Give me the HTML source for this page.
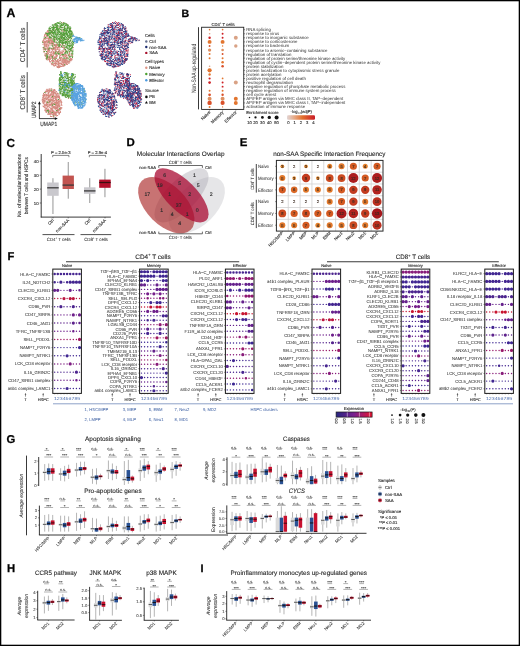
<!DOCTYPE html>
<html><head><meta charset="utf-8"><style>
html,body{margin:0;padding:0;background:#fff;width:520px;height:646px;overflow:hidden}
svg{display:block;will-change:transform;font-family:"Liberation Sans",sans-serif;text-rendering:geometricPrecision}
</style></head><body>
<svg width="520" height="646" viewBox="0 0 520 646">
<rect x="0" y="0" width="520" height="646" fill="#fff"/>
<text x="6.5" y="16.9" font-size="12.29" font-weight="bold" fill="#000" stroke="#000" stroke-width="0.25">A</text>
<path d="M55.3 60.5h1.05v1.05h-1.05zM51.1 60.0h1.05v1.05h-1.05zM46.5 48.5h1.05v1.05h-1.05zM51.3 48.7h1.05v1.05h-1.05zM68.6 54.3h1.05v1.05h-1.05zM48.8 48.1h1.05v1.05h-1.05zM58.9 62.9h1.05v1.05h-1.05zM55.1 57.1h1.05v1.05h-1.05zM45.5 44.0h1.05v1.05h-1.05zM53.9 52.8h1.05v1.05h-1.05zM54.1 62.7h1.05v1.05h-1.05zM42.9 42.0h1.05v1.05h-1.05zM59.8 63.3h1.05v1.05h-1.05zM50.0 40.3h1.05v1.05h-1.05zM52.9 63.3h1.05v1.05h-1.05zM46.3 31.4h1.05v1.05h-1.05zM48.4 43.8h1.05v1.05h-1.05zM53.3 47.8h1.05v1.05h-1.05zM58.6 50.3h1.05v1.05h-1.05zM71.5 59.1h1.05v1.05h-1.05zM54.1 39.5h1.05v1.05h-1.05zM43.7 51.1h1.05v1.05h-1.05zM43.7 37.8h1.05v1.05h-1.05zM56.8 43.7h1.05v1.05h-1.05zM69.8 27.9h1.05v1.05h-1.05zM59.0 27.2h1.05v1.05h-1.05zM71.1 54.1h1.05v1.05h-1.05zM49.4 38.0h1.05v1.05h-1.05zM46.0 57.8h1.05v1.05h-1.05zM59.2 58.2h1.05v1.05h-1.05zM51.9 30.9h1.05v1.05h-1.05zM70.7 59.5h1.05v1.05h-1.05zM48.2 45.4h1.05v1.05h-1.05zM49.3 53.9h1.05v1.05h-1.05zM47.9 31.1h1.05v1.05h-1.05zM47.1 30.0h1.05v1.05h-1.05zM62.5 64.1h1.05v1.05h-1.05zM63.5 59.2h1.05v1.05h-1.05zM67.0 43.4h1.05v1.05h-1.05zM46.4 58.7h1.05v1.05h-1.05zM52.0 59.2h1.05v1.05h-1.05zM52.6 46.9h1.05v1.05h-1.05zM59.0 65.7h1.05v1.05h-1.05zM55.6 62.7h1.05v1.05h-1.05zM49.1 34.4h1.05v1.05h-1.05zM48.7 48.7h1.05v1.05h-1.05zM49.3 40.5h1.05v1.05h-1.05zM52.7 42.4h1.05v1.05h-1.05zM61.0 64.3h1.05v1.05h-1.05zM55.1 65.0h1.05v1.05h-1.05zM58.1 46.1h1.05v1.05h-1.05zM55.8 29.0h1.05v1.05h-1.05zM46.2 43.2h1.05v1.05h-1.05zM51.7 45.4h1.05v1.05h-1.05zM60.0 58.4h1.05v1.05h-1.05zM43.8 47.5h1.05v1.05h-1.05zM60.2 57.2h1.05v1.05h-1.05zM62.1 44.8h1.05v1.05h-1.05zM56.3 46.1h1.05v1.05h-1.05zM57.2 66.1h1.05v1.05h-1.05zM65.2 63.0h1.05v1.05h-1.05zM60.1 66.2h1.05v1.05h-1.05zM44.4 41.7h1.05v1.05h-1.05zM54.3 43.9h1.05v1.05h-1.05zM45.8 41.1h1.05v1.05h-1.05zM47.0 35.6h1.05v1.05h-1.05zM62.5 45.1h1.05v1.05h-1.05zM55.2 64.7h1.05v1.05h-1.05zM60.5 54.3h1.05v1.05h-1.05zM62.8 59.3h1.05v1.05h-1.05zM59.9 65.4h1.05v1.05h-1.05zM46.8 43.3h1.05v1.05h-1.05zM69.5 41.2h1.05v1.05h-1.05zM57.8 60.9h1.05v1.05h-1.05zM54.2 44.8h1.05v1.05h-1.05zM52.3 60.8h1.05v1.05h-1.05zM71.3 52.9h1.05v1.05h-1.05zM50.6 42.5h1.05v1.05h-1.05zM45.7 41.8h1.05v1.05h-1.05zM51.1 37.5h1.05v1.05h-1.05zM57.1 44.6h1.05v1.05h-1.05zM47.2 44.7h1.05v1.05h-1.05zM43.2 39.6h1.05v1.05h-1.05zM67.0 52.2h1.05v1.05h-1.05zM65.8 63.1h1.05v1.05h-1.05zM54.0 36.0h1.05v1.05h-1.05zM66.4 59.8h1.05v1.05h-1.05zM45.0 45.7h1.05v1.05h-1.05zM58.2 60.9h1.05v1.05h-1.05zM69.0 60.5h1.05v1.05h-1.05zM61.0 63.7h1.05v1.05h-1.05zM64.6 54.0h1.05v1.05h-1.05zM44.8 37.7h1.05v1.05h-1.05zM60.1 50.8h1.05v1.05h-1.05zM62.5 53.4h1.05v1.05h-1.05zM58.1 46.2h1.05v1.05h-1.05zM66.3 30.1h1.05v1.05h-1.05zM57.2 53.5h1.05v1.05h-1.05zM64.2 53.9h1.05v1.05h-1.05zM64.3 34.3h1.05v1.05h-1.05zM56.2 33.2h1.05v1.05h-1.05zM47.6 48.5h1.05v1.05h-1.05zM45.1 45.7h1.05v1.05h-1.05zM71.9 54.5h1.05v1.05h-1.05zM51.4 61.2h1.05v1.05h-1.05zM53.0 41.0h1.05v1.05h-1.05zM62.7 64.8h1.05v1.05h-1.05zM50.7 56.2h1.05v1.05h-1.05zM63.6 34.7h1.05v1.05h-1.05zM60.1 39.3h1.05v1.05h-1.05zM57.9 30.8h1.05v1.05h-1.05zM48.6 32.7h1.05v1.05h-1.05zM60.5 63.5h1.05v1.05h-1.05zM54.9 45.7h1.05v1.05h-1.05zM58.1 50.9h1.05v1.05h-1.05zM49.8 32.2h1.05v1.05h-1.05zM54.1 65.4h1.05v1.05h-1.05zM58.8 53.4h1.05v1.05h-1.05zM56.5 47.0h1.05v1.05h-1.05zM58.9 48.6h1.05v1.05h-1.05zM50.9 42.6h1.05v1.05h-1.05zM64.0 65.3h1.05v1.05h-1.05zM52.2 40.6h1.05v1.05h-1.05zM48.0 57.3h1.05v1.05h-1.05zM48.0 40.4h1.05v1.05h-1.05zM45.3 39.3h1.05v1.05h-1.05zM53.5 36.3h1.05v1.05h-1.05zM52.8 60.3h1.05v1.05h-1.05zM69.6 41.2h1.05v1.05h-1.05zM53.4 65.1h1.05v1.05h-1.05zM46.9 37.8h1.05v1.05h-1.05zM54.8 59.8h1.05v1.05h-1.05zM66.9 64.0h1.05v1.05h-1.05zM52.2 33.3h1.05v1.05h-1.05zM49.4 55.1h1.05v1.05h-1.05zM48.4 43.3h1.05v1.05h-1.05zM55.5 44.2h1.05v1.05h-1.05zM68.9 56.2h1.05v1.05h-1.05zM69.6 57.9h1.05v1.05h-1.05zM47.1 56.9h1.05v1.05h-1.05zM43.5 44.4h1.05v1.05h-1.05zM48.4 40.4h1.05v1.05h-1.05zM62.3 53.0h1.05v1.05h-1.05zM66.9 61.5h1.05v1.05h-1.05zM60.4 38.3h1.05v1.05h-1.05zM60.8 36.0h1.05v1.05h-1.05zM69.1 52.0h1.05v1.05h-1.05zM57.1 60.1h1.05v1.05h-1.05zM49.4 58.1h1.05v1.05h-1.05zM61.5 50.4h1.05v1.05h-1.05zM47.8 38.1h1.05v1.05h-1.05zM49.2 49.4h1.05v1.05h-1.05zM51.2 30.0h1.05v1.05h-1.05zM54.2 47.0h1.05v1.05h-1.05zM45.9 54.1h1.05v1.05h-1.05zM55.3 60.2h1.05v1.05h-1.05zM54.6 63.3h1.05v1.05h-1.05zM63.1 64.6h1.05v1.05h-1.05zM43.2 50.5h1.05v1.05h-1.05zM53.4 44.7h1.05v1.05h-1.05zM45.3 33.9h1.05v1.05h-1.05zM58.8 65.3h1.05v1.05h-1.05zM43.9 44.0h1.05v1.05h-1.05zM54.6 61.5h1.05v1.05h-1.05zM69.9 29.0h1.05v1.05h-1.05zM47.9 39.6h1.05v1.05h-1.05zM66.1 64.0h1.05v1.05h-1.05zM61.6 47.0h1.05v1.05h-1.05zM55.1 48.5h1.05v1.05h-1.05zM44.6 41.1h1.05v1.05h-1.05zM43.3 41.7h1.05v1.05h-1.05zM66.4 58.1h1.05v1.05h-1.05zM66.4 59.9h1.05v1.05h-1.05zM57.7 66.9h1.05v1.05h-1.05zM58.1 65.1h1.05v1.05h-1.05zM47.5 32.9h1.05v1.05h-1.05zM64.5 63.9h1.05v1.05h-1.05zM46.1 58.5h1.05v1.05h-1.05zM44.1 46.0h1.05v1.05h-1.05zM60.9 63.2h1.05v1.05h-1.05zM62.7 39.3h1.05v1.05h-1.05zM53.0 57.5h1.05v1.05h-1.05zM61.1 52.5h1.05v1.05h-1.05zM58.5 63.9h1.05v1.05h-1.05zM61.2 30.0h1.05v1.05h-1.05zM43.4 51.3h1.05v1.05h-1.05zM71.4 58.3h1.05v1.05h-1.05zM47.2 49.8h1.05v1.05h-1.05zM58.3 51.4h1.05v1.05h-1.05zM51.1 34.7h1.05v1.05h-1.05zM68.2 55.1h1.05v1.05h-1.05zM66.7 42.2h1.05v1.05h-1.05zM65.0 61.4h1.05v1.05h-1.05zM59.9 41.4h1.05v1.05h-1.05zM49.6 51.5h1.05v1.05h-1.05zM49.4 31.6h1.05v1.05h-1.05zM62.7 53.9h1.05v1.05h-1.05zM56.9 61.1h1.05v1.05h-1.05zM65.1 62.0h1.05v1.05h-1.05zM55.7 55.5h1.05v1.05h-1.05zM47.6 50.5h1.05v1.05h-1.05zM64.9 51.1h1.05v1.05h-1.05zM65.1 56.1h1.05v1.05h-1.05zM53.1 60.1h1.05v1.05h-1.05zM70.5 59.8h1.05v1.05h-1.05zM62.8 60.4h1.05v1.05h-1.05zM51.5 40.8h1.05v1.05h-1.05zM50.2 55.1h1.05v1.05h-1.05zM53.2 35.7h1.05v1.05h-1.05zM52.5 54.5h1.05v1.05h-1.05zM69.5 28.3h1.05v1.05h-1.05zM57.7 59.0h1.05v1.05h-1.05zM46.6 44.2h1.05v1.05h-1.05zM52.5 60.8h1.05v1.05h-1.05zM65.2 44.4h1.05v1.05h-1.05zM44.0 51.2h1.05v1.05h-1.05zM65.1 58.6h1.05v1.05h-1.05zM53.7 63.3h1.05v1.05h-1.05zM48.4 42.6h1.05v1.05h-1.05zM59.1 57.0h1.05v1.05h-1.05zM67.1 51.7h1.05v1.05h-1.05zM63.8 56.4h1.05v1.05h-1.05zM46.1 41.5h1.05v1.05h-1.05zM44.5 42.6h1.05v1.05h-1.05zM65.3 61.3h1.05v1.05h-1.05zM43.7 38.8h1.05v1.05h-1.05zM47.1 51.3h1.05v1.05h-1.05zM65.0 44.5h1.05v1.05h-1.05zM62.8 42.7h1.05v1.05h-1.05zM45.1 49.6h1.05v1.05h-1.05zM54.6 56.3h1.05v1.05h-1.05zM60.7 56.7h1.05v1.05h-1.05zM66.0 63.1h1.05v1.05h-1.05zM67.9 54.3h1.05v1.05h-1.05zM51.3 50.8h1.05v1.05h-1.05zM43.5 40.6h1.05v1.05h-1.05zM68.2 54.9h1.05v1.05h-1.05zM55.2 42.3h1.05v1.05h-1.05zM46.6 52.1h1.05v1.05h-1.05zM45.8 58.3h1.05v1.05h-1.05zM59.5 55.1h1.05v1.05h-1.05zM47.6 53.5h1.05v1.05h-1.05zM54.1 57.4h1.05v1.05h-1.05zM49.9 39.6h1.05v1.05h-1.05zM55.1 54.2h1.05v1.05h-1.05zM48.1 56.3h1.05v1.05h-1.05zM47.9 59.3h1.05v1.05h-1.05zM56.9 47.5h1.05v1.05h-1.05zM52.7 51.3h1.05v1.05h-1.05zM69.5 60.0h1.05v1.05h-1.05zM55.3 29.1h1.05v1.05h-1.05zM50.9 43.5h1.05v1.05h-1.05zM48.4 58.0h1.05v1.05h-1.05zM61.9 58.3h1.05v1.05h-1.05zM64.1 63.8h1.05v1.05h-1.05zM68.4 61.1h1.05v1.05h-1.05zM47.1 53.9h1.05v1.05h-1.05zM55.8 63.3h1.05v1.05h-1.05zM59.4 62.3h1.05v1.05h-1.05zM56.8 47.6h1.05v1.05h-1.05zM64.0 61.2h1.05v1.05h-1.05zM53.5 40.5h1.05v1.05h-1.05zM62.9 51.2h1.05v1.05h-1.05zM58.4 43.7h1.05v1.05h-1.05zM53.2 43.3h1.05v1.05h-1.05zM58.9 57.8h1.05v1.05h-1.05zM47.6 41.3h1.05v1.05h-1.05zM55.2 47.1h1.05v1.05h-1.05zM63.6 58.8h1.05v1.05h-1.05zM50.8 48.7h1.05v1.05h-1.05zM62.9 58.4h1.05v1.05h-1.05zM63.7 58.7h1.05v1.05h-1.05zM62.2 50.7h1.05v1.05h-1.05zM63.6 38.1h1.05v1.05h-1.05zM69.6 58.5h1.05v1.05h-1.05zM50.9 40.7h1.05v1.05h-1.05zM51.5 41.1h1.05v1.05h-1.05zM63.1 65.8h1.05v1.05h-1.05zM61.3 65.9h1.05v1.05h-1.05zM54.8 25.0h1.05v1.05h-1.05zM65.7 61.9h1.05v1.05h-1.05zM62.6 54.8h1.05v1.05h-1.05zM56.6 65.7h1.05v1.05h-1.05zM51.2 55.7h1.05v1.05h-1.05zM53.2 48.2h1.05v1.05h-1.05zM55.8 53.2h1.05v1.05h-1.05zM53.1 51.6h1.05v1.05h-1.05zM62.7 40.5h1.05v1.05h-1.05zM53.9 58.5h1.05v1.05h-1.05zM65.3 60.5h1.05v1.05h-1.05zM52.0 49.7h1.05v1.05h-1.05zM61.6 35.1h1.05v1.05h-1.05zM55.4 63.5h1.05v1.05h-1.05zM53.6 53.6h1.05v1.05h-1.05zM61.7 63.9h1.05v1.05h-1.05zM55.2 48.7h1.05v1.05h-1.05zM70.6 59.5h1.05v1.05h-1.05zM64.6 64.8h1.05v1.05h-1.05zM59.9 59.1h1.05v1.05h-1.05zM47.2 56.8h1.05v1.05h-1.05zM61.8 53.2h1.05v1.05h-1.05zM60.9 63.9h1.05v1.05h-1.05zM57.2 48.9h1.05v1.05h-1.05zM46.5 54.4h1.05v1.05h-1.05zM54.5 45.3h1.05v1.05h-1.05zM60.4 32.8h1.05v1.05h-1.05zM60.1 62.7h1.05v1.05h-1.05zM56.5 66.4h1.05v1.05h-1.05zM49.2 37.2h1.05v1.05h-1.05zM68.3 54.8h1.05v1.05h-1.05zM61.3 57.1h1.05v1.05h-1.05zM43.8 35.9h1.05v1.05h-1.05zM45.0 41.9h1.05v1.05h-1.05zM70.3 50.8h1.05v1.05h-1.05zM69.6 43.4h1.05v1.05h-1.05zM62.6 27.0h1.05v1.05h-1.05zM65.7 47.1h1.05v1.05h-1.05zM49.6 40.2h1.05v1.05h-1.05zM45.6 33.3h1.05v1.05h-1.05zM46.0 44.1h1.05v1.05h-1.05zM51.5 64.3h1.05v1.05h-1.05zM69.1 36.7h1.05v1.05h-1.05zM46.7 41.3h1.05v1.05h-1.05zM62.0 54.7h1.05v1.05h-1.05zM66.4 40.0h1.05v1.05h-1.05zM53.4 49.1h1.05v1.05h-1.05zM56.0 45.3h1.05v1.05h-1.05zM44.3 55.0h1.05v1.05h-1.05zM51.6 54.8h1.05v1.05h-1.05zM53.7 56.8h1.05v1.05h-1.05zM49.0 60.0h1.05v1.05h-1.05zM71.3 55.1h1.05v1.05h-1.05zM57.8 44.5h1.05v1.05h-1.05zM61.3 62.2h1.05v1.05h-1.05zM45.3 48.1h1.05v1.05h-1.05zM69.3 61.5h1.05v1.05h-1.05zM49.0 40.7h1.05v1.05h-1.05zM55.6 44.7h1.05v1.05h-1.05zM63.1 33.0h1.05v1.05h-1.05zM59.5 65.3h1.05v1.05h-1.05zM58.7 41.3h1.05v1.05h-1.05zM51.0 51.7h1.05v1.05h-1.05zM44.3 49.1h1.05v1.05h-1.05zM49.7 42.9h1.05v1.05h-1.05zM59.2 27.3h1.05v1.05h-1.05zM50.6 39.9h1.05v1.05h-1.05zM60.5 51.9h1.05v1.05h-1.05zM56.6 46.9h1.05v1.05h-1.05zM48.0 45.1h1.05v1.05h-1.05zM53.8 48.7h1.05v1.05h-1.05zM60.0 44.1h1.05v1.05h-1.05zM50.6 57.8h1.05v1.05h-1.05zM55.8 56.0h1.05v1.05h-1.05zM45.6 36.5h1.05v1.05h-1.05zM52.7 53.1h1.05v1.05h-1.05zM62.2 61.6h1.05v1.05h-1.05zM66.6 56.4h1.05v1.05h-1.05zM67.6 48.7h1.05v1.05h-1.05zM57.9 67.2h1.05v1.05h-1.05zM60.6 40.5h1.05v1.05h-1.05zM68.2 62.8h1.05v1.05h-1.05zM56.3 42.4h1.05v1.05h-1.05zM54.1 47.2h1.05v1.05h-1.05zM68.3 61.6h1.05v1.05h-1.05zM58.0 41.8h1.05v1.05h-1.05zM46.6 34.9h1.05v1.05h-1.05zM45.2 48.2h1.05v1.05h-1.05zM55.4 64.6h1.05v1.05h-1.05zM60.3 44.4h1.05v1.05h-1.05zM52.9 49.1h1.05v1.05h-1.05zM43.6 38.3h1.05v1.05h-1.05zM54.4 47.5h1.05v1.05h-1.05zM60.7 63.1h1.05v1.05h-1.05zM55.8 50.6h1.05v1.05h-1.05zM59.1 60.0h1.05v1.05h-1.05zM46.1 35.6h1.05v1.05h-1.05zM45.6 34.2h1.05v1.05h-1.05zM58.4 44.7h1.05v1.05h-1.05zM62.7 49.6h1.05v1.05h-1.05zM62.9 22.1h1.05v1.05h-1.05zM54.8 58.6h1.05v1.05h-1.05zM51.0 53.8h1.05v1.05h-1.05zM57.9 47.1h1.05v1.05h-1.05zM49.6 51.7h1.05v1.05h-1.05zM58.8 60.3h1.05v1.05h-1.05zM62.1 59.5h1.05v1.05h-1.05zM67.7 35.8h1.05v1.05h-1.05zM55.8 50.4h1.05v1.05h-1.05zM51.3 64.0h1.05v1.05h-1.05zM57.8 66.5h1.05v1.05h-1.05zM48.7 39.1h1.05v1.05h-1.05zM51.1 62.9h1.05v1.05h-1.05zM57.4 58.8h1.05v1.05h-1.05zM48.8 28.5h1.05v1.05h-1.05zM54.5 23.2h1.05v1.05h-1.05zM52.6 32.0h1.05v1.05h-1.05zM45.6 54.6h1.05v1.05h-1.05zM56.0 61.0h1.05v1.05h-1.05zM52.7 55.4h1.05v1.05h-1.05zM72.4 48.8h1.05v1.05h-1.05zM61.9 30.4h1.05v1.05h-1.05zM58.5 46.6h1.05v1.05h-1.05zM49.7 57.8h1.05v1.05h-1.05zM53.9 52.2h1.05v1.05h-1.05zM60.4 35.2h1.05v1.05h-1.05zM51.6 52.5h1.05v1.05h-1.05zM43.9 47.5h1.05v1.05h-1.05zM53.0 44.5h1.05v1.05h-1.05zM44.5 55.1h1.05v1.05h-1.05zM50.2 39.8h1.05v1.05h-1.05zM44.8 33.5h1.05v1.05h-1.05zM54.9 52.3h1.05v1.05h-1.05zM66.4 54.9h1.05v1.05h-1.05zM50.9 38.7h1.05v1.05h-1.05zM70.0 58.0h1.05v1.05h-1.05zM66.9 60.6h1.05v1.05h-1.05zM66.6 60.7h1.05v1.05h-1.05zM55.4 45.1h1.05v1.05h-1.05zM65.3 59.5h1.05v1.05h-1.05zM48.6 31.8h1.05v1.05h-1.05zM58.6 41.8h1.05v1.05h-1.05zM50.8 63.3h1.05v1.05h-1.05zM45.1 47.6h1.05v1.05h-1.05zM52.0 60.0h1.05v1.05h-1.05zM59.7 57.3h1.05v1.05h-1.05zM46.1 52.7h1.05v1.05h-1.05zM67.6 60.7h1.05v1.05h-1.05zM44.1 34.2h1.05v1.05h-1.05zM47.1 54.4h1.05v1.05h-1.05zM53.1 28.2h1.05v1.05h-1.05zM43.9 44.0h1.05v1.05h-1.05zM62.6 65.8h1.05v1.05h-1.05zM46.7 51.3h1.05v1.05h-1.05zM69.9 56.4h1.05v1.05h-1.05zM53.3 47.0h1.05v1.05h-1.05zM53.3 60.7h1.05v1.05h-1.05zM60.4 50.8h1.05v1.05h-1.05zM69.5 54.6h1.05v1.05h-1.05zM45.7 34.7h1.05v1.05h-1.05zM50.2 52.4h1.05v1.05h-1.05zM52.2 41.5h1.05v1.05h-1.05zM64.0 60.5h1.05v1.05h-1.05zM50.6 41.7h1.05v1.05h-1.05zM51.7 42.6h1.05v1.05h-1.05zM64.4 49.8h1.05v1.05h-1.05zM50.7 48.0h1.05v1.05h-1.05zM52.4 63.4h1.05v1.05h-1.05zM53.4 48.5h1.05v1.05h-1.05zM55.0 46.0h1.05v1.05h-1.05zM57.6 47.1h1.05v1.05h-1.05zM48.2 48.1h1.05v1.05h-1.05zM44.1 45.1h1.05v1.05h-1.05zM55.8 62.3h1.05v1.05h-1.05zM59.8 55.0h1.05v1.05h-1.05zM67.9 26.7h1.05v1.05h-1.05zM48.5 38.2h1.05v1.05h-1.05zM46.0 56.5h1.05v1.05h-1.05zM52.3 57.4h1.05v1.05h-1.05zM64.5 60.5h1.05v1.05h-1.05zM44.4 38.3h1.05v1.05h-1.05zM59.8 59.3h1.05v1.05h-1.05zM47.0 41.9h1.05v1.05h-1.05zM46.7 47.2h1.05v1.05h-1.05zM50.4 53.7h1.05v1.05h-1.05zM64.8 59.6h1.05v1.05h-1.05zM58.1 62.8h1.05v1.05h-1.05zM71.4 49.9h1.05v1.05h-1.05zM61.2 22.1h1.05v1.05h-1.05zM46.1 37.7h1.05v1.05h-1.05zM56.8 48.3h1.05v1.05h-1.05zM49.8 44.5h1.05v1.05h-1.05zM49.4 47.9h1.05v1.05h-1.05zM59.0 66.9h1.05v1.05h-1.05zM60.2 57.8h1.05v1.05h-1.05zM71.4 57.9h1.05v1.05h-1.05zM62.8 51.1h1.05v1.05h-1.05zM68.6 62.8h1.05v1.05h-1.05zM50.9 57.4h1.05v1.05h-1.05zM62.9 37.2h1.05v1.05h-1.05zM52.6 26.6h1.05v1.05h-1.05zM50.9 35.1h1.05v1.05h-1.05zM52.9 57.9h1.05v1.05h-1.05zM55.4 62.5h1.05v1.05h-1.05zM42.4 43.7h1.05v1.05h-1.05zM54.4 29.8h1.05v1.05h-1.05zM61.7 62.3h1.05v1.05h-1.05zM46.8 46.3h1.05v1.05h-1.05zM51.8 56.7h1.05v1.05h-1.05zM52.0 44.2h1.05v1.05h-1.05zM62.1 55.5h1.05v1.05h-1.05zM59.4 48.8h1.05v1.05h-1.05zM60.0 52.2h1.05v1.05h-1.05zM61.7 36.2h1.05v1.05h-1.05zM65.6 57.4h1.05v1.05h-1.05zM58.8 66.1h1.05v1.05h-1.05zM57.1 52.1h1.05v1.05h-1.05zM67.9 37.8h1.05v1.05h-1.05zM62.9 36.9h1.05v1.05h-1.05zM51.7 64.3h1.05v1.05h-1.05zM54.5 62.3h1.05v1.05h-1.05zM54.8 65.0h1.05v1.05h-1.05zM48.1 32.3h1.05v1.05h-1.05zM49.4 41.3h1.05v1.05h-1.05zM47.8 47.9h1.05v1.05h-1.05zM67.1 60.3h1.05v1.05h-1.05zM57.5 63.7h1.05v1.05h-1.05zM60.9 63.3h1.05v1.05h-1.05zM53.0 58.2h1.05v1.05h-1.05zM45.4 56.1h1.05v1.05h-1.05zM65.8 63.2h1.05v1.05h-1.05zM48.4 58.8h1.05v1.05h-1.05zM51.4 63.1h1.05v1.05h-1.05zM44.3 43.9h1.05v1.05h-1.05zM44.9 41.0h1.05v1.05h-1.05zM46.4 53.6h1.05v1.05h-1.05zM45.3 56.2h1.05v1.05h-1.05zM52.7 44.3h1.05v1.05h-1.05zM71.8 55.8h1.05v1.05h-1.05zM54.7 47.3h1.05v1.05h-1.05zM59.6 46.9h1.05v1.05h-1.05zM71.5 55.2h1.05v1.05h-1.05zM61.9 65.4h1.05v1.05h-1.05zM49.2 49.9h1.05v1.05h-1.05zM70.4 58.4h1.05v1.05h-1.05zM63.3 46.9h1.05v1.05h-1.05zM48.4 50.8h1.05v1.05h-1.05zM58.9 50.0h1.05v1.05h-1.05zM62.6 46.6h1.05v1.05h-1.05zM48.0 50.0h1.05v1.05h-1.05zM57.0 55.4h1.05v1.05h-1.05zM58.9 45.8h1.05v1.05h-1.05zM56.6 51.4h1.05v1.05h-1.05zM53.7 60.8h1.05v1.05h-1.05zM45.5 32.3h1.05v1.05h-1.05zM57.2 59.1h1.05v1.05h-1.05zM67.3 27.3h1.05v1.05h-1.05zM47.2 48.0h1.05v1.05h-1.05zM62.9 62.1h1.05v1.05h-1.05zM47.3 40.7h1.05v1.05h-1.05zM68.5 50.3h1.05v1.05h-1.05zM54.7 51.8h1.05v1.05h-1.05zM53.9 48.4h1.05v1.05h-1.05zM53.4 52.6h1.05v1.05h-1.05zM67.2 38.6h1.05v1.05h-1.05zM57.0 63.6h1.05v1.05h-1.05zM55.8 44.1h1.05v1.05h-1.05zM58.4 60.4h1.05v1.05h-1.05zM64.1 56.3h1.05v1.05h-1.05zM67.7 57.7h1.05v1.05h-1.05zM55.0 48.6h1.05v1.05h-1.05zM52.0 45.4h1.05v1.05h-1.05zM51.3 32.5h1.05v1.05h-1.05zM71.2 59.3h1.05v1.05h-1.05zM70.8 32.6h1.05v1.05h-1.05zM59.3 38.3h1.05v1.05h-1.05zM56.7 44.0h1.05v1.05h-1.05zM49.8 59.0h1.05v1.05h-1.05zM50.5 54.8h1.05v1.05h-1.05zM56.4 65.8h1.05v1.05h-1.05zM56.0 63.0h1.05v1.05h-1.05zM42.1 41.3h1.05v1.05h-1.05zM61.5 28.8h1.05v1.05h-1.05zM54.9 52.3h1.05v1.05h-1.05zM53.7 51.4h1.05v1.05h-1.05zM48.0 46.7h1.05v1.05h-1.05zM43.4 42.8h1.05v1.05h-1.05zM57.5 62.3h1.05v1.05h-1.05zM52.0 42.0h1.05v1.05h-1.05zM48.9 56.4h1.05v1.05h-1.05zM46.4 58.6h1.05v1.05h-1.05zM59.9 58.6h1.05v1.05h-1.05zM43.5 51.7h1.05v1.05h-1.05zM44.8 48.3h1.05v1.05h-1.05zM52.7 38.4h1.05v1.05h-1.05zM51.9 61.3h1.05v1.05h-1.05zM57.9 46.3h1.05v1.05h-1.05zM44.2 42.9h1.05v1.05h-1.05zM45.9 46.2h1.05v1.05h-1.05zM47.1 39.8h1.05v1.05h-1.05zM58.1 63.6h1.05v1.05h-1.05zM57.6 58.8h1.05v1.05h-1.05zM60.5 53.8h1.05v1.05h-1.05zM48.3 56.8h1.05v1.05h-1.05zM61.4 58.4h1.05v1.05h-1.05zM48.8 49.4h1.05v1.05h-1.05zM48.8 56.0h1.05v1.05h-1.05zM47.1 30.8h1.05v1.05h-1.05zM67.1 51.2h1.05v1.05h-1.05zM47.2 50.6h1.05v1.05h-1.05zM70.4 58.5h1.05v1.05h-1.05zM70.0 59.3h1.05v1.05h-1.05zM69.7 58.4h1.05v1.05h-1.05zM71.3 34.6h1.05v1.05h-1.05zM49.1 61.1h1.05v1.05h-1.05zM57.7 64.5h1.05v1.05h-1.05zM64.7 54.8h1.05v1.05h-1.05zM54.1 58.4h1.05v1.05h-1.05zM68.6 53.5h1.05v1.05h-1.05zM63.5 61.0h1.05v1.05h-1.05zM52.2 49.1h1.05v1.05h-1.05zM70.1 58.9h1.05v1.05h-1.05zM52.7 61.4h1.05v1.05h-1.05zM65.2 41.7h1.05v1.05h-1.05zM63.8 59.5h1.05v1.05h-1.05zM44.3 53.5h1.05v1.05h-1.05zM46.6 33.3h1.05v1.05h-1.05zM62.0 63.8h1.05v1.05h-1.05zM56.4 59.7h1.05v1.05h-1.05zM49.0 37.3h1.05v1.05h-1.05zM43.6 47.1h1.05v1.05h-1.05zM71.0 45.2h1.05v1.05h-1.05zM53.6 65.5h1.05v1.05h-1.05zM53.0 52.4h1.05v1.05h-1.05zM64.6 47.3h1.05v1.05h-1.05zM56.1 56.8h1.05v1.05h-1.05zM54.1 56.6h1.05v1.05h-1.05zM69.0 53.1h1.05v1.05h-1.05zM65.5 53.9h1.05v1.05h-1.05zM60.7 60.5h1.05v1.05h-1.05zM45.0 45.3h1.05v1.05h-1.05zM50.7 38.8h1.05v1.05h-1.05zM46.7 35.2h1.05v1.05h-1.05zM51.6 41.5h1.05v1.05h-1.05zM54.2 38.9h1.05v1.05h-1.05zM56.2 61.0h1.05v1.05h-1.05zM62.9 58.2h1.05v1.05h-1.05zM60.1 52.9h1.05v1.05h-1.05zM53.1 65.0h1.05v1.05h-1.05zM69.8 47.8h1.05v1.05h-1.05zM49.6 31.9h1.05v1.05h-1.05zM42.5 46.9h1.05v1.05h-1.05zM54.9 59.6h1.05v1.05h-1.05zM44.0 35.0h1.05v1.05h-1.05zM67.9 39.3h1.05v1.05h-1.05zM44.8 36.6h1.05v1.05h-1.05zM42.4 40.2h1.05v1.05h-1.05zM58.1 61.7h1.05v1.05h-1.05zM64.0 48.3h1.05v1.05h-1.05zM54.5 48.1h1.05v1.05h-1.05zM49.9 61.4h1.05v1.05h-1.05zM68.4 61.1h1.05v1.05h-1.05zM45.4 52.9h1.05v1.05h-1.05zM66.7 60.2h1.05v1.05h-1.05zM63.4 63.1h1.05v1.05h-1.05zM44.7 54.5h1.05v1.05h-1.05zM65.3 50.0h1.05v1.05h-1.05zM61.7 60.4h1.05v1.05h-1.05zM45.0 33.5h1.05v1.05h-1.05zM60.0 59.6h1.05v1.05h-1.05zM51.9 47.9h1.05v1.05h-1.05zM47.8 58.9h1.05v1.05h-1.05zM62.7 55.5h1.05v1.05h-1.05zM58.4 48.8h1.05v1.05h-1.05zM57.2 26.6h1.05v1.05h-1.05zM56.3 53.5h1.05v1.05h-1.05zM47.1 54.5h1.05v1.05h-1.05zM60.2 54.4h1.05v1.05h-1.05zM66.0 55.3h1.05v1.05h-1.05zM52.8 64.1h1.05v1.05h-1.05zM45.5 58.1h1.05v1.05h-1.05zM57.1 60.3h1.05v1.05h-1.05zM60.3 44.9h1.05v1.05h-1.05zM47.5 32.3h1.05v1.05h-1.05zM69.2 61.2h1.05v1.05h-1.05zM47.7 48.7h1.05v1.05h-1.05zM69.9 58.5h1.05v1.05h-1.05zM62.5 63.4h1.05v1.05h-1.05zM57.4 51.3h1.05v1.05h-1.05zM47.4 31.9h1.05v1.05h-1.05zM43.7 49.0h1.05v1.05h-1.05zM56.4 48.7h1.05v1.05h-1.05zM62.9 54.6h1.05v1.05h-1.05zM64.2 55.0h1.05v1.05h-1.05zM48.6 51.8h1.05v1.05h-1.05zM48.2 39.2h1.05v1.05h-1.05zM68.4 60.4h1.05v1.05h-1.05zM62.8 56.3h1.05v1.05h-1.05zM47.9 52.9h1.05v1.05h-1.05zM46.7 59.5h1.05v1.05h-1.05zM45.9 45.1h1.05v1.05h-1.05zM60.0 60.2h1.05v1.05h-1.05zM58.1 50.4h1.05v1.05h-1.05zM61.4 59.2h1.05v1.05h-1.05zM69.9 59.8h1.05v1.05h-1.05zM56.5 26.0h1.05v1.05h-1.05zM66.3 61.6h1.05v1.05h-1.05zM64.9 49.3h1.05v1.05h-1.05zM54.7 49.9h1.05v1.05h-1.05zM63.3 64.9h1.05v1.05h-1.05zM66.4 59.0h1.05v1.05h-1.05zM64.5 61.6h1.05v1.05h-1.05zM55.5 63.0h1.05v1.05h-1.05zM55.9 54.6h1.05v1.05h-1.05zM49.1 34.7h1.05v1.05h-1.05zM52.5 35.9h1.05v1.05h-1.05zM43.4 41.7h1.05v1.05h-1.05zM49.0 40.2h1.05v1.05h-1.05zM51.8 57.8h1.05v1.05h-1.05zM51.3 50.7h1.05v1.05h-1.05zM53.2 46.3h1.05v1.05h-1.05zM59.1 51.8h1.05v1.05h-1.05zM59.4 66.0h1.05v1.05h-1.05zM54.7 64.8h1.05v1.05h-1.05zM46.3 41.5h1.05v1.05h-1.05zM64.7 53.8h1.05v1.05h-1.05zM66.9 56.9h1.05v1.05h-1.05zM47.5 32.7h1.05v1.05h-1.05zM61.3 52.1h1.05v1.05h-1.05zM44.1 44.2h1.05v1.05h-1.05zM49.8 57.7h1.05v1.05h-1.05zM50.9 40.0h1.05v1.05h-1.05zM70.8 59.3h1.05v1.05h-1.05zM63.5 47.9h1.05v1.05h-1.05zM53.1 55.4h1.05v1.05h-1.05zM49.1 37.9h1.05v1.05h-1.05zM48.9 59.0h1.05v1.05h-1.05zM50.3 38.7h1.05v1.05h-1.05zM47.0 30.7h1.05v1.05h-1.05zM53.8 37.9h1.05v1.05h-1.05zM63.1 43.1h1.05v1.05h-1.05zM63.9 61.0h1.05v1.05h-1.05zM56.6 54.9h1.05v1.05h-1.05zM53.0 43.0h1.05v1.05h-1.05zM66.3 23.6h1.05v1.05h-1.05zM47.4 52.5h1.05v1.05h-1.05zM63.5 45.2h1.05v1.05h-1.05zM48.4 44.5h1.05v1.05h-1.05zM61.8 51.9h1.05v1.05h-1.05zM48.2 49.3h1.05v1.05h-1.05zM61.0 66.0h1.05v1.05h-1.05zM48.4 43.4h1.05v1.05h-1.05zM58.4 66.5h1.05v1.05h-1.05zM62.4 30.6h1.05v1.05h-1.05zM51.6 39.9h1.05v1.05h-1.05zM52.4 52.8h1.05v1.05h-1.05zM49.3 42.3h1.05v1.05h-1.05zM60.2 54.9h1.05v1.05h-1.05zM58.8 48.5h1.05v1.05h-1.05zM61.1 42.2h1.05v1.05h-1.05zM54.7 63.5h1.05v1.05h-1.05zM63.8 62.2h1.05v1.05h-1.05zM55.1 45.9h1.05v1.05h-1.05zM70.6 59.5h1.05v1.05h-1.05zM48.5 37.9h1.05v1.05h-1.05zM58.9 53.2h1.05v1.05h-1.05zM62.5 43.1h1.05v1.05h-1.05zM64.2 59.2h1.05v1.05h-1.05zM64.4 54.7h1.05v1.05h-1.05zM48.4 41.1h1.05v1.05h-1.05zM54.6 40.6h1.05v1.05h-1.05zM42.8 48.5h1.05v1.05h-1.05zM52.8 54.5h1.05v1.05h-1.05zM67.6 60.9h1.05v1.05h-1.05zM63.1 51.1h1.05v1.05h-1.05zM47.1 57.5h1.05v1.05h-1.05zM50.8 32.5h1.05v1.05h-1.05zM46.2 54.1h1.05v1.05h-1.05zM49.5 54.8h1.05v1.05h-1.05zM51.5 40.5h1.05v1.05h-1.05zM62.5 54.1h1.05v1.05h-1.05zM49.5 58.8h1.05v1.05h-1.05zM43.4 48.7h1.05v1.05h-1.05zM46.9 54.7h1.05v1.05h-1.05zM68.9 58.8h1.05v1.05h-1.05zM63.9 47.7h1.05v1.05h-1.05zM49.3 40.8h1.05v1.05h-1.05zM59.2 55.5h1.05v1.05h-1.05zM63.0 53.9h1.05v1.05h-1.05zM62.1 64.2h1.05v1.05h-1.05zM67.8 60.5h1.05v1.05h-1.05zM51.4 55.3h1.05v1.05h-1.05zM44.3 44.8h1.05v1.05h-1.05zM58.8 37.8h1.05v1.05h-1.05zM64.1 30.9h1.05v1.05h-1.05zM51.5 43.4h1.05v1.05h-1.05zM53.4 41.9h1.05v1.05h-1.05zM56.4 51.2h1.05v1.05h-1.05zM44.6 42.8h1.05v1.05h-1.05zM43.1 39.3h1.05v1.05h-1.05zM45.9 46.1h1.05v1.05h-1.05zM46.3 57.5h1.05v1.05h-1.05zM49.3 56.3h1.05v1.05h-1.05zM57.0 66.9h1.05v1.05h-1.05zM56.7 55.1h1.05v1.05h-1.05zM49.2 43.0h1.05v1.05h-1.05zM55.1 60.3h1.05v1.05h-1.05zM61.8 64.1h1.05v1.05h-1.05zM70.5 60.1h1.05v1.05h-1.05zM49.6 37.9h1.05v1.05h-1.05zM54.8 51.2h1.05v1.05h-1.05zM66.2 57.0h1.05v1.05h-1.05zM64.4 52.0h1.05v1.05h-1.05zM68.2 62.6h1.05v1.05h-1.05zM47.7 36.7h1.05v1.05h-1.05zM56.6 39.7h1.05v1.05h-1.05zM51.2 51.0h1.05v1.05h-1.05zM72.2 43.1h1.05v1.05h-1.05zM51.2 62.8h1.05v1.05h-1.05zM61.1 60.6h1.05v1.05h-1.05zM55.0 63.1h1.05v1.05h-1.05zM55.6 55.2h1.05v1.05h-1.05zM58.9 60.2h1.05v1.05h-1.05zM48.0 56.5h1.05v1.05h-1.05zM55.6 38.6h1.05v1.05h-1.05zM47.3 34.8h1.05v1.05h-1.05zM46.7 46.8h1.05v1.05h-1.05zM58.0 52.8h1.05v1.05h-1.05zM72.8 47.0h1.05v1.05h-1.05zM67.3 62.6h1.05v1.05h-1.05zM58.1 64.0h1.05v1.05h-1.05zM58.4 65.7h1.05v1.05h-1.05zM62.7 59.4h1.05v1.05h-1.05zM55.3 49.5h1.05v1.05h-1.05zM55.1 45.1h1.05v1.05h-1.05zM65.8 56.7h1.05v1.05h-1.05zM61.7 64.3h1.05v1.05h-1.05zM47.3 48.7h1.05v1.05h-1.05zM65.9 56.7h1.05v1.05h-1.05zM65.6 54.8h1.05v1.05h-1.05zM49.8 61.1h1.05v1.05h-1.05zM68.7 53.2h1.05v1.05h-1.05zM45.1 42.5h1.05v1.05h-1.05zM52.1 57.6h1.05v1.05h-1.05zM48.8 29.7h1.05v1.05h-1.05zM45.8 40.1h1.05v1.05h-1.05zM46.6 43.5h1.05v1.05h-1.05zM57.5 66.3h1.05v1.05h-1.05zM55.3 37.2h1.05v1.05h-1.05zM52.8 50.9h1.05v1.05h-1.05zM60.0 52.5h1.05v1.05h-1.05zM45.2 37.9h1.05v1.05h-1.05zM46.5 88.8h1.05v1.05h-1.05zM52.2 96.8h1.05v1.05h-1.05zM47.6 113.9h1.05v1.05h-1.05zM47.8 99.8h1.05v1.05h-1.05zM49.2 91.3h1.05v1.05h-1.05zM55.2 107.9h1.05v1.05h-1.05zM50.3 99.4h1.05v1.05h-1.05zM50.5 113.5h1.05v1.05h-1.05zM48.6 110.2h1.05v1.05h-1.05zM55.5 102.4h1.05v1.05h-1.05zM50.9 92.5h1.05v1.05h-1.05zM44.0 107.3h1.05v1.05h-1.05zM56.0 94.5h1.05v1.05h-1.05zM54.8 90.5h1.05v1.05h-1.05zM54.1 91.7h1.05v1.05h-1.05zM51.7 96.4h1.05v1.05h-1.05zM52.7 90.4h1.05v1.05h-1.05zM51.1 106.3h1.05v1.05h-1.05zM43.1 96.2h1.05v1.05h-1.05zM55.6 104.0h1.05v1.05h-1.05zM54.2 111.7h1.05v1.05h-1.05zM53.1 93.3h1.05v1.05h-1.05zM50.2 113.4h1.05v1.05h-1.05zM53.0 110.9h1.05v1.05h-1.05zM48.4 100.8h1.05v1.05h-1.05zM56.7 94.8h1.05v1.05h-1.05zM59.0 103.2h1.05v1.05h-1.05zM50.1 113.4h1.05v1.05h-1.05zM55.8 103.6h1.05v1.05h-1.05zM54.4 90.0h1.05v1.05h-1.05zM43.7 95.7h1.05v1.05h-1.05zM58.3 95.3h1.05v1.05h-1.05zM56.8 93.5h1.05v1.05h-1.05zM52.7 106.2h1.05v1.05h-1.05zM56.1 101.3h1.05v1.05h-1.05zM58.1 101.0h1.05v1.05h-1.05zM56.0 99.1h1.05v1.05h-1.05zM45.2 93.2h1.05v1.05h-1.05zM51.7 102.5h1.05v1.05h-1.05zM57.1 114.9h1.05v1.05h-1.05zM48.2 92.9h1.05v1.05h-1.05zM55.1 99.4h1.05v1.05h-1.05zM52.1 91.1h1.05v1.05h-1.05zM61.1 101.6h1.05v1.05h-1.05zM44.6 109.8h1.05v1.05h-1.05zM48.1 112.8h1.05v1.05h-1.05zM54.6 101.9h1.05v1.05h-1.05zM48.7 105.1h1.05v1.05h-1.05zM45.0 100.4h1.05v1.05h-1.05zM52.7 105.8h1.05v1.05h-1.05zM54.4 90.1h1.05v1.05h-1.05zM57.9 95.6h1.05v1.05h-1.05zM59.8 112.0h1.05v1.05h-1.05zM55.6 112.9h1.05v1.05h-1.05zM50.0 108.2h1.05v1.05h-1.05zM42.3 99.6h1.05v1.05h-1.05zM51.7 90.9h1.05v1.05h-1.05zM48.9 90.9h1.05v1.05h-1.05zM44.2 105.1h1.05v1.05h-1.05zM44.4 101.7h1.05v1.05h-1.05zM52.4 100.5h1.05v1.05h-1.05zM51.6 113.6h1.05v1.05h-1.05zM57.7 104.8h1.05v1.05h-1.05zM52.4 93.2h1.05v1.05h-1.05zM58.0 96.1h1.05v1.05h-1.05zM56.7 93.5h1.05v1.05h-1.05zM53.2 107.4h1.05v1.05h-1.05zM48.5 101.8h1.05v1.05h-1.05zM55.9 91.1h1.05v1.05h-1.05zM52.7 110.2h1.05v1.05h-1.05zM51.3 94.3h1.05v1.05h-1.05zM46.9 101.2h1.05v1.05h-1.05zM48.5 112.0h1.05v1.05h-1.05zM47.6 89.6h1.05v1.05h-1.05zM56.0 111.8h1.05v1.05h-1.05zM49.0 96.3h1.05v1.05h-1.05zM51.8 100.5h1.05v1.05h-1.05zM50.1 111.4h1.05v1.05h-1.05zM59.1 101.7h1.05v1.05h-1.05zM44.1 99.4h1.05v1.05h-1.05zM60.5 99.5h1.05v1.05h-1.05zM55.2 104.5h1.05v1.05h-1.05zM50.6 105.0h1.05v1.05h-1.05zM45.6 104.4h1.05v1.05h-1.05zM54.4 106.9h1.05v1.05h-1.05zM59.4 101.5h1.05v1.05h-1.05zM43.0 95.9h1.05v1.05h-1.05zM44.7 107.2h1.05v1.05h-1.05zM55.1 107.7h1.05v1.05h-1.05zM47.5 105.7h1.05v1.05h-1.05zM47.7 90.2h1.05v1.05h-1.05zM55.4 95.5h1.05v1.05h-1.05zM58.2 96.1h1.05v1.05h-1.05zM52.6 112.7h1.05v1.05h-1.05zM48.5 91.9h1.05v1.05h-1.05zM49.1 102.5h1.05v1.05h-1.05zM49.5 90.0h1.05v1.05h-1.05zM52.0 95.9h1.05v1.05h-1.05zM50.0 93.5h1.05v1.05h-1.05zM54.9 113.5h1.05v1.05h-1.05zM49.0 110.9h1.05v1.05h-1.05zM46.4 89.6h1.05v1.05h-1.05zM50.1 111.2h1.05v1.05h-1.05zM46.4 91.0h1.05v1.05h-1.05zM51.9 100.0h1.05v1.05h-1.05zM45.5 104.5h1.05v1.05h-1.05zM47.0 105.3h1.05v1.05h-1.05zM46.9 109.6h1.05v1.05h-1.05zM42.9 101.6h1.05v1.05h-1.05zM51.9 90.5h1.05v1.05h-1.05zM58.9 99.8h1.05v1.05h-1.05zM45.8 94.0h1.05v1.05h-1.05zM53.7 114.5h1.05v1.05h-1.05zM56.0 105.4h1.05v1.05h-1.05zM56.6 95.2h1.05v1.05h-1.05zM51.4 92.2h1.05v1.05h-1.05zM50.1 95.3h1.05v1.05h-1.05zM53.5 95.9h1.05v1.05h-1.05zM46.3 107.2h1.05v1.05h-1.05zM51.4 93.6h1.05v1.05h-1.05zM42.6 102.8h1.05v1.05h-1.05zM51.6 109.7h1.05v1.05h-1.05zM48.6 99.6h1.05v1.05h-1.05zM54.1 92.7h1.05v1.05h-1.05zM58.6 104.4h1.05v1.05h-1.05zM44.0 94.6h1.05v1.05h-1.05zM54.2 92.4h1.05v1.05h-1.05zM50.6 109.5h1.05v1.05h-1.05zM42.4 101.7h1.05v1.05h-1.05zM54.9 108.7h1.05v1.05h-1.05zM49.8 98.4h1.05v1.05h-1.05zM56.0 110.4h1.05v1.05h-1.05zM55.0 99.3h1.05v1.05h-1.05zM53.1 103.0h1.05v1.05h-1.05zM57.1 109.6h1.05v1.05h-1.05zM58.1 101.7h1.05v1.05h-1.05zM47.2 98.2h1.05v1.05h-1.05zM58.4 113.8h1.05v1.05h-1.05zM59.4 108.1h1.05v1.05h-1.05zM53.1 93.0h1.05v1.05h-1.05zM47.7 89.4h1.05v1.05h-1.05zM47.6 114.0h1.05v1.05h-1.05zM47.0 94.8h1.05v1.05h-1.05zM50.0 98.5h1.05v1.05h-1.05zM53.4 102.6h1.05v1.05h-1.05zM45.7 95.5h1.05v1.05h-1.05zM58.6 109.0h1.05v1.05h-1.05zM52.6 112.8h1.05v1.05h-1.05zM43.6 103.8h1.05v1.05h-1.05zM46.1 99.2h1.05v1.05h-1.05zM44.4 109.4h1.05v1.05h-1.05zM53.2 111.7h1.05v1.05h-1.05zM54.4 105.8h1.05v1.05h-1.05zM53.0 96.8h1.05v1.05h-1.05zM42.3 97.0h1.05v1.05h-1.05zM54.9 107.9h1.05v1.05h-1.05zM50.2 101.2h1.05v1.05h-1.05zM57.5 96.5h1.05v1.05h-1.05zM58.6 94.2h1.05v1.05h-1.05zM55.7 115.5h1.05v1.05h-1.05zM51.3 97.0h1.05v1.05h-1.05zM50.2 112.2h1.05v1.05h-1.05zM54.5 91.7h1.05v1.05h-1.05zM49.5 114.0h1.05v1.05h-1.05zM57.9 105.3h1.05v1.05h-1.05zM45.5 96.1h1.05v1.05h-1.05zM51.3 99.0h1.05v1.05h-1.05zM54.8 102.7h1.05v1.05h-1.05zM47.4 106.0h1.05v1.05h-1.05zM49.7 113.6h1.05v1.05h-1.05zM59.2 105.3h1.05v1.05h-1.05zM48.8 94.6h1.05v1.05h-1.05zM52.5 98.4h1.05v1.05h-1.05zM51.3 99.3h1.05v1.05h-1.05zM58.4 105.7h1.05v1.05h-1.05zM42.7 105.8h1.05v1.05h-1.05zM60.2 107.9h1.05v1.05h-1.05zM45.7 105.0h1.05v1.05h-1.05zM48.7 95.8h1.05v1.05h-1.05zM57.5 106.3h1.05v1.05h-1.05zM47.6 103.9h1.05v1.05h-1.05zM61.4 104.7h1.05v1.05h-1.05zM61.0 104.7h1.05v1.05h-1.05zM50.6 104.2h1.05v1.05h-1.05zM54.3 101.8h1.05v1.05h-1.05zM54.6 103.6h1.05v1.05h-1.05zM54.9 112.4h1.05v1.05h-1.05zM45.5 98.6h1.05v1.05h-1.05zM45.2 109.3h1.05v1.05h-1.05zM52.2 106.0h1.05v1.05h-1.05zM47.5 105.4h1.05v1.05h-1.05zM51.9 98.7h1.05v1.05h-1.05zM48.0 112.5h1.05v1.05h-1.05zM44.0 104.4h1.05v1.05h-1.05zM49.1 104.1h1.05v1.05h-1.05zM47.6 91.1h1.05v1.05h-1.05zM43.1 96.0h1.05v1.05h-1.05zM56.1 105.2h1.05v1.05h-1.05zM51.7 90.7h1.05v1.05h-1.05zM58.9 113.1h1.05v1.05h-1.05zM57.6 111.5h1.05v1.05h-1.05zM54.6 113.5h1.05v1.05h-1.05zM47.2 108.6h1.05v1.05h-1.05zM55.7 114.0h1.05v1.05h-1.05zM53.0 95.1h1.05v1.05h-1.05zM45.8 103.9h1.05v1.05h-1.05zM56.0 108.2h1.05v1.05h-1.05zM57.6 96.1h1.05v1.05h-1.05zM42.3 95.3h1.05v1.05h-1.05zM57.7 101.4h1.05v1.05h-1.05zM42.4 97.5h1.05v1.05h-1.05zM55.3 114.8h1.05v1.05h-1.05zM45.6 112.0h1.05v1.05h-1.05zM56.4 111.9h1.05v1.05h-1.05zM52.2 109.1h1.05v1.05h-1.05zM42.9 98.7h1.05v1.05h-1.05zM46.7 95.3h1.05v1.05h-1.05zM57.0 93.1h1.05v1.05h-1.05zM47.5 95.3h1.05v1.05h-1.05zM59.9 107.1h1.05v1.05h-1.05zM51.1 98.5h1.05v1.05h-1.05zM50.3 104.7h1.05v1.05h-1.05zM45.9 89.4h1.05v1.05h-1.05zM51.5 111.4h1.05v1.05h-1.05zM43.6 100.3h1.05v1.05h-1.05zM48.8 113.7h1.05v1.05h-1.05zM55.2 96.2h1.05v1.05h-1.05zM51.8 95.5h1.05v1.05h-1.05zM50.3 101.4h1.05v1.05h-1.05zM61.2 107.1h1.05v1.05h-1.05zM60.1 99.6h1.05v1.05h-1.05zM48.6 113.3h1.05v1.05h-1.05zM44.9 110.8h1.05v1.05h-1.05zM50.8 99.6h1.05v1.05h-1.05zM48.6 99.7h1.05v1.05h-1.05zM48.4 89.5h1.05v1.05h-1.05zM53.4 100.8h1.05v1.05h-1.05zM48.1 99.8h1.05v1.05h-1.05zM53.6 103.9h1.05v1.05h-1.05zM49.8 94.3h1.05v1.05h-1.05zM53.0 92.8h1.05v1.05h-1.05zM57.9 100.6h1.05v1.05h-1.05zM52.4 103.6h1.05v1.05h-1.05zM55.4 108.7h1.05v1.05h-1.05zM58.9 96.0h1.05v1.05h-1.05zM55.0 93.4h1.05v1.05h-1.05zM54.4 95.2h1.05v1.05h-1.05zM50.3 93.7h1.05v1.05h-1.05zM58.8 101.0h1.05v1.05h-1.05zM56.5 97.5h1.05v1.05h-1.05zM58.6 105.7h1.05v1.05h-1.05zM55.0 99.0h1.05v1.05h-1.05zM52.9 92.3h1.05v1.05h-1.05zM52.2 107.1h1.05v1.05h-1.05zM42.3 97.0h1.05v1.05h-1.05zM60.0 111.8h1.05v1.05h-1.05zM56.5 96.0h1.05v1.05h-1.05zM45.3 109.2h1.05v1.05h-1.05zM48.0 111.1h1.05v1.05h-1.05zM53.2 112.9h1.05v1.05h-1.05zM52.5 98.8h1.05v1.05h-1.05zM57.7 96.4h1.05v1.05h-1.05zM52.7 110.9h1.05v1.05h-1.05zM57.7 93.2h1.05v1.05h-1.05zM46.0 108.0h1.05v1.05h-1.05zM57.6 107.0h1.05v1.05h-1.05zM50.2 110.2h1.05v1.05h-1.05zM55.4 92.8h1.05v1.05h-1.05zM52.3 105.7h1.05v1.05h-1.05zM56.8 92.5h1.05v1.05h-1.05zM47.1 97.3h1.05v1.05h-1.05zM42.2 97.5h1.05v1.05h-1.05zM56.8 105.1h1.05v1.05h-1.05zM45.8 103.0h1.05v1.05h-1.05zM57.2 109.0h1.05v1.05h-1.05zM52.9 94.4h1.05v1.05h-1.05zM47.4 92.5h1.05v1.05h-1.05zM49.9 115.6h1.05v1.05h-1.05zM48.4 89.9h1.05v1.05h-1.05zM44.1 94.3h1.05v1.05h-1.05zM53.3 100.7h1.05v1.05h-1.05zM47.0 103.4h1.05v1.05h-1.05zM57.8 109.9h1.05v1.05h-1.05zM58.2 104.5h1.05v1.05h-1.05zM50.9 96.9h1.05v1.05h-1.05zM54.0 89.3h1.05v1.05h-1.05zM45.5 103.7h1.05v1.05h-1.05zM59.2 97.6h1.05v1.05h-1.05zM51.5 108.0h1.05v1.05h-1.05zM44.4 106.7h1.05v1.05h-1.05zM44.3 109.5h1.05v1.05h-1.05zM52.1 91.8h1.05v1.05h-1.05zM54.3 114.4h1.05v1.05h-1.05zM57.6 101.5h1.05v1.05h-1.05zM57.8 110.7h1.05v1.05h-1.05zM53.8 89.3h1.05v1.05h-1.05zM58.0 109.9h1.05v1.05h-1.05zM47.3 108.6h1.05v1.05h-1.05zM49.4 110.8h1.05v1.05h-1.05zM48.8 112.5h1.05v1.05h-1.05zM50.8 112.8h1.05v1.05h-1.05zM46.9 104.0h1.05v1.05h-1.05zM55.6 100.0h1.05v1.05h-1.05zM53.7 112.9h1.05v1.05h-1.05zM44.8 90.8h1.05v1.05h-1.05zM60.6 107.9h1.05v1.05h-1.05zM53.4 90.3h1.05v1.05h-1.05zM59.3 110.1h1.05v1.05h-1.05zM51.3 102.2h1.05v1.05h-1.05zM43.3 102.9h1.05v1.05h-1.05zM60.2 99.9h1.05v1.05h-1.05zM46.1 93.9h1.05v1.05h-1.05zM50.6 107.4h1.05v1.05h-1.05zM53.1 115.4h1.05v1.05h-1.05zM51.8 102.9h1.05v1.05h-1.05zM47.2 90.1h1.05v1.05h-1.05zM61.2 102.0h1.05v1.05h-1.05zM60.2 109.0h1.05v1.05h-1.05zM56.8 111.0h1.05v1.05h-1.05zM46.9 110.1h1.05v1.05h-1.05zM44.7 104.3h1.05v1.05h-1.05zM53.7 111.6h1.05v1.05h-1.05zM43.9 97.4h1.05v1.05h-1.05zM59.0 112.6h1.05v1.05h-1.05zM56.6 110.6h1.05v1.05h-1.05zM54.9 111.7h1.05v1.05h-1.05zM61.2 107.4h1.05v1.05h-1.05zM55.1 105.4h1.05v1.05h-1.05zM51.4 111.0h1.05v1.05h-1.05zM53.2 90.3h1.05v1.05h-1.05zM49.8 99.9h1.05v1.05h-1.05zM49.9 104.5h1.05v1.05h-1.05zM48.3 98.9h1.05v1.05h-1.05zM49.8 98.3h1.05v1.05h-1.05zM49.1 100.8h1.05v1.05h-1.05zM53.6 98.1h1.05v1.05h-1.05zM45.5 94.4h1.05v1.05h-1.05zM56.1 112.3h1.05v1.05h-1.05zM50.8 98.8h1.05v1.05h-1.05zM42.6 105.6h1.05v1.05h-1.05zM50.6 90.8h1.05v1.05h-1.05zM55.3 101.6h1.05v1.05h-1.05zM54.2 89.3h1.05v1.05h-1.05zM53.5 99.9h1.05v1.05h-1.05zM45.3 97.3h1.05v1.05h-1.05zM53.2 96.7h1.05v1.05h-1.05zM50.1 112.8h1.05v1.05h-1.05zM44.2 109.8h1.05v1.05h-1.05zM53.9 89.7h1.05v1.05h-1.05zM49.4 106.6h1.05v1.05h-1.05zM54.7 97.3h1.05v1.05h-1.05zM52.9 91.6h1.05v1.05h-1.05zM47.0 106.4h1.05v1.05h-1.05zM60.7 103.0h1.05v1.05h-1.05zM45.9 105.3h1.05v1.05h-1.05zM46.3 111.8h1.05v1.05h-1.05zM43.6 94.6h1.05v1.05h-1.05zM50.1 116.0h1.05v1.05h-1.05zM43.8 92.3h1.05v1.05h-1.05zM43.0 93.1h1.05v1.05h-1.05zM47.6 99.0h1.05v1.05h-1.05zM57.5 99.3h1.05v1.05h-1.05zM50.9 99.1h1.05v1.05h-1.05zM52.1 108.5h1.05v1.05h-1.05zM48.8 95.0h1.05v1.05h-1.05zM48.3 109.1h1.05v1.05h-1.05zM50.6 103.4h1.05v1.05h-1.05zM44.8 91.8h1.05v1.05h-1.05zM47.7 108.5h1.05v1.05h-1.05zM56.3 100.3h1.05v1.05h-1.05zM52.7 96.8h1.05v1.05h-1.05zM45.7 95.6h1.05v1.05h-1.05zM46.4 97.4h1.05v1.05h-1.05zM58.2 112.0h1.05v1.05h-1.05zM56.1 115.2h1.05v1.05h-1.05zM45.9 103.4h1.05v1.05h-1.05zM58.9 105.3h1.05v1.05h-1.05zM49.9 94.0h1.05v1.05h-1.05zM55.0 97.8h1.05v1.05h-1.05zM54.8 108.5h1.05v1.05h-1.05zM46.5 95.0h1.05v1.05h-1.05zM48.0 92.2h1.05v1.05h-1.05zM45.7 91.4h1.05v1.05h-1.05zM54.5 107.7h1.05v1.05h-1.05zM51.7 91.9h1.05v1.05h-1.05zM44.0 94.0h1.05v1.05h-1.05zM51.8 101.7h1.05v1.05h-1.05zM52.7 110.0h1.05v1.05h-1.05zM60.6 101.5h1.05v1.05h-1.05zM43.3 105.9h1.05v1.05h-1.05zM55.8 112.2h1.05v1.05h-1.05zM49.4 91.1h1.05v1.05h-1.05zM55.2 96.5h1.05v1.05h-1.05zM49.3 90.2h1.05v1.05h-1.05zM48.9 104.2h1.05v1.05h-1.05zM52.7 99.3h1.05v1.05h-1.05zM57.6 103.7h1.05v1.05h-1.05zM58.1 104.9h1.05v1.05h-1.05zM42.7 94.4h1.05v1.05h-1.05zM47.4 99.4h1.05v1.05h-1.05zM52.4 89.3h1.05v1.05h-1.05zM56.2 112.3h1.05v1.05h-1.05zM47.3 90.8h1.05v1.05h-1.05zM57.5 108.9h1.05v1.05h-1.05zM48.5 97.3h1.05v1.05h-1.05zM50.6 112.8h1.05v1.05h-1.05zM47.8 96.6h1.05v1.05h-1.05zM51.8 110.6h1.05v1.05h-1.05zM55.9 99.3h1.05v1.05h-1.05zM59.8 111.1h1.05v1.05h-1.05zM52.8 98.0h1.05v1.05h-1.05zM58.4 96.1h1.05v1.05h-1.05zM58.6 103.5h1.05v1.05h-1.05zM52.7 103.8h1.05v1.05h-1.05zM49.4 104.4h1.05v1.05h-1.05zM55.5 107.1h1.05v1.05h-1.05zM58.6 108.9h1.05v1.05h-1.05zM52.2 111.4h1.05v1.05h-1.05zM43.6 103.4h1.05v1.05h-1.05zM49.2 101.8h1.05v1.05h-1.05zM58.0 108.5h1.05v1.05h-1.05zM47.0 110.2h1.05v1.05h-1.05zM51.2 112.3h1.05v1.05h-1.05zM55.7 100.9h1.05v1.05h-1.05zM52.9 112.6h1.05v1.05h-1.05zM56.4 102.2h1.05v1.05h-1.05zM47.8 109.6h1.05v1.05h-1.05zM58.9 98.3h1.05v1.05h-1.05zM47.4 94.6h1.05v1.05h-1.05zM50.3 88.6h1.05v1.05h-1.05zM52.8 100.7h1.05v1.05h-1.05zM47.1 105.9h1.05v1.05h-1.05zM42.8 97.4h1.05v1.05h-1.05zM42.9 99.9h1.05v1.05h-1.05zM55.5 104.5h1.05v1.05h-1.05zM53.7 95.9h1.05v1.05h-1.05zM56.9 108.7h1.05v1.05h-1.05zM56.4 101.5h1.05v1.05h-1.05zM50.7 95.4h1.05v1.05h-1.05zM54.2 92.1h1.05v1.05h-1.05zM51.2 91.8h1.05v1.05h-1.05zM46.2 110.3h1.05v1.05h-1.05zM48.0 105.7h1.05v1.05h-1.05zM47.6 96.1h1.05v1.05h-1.05zM53.6 113.2h1.05v1.05h-1.05zM52.9 97.9h1.05v1.05h-1.05zM53.3 116.8h1.05v1.05h-1.05zM48.4 105.2h1.05v1.05h-1.05zM45.4 109.4h1.05v1.05h-1.05zM56.0 97.5h1.05v1.05h-1.05zM50.6 112.2h1.05v1.05h-1.05zM52.2 95.1h1.05v1.05h-1.05zM56.8 108.1h1.05v1.05h-1.05zM59.4 99.5h1.05v1.05h-1.05zM52.9 114.0h1.05v1.05h-1.05zM53.2 90.8h1.05v1.05h-1.05zM44.3 99.6h1.05v1.05h-1.05zM53.6 100.2h1.05v1.05h-1.05zM57.3 105.8h1.05v1.05h-1.05zM49.9 93.8h1.05v1.05h-1.05zM45.1 100.5h1.05v1.05h-1.05zM47.3 101.7h1.05v1.05h-1.05zM43.7 99.3h1.05v1.05h-1.05zM56.1 96.7h1.05v1.05h-1.05zM55.4 98.2h1.05v1.05h-1.05zM43.0 106.2h1.05v1.05h-1.05zM57.4 101.6h1.05v1.05h-1.05zM50.9 108.6h1.05v1.05h-1.05zM54.0 100.0h1.05v1.05h-1.05zM44.3 101.3h1.05v1.05h-1.05zM52.6 115.6h1.05v1.05h-1.05zM47.6 93.4h1.05v1.05h-1.05zM54.5 110.4h1.05v1.05h-1.05zM45.7 108.8h1.05v1.05h-1.05zM55.0 114.6h1.05v1.05h-1.05zM44.7 97.4h1.05v1.05h-1.05zM47.0 101.7h1.05v1.05h-1.05zM57.1 106.8h1.05v1.05h-1.05zM54.5 92.7h1.05v1.05h-1.05zM59.7 99.6h1.05v1.05h-1.05zM46.0 111.7h1.05v1.05h-1.05zM46.9 106.1h1.05v1.05h-1.05zM52.1 99.9h1.05v1.05h-1.05zM56.9 109.1h1.05v1.05h-1.05zM54.5 96.3h1.05v1.05h-1.05zM47.8 97.5h1.05v1.05h-1.05zM58.6 112.0h1.05v1.05h-1.05zM51.9 93.7h1.05v1.05h-1.05zM57.7 112.5h1.05v1.05h-1.05zM57.3 93.5h1.05v1.05h-1.05zM47.5 97.3h1.05v1.05h-1.05zM50.0 90.2h1.05v1.05h-1.05zM56.1 103.2h1.05v1.05h-1.05zM57.6 97.1h1.05v1.05h-1.05zM49.5 110.6h1.05v1.05h-1.05zM56.2 115.3h1.05v1.05h-1.05zM57.0 104.9h1.05v1.05h-1.05zM49.4 104.7h1.05v1.05h-1.05zM47.2 90.1h1.05v1.05h-1.05zM56.8 106.3h1.05v1.05h-1.05zM44.7 109.8h1.05v1.05h-1.05zM59.0 106.4h1.05v1.05h-1.05zM45.2 104.6h1.05v1.05h-1.05zM49.1 94.9h1.05v1.05h-1.05zM44.0 94.7h1.05v1.05h-1.05zM47.0 103.8h1.05v1.05h-1.05zM51.1 116.0h1.05v1.05h-1.05zM53.3 107.0h1.05v1.05h-1.05zM53.5 111.9h1.05v1.05h-1.05zM45.1 107.7h1.05v1.05h-1.05zM46.0 98.6h1.05v1.05h-1.05zM46.0 94.0h1.05v1.05h-1.05zM47.5 99.7h1.05v1.05h-1.05zM48.3 96.7h1.05v1.05h-1.05zM57.0 102.3h1.05v1.05h-1.05zM60.7 101.1h1.05v1.05h-1.05zM51.5 104.5h1.05v1.05h-1.05zM42.7 96.5h1.05v1.05h-1.05zM54.2 108.2h1.05v1.05h-1.05zM54.5 106.5h1.05v1.05h-1.05zM48.7 88.3h1.05v1.05h-1.05zM44.0 97.4h1.05v1.05h-1.05zM58.8 113.5h1.05v1.05h-1.05zM46.0 104.9h1.05v1.05h-1.05zM55.5 93.7h1.05v1.05h-1.05zM48.8 89.3h1.05v1.05h-1.05zM43.1 95.2h1.05v1.05h-1.05zM54.7 107.0h1.05v1.05h-1.05zM52.1 114.2h1.05v1.05h-1.05zM57.3 92.9h1.05v1.05h-1.05zM52.3 91.6h1.05v1.05h-1.05zM45.6 90.8h1.05v1.05h-1.05zM60.4 107.7h1.05v1.05h-1.05zM53.0 105.8h1.05v1.05h-1.05zM45.5 105.4h1.05v1.05h-1.05zM52.2 97.2h1.05v1.05h-1.05zM49.7 103.8h1.05v1.05h-1.05zM57.7 103.8h1.05v1.05h-1.05zM56.5 107.1h1.05v1.05h-1.05zM57.5 93.1h1.05v1.05h-1.05zM53.1 100.5h1.05v1.05h-1.05zM45.1 109.4h1.05v1.05h-1.05zM51.3 100.1h1.05v1.05h-1.05zM56.3 109.9h1.05v1.05h-1.05zM58.4 94.7h1.05v1.05h-1.05zM55.4 102.4h1.05v1.05h-1.05zM50.8 103.6h1.05v1.05h-1.05zM47.1 89.5h1.05v1.05h-1.05zM51.1 88.3h1.05v1.05h-1.05zM43.9 100.7h1.05v1.05h-1.05zM48.0 102.5h1.05v1.05h-1.05zM52.2 98.8h1.05v1.05h-1.05zM46.5 97.6h1.05v1.05h-1.05zM47.3 110.5h1.05v1.05h-1.05zM51.3 112.3h1.05v1.05h-1.05zM44.7 98.2h1.05v1.05h-1.05zM49.2 98.7h1.05v1.05h-1.05zM54.8 105.6h1.05v1.05h-1.05zM59.0 97.0h1.05v1.05h-1.05zM52.3 105.2h1.05v1.05h-1.05zM48.6 107.2h1.05v1.05h-1.05zM48.5 95.1h1.05v1.05h-1.05zM46.2 102.1h1.05v1.05h-1.05zM41.7 99.7h1.05v1.05h-1.05zM58.0 109.5h1.05v1.05h-1.05zM58.7 101.6h1.05v1.05h-1.05zM60.5 101.8h1.05v1.05h-1.05zM45.9 91.0h1.05v1.05h-1.05zM53.2 114.5h1.05v1.05h-1.05zM43.5 101.8h1.05v1.05h-1.05zM56.6 102.8h1.05v1.05h-1.05zM54.0 114.4h1.05v1.05h-1.05zM43.8 93.9h1.05v1.05h-1.05zM43.2 102.9h1.05v1.05h-1.05zM53.4 101.2h1.05v1.05h-1.05zM50.8 90.6h1.05v1.05h-1.05zM56.5 103.7h1.05v1.05h-1.05zM47.1 113.5h1.05v1.05h-1.05zM48.9 100.8h1.05v1.05h-1.05zM45.9 110.5h1.05v1.05h-1.05zM60.4 100.9h1.05v1.05h-1.05zM42.4 101.1h1.05v1.05h-1.05zM51.9 111.9h1.05v1.05h-1.05zM44.3 95.2h1.05v1.05h-1.05zM54.1 89.1h1.05v1.05h-1.05zM57.3 100.0h1.05v1.05h-1.05zM41.8 98.8h1.05v1.05h-1.05zM51.9 103.8h1.05v1.05h-1.05zM50.3 96.8h1.05v1.05h-1.05zM59.1 108.8h1.05v1.05h-1.05zM57.5 101.6h1.05v1.05h-1.05zM43.0 106.1h1.05v1.05h-1.05zM54.4 114.3h1.05v1.05h-1.05zM60.6 104.6h1.05v1.05h-1.05zM54.0 106.3h1.05v1.05h-1.05zM57.7 103.1h1.05v1.05h-1.05zM58.3 104.0h1.05v1.05h-1.05zM53.4 93.9h1.05v1.05h-1.05zM53.0 114.2h1.05v1.05h-1.05zM48.5 100.3h1.05v1.05h-1.05zM54.7 92.0h1.05v1.05h-1.05zM53.4 96.6h1.05v1.05h-1.05zM50.9 109.5h1.05v1.05h-1.05zM47.2 105.8h1.05v1.05h-1.05zM58.9 101.4h1.05v1.05h-1.05zM54.5 95.5h1.05v1.05h-1.05zM45.9 102.8h1.05v1.05h-1.05zM52.2 93.4h1.05v1.05h-1.05zM57.6 102.5h1.05v1.05h-1.05zM48.2 94.4h1.05v1.05h-1.05zM55.6 97.1h1.05v1.05h-1.05zM50.2 108.5h1.05v1.05h-1.05zM43.7 98.0h1.05v1.05h-1.05zM58.1 108.5h1.05v1.05h-1.05zM53.5 89.4h1.05v1.05h-1.05zM45.0 94.5h1.05v1.05h-1.05zM53.2 116.5h1.05v1.05h-1.05zM52.8 116.3h1.05v1.05h-1.05zM50.8 103.1h1.05v1.05h-1.05zM46.5 101.3h1.05v1.05h-1.05zM44.5 106.6h1.05v1.05h-1.05zM51.7 101.7h1.05v1.05h-1.05zM56.1 105.7h1.05v1.05h-1.05zM55.0 102.5h1.05v1.05h-1.05zM59.2 105.9h1.05v1.05h-1.05zM60.8 104.0h1.05v1.05h-1.05zM54.8 112.6h1.05v1.05h-1.05zM42.0 101.3h1.05v1.05h-1.05zM58.6 97.3h1.05v1.05h-1.05zM53.2 92.0h1.05v1.05h-1.05zM47.6 90.9h1.05v1.05h-1.05zM67.9 98.0h1.05v1.05h-1.05zM64.6 82.2h1.05v1.05h-1.05zM73.2 78.0h1.05v1.05h-1.05zM67.7 77.7h1.05v1.05h-1.05zM71.6 78.0h1.05v1.05h-1.05zM65.4 87.8h1.05v1.05h-1.05zM68.1 77.5h1.05v1.05h-1.05zM60.0 92.2h1.05v1.05h-1.05zM62.2 83.5h1.05v1.05h-1.05zM61.3 83.7h1.05v1.05h-1.05zM62.9 89.2h1.05v1.05h-1.05zM70.3 78.3h1.05v1.05h-1.05zM71.2 88.3h1.05v1.05h-1.05zM66.0 95.2h1.05v1.05h-1.05zM60.6 73.5h1.05v1.05h-1.05zM60.8 82.0h1.05v1.05h-1.05zM72.4 82.4h1.05v1.05h-1.05zM72.2 80.8h1.05v1.05h-1.05zM67.7 81.0h1.05v1.05h-1.05zM71.8 92.3h1.05v1.05h-1.05zM71.9 75.7h1.05v1.05h-1.05zM62.8 76.8h1.05v1.05h-1.05zM62.4 80.6h1.05v1.05h-1.05zM70.7 73.7h1.05v1.05h-1.05zM60.1 83.8h1.05v1.05h-1.05zM65.9 73.9h1.05v1.05h-1.05zM67.6 76.9h1.05v1.05h-1.05zM71.9 97.1h1.05v1.05h-1.05zM62.1 84.1h1.05v1.05h-1.05zM64.5 94.5h1.05v1.05h-1.05zM68.1 88.1h1.05v1.05h-1.05zM59.0 87.5h1.05v1.05h-1.05z" fill="#d58a80"/>
<path d="M51.7 27.4h1.05v1.05h-1.05zM63.4 23.5h1.05v1.05h-1.05zM59.3 37.9h1.05v1.05h-1.05zM60.8 39.4h1.05v1.05h-1.05zM70.9 34.2h1.05v1.05h-1.05zM63.0 38.2h1.05v1.05h-1.05zM59.7 23.1h1.05v1.05h-1.05zM64.5 41.0h1.05v1.05h-1.05zM56.3 34.7h1.05v1.05h-1.05zM66.3 34.1h1.05v1.05h-1.05zM67.5 48.1h1.05v1.05h-1.05zM71.5 35.4h1.05v1.05h-1.05zM65.0 49.1h1.05v1.05h-1.05zM60.9 42.4h1.05v1.05h-1.05zM57.1 52.5h1.05v1.05h-1.05zM69.6 33.9h1.05v1.05h-1.05zM61.2 32.9h1.05v1.05h-1.05zM64.3 22.6h1.05v1.05h-1.05zM62.1 27.3h1.05v1.05h-1.05zM49.1 37.0h1.05v1.05h-1.05zM53.1 26.0h1.05v1.05h-1.05zM52.3 33.0h1.05v1.05h-1.05zM59.6 21.3h1.05v1.05h-1.05zM69.5 56.3h1.05v1.05h-1.05zM70.3 43.5h1.05v1.05h-1.05zM66.1 28.3h1.05v1.05h-1.05zM69.7 30.3h1.05v1.05h-1.05zM66.1 47.3h1.05v1.05h-1.05zM48.9 33.6h1.05v1.05h-1.05zM67.8 44.9h1.05v1.05h-1.05zM72.8 41.7h1.05v1.05h-1.05zM58.4 53.9h1.05v1.05h-1.05zM45.6 55.1h1.05v1.05h-1.05zM63.8 27.0h1.05v1.05h-1.05zM58.6 36.6h1.05v1.05h-1.05zM59.9 41.6h1.05v1.05h-1.05zM49.7 26.3h1.05v1.05h-1.05zM69.5 32.7h1.05v1.05h-1.05zM64.8 40.8h1.05v1.05h-1.05zM56.3 36.6h1.05v1.05h-1.05zM59.0 31.7h1.05v1.05h-1.05zM51.2 34.9h1.05v1.05h-1.05zM67.3 34.2h1.05v1.05h-1.05zM58.0 28.7h1.05v1.05h-1.05zM66.4 47.0h1.05v1.05h-1.05zM65.4 51.2h1.05v1.05h-1.05zM54.6 37.0h1.05v1.05h-1.05zM49.2 28.0h1.05v1.05h-1.05zM50.1 31.9h1.05v1.05h-1.05zM51.0 31.4h1.05v1.05h-1.05zM61.1 45.9h1.05v1.05h-1.05zM66.1 51.5h1.05v1.05h-1.05zM72.1 50.7h1.05v1.05h-1.05zM68.7 56.7h1.05v1.05h-1.05zM63.7 23.2h1.05v1.05h-1.05zM66.5 32.4h1.05v1.05h-1.05zM57.8 38.7h1.05v1.05h-1.05zM67.6 50.2h1.05v1.05h-1.05zM63.1 23.8h1.05v1.05h-1.05zM45.3 32.4h1.05v1.05h-1.05zM66.8 34.9h1.05v1.05h-1.05zM58.6 42.8h1.05v1.05h-1.05zM56.8 25.8h1.05v1.05h-1.05zM69.5 44.9h1.05v1.05h-1.05zM56.2 34.8h1.05v1.05h-1.05zM45.1 36.9h1.05v1.05h-1.05zM72.5 34.2h1.05v1.05h-1.05zM53.4 39.3h1.05v1.05h-1.05zM49.0 33.0h1.05v1.05h-1.05zM58.4 29.3h1.05v1.05h-1.05zM66.4 42.1h1.05v1.05h-1.05zM67.1 51.6h1.05v1.05h-1.05zM57.0 36.8h1.05v1.05h-1.05zM56.2 26.8h1.05v1.05h-1.05zM52.3 24.5h1.05v1.05h-1.05zM67.0 40.2h1.05v1.05h-1.05zM53.6 36.6h1.05v1.05h-1.05zM71.1 30.6h1.05v1.05h-1.05zM54.4 41.8h1.05v1.05h-1.05zM72.2 43.2h1.05v1.05h-1.05zM63.3 57.5h1.05v1.05h-1.05zM63.2 34.9h1.05v1.05h-1.05zM62.9 54.2h1.05v1.05h-1.05zM54.0 31.0h1.05v1.05h-1.05zM71.8 43.3h1.05v1.05h-1.05zM48.5 32.1h1.05v1.05h-1.05zM57.9 53.0h1.05v1.05h-1.05zM55.1 32.6h1.05v1.05h-1.05zM64.6 29.7h1.05v1.05h-1.05zM68.7 56.2h1.05v1.05h-1.05zM58.2 30.1h1.05v1.05h-1.05zM69.5 31.3h1.05v1.05h-1.05zM57.8 29.2h1.05v1.05h-1.05zM63.9 38.6h1.05v1.05h-1.05zM50.1 37.2h1.05v1.05h-1.05zM51.4 33.5h1.05v1.05h-1.05zM53.9 32.3h1.05v1.05h-1.05zM61.9 36.1h1.05v1.05h-1.05zM51.5 37.7h1.05v1.05h-1.05zM65.6 41.9h1.05v1.05h-1.05zM63.9 25.9h1.05v1.05h-1.05zM70.3 34.4h1.05v1.05h-1.05zM66.6 29.8h1.05v1.05h-1.05zM48.9 32.0h1.05v1.05h-1.05zM58.3 31.3h1.05v1.05h-1.05zM71.2 42.0h1.05v1.05h-1.05zM63.5 30.0h1.05v1.05h-1.05zM64.4 29.1h1.05v1.05h-1.05zM68.6 46.9h1.05v1.05h-1.05zM63.0 24.5h1.05v1.05h-1.05zM54.8 33.9h1.05v1.05h-1.05zM51.2 47.8h1.05v1.05h-1.05zM52.9 40.4h1.05v1.05h-1.05zM53.1 29.7h1.05v1.05h-1.05zM66.2 30.0h1.05v1.05h-1.05zM56.6 28.0h1.05v1.05h-1.05zM57.4 22.6h1.05v1.05h-1.05zM72.6 50.4h1.05v1.05h-1.05zM69.7 27.9h1.05v1.05h-1.05zM68.3 30.9h1.05v1.05h-1.05zM58.6 38.8h1.05v1.05h-1.05zM62.6 35.0h1.05v1.05h-1.05zM55.3 52.3h1.05v1.05h-1.05zM56.1 41.5h1.05v1.05h-1.05zM57.6 31.5h1.05v1.05h-1.05zM67.5 58.2h1.05v1.05h-1.05zM56.5 28.8h1.05v1.05h-1.05zM57.0 25.2h1.05v1.05h-1.05zM58.4 22.0h1.05v1.05h-1.05zM62.9 24.0h1.05v1.05h-1.05zM58.4 22.7h1.05v1.05h-1.05zM58.1 38.5h1.05v1.05h-1.05zM67.2 27.8h1.05v1.05h-1.05zM72.3 33.5h1.05v1.05h-1.05zM69.4 27.0h1.05v1.05h-1.05zM58.2 35.6h1.05v1.05h-1.05zM62.9 37.6h1.05v1.05h-1.05zM71.4 47.2h1.05v1.05h-1.05zM68.7 33.0h1.05v1.05h-1.05zM55.9 28.7h1.05v1.05h-1.05zM69.5 32.4h1.05v1.05h-1.05zM62.2 41.2h1.05v1.05h-1.05zM43.8 37.5h1.05v1.05h-1.05zM48.1 48.6h1.05v1.05h-1.05zM62.5 43.3h1.05v1.05h-1.05zM48.8 27.3h1.05v1.05h-1.05zM54.5 32.9h1.05v1.05h-1.05zM60.2 37.2h1.05v1.05h-1.05zM63.2 41.7h1.05v1.05h-1.05zM54.6 31.6h1.05v1.05h-1.05zM69.3 28.6h1.05v1.05h-1.05zM66.8 42.8h1.05v1.05h-1.05zM52.1 56.7h1.05v1.05h-1.05zM65.6 33.0h1.05v1.05h-1.05zM68.4 45.6h1.05v1.05h-1.05zM66.9 36.0h1.05v1.05h-1.05zM71.7 36.1h1.05v1.05h-1.05zM60.5 35.1h1.05v1.05h-1.05zM52.4 27.0h1.05v1.05h-1.05zM62.7 34.1h1.05v1.05h-1.05zM67.3 30.0h1.05v1.05h-1.05zM70.6 50.3h1.05v1.05h-1.05zM55.7 57.9h1.05v1.05h-1.05zM59.4 30.6h1.05v1.05h-1.05zM50.2 30.5h1.05v1.05h-1.05zM62.6 37.4h1.05v1.05h-1.05zM54.4 39.3h1.05v1.05h-1.05zM47.4 32.9h1.05v1.05h-1.05zM72.4 44.6h1.05v1.05h-1.05zM52.5 36.0h1.05v1.05h-1.05zM67.8 48.4h1.05v1.05h-1.05zM71.9 31.7h1.05v1.05h-1.05zM46.9 34.8h1.05v1.05h-1.05zM48.9 36.0h1.05v1.05h-1.05zM58.8 27.9h1.05v1.05h-1.05zM51.8 29.3h1.05v1.05h-1.05zM66.4 41.3h1.05v1.05h-1.05zM54.4 58.8h1.05v1.05h-1.05zM72.7 41.1h1.05v1.05h-1.05zM55.2 31.2h1.05v1.05h-1.05zM70.7 53.3h1.05v1.05h-1.05zM63.1 42.2h1.05v1.05h-1.05zM62.7 32.3h1.05v1.05h-1.05zM62.4 40.1h1.05v1.05h-1.05zM68.0 39.0h1.05v1.05h-1.05zM43.6 48.2h1.05v1.05h-1.05zM58.4 51.3h1.05v1.05h-1.05zM69.8 45.6h1.05v1.05h-1.05zM52.7 33.0h1.05v1.05h-1.05zM54.1 30.4h1.05v1.05h-1.05zM69.1 51.1h1.05v1.05h-1.05zM56.9 34.4h1.05v1.05h-1.05zM59.7 26.1h1.05v1.05h-1.05zM70.0 37.4h1.05v1.05h-1.05zM70.6 33.1h1.05v1.05h-1.05zM53.5 32.4h1.05v1.05h-1.05zM50.1 32.0h1.05v1.05h-1.05zM55.4 51.2h1.05v1.05h-1.05zM63.7 37.8h1.05v1.05h-1.05zM63.6 32.3h1.05v1.05h-1.05zM52.5 27.5h1.05v1.05h-1.05zM59.1 56.4h1.05v1.05h-1.05zM60.0 33.0h1.05v1.05h-1.05zM57.8 22.9h1.05v1.05h-1.05zM56.8 27.1h1.05v1.05h-1.05zM57.7 44.4h1.05v1.05h-1.05zM65.9 50.6h1.05v1.05h-1.05zM52.2 62.2h1.05v1.05h-1.05zM69.8 34.4h1.05v1.05h-1.05zM69.8 39.8h1.05v1.05h-1.05zM58.1 33.3h1.05v1.05h-1.05zM51.9 35.5h1.05v1.05h-1.05zM71.9 46.7h1.05v1.05h-1.05zM65.1 49.2h1.05v1.05h-1.05zM64.5 30.4h1.05v1.05h-1.05zM64.0 42.4h1.05v1.05h-1.05zM67.5 25.0h1.05v1.05h-1.05zM60.2 32.6h1.05v1.05h-1.05zM69.2 48.2h1.05v1.05h-1.05zM73.1 41.9h1.05v1.05h-1.05zM63.2 30.4h1.05v1.05h-1.05zM65.9 31.9h1.05v1.05h-1.05zM66.4 29.2h1.05v1.05h-1.05zM66.3 24.1h1.05v1.05h-1.05zM57.5 22.9h1.05v1.05h-1.05zM60.4 34.3h1.05v1.05h-1.05zM69.1 33.9h1.05v1.05h-1.05zM60.6 33.4h1.05v1.05h-1.05zM52.5 24.2h1.05v1.05h-1.05zM56.8 30.1h1.05v1.05h-1.05zM49.2 56.8h1.05v1.05h-1.05zM68.5 42.5h1.05v1.05h-1.05zM67.8 31.4h1.05v1.05h-1.05zM71.9 45.6h1.05v1.05h-1.05zM53.1 47.7h1.05v1.05h-1.05zM43.8 51.0h1.05v1.05h-1.05zM68.3 27.7h1.05v1.05h-1.05zM61.5 36.9h1.05v1.05h-1.05zM71.2 43.8h1.05v1.05h-1.05zM68.1 40.9h1.05v1.05h-1.05zM61.5 39.5h1.05v1.05h-1.05zM49.3 47.7h1.05v1.05h-1.05zM64.1 39.3h1.05v1.05h-1.05zM56.1 27.8h1.05v1.05h-1.05zM64.4 34.6h1.05v1.05h-1.05zM57.3 28.3h1.05v1.05h-1.05zM65.8 29.6h1.05v1.05h-1.05zM56.3 36.6h1.05v1.05h-1.05zM70.2 36.4h1.05v1.05h-1.05zM64.1 30.3h1.05v1.05h-1.05zM57.2 34.0h1.05v1.05h-1.05zM49.3 29.9h1.05v1.05h-1.05zM66.2 34.4h1.05v1.05h-1.05zM70.0 45.8h1.05v1.05h-1.05zM60.6 26.8h1.05v1.05h-1.05zM46.5 57.8h1.05v1.05h-1.05zM65.6 29.6h1.05v1.05h-1.05zM61.9 44.3h1.05v1.05h-1.05zM49.9 30.1h1.05v1.05h-1.05zM69.2 48.6h1.05v1.05h-1.05zM69.2 36.4h1.05v1.05h-1.05zM72.8 43.4h1.05v1.05h-1.05zM71.4 33.0h1.05v1.05h-1.05zM53.2 28.0h1.05v1.05h-1.05zM58.5 46.0h1.05v1.05h-1.05zM65.2 29.6h1.05v1.05h-1.05zM60.8 45.6h1.05v1.05h-1.05zM65.3 25.0h1.05v1.05h-1.05zM54.6 26.7h1.05v1.05h-1.05zM66.9 28.1h1.05v1.05h-1.05zM54.0 40.6h1.05v1.05h-1.05zM70.2 45.8h1.05v1.05h-1.05zM68.0 36.6h1.05v1.05h-1.05zM48.7 36.4h1.05v1.05h-1.05zM62.8 37.9h1.05v1.05h-1.05zM59.1 23.4h1.05v1.05h-1.05zM64.4 33.4h1.05v1.05h-1.05zM62.4 32.3h1.05v1.05h-1.05zM50.4 31.9h1.05v1.05h-1.05zM43.2 46.8h1.05v1.05h-1.05zM70.2 49.9h1.05v1.05h-1.05zM47.2 54.8h1.05v1.05h-1.05zM62.1 43.0h1.05v1.05h-1.05zM51.2 31.9h1.05v1.05h-1.05zM71.0 31.7h1.05v1.05h-1.05zM71.4 41.6h1.05v1.05h-1.05zM69.6 45.4h1.05v1.05h-1.05zM67.3 43.3h1.05v1.05h-1.05zM68.3 54.7h1.05v1.05h-1.05zM61.9 38.6h1.05v1.05h-1.05zM66.0 34.4h1.05v1.05h-1.05zM53.8 35.8h1.05v1.05h-1.05zM60.9 24.3h1.05v1.05h-1.05zM58.6 45.3h1.05v1.05h-1.05zM64.7 39.1h1.05v1.05h-1.05zM64.4 45.7h1.05v1.05h-1.05zM58.5 25.4h1.05v1.05h-1.05zM72.2 53.8h1.05v1.05h-1.05zM72.0 40.6h1.05v1.05h-1.05zM70.3 48.7h1.05v1.05h-1.05zM64.1 29.6h1.05v1.05h-1.05zM60.7 40.1h1.05v1.05h-1.05zM67.3 25.2h1.05v1.05h-1.05zM65.8 37.3h1.05v1.05h-1.05zM46.1 33.1h1.05v1.05h-1.05zM61.0 37.1h1.05v1.05h-1.05zM56.2 38.9h1.05v1.05h-1.05zM69.4 34.9h1.05v1.05h-1.05zM65.9 30.8h1.05v1.05h-1.05zM52.9 29.1h1.05v1.05h-1.05zM60.2 25.6h1.05v1.05h-1.05zM59.2 38.9h1.05v1.05h-1.05zM46.9 33.9h1.05v1.05h-1.05zM63.9 36.7h1.05v1.05h-1.05zM69.0 27.8h1.05v1.05h-1.05zM58.2 31.1h1.05v1.05h-1.05zM56.3 26.4h1.05v1.05h-1.05zM65.4 32.8h1.05v1.05h-1.05zM53.2 32.1h1.05v1.05h-1.05zM54.0 24.2h1.05v1.05h-1.05zM51.2 31.1h1.05v1.05h-1.05zM63.9 37.2h1.05v1.05h-1.05zM65.2 32.2h1.05v1.05h-1.05zM70.5 37.3h1.05v1.05h-1.05zM62.6 28.9h1.05v1.05h-1.05zM63.0 28.8h1.05v1.05h-1.05zM70.2 47.9h1.05v1.05h-1.05zM65.8 32.5h1.05v1.05h-1.05zM55.7 53.5h1.05v1.05h-1.05zM70.7 49.8h1.05v1.05h-1.05zM67.0 24.2h1.05v1.05h-1.05zM65.0 39.3h1.05v1.05h-1.05zM62.6 42.2h1.05v1.05h-1.05zM49.4 46.8h1.05v1.05h-1.05zM59.6 32.2h1.05v1.05h-1.05zM54.8 29.9h1.05v1.05h-1.05zM51.2 26.7h1.05v1.05h-1.05zM65.5 52.8h1.05v1.05h-1.05zM61.6 42.6h1.05v1.05h-1.05zM53.0 30.1h1.05v1.05h-1.05zM56.1 25.5h1.05v1.05h-1.05zM51.7 43.0h1.05v1.05h-1.05zM55.6 29.3h1.05v1.05h-1.05zM63.5 32.3h1.05v1.05h-1.05zM70.2 34.5h1.05v1.05h-1.05zM46.1 58.4h1.05v1.05h-1.05zM51.8 29.0h1.05v1.05h-1.05zM69.7 35.7h1.05v1.05h-1.05zM57.8 44.5h1.05v1.05h-1.05zM60.9 23.9h1.05v1.05h-1.05zM64.8 28.0h1.05v1.05h-1.05zM55.8 29.3h1.05v1.05h-1.05zM68.3 40.8h1.05v1.05h-1.05zM58.5 40.6h1.05v1.05h-1.05zM60.3 37.1h1.05v1.05h-1.05zM63.3 34.7h1.05v1.05h-1.05zM64.4 41.9h1.05v1.05h-1.05zM60.3 39.4h1.05v1.05h-1.05zM72.0 46.9h1.05v1.05h-1.05zM59.1 32.3h1.05v1.05h-1.05zM61.2 23.9h1.05v1.05h-1.05zM54.7 23.6h1.05v1.05h-1.05zM67.2 25.6h1.05v1.05h-1.05zM54.1 28.4h1.05v1.05h-1.05zM47.7 34.7h1.05v1.05h-1.05zM65.5 40.9h1.05v1.05h-1.05zM72.0 50.4h1.05v1.05h-1.05zM71.4 47.6h1.05v1.05h-1.05zM61.7 24.9h1.05v1.05h-1.05zM64.3 32.5h1.05v1.05h-1.05zM70.2 48.5h1.05v1.05h-1.05zM53.7 27.1h1.05v1.05h-1.05zM71.5 46.4h1.05v1.05h-1.05zM52.3 27.4h1.05v1.05h-1.05zM64.5 39.2h1.05v1.05h-1.05zM57.1 27.8h1.05v1.05h-1.05zM70.4 39.3h1.05v1.05h-1.05zM54.0 37.3h1.05v1.05h-1.05zM64.2 33.4h1.05v1.05h-1.05zM53.1 33.8h1.05v1.05h-1.05zM66.6 44.9h1.05v1.05h-1.05zM59.8 39.9h1.05v1.05h-1.05zM57.3 38.0h1.05v1.05h-1.05zM48.8 31.5h1.05v1.05h-1.05zM56.3 41.8h1.05v1.05h-1.05zM60.5 34.8h1.05v1.05h-1.05zM66.2 47.0h1.05v1.05h-1.05zM72.4 33.5h1.05v1.05h-1.05zM45.9 33.1h1.05v1.05h-1.05zM65.4 30.7h1.05v1.05h-1.05zM63.3 29.6h1.05v1.05h-1.05zM61.6 23.9h1.05v1.05h-1.05zM52.3 26.7h1.05v1.05h-1.05zM71.5 51.4h1.05v1.05h-1.05zM63.4 39.9h1.05v1.05h-1.05zM64.4 36.6h1.05v1.05h-1.05zM61.5 32.6h1.05v1.05h-1.05zM51.8 24.6h1.05v1.05h-1.05zM67.6 24.4h1.05v1.05h-1.05zM69.3 40.7h1.05v1.05h-1.05zM66.7 32.6h1.05v1.05h-1.05zM67.9 35.2h1.05v1.05h-1.05zM56.3 33.6h1.05v1.05h-1.05zM67.2 24.4h1.05v1.05h-1.05zM60.0 28.9h1.05v1.05h-1.05zM68.0 31.9h1.05v1.05h-1.05zM68.8 42.5h1.05v1.05h-1.05zM48.3 30.0h1.05v1.05h-1.05zM67.3 51.5h1.05v1.05h-1.05zM71.3 33.1h1.05v1.05h-1.05zM50.2 36.2h1.05v1.05h-1.05zM45.8 53.5h1.05v1.05h-1.05zM61.5 42.2h1.05v1.05h-1.05zM64.6 24.4h1.05v1.05h-1.05zM58.2 31.3h1.05v1.05h-1.05zM55.5 25.1h1.05v1.05h-1.05zM58.0 25.5h1.05v1.05h-1.05zM49.8 28.7h1.05v1.05h-1.05zM64.8 52.0h1.05v1.05h-1.05zM54.4 35.6h1.05v1.05h-1.05zM53.9 38.9h1.05v1.05h-1.05zM54.8 27.0h1.05v1.05h-1.05zM53.6 31.8h1.05v1.05h-1.05zM65.0 35.9h1.05v1.05h-1.05zM70.7 45.0h1.05v1.05h-1.05zM66.8 38.6h1.05v1.05h-1.05zM65.6 39.3h1.05v1.05h-1.05zM64.4 35.8h1.05v1.05h-1.05zM58.8 43.4h1.05v1.05h-1.05zM69.3 31.7h1.05v1.05h-1.05zM69.4 26.0h1.05v1.05h-1.05zM43.7 37.5h1.05v1.05h-1.05zM68.9 45.5h1.05v1.05h-1.05zM56.3 24.3h1.05v1.05h-1.05zM65.0 42.0h1.05v1.05h-1.05zM64.5 38.0h1.05v1.05h-1.05zM58.7 31.6h1.05v1.05h-1.05zM53.3 36.7h1.05v1.05h-1.05zM65.9 33.5h1.05v1.05h-1.05zM51.7 31.8h1.05v1.05h-1.05zM55.9 38.0h1.05v1.05h-1.05zM65.7 34.5h1.05v1.05h-1.05zM69.2 37.3h1.05v1.05h-1.05zM58.9 44.3h1.05v1.05h-1.05zM56.7 42.6h1.05v1.05h-1.05zM70.2 40.3h1.05v1.05h-1.05zM64.5 47.1h1.05v1.05h-1.05zM67.1 47.7h1.05v1.05h-1.05zM65.6 43.7h1.05v1.05h-1.05zM49.9 32.9h1.05v1.05h-1.05zM70.9 47.2h1.05v1.05h-1.05zM58.4 40.6h1.05v1.05h-1.05zM61.0 37.9h1.05v1.05h-1.05zM68.9 29.8h1.05v1.05h-1.05zM59.2 40.0h1.05v1.05h-1.05zM60.3 35.9h1.05v1.05h-1.05zM68.9 49.0h1.05v1.05h-1.05zM63.0 22.4h1.05v1.05h-1.05zM68.8 44.4h1.05v1.05h-1.05zM64.3 53.1h1.05v1.05h-1.05zM50.6 30.3h1.05v1.05h-1.05zM64.7 27.6h1.05v1.05h-1.05zM50.6 31.4h1.05v1.05h-1.05zM61.0 35.6h1.05v1.05h-1.05zM60.2 27.5h1.05v1.05h-1.05zM70.3 27.4h1.05v1.05h-1.05zM66.2 41.1h1.05v1.05h-1.05zM64.4 25.6h1.05v1.05h-1.05zM50.5 37.0h1.05v1.05h-1.05zM67.0 44.3h1.05v1.05h-1.05zM61.5 46.5h1.05v1.05h-1.05zM70.4 31.1h1.05v1.05h-1.05zM63.6 22.5h1.05v1.05h-1.05zM60.1 24.7h1.05v1.05h-1.05zM61.4 42.6h1.05v1.05h-1.05zM63.9 28.0h1.05v1.05h-1.05zM71.4 43.5h1.05v1.05h-1.05zM58.2 38.0h1.05v1.05h-1.05zM45.5 32.9h1.05v1.05h-1.05zM58.7 34.3h1.05v1.05h-1.05zM60.8 31.5h1.05v1.05h-1.05zM65.6 23.0h1.05v1.05h-1.05zM62.3 53.9h1.05v1.05h-1.05zM69.3 36.8h1.05v1.05h-1.05zM69.2 42.6h1.05v1.05h-1.05zM54.7 24.3h1.05v1.05h-1.05zM64.4 27.4h1.05v1.05h-1.05zM52.4 26.9h1.05v1.05h-1.05zM57.3 44.4h1.05v1.05h-1.05zM52.6 27.9h1.05v1.05h-1.05zM66.8 26.6h1.05v1.05h-1.05zM61.3 41.3h1.05v1.05h-1.05zM48.4 29.7h1.05v1.05h-1.05zM56.5 31.6h1.05v1.05h-1.05zM54.6 24.3h1.05v1.05h-1.05zM69.2 40.5h1.05v1.05h-1.05zM61.8 42.4h1.05v1.05h-1.05zM52.1 30.5h1.05v1.05h-1.05zM62.3 34.3h1.05v1.05h-1.05zM54.2 44.5h1.05v1.05h-1.05zM69.9 27.9h1.05v1.05h-1.05zM72.2 52.6h1.05v1.05h-1.05zM62.7 38.4h1.05v1.05h-1.05zM58.8 53.2h1.05v1.05h-1.05zM72.7 44.4h1.05v1.05h-1.05zM72.1 55.7h1.05v1.05h-1.05zM51.7 26.7h1.05v1.05h-1.05zM45.2 48.8h1.05v1.05h-1.05zM60.8 22.3h1.05v1.05h-1.05zM63.1 33.8h1.05v1.05h-1.05zM67.4 34.3h1.05v1.05h-1.05zM59.6 40.6h1.05v1.05h-1.05zM50.0 27.9h1.05v1.05h-1.05zM68.6 37.0h1.05v1.05h-1.05zM66.6 28.4h1.05v1.05h-1.05zM51.3 27.5h1.05v1.05h-1.05zM67.3 43.0h1.05v1.05h-1.05zM67.1 33.5h1.05v1.05h-1.05zM59.1 34.1h1.05v1.05h-1.05zM62.7 32.7h1.05v1.05h-1.05zM67.1 53.2h1.05v1.05h-1.05zM62.8 53.9h1.05v1.05h-1.05zM52.3 39.2h1.05v1.05h-1.05zM69.0 37.1h1.05v1.05h-1.05zM59.1 45.5h1.05v1.05h-1.05zM64.1 64.2h1.05v1.05h-1.05zM67.1 44.5h1.05v1.05h-1.05zM49.8 30.4h1.05v1.05h-1.05zM68.9 37.6h1.05v1.05h-1.05zM65.2 23.5h1.05v1.05h-1.05zM70.2 35.9h1.05v1.05h-1.05zM42.1 41.8h1.05v1.05h-1.05zM62.7 36.7h1.05v1.05h-1.05zM69.1 46.3h1.05v1.05h-1.05zM55.3 23.1h1.05v1.05h-1.05zM61.1 39.6h1.05v1.05h-1.05zM65.5 42.3h1.05v1.05h-1.05zM52.3 29.3h1.05v1.05h-1.05zM54.5 33.8h1.05v1.05h-1.05zM47.0 56.1h1.05v1.05h-1.05zM58.6 41.5h1.05v1.05h-1.05zM47.1 33.0h1.05v1.05h-1.05zM66.0 50.9h1.05v1.05h-1.05zM49.5 37.4h1.05v1.05h-1.05zM45.9 51.0h1.05v1.05h-1.05zM69.0 42.3h1.05v1.05h-1.05zM66.4 38.8h1.05v1.05h-1.05zM56.7 22.1h1.05v1.05h-1.05zM72.0 46.2h1.05v1.05h-1.05zM72.6 38.7h1.05v1.05h-1.05zM55.8 23.3h1.05v1.05h-1.05zM56.9 39.6h1.05v1.05h-1.05zM64.9 43.1h1.05v1.05h-1.05zM61.6 23.1h1.05v1.05h-1.05zM67.3 25.1h1.05v1.05h-1.05zM59.6 34.3h1.05v1.05h-1.05zM63.4 30.1h1.05v1.05h-1.05zM55.4 25.4h1.05v1.05h-1.05zM52.7 24.6h1.05v1.05h-1.05zM53.2 34.8h1.05v1.05h-1.05zM67.4 27.2h1.05v1.05h-1.05zM58.7 42.3h1.05v1.05h-1.05zM67.1 33.4h1.05v1.05h-1.05zM68.6 46.1h1.05v1.05h-1.05zM48.9 32.6h1.05v1.05h-1.05zM61.5 54.1h1.05v1.05h-1.05zM53.0 27.0h1.05v1.05h-1.05zM64.8 41.8h1.05v1.05h-1.05zM66.2 24.6h1.05v1.05h-1.05zM69.8 31.1h1.05v1.05h-1.05zM64.1 33.6h1.05v1.05h-1.05zM63.7 48.8h1.05v1.05h-1.05zM63.8 28.8h1.05v1.05h-1.05zM58.8 25.5h1.05v1.05h-1.05zM67.5 31.0h1.05v1.05h-1.05zM55.8 25.7h1.05v1.05h-1.05zM57.3 28.5h1.05v1.05h-1.05zM48.3 41.6h1.05v1.05h-1.05zM66.8 47.6h1.05v1.05h-1.05zM48.6 28.4h1.05v1.05h-1.05zM71.1 30.4h1.05v1.05h-1.05zM56.3 35.6h1.05v1.05h-1.05zM53.0 25.9h1.05v1.05h-1.05zM66.7 46.3h1.05v1.05h-1.05zM70.9 38.0h1.05v1.05h-1.05zM55.8 26.9h1.05v1.05h-1.05zM46.9 56.7h1.05v1.05h-1.05zM54.5 53.3h1.05v1.05h-1.05zM70.0 29.9h1.05v1.05h-1.05zM48.4 28.2h1.05v1.05h-1.05zM50.4 34.2h1.05v1.05h-1.05zM63.5 45.1h1.05v1.05h-1.05zM63.7 48.7h1.05v1.05h-1.05zM60.5 28.9h1.05v1.05h-1.05zM64.9 32.5h1.05v1.05h-1.05zM63.3 28.8h1.05v1.05h-1.05zM66.5 37.6h1.05v1.05h-1.05zM63.9 57.6h1.05v1.05h-1.05zM47.7 33.0h1.05v1.05h-1.05zM55.7 28.6h1.05v1.05h-1.05zM64.3 27.9h1.05v1.05h-1.05zM69.6 49.5h1.05v1.05h-1.05zM61.2 29.7h1.05v1.05h-1.05zM66.1 33.3h1.05v1.05h-1.05zM52.1 45.6h1.05v1.05h-1.05zM57.2 32.7h1.05v1.05h-1.05zM66.2 36.7h1.05v1.05h-1.05zM57.7 29.2h1.05v1.05h-1.05zM64.9 38.9h1.05v1.05h-1.05zM65.8 31.2h1.05v1.05h-1.05zM68.7 59.3h1.05v1.05h-1.05zM61.0 25.3h1.05v1.05h-1.05zM62.8 31.8h1.05v1.05h-1.05zM48.0 34.2h1.05v1.05h-1.05zM47.4 35.2h1.05v1.05h-1.05zM63.9 32.8h1.05v1.05h-1.05zM68.6 35.2h1.05v1.05h-1.05zM58.5 27.4h1.05v1.05h-1.05zM56.6 29.7h1.05v1.05h-1.05zM65.8 45.9h1.05v1.05h-1.05zM67.9 25.2h1.05v1.05h-1.05zM57.4 32.4h1.05v1.05h-1.05zM65.6 57.7h1.05v1.05h-1.05zM62.3 25.1h1.05v1.05h-1.05zM62.3 34.7h1.05v1.05h-1.05zM67.7 41.4h1.05v1.05h-1.05zM67.6 26.6h1.05v1.05h-1.05zM70.0 28.3h1.05v1.05h-1.05zM55.3 36.6h1.05v1.05h-1.05zM61.7 34.1h1.05v1.05h-1.05zM66.4 26.4h1.05v1.05h-1.05zM52.2 32.1h1.05v1.05h-1.05zM70.8 35.7h1.05v1.05h-1.05zM46.2 56.5h1.05v1.05h-1.05zM52.3 29.2h1.05v1.05h-1.05zM71.1 48.2h1.05v1.05h-1.05zM53.5 37.3h1.05v1.05h-1.05zM53.6 25.4h1.05v1.05h-1.05zM71.9 57.0h1.05v1.05h-1.05zM69.3 32.4h1.05v1.05h-1.05zM63.6 38.7h1.05v1.05h-1.05zM59.4 36.5h1.05v1.05h-1.05zM69.5 36.9h1.05v1.05h-1.05zM59.7 42.3h1.05v1.05h-1.05zM52.2 58.4h1.05v1.05h-1.05zM68.7 31.1h1.05v1.05h-1.05zM66.7 29.7h1.05v1.05h-1.05zM60.6 25.2h1.05v1.05h-1.05zM58.7 43.7h1.05v1.05h-1.05zM64.0 30.2h1.05v1.05h-1.05zM53.0 37.8h1.05v1.05h-1.05zM55.5 24.5h1.05v1.05h-1.05zM68.4 37.5h1.05v1.05h-1.05zM68.9 30.7h1.05v1.05h-1.05zM51.8 55.9h1.05v1.05h-1.05zM68.6 29.0h1.05v1.05h-1.05zM60.2 27.0h1.05v1.05h-1.05zM49.3 33.5h1.05v1.05h-1.05zM56.9 24.5h1.05v1.05h-1.05zM48.5 32.5h1.05v1.05h-1.05zM58.6 28.6h1.05v1.05h-1.05zM62.3 34.9h1.05v1.05h-1.05zM51.4 44.7h1.05v1.05h-1.05zM57.0 29.7h1.05v1.05h-1.05zM61.3 27.1h1.05v1.05h-1.05zM54.5 37.4h1.05v1.05h-1.05zM64.9 39.2h1.05v1.05h-1.05zM70.6 55.7h1.05v1.05h-1.05zM55.6 34.6h1.05v1.05h-1.05zM76.6 40.9h1.05v1.05h-1.05zM72.4 35.3h1.05v1.05h-1.05zM77.9 39.1h1.05v1.05h-1.05zM80.7 39.9h1.05v1.05h-1.05zM79.3 37.1h1.05v1.05h-1.05zM77.2 37.0h1.05v1.05h-1.05zM78.2 37.4h1.05v1.05h-1.05zM79.3 38.0h1.05v1.05h-1.05zM46.5 110.6h1.05v1.05h-1.05zM48.0 110.2h1.05v1.05h-1.05zM51.7 112.0h1.05v1.05h-1.05zM56.4 110.0h1.05v1.05h-1.05zM49.4 100.8h1.05v1.05h-1.05zM53.3 115.4h1.05v1.05h-1.05zM47.3 102.3h1.05v1.05h-1.05zM48.0 111.8h1.05v1.05h-1.05zM44.3 92.0h1.05v1.05h-1.05zM46.9 109.9h1.05v1.05h-1.05zM56.2 110.0h1.05v1.05h-1.05zM51.9 104.6h1.05v1.05h-1.05zM46.6 101.4h1.05v1.05h-1.05zM52.1 95.9h1.05v1.05h-1.05zM54.3 103.9h1.05v1.05h-1.05zM57.9 98.9h1.05v1.05h-1.05zM59.1 108.2h1.05v1.05h-1.05zM53.6 103.5h1.05v1.05h-1.05zM50.8 89.6h1.05v1.05h-1.05zM70.4 89.0h1.05v1.05h-1.05zM71.5 74.4h1.05v1.05h-1.05zM71.6 83.3h1.05v1.05h-1.05zM62.1 82.0h1.05v1.05h-1.05zM71.7 76.1h1.05v1.05h-1.05zM59.5 84.0h1.05v1.05h-1.05zM61.9 92.9h1.05v1.05h-1.05zM66.7 96.0h1.05v1.05h-1.05zM71.5 88.2h1.05v1.05h-1.05zM66.6 89.6h1.05v1.05h-1.05zM67.5 74.7h1.05v1.05h-1.05zM71.3 73.0h1.05v1.05h-1.05zM71.6 84.3h1.05v1.05h-1.05zM64.4 86.1h1.05v1.05h-1.05zM62.2 93.9h1.05v1.05h-1.05zM70.3 87.8h1.05v1.05h-1.05zM72.3 77.3h1.05v1.05h-1.05zM61.6 81.7h1.05v1.05h-1.05zM66.8 85.9h1.05v1.05h-1.05zM63.9 90.3h1.05v1.05h-1.05zM61.7 75.9h1.05v1.05h-1.05zM70.7 79.6h1.05v1.05h-1.05zM72.8 80.3h1.05v1.05h-1.05zM69.4 85.3h1.05v1.05h-1.05zM64.0 83.7h1.05v1.05h-1.05zM68.3 91.9h1.05v1.05h-1.05zM59.5 92.6h1.05v1.05h-1.05zM71.8 86.0h1.05v1.05h-1.05zM69.8 89.7h1.05v1.05h-1.05zM59.9 79.5h1.05v1.05h-1.05zM69.9 82.6h1.05v1.05h-1.05zM62.1 85.3h1.05v1.05h-1.05zM66.5 73.4h1.05v1.05h-1.05zM59.2 84.7h1.05v1.05h-1.05zM73.6 82.4h1.05v1.05h-1.05zM59.2 77.1h1.05v1.05h-1.05zM65.3 92.4h1.05v1.05h-1.05zM65.6 82.0h1.05v1.05h-1.05zM64.9 85.1h1.05v1.05h-1.05zM60.2 73.1h1.05v1.05h-1.05zM68.1 79.9h1.05v1.05h-1.05zM70.9 80.3h1.05v1.05h-1.05zM70.7 81.8h1.05v1.05h-1.05zM66.0 86.3h1.05v1.05h-1.05zM71.8 89.2h1.05v1.05h-1.05zM60.0 74.7h1.05v1.05h-1.05zM70.6 79.6h1.05v1.05h-1.05zM61.4 74.7h1.05v1.05h-1.05zM59.2 90.1h1.05v1.05h-1.05zM68.7 76.8h1.05v1.05h-1.05zM70.4 82.7h1.05v1.05h-1.05zM64.2 80.5h1.05v1.05h-1.05zM67.3 76.8h1.05v1.05h-1.05zM60.6 73.0h1.05v1.05h-1.05zM71.1 84.8h1.05v1.05h-1.05zM69.6 82.5h1.05v1.05h-1.05zM65.3 73.5h1.05v1.05h-1.05zM68.6 96.2h1.05v1.05h-1.05zM62.5 86.9h1.05v1.05h-1.05zM62.1 94.8h1.05v1.05h-1.05zM60.6 89.1h1.05v1.05h-1.05zM68.2 79.1h1.05v1.05h-1.05zM67.5 94.4h1.05v1.05h-1.05zM62.7 93.9h1.05v1.05h-1.05zM61.1 88.7h1.05v1.05h-1.05zM71.6 84.4h1.05v1.05h-1.05zM68.3 82.0h1.05v1.05h-1.05zM63.6 77.8h1.05v1.05h-1.05zM69.3 86.1h1.05v1.05h-1.05zM72.2 74.0h1.05v1.05h-1.05zM70.4 88.0h1.05v1.05h-1.05zM74.4 83.8h1.05v1.05h-1.05zM60.8 81.6h1.05v1.05h-1.05zM60.8 90.8h1.05v1.05h-1.05zM59.8 90.4h1.05v1.05h-1.05zM69.6 91.1h1.05v1.05h-1.05zM71.0 81.3h1.05v1.05h-1.05zM72.8 87.6h1.05v1.05h-1.05zM63.4 94.5h1.05v1.05h-1.05zM70.9 95.0h1.05v1.05h-1.05zM73.6 83.1h1.05v1.05h-1.05zM64.7 93.7h1.05v1.05h-1.05zM61.0 73.2h1.05v1.05h-1.05zM72.6 90.0h1.05v1.05h-1.05zM65.0 87.5h1.05v1.05h-1.05zM67.2 85.7h1.05v1.05h-1.05zM72.7 85.8h1.05v1.05h-1.05zM63.8 72.0h1.05v1.05h-1.05zM73.8 83.9h1.05v1.05h-1.05zM63.4 84.9h1.05v1.05h-1.05zM72.0 82.9h1.05v1.05h-1.05zM64.6 82.0h1.05v1.05h-1.05zM60.9 84.0h1.05v1.05h-1.05zM71.5 80.2h1.05v1.05h-1.05zM70.6 84.3h1.05v1.05h-1.05zM62.3 85.9h1.05v1.05h-1.05zM59.8 78.5h1.05v1.05h-1.05zM61.1 87.5h1.05v1.05h-1.05zM68.1 78.6h1.05v1.05h-1.05zM72.4 88.1h1.05v1.05h-1.05zM60.0 74.8h1.05v1.05h-1.05zM71.5 94.1h1.05v1.05h-1.05zM62.1 88.2h1.05v1.05h-1.05zM67.7 89.7h1.05v1.05h-1.05zM59.5 78.7h1.05v1.05h-1.05zM72.8 74.0h1.05v1.05h-1.05zM58.7 80.1h1.05v1.05h-1.05zM63.6 91.9h1.05v1.05h-1.05zM74.6 74.3h1.05v1.05h-1.05zM68.4 85.3h1.05v1.05h-1.05zM59.7 79.0h1.05v1.05h-1.05zM60.8 75.1h1.05v1.05h-1.05zM69.5 79.1h1.05v1.05h-1.05zM72.9 86.8h1.05v1.05h-1.05zM74.6 84.7h1.05v1.05h-1.05zM69.9 76.4h1.05v1.05h-1.05zM71.3 81.6h1.05v1.05h-1.05zM71.9 87.1h1.05v1.05h-1.05zM59.1 78.3h1.05v1.05h-1.05zM69.9 85.9h1.05v1.05h-1.05zM71.7 79.2h1.05v1.05h-1.05zM67.2 77.0h1.05v1.05h-1.05zM69.0 77.0h1.05v1.05h-1.05zM60.5 76.2h1.05v1.05h-1.05zM61.9 86.2h1.05v1.05h-1.05zM67.4 84.3h1.05v1.05h-1.05zM70.8 78.0h1.05v1.05h-1.05zM71.7 95.7h1.05v1.05h-1.05zM74.4 76.7h1.05v1.05h-1.05zM66.2 97.0h1.05v1.05h-1.05zM72.2 89.8h1.05v1.05h-1.05zM64.8 84.5h1.05v1.05h-1.05zM67.2 75.7h1.05v1.05h-1.05zM61.7 95.2h1.05v1.05h-1.05zM71.1 84.8h1.05v1.05h-1.05zM68.6 89.7h1.05v1.05h-1.05zM61.6 94.5h1.05v1.05h-1.05zM64.2 83.0h1.05v1.05h-1.05zM70.9 74.9h1.05v1.05h-1.05zM71.6 78.9h1.05v1.05h-1.05zM68.8 90.4h1.05v1.05h-1.05zM63.2 91.9h1.05v1.05h-1.05zM68.4 73.2h1.05v1.05h-1.05zM65.9 73.1h1.05v1.05h-1.05zM62.9 85.8h1.05v1.05h-1.05zM62.8 82.1h1.05v1.05h-1.05zM71.9 84.7h1.05v1.05h-1.05zM69.2 93.4h1.05v1.05h-1.05zM61.9 87.8h1.05v1.05h-1.05zM67.8 87.2h1.05v1.05h-1.05zM62.0 74.7h1.05v1.05h-1.05zM61.6 83.7h1.05v1.05h-1.05zM58.7 79.2h1.05v1.05h-1.05zM59.2 89.6h1.05v1.05h-1.05zM70.8 76.2h1.05v1.05h-1.05zM66.5 75.6h1.05v1.05h-1.05zM73.1 85.0h1.05v1.05h-1.05zM69.0 84.3h1.05v1.05h-1.05zM72.6 85.5h1.05v1.05h-1.05zM62.1 85.0h1.05v1.05h-1.05zM67.5 96.0h1.05v1.05h-1.05zM71.8 75.5h1.05v1.05h-1.05zM67.2 87.1h1.05v1.05h-1.05zM68.7 83.3h1.05v1.05h-1.05zM67.2 90.3h1.05v1.05h-1.05zM62.9 80.0h1.05v1.05h-1.05zM66.8 78.1h1.05v1.05h-1.05zM64.2 90.7h1.05v1.05h-1.05zM65.1 79.9h1.05v1.05h-1.05zM66.2 91.6h1.05v1.05h-1.05zM72.9 74.4h1.05v1.05h-1.05zM60.4 79.5h1.05v1.05h-1.05zM59.9 83.8h1.05v1.05h-1.05zM58.9 89.2h1.05v1.05h-1.05zM65.0 76.7h1.05v1.05h-1.05zM71.1 79.2h1.05v1.05h-1.05zM62.5 77.2h1.05v1.05h-1.05zM71.3 73.5h1.05v1.05h-1.05zM62.2 82.1h1.05v1.05h-1.05zM60.0 76.5h1.05v1.05h-1.05zM73.4 77.9h1.05v1.05h-1.05zM59.1 80.8h1.05v1.05h-1.05zM73.4 85.9h1.05v1.05h-1.05zM73.6 79.4h1.05v1.05h-1.05zM71.9 84.7h1.05v1.05h-1.05zM72.8 75.2h1.05v1.05h-1.05zM59.4 91.5h1.05v1.05h-1.05zM61.7 92.7h1.05v1.05h-1.05zM71.8 90.2h1.05v1.05h-1.05zM70.1 90.5h1.05v1.05h-1.05zM67.4 89.2h1.05v1.05h-1.05zM67.3 92.8h1.05v1.05h-1.05zM68.0 81.8h1.05v1.05h-1.05zM63.4 81.2h1.05v1.05h-1.05zM60.9 78.7h1.05v1.05h-1.05zM58.8 85.0h1.05v1.05h-1.05zM64.5 74.2h1.05v1.05h-1.05zM70.4 79.7h1.05v1.05h-1.05zM64.9 96.6h1.05v1.05h-1.05zM70.6 92.4h1.05v1.05h-1.05zM68.5 92.3h1.05v1.05h-1.05zM68.8 87.5h1.05v1.05h-1.05zM60.2 71.8h1.05v1.05h-1.05zM70.7 76.9h1.05v1.05h-1.05zM70.1 97.2h1.05v1.05h-1.05zM65.2 89.7h1.05v1.05h-1.05zM67.2 93.7h1.05v1.05h-1.05zM65.4 89.4h1.05v1.05h-1.05zM62.6 85.3h1.05v1.05h-1.05zM64.9 71.9h1.05v1.05h-1.05zM66.5 80.5h1.05v1.05h-1.05zM60.0 71.3h1.05v1.05h-1.05zM67.9 80.1h1.05v1.05h-1.05zM69.3 77.0h1.05v1.05h-1.05zM65.6 85.3h1.05v1.05h-1.05zM64.3 86.5h1.05v1.05h-1.05zM67.1 92.4h1.05v1.05h-1.05zM60.4 88.1h1.05v1.05h-1.05zM59.9 79.9h1.05v1.05h-1.05zM69.5 95.1h1.05v1.05h-1.05zM73.1 73.6h1.05v1.05h-1.05zM69.3 90.3h1.05v1.05h-1.05zM59.9 86.6h1.05v1.05h-1.05zM70.8 82.6h1.05v1.05h-1.05zM65.2 83.5h1.05v1.05h-1.05zM71.6 82.9h1.05v1.05h-1.05zM61.4 86.5h1.05v1.05h-1.05zM62.9 94.7h1.05v1.05h-1.05zM63.5 82.0h1.05v1.05h-1.05zM67.6 86.5h1.05v1.05h-1.05zM60.3 93.5h1.05v1.05h-1.05zM66.7 92.6h1.05v1.05h-1.05zM71.3 86.0h1.05v1.05h-1.05zM58.9 83.2h1.05v1.05h-1.05zM59.0 82.5h1.05v1.05h-1.05zM61.0 75.7h1.05v1.05h-1.05zM70.0 97.7h1.05v1.05h-1.05zM63.5 95.2h1.05v1.05h-1.05zM66.8 84.5h1.05v1.05h-1.05zM66.8 83.1h1.05v1.05h-1.05zM67.4 74.2h1.05v1.05h-1.05zM60.2 83.8h1.05v1.05h-1.05zM61.9 93.5h1.05v1.05h-1.05zM66.6 75.8h1.05v1.05h-1.05zM58.9 77.9h1.05v1.05h-1.05zM72.6 83.6h1.05v1.05h-1.05zM60.5 76.9h1.05v1.05h-1.05zM60.2 88.5h1.05v1.05h-1.05zM69.1 85.1h1.05v1.05h-1.05zM73.0 85.4h1.05v1.05h-1.05zM62.9 89.7h1.05v1.05h-1.05zM66.7 73.3h1.05v1.05h-1.05zM73.7 79.5h1.05v1.05h-1.05zM72.4 87.5h1.05v1.05h-1.05zM60.9 71.4h1.05v1.05h-1.05zM72.3 83.0h1.05v1.05h-1.05zM58.7 86.3h1.05v1.05h-1.05zM61.8 77.1h1.05v1.05h-1.05zM65.6 83.0h1.05v1.05h-1.05zM62.6 91.1h1.05v1.05h-1.05zM71.1 93.1h1.05v1.05h-1.05zM71.8 79.0h1.05v1.05h-1.05zM65.6 77.5h1.05v1.05h-1.05zM64.3 85.4h1.05v1.05h-1.05zM67.6 78.1h1.05v1.05h-1.05zM71.8 90.6h1.05v1.05h-1.05zM64.7 95.6h1.05v1.05h-1.05zM67.5 76.1h1.05v1.05h-1.05zM70.4 84.8h1.05v1.05h-1.05zM67.8 95.1h1.05v1.05h-1.05zM71.0 97.4h1.05v1.05h-1.05zM72.6 81.1h1.05v1.05h-1.05zM67.5 93.3h1.05v1.05h-1.05zM68.5 91.3h1.05v1.05h-1.05zM63.5 87.8h1.05v1.05h-1.05zM71.0 97.0h1.05v1.05h-1.05zM66.6 95.0h1.05v1.05h-1.05zM61.9 77.9h1.05v1.05h-1.05zM64.6 89.2h1.05v1.05h-1.05zM67.1 91.6h1.05v1.05h-1.05zM64.5 86.7h1.05v1.05h-1.05zM68.9 83.2h1.05v1.05h-1.05zM63.4 89.1h1.05v1.05h-1.05zM59.8 84.0h1.05v1.05h-1.05zM62.0 86.5h1.05v1.05h-1.05zM71.1 85.1h1.05v1.05h-1.05zM72.5 88.3h1.05v1.05h-1.05zM66.6 92.5h1.05v1.05h-1.05zM74.7 76.1h1.05v1.05h-1.05zM74.1 82.8h1.05v1.05h-1.05zM66.0 84.4h1.05v1.05h-1.05zM64.2 76.1h1.05v1.05h-1.05zM71.2 88.4h1.05v1.05h-1.05zM62.5 86.9h1.05v1.05h-1.05zM65.8 77.8h1.05v1.05h-1.05zM70.8 96.5h1.05v1.05h-1.05zM58.9 82.4h1.05v1.05h-1.05zM64.0 91.5h1.05v1.05h-1.05zM65.3 88.9h1.05v1.05h-1.05zM58.9 87.9h1.05v1.05h-1.05zM59.1 74.1h1.05v1.05h-1.05zM69.7 80.3h1.05v1.05h-1.05zM63.2 94.2h1.05v1.05h-1.05zM65.4 82.7h1.05v1.05h-1.05zM62.8 91.5h1.05v1.05h-1.05zM65.3 93.9h1.05v1.05h-1.05zM71.5 94.6h1.05v1.05h-1.05zM63.9 93.3h1.05v1.05h-1.05zM70.8 89.9h1.05v1.05h-1.05zM66.5 86.4h1.05v1.05h-1.05zM73.7 84.3h1.05v1.05h-1.05zM66.5 84.0h1.05v1.05h-1.05zM72.2 91.8h1.05v1.05h-1.05zM63.4 93.1h1.05v1.05h-1.05zM64.3 89.9h1.05v1.05h-1.05zM64.4 79.9h1.05v1.05h-1.05zM65.3 72.7h1.05v1.05h-1.05zM67.0 84.9h1.05v1.05h-1.05zM64.0 84.2h1.05v1.05h-1.05zM73.0 80.8h1.05v1.05h-1.05zM70.9 80.5h1.05v1.05h-1.05zM73.2 84.3h1.05v1.05h-1.05zM70.2 94.7h1.05v1.05h-1.05zM72.0 94.8h1.05v1.05h-1.05zM64.0 82.0h1.05v1.05h-1.05zM64.1 79.6h1.05v1.05h-1.05zM65.1 95.3h1.05v1.05h-1.05zM70.1 78.3h1.05v1.05h-1.05zM64.4 84.5h1.05v1.05h-1.05zM60.8 76.8h1.05v1.05h-1.05zM65.8 88.8h1.05v1.05h-1.05zM63.9 86.8h1.05v1.05h-1.05zM60.1 85.8h1.05v1.05h-1.05zM63.2 77.1h1.05v1.05h-1.05zM72.3 80.2h1.05v1.05h-1.05zM68.8 90.2h1.05v1.05h-1.05zM68.1 97.1h1.05v1.05h-1.05zM69.6 81.6h1.05v1.05h-1.05zM69.7 81.8h1.05v1.05h-1.05zM68.6 94.7h1.05v1.05h-1.05zM61.9 85.4h1.05v1.05h-1.05zM70.1 80.0h1.05v1.05h-1.05zM71.9 73.1h1.05v1.05h-1.05zM71.2 74.0h1.05v1.05h-1.05zM72.6 88.8h1.05v1.05h-1.05zM68.9 84.8h1.05v1.05h-1.05zM70.4 84.4h1.05v1.05h-1.05zM64.7 94.9h1.05v1.05h-1.05zM62.6 81.6h1.05v1.05h-1.05zM63.6 82.4h1.05v1.05h-1.05zM64.8 75.5h1.05v1.05h-1.05zM63.8 93.5h1.05v1.05h-1.05zM62.2 86.9h1.05v1.05h-1.05zM66.7 74.8h1.05v1.05h-1.05zM70.2 90.0h1.05v1.05h-1.05zM60.9 76.1h1.05v1.05h-1.05zM62.7 79.2h1.05v1.05h-1.05zM73.4 81.2h1.05v1.05h-1.05zM66.1 75.2h1.05v1.05h-1.05zM62.6 84.1h1.05v1.05h-1.05zM67.3 93.8h1.05v1.05h-1.05zM71.9 92.1h1.05v1.05h-1.05zM61.8 76.8h1.05v1.05h-1.05zM66.9 80.2h1.05v1.05h-1.05zM66.3 93.5h1.05v1.05h-1.05zM67.8 87.2h1.05v1.05h-1.05zM65.9 94.4h1.05v1.05h-1.05zM71.5 94.4h1.05v1.05h-1.05zM61.6 84.7h1.05v1.05h-1.05zM68.0 87.1h1.05v1.05h-1.05zM69.7 97.3h1.05v1.05h-1.05zM59.6 88.7h1.05v1.05h-1.05zM59.0 74.4h1.05v1.05h-1.05zM67.9 83.1h1.05v1.05h-1.05zM59.3 81.4h1.05v1.05h-1.05zM59.6 91.8h1.05v1.05h-1.05zM72.6 84.0h1.05v1.05h-1.05zM65.6 84.9h1.05v1.05h-1.05zM60.5 73.4h1.05v1.05h-1.05zM71.2 82.5h1.05v1.05h-1.05zM73.3 87.5h1.05v1.05h-1.05zM62.2 94.9h1.05v1.05h-1.05zM71.2 91.6h1.05v1.05h-1.05zM71.1 92.6h1.05v1.05h-1.05zM60.3 72.0h1.05v1.05h-1.05zM72.1 82.3h1.05v1.05h-1.05zM60.0 82.2h1.05v1.05h-1.05zM69.4 95.7h1.05v1.05h-1.05zM71.1 89.1h1.05v1.05h-1.05zM69.8 94.5h1.05v1.05h-1.05zM59.7 88.9h1.05v1.05h-1.05zM71.9 86.6h1.05v1.05h-1.05zM70.2 79.8h1.05v1.05h-1.05zM65.8 85.6h1.05v1.05h-1.05zM60.3 92.4h1.05v1.05h-1.05zM64.2 90.8h1.05v1.05h-1.05zM64.0 74.2h1.05v1.05h-1.05zM66.0 73.4h1.05v1.05h-1.05zM66.4 72.1h1.05v1.05h-1.05zM72.0 75.6h1.05v1.05h-1.05zM60.4 88.4h1.05v1.05h-1.05zM60.1 83.8h1.05v1.05h-1.05zM61.4 79.4h1.05v1.05h-1.05zM66.5 84.9h1.05v1.05h-1.05zM66.0 78.0h1.05v1.05h-1.05zM72.7 75.1h1.05v1.05h-1.05zM63.0 85.2h1.05v1.05h-1.05zM72.6 84.7h1.05v1.05h-1.05zM59.0 89.8h1.05v1.05h-1.05zM68.2 87.5h1.05v1.05h-1.05zM58.6 79.4h1.05v1.05h-1.05zM64.1 91.9h1.05v1.05h-1.05zM60.0 83.3h1.05v1.05h-1.05zM63.7 88.1h1.05v1.05h-1.05zM71.2 83.3h1.05v1.05h-1.05zM67.6 95.1h1.05v1.05h-1.05zM63.0 92.4h1.05v1.05h-1.05zM71.7 81.9h1.05v1.05h-1.05zM59.3 92.7h1.05v1.05h-1.05zM61.4 90.4h1.05v1.05h-1.05zM73.7 77.2h1.05v1.05h-1.05zM73.2 80.5h1.05v1.05h-1.05zM73.7 81.9h1.05v1.05h-1.05zM67.5 73.5h1.05v1.05h-1.05zM59.8 78.0h1.05v1.05h-1.05zM69.6 81.3h1.05v1.05h-1.05zM73.5 85.9h1.05v1.05h-1.05zM64.3 89.8h1.05v1.05h-1.05zM83.5 89.1h1.05v1.05h-1.05zM77.1 98.4h1.05v1.05h-1.05zM75.3 101.1h1.05v1.05h-1.05zM82.6 95.2h1.05v1.05h-1.05zM71.8 97.8h1.05v1.05h-1.05zM72.3 100.3h1.05v1.05h-1.05zM84.5 93.6h1.05v1.05h-1.05zM85.2 99.3h1.05v1.05h-1.05zM82.3 101.2h1.05v1.05h-1.05zM75.0 86.4h1.05v1.05h-1.05zM77.2 87.6h1.05v1.05h-1.05zM73.4 85.6h1.05v1.05h-1.05zM78.1 101.7h1.05v1.05h-1.05zM78.9 103.4h1.05v1.05h-1.05zM72.2 87.6h1.05v1.05h-1.05zM81.3 103.2h1.05v1.05h-1.05zM73.6 102.5h1.05v1.05h-1.05zM75.6 83.5h1.05v1.05h-1.05zM77.3 103.3h1.05v1.05h-1.05zM74.7 102.5h1.05v1.05h-1.05zM83.9 92.7h1.05v1.05h-1.05zM79.8 101.2h1.05v1.05h-1.05zM84.8 99.6h1.05v1.05h-1.05zM82.3 96.8h1.05v1.05h-1.05zM81.1 103.8h1.05v1.05h-1.05zM76.1 99.4h1.05v1.05h-1.05zM79.4 91.2h1.05v1.05h-1.05zM82.6 88.1h1.05v1.05h-1.05zM76.1 88.5h1.05v1.05h-1.05zM73.5 92.2h1.05v1.05h-1.05zM81.8 104.4h1.05v1.05h-1.05zM75.3 104.7h1.05v1.05h-1.05zM83.7 90.6h1.05v1.05h-1.05zM83.2 99.4h1.05v1.05h-1.05zM76.2 86.8h1.05v1.05h-1.05zM80.1 85.0h1.05v1.05h-1.05zM82.0 87.4h1.05v1.05h-1.05zM79.2 104.5h1.05v1.05h-1.05zM83.7 91.1h1.05v1.05h-1.05zM83.9 98.1h1.05v1.05h-1.05zM81.1 101.9h1.05v1.05h-1.05zM76.3 94.3h1.05v1.05h-1.05zM85.3 95.3h1.05v1.05h-1.05zM78.0 85.3h1.05v1.05h-1.05zM73.6 88.7h1.05v1.05h-1.05z" fill="#56a03c"/>
<path d="M79.3 38.2h1.05v1.05h-1.05zM78.2 39.4h1.05v1.05h-1.05zM75.9 39.9h1.05v1.05h-1.05zM78.1 37.3h1.05v1.05h-1.05zM76.3 38.0h1.05v1.05h-1.05zM72.5 36.0h1.05v1.05h-1.05zM73.1 40.9h1.05v1.05h-1.05zM77.4 38.1h1.05v1.05h-1.05zM74.3 36.0h1.05v1.05h-1.05zM73.1 35.0h1.05v1.05h-1.05zM79.8 38.9h1.05v1.05h-1.05zM75.7 38.1h1.05v1.05h-1.05zM76.5 42.0h1.05v1.05h-1.05zM83.4 39.7h1.05v1.05h-1.05zM77.0 41.7h1.05v1.05h-1.05zM76.4 36.5h1.05v1.05h-1.05zM74.5 40.9h1.05v1.05h-1.05zM80.0 38.6h1.05v1.05h-1.05zM77.3 40.4h1.05v1.05h-1.05zM80.8 37.9h1.05v1.05h-1.05zM73.2 39.5h1.05v1.05h-1.05zM79.4 38.3h1.05v1.05h-1.05zM78.0 39.4h1.05v1.05h-1.05zM74.6 37.8h1.05v1.05h-1.05zM80.7 40.3h1.05v1.05h-1.05zM80.8 40.1h1.05v1.05h-1.05zM76.1 40.9h1.05v1.05h-1.05zM78.8 37.2h1.05v1.05h-1.05zM76.2 41.6h1.05v1.05h-1.05zM82.3 40.2h1.05v1.05h-1.05zM72.7 34.9h1.05v1.05h-1.05zM72.7 39.5h1.05v1.05h-1.05zM79.8 40.3h1.05v1.05h-1.05zM77.0 40.1h1.05v1.05h-1.05zM76.6 37.4h1.05v1.05h-1.05zM77.7 39.5h1.05v1.05h-1.05zM75.2 37.2h1.05v1.05h-1.05zM81.4 38.6h1.05v1.05h-1.05zM73.8 38.2h1.05v1.05h-1.05zM75.7 36.5h1.05v1.05h-1.05zM76.8 41.9h1.05v1.05h-1.05zM81.4 39.4h1.05v1.05h-1.05zM75.9 42.0h1.05v1.05h-1.05zM76.2 42.3h1.05v1.05h-1.05zM76.5 41.7h1.05v1.05h-1.05zM73.3 39.7h1.05v1.05h-1.05zM76.4 39.6h1.05v1.05h-1.05zM74.7 39.5h1.05v1.05h-1.05zM78.6 38.4h1.05v1.05h-1.05zM83.3 39.7h1.05v1.05h-1.05zM78.7 37.9h1.05v1.05h-1.05zM74.9 38.2h1.05v1.05h-1.05zM73.6 38.9h1.05v1.05h-1.05zM76.1 37.0h1.05v1.05h-1.05zM78.3 37.8h1.05v1.05h-1.05zM74.6 39.3h1.05v1.05h-1.05zM77.5 38.5h1.05v1.05h-1.05zM73.1 35.1h1.05v1.05h-1.05zM77.5 38.2h1.05v1.05h-1.05zM75.7 41.8h1.05v1.05h-1.05zM80.0 40.5h1.05v1.05h-1.05zM75.5 41.4h1.05v1.05h-1.05zM80.2 39.6h1.05v1.05h-1.05zM75.3 38.4h1.05v1.05h-1.05zM74.1 40.6h1.05v1.05h-1.05zM73.9 41.1h1.05v1.05h-1.05zM74.4 42.8h1.05v1.05h-1.05zM76.3 38.6h1.05v1.05h-1.05zM81.9 39.7h1.05v1.05h-1.05zM78.7 39.4h1.05v1.05h-1.05zM76.1 37.4h1.05v1.05h-1.05zM80.5 40.3h1.05v1.05h-1.05zM63.2 89.5h1.05v1.05h-1.05zM68.5 84.8h1.05v1.05h-1.05zM67.8 84.4h1.05v1.05h-1.05zM63.9 81.0h1.05v1.05h-1.05zM65.5 78.8h1.05v1.05h-1.05zM60.5 74.7h1.05v1.05h-1.05zM58.5 83.7h1.05v1.05h-1.05zM70.4 85.7h1.05v1.05h-1.05zM66.2 81.8h1.05v1.05h-1.05zM62.0 84.8h1.05v1.05h-1.05zM64.3 83.7h1.05v1.05h-1.05zM66.5 83.8h1.05v1.05h-1.05zM63.5 73.0h1.05v1.05h-1.05zM64.7 83.1h1.05v1.05h-1.05zM71.0 73.8h1.05v1.05h-1.05zM62.1 75.6h1.05v1.05h-1.05zM71.5 91.5h1.05v1.05h-1.05zM66.7 92.8h1.05v1.05h-1.05zM58.4 90.0h1.05v1.05h-1.05zM64.4 91.1h1.05v1.05h-1.05zM62.2 74.4h1.05v1.05h-1.05zM68.8 84.1h1.05v1.05h-1.05zM63.7 85.2h1.05v1.05h-1.05zM64.9 84.4h1.05v1.05h-1.05zM72.2 86.8h1.05v1.05h-1.05zM65.5 80.1h1.05v1.05h-1.05zM64.1 85.3h1.05v1.05h-1.05zM60.9 74.3h1.05v1.05h-1.05zM65.5 87.7h1.05v1.05h-1.05zM69.1 86.5h1.05v1.05h-1.05zM72.3 78.3h1.05v1.05h-1.05zM73.4 86.3h1.05v1.05h-1.05zM59.7 83.4h1.05v1.05h-1.05zM72.5 85.9h1.05v1.05h-1.05zM58.6 89.4h1.05v1.05h-1.05zM71.1 74.1h1.05v1.05h-1.05zM73.6 83.7h1.05v1.05h-1.05zM69.9 88.9h1.05v1.05h-1.05zM71.4 86.5h1.05v1.05h-1.05zM66.1 87.2h1.05v1.05h-1.05zM75.2 96.2h1.05v1.05h-1.05zM80.3 92.8h1.05v1.05h-1.05zM76.2 92.8h1.05v1.05h-1.05zM82.6 93.8h1.05v1.05h-1.05zM82.6 106.4h1.05v1.05h-1.05zM84.5 92.7h1.05v1.05h-1.05zM83.3 88.4h1.05v1.05h-1.05zM76.7 93.1h1.05v1.05h-1.05zM82.5 89.3h1.05v1.05h-1.05zM75.7 95.6h1.05v1.05h-1.05zM73.5 93.4h1.05v1.05h-1.05zM83.2 95.6h1.05v1.05h-1.05zM79.8 87.7h1.05v1.05h-1.05zM76.4 97.2h1.05v1.05h-1.05zM75.9 86.3h1.05v1.05h-1.05zM79.5 96.8h1.05v1.05h-1.05zM76.8 99.2h1.05v1.05h-1.05zM85.7 98.4h1.05v1.05h-1.05zM83.3 92.3h1.05v1.05h-1.05zM75.2 101.0h1.05v1.05h-1.05zM79.8 107.5h1.05v1.05h-1.05zM72.1 91.0h1.05v1.05h-1.05zM82.1 107.3h1.05v1.05h-1.05zM77.9 103.8h1.05v1.05h-1.05zM74.6 86.4h1.05v1.05h-1.05zM74.1 102.0h1.05v1.05h-1.05zM76.9 82.9h1.05v1.05h-1.05zM73.3 102.7h1.05v1.05h-1.05zM77.7 106.6h1.05v1.05h-1.05zM84.3 96.5h1.05v1.05h-1.05zM76.6 96.5h1.05v1.05h-1.05zM74.2 92.1h1.05v1.05h-1.05zM77.8 89.4h1.05v1.05h-1.05zM73.2 89.2h1.05v1.05h-1.05zM75.9 95.2h1.05v1.05h-1.05zM79.9 99.1h1.05v1.05h-1.05zM73.9 91.3h1.05v1.05h-1.05zM77.5 106.7h1.05v1.05h-1.05zM83.8 94.9h1.05v1.05h-1.05zM76.4 99.5h1.05v1.05h-1.05zM76.9 105.8h1.05v1.05h-1.05zM74.0 96.4h1.05v1.05h-1.05zM75.6 97.0h1.05v1.05h-1.05zM76.4 91.0h1.05v1.05h-1.05zM77.9 91.6h1.05v1.05h-1.05zM81.9 86.1h1.05v1.05h-1.05zM79.3 88.8h1.05v1.05h-1.05zM75.5 97.0h1.05v1.05h-1.05zM84.7 97.4h1.05v1.05h-1.05zM80.7 85.1h1.05v1.05h-1.05zM84.8 99.6h1.05v1.05h-1.05zM81.3 89.8h1.05v1.05h-1.05zM83.5 96.3h1.05v1.05h-1.05zM83.7 100.7h1.05v1.05h-1.05zM85.0 101.2h1.05v1.05h-1.05zM77.3 95.5h1.05v1.05h-1.05zM84.8 98.2h1.05v1.05h-1.05zM77.9 104.3h1.05v1.05h-1.05zM73.8 98.6h1.05v1.05h-1.05zM75.7 98.6h1.05v1.05h-1.05zM84.9 94.6h1.05v1.05h-1.05zM75.1 94.7h1.05v1.05h-1.05zM79.9 87.4h1.05v1.05h-1.05zM81.3 99.5h1.05v1.05h-1.05zM74.6 84.0h1.05v1.05h-1.05zM74.5 87.2h1.05v1.05h-1.05zM74.2 102.6h1.05v1.05h-1.05zM84.5 104.1h1.05v1.05h-1.05zM80.5 93.3h1.05v1.05h-1.05zM84.6 96.5h1.05v1.05h-1.05zM75.7 95.4h1.05v1.05h-1.05zM78.0 86.4h1.05v1.05h-1.05zM81.8 105.2h1.05v1.05h-1.05zM76.7 103.2h1.05v1.05h-1.05zM71.5 95.7h1.05v1.05h-1.05zM82.0 96.5h1.05v1.05h-1.05zM82.4 85.8h1.05v1.05h-1.05zM80.4 96.2h1.05v1.05h-1.05zM82.7 92.0h1.05v1.05h-1.05zM77.3 94.5h1.05v1.05h-1.05zM71.4 98.1h1.05v1.05h-1.05zM73.6 93.8h1.05v1.05h-1.05zM72.8 102.0h1.05v1.05h-1.05zM83.0 100.9h1.05v1.05h-1.05zM82.6 96.9h1.05v1.05h-1.05zM81.5 105.0h1.05v1.05h-1.05zM78.6 89.4h1.05v1.05h-1.05zM81.6 99.3h1.05v1.05h-1.05zM78.7 94.2h1.05v1.05h-1.05zM72.0 95.3h1.05v1.05h-1.05zM78.3 92.2h1.05v1.05h-1.05zM83.9 88.3h1.05v1.05h-1.05zM74.4 105.1h1.05v1.05h-1.05zM73.4 102.0h1.05v1.05h-1.05zM74.2 92.9h1.05v1.05h-1.05zM77.9 88.1h1.05v1.05h-1.05zM83.1 96.9h1.05v1.05h-1.05zM82.0 88.6h1.05v1.05h-1.05zM76.6 82.9h1.05v1.05h-1.05zM76.5 102.8h1.05v1.05h-1.05zM79.2 107.0h1.05v1.05h-1.05zM84.4 93.1h1.05v1.05h-1.05zM77.4 106.5h1.05v1.05h-1.05zM74.6 94.0h1.05v1.05h-1.05zM79.3 99.8h1.05v1.05h-1.05zM75.4 99.2h1.05v1.05h-1.05zM77.0 105.1h1.05v1.05h-1.05zM79.6 102.1h1.05v1.05h-1.05zM79.9 101.2h1.05v1.05h-1.05zM76.4 85.3h1.05v1.05h-1.05zM75.9 90.4h1.05v1.05h-1.05zM79.0 94.9h1.05v1.05h-1.05zM85.3 92.8h1.05v1.05h-1.05zM75.5 93.6h1.05v1.05h-1.05zM83.6 94.4h1.05v1.05h-1.05zM83.2 95.9h1.05v1.05h-1.05zM83.1 95.3h1.05v1.05h-1.05zM80.0 93.2h1.05v1.05h-1.05zM79.8 97.2h1.05v1.05h-1.05zM71.0 97.4h1.05v1.05h-1.05zM83.7 88.4h1.05v1.05h-1.05zM82.6 89.2h1.05v1.05h-1.05zM80.3 103.5h1.05v1.05h-1.05zM78.9 88.1h1.05v1.05h-1.05zM74.8 97.1h1.05v1.05h-1.05zM81.1 92.7h1.05v1.05h-1.05zM83.5 102.1h1.05v1.05h-1.05zM76.0 98.1h1.05v1.05h-1.05zM71.8 98.7h1.05v1.05h-1.05zM81.3 87.9h1.05v1.05h-1.05zM81.7 85.0h1.05v1.05h-1.05zM73.1 102.2h1.05v1.05h-1.05zM80.7 92.0h1.05v1.05h-1.05zM82.2 103.0h1.05v1.05h-1.05zM81.9 87.3h1.05v1.05h-1.05zM72.6 88.1h1.05v1.05h-1.05zM78.3 85.2h1.05v1.05h-1.05zM73.5 102.2h1.05v1.05h-1.05zM76.8 101.6h1.05v1.05h-1.05zM73.9 94.9h1.05v1.05h-1.05zM76.0 96.7h1.05v1.05h-1.05zM71.7 92.9h1.05v1.05h-1.05zM71.5 99.9h1.05v1.05h-1.05zM79.4 91.7h1.05v1.05h-1.05zM82.5 87.4h1.05v1.05h-1.05zM80.6 93.1h1.05v1.05h-1.05zM83.5 93.7h1.05v1.05h-1.05zM77.6 86.9h1.05v1.05h-1.05zM76.0 97.3h1.05v1.05h-1.05zM76.0 88.7h1.05v1.05h-1.05zM77.2 85.4h1.05v1.05h-1.05zM79.6 103.6h1.05v1.05h-1.05zM82.3 105.1h1.05v1.05h-1.05zM77.0 93.7h1.05v1.05h-1.05zM77.0 105.2h1.05v1.05h-1.05zM74.9 88.1h1.05v1.05h-1.05zM79.5 87.1h1.05v1.05h-1.05zM73.9 99.4h1.05v1.05h-1.05zM85.6 93.2h1.05v1.05h-1.05zM71.5 97.6h1.05v1.05h-1.05zM74.6 84.0h1.05v1.05h-1.05zM82.5 97.2h1.05v1.05h-1.05zM74.2 88.2h1.05v1.05h-1.05zM75.7 98.0h1.05v1.05h-1.05zM73.2 94.5h1.05v1.05h-1.05zM80.0 89.8h1.05v1.05h-1.05zM80.5 96.7h1.05v1.05h-1.05zM76.9 85.3h1.05v1.05h-1.05zM79.4 98.2h1.05v1.05h-1.05zM80.9 106.7h1.05v1.05h-1.05zM80.6 103.4h1.05v1.05h-1.05zM84.7 97.0h1.05v1.05h-1.05zM77.3 85.7h1.05v1.05h-1.05zM77.1 96.7h1.05v1.05h-1.05zM83.7 87.8h1.05v1.05h-1.05zM79.8 84.9h1.05v1.05h-1.05zM80.3 100.6h1.05v1.05h-1.05zM80.4 107.8h1.05v1.05h-1.05zM79.2 91.2h1.05v1.05h-1.05zM76.5 92.5h1.05v1.05h-1.05zM82.1 97.5h1.05v1.05h-1.05zM73.9 89.7h1.05v1.05h-1.05zM72.7 101.3h1.05v1.05h-1.05zM82.2 91.6h1.05v1.05h-1.05zM71.2 98.3h1.05v1.05h-1.05zM75.4 97.0h1.05v1.05h-1.05zM73.2 93.4h1.05v1.05h-1.05zM73.1 92.4h1.05v1.05h-1.05zM83.6 97.6h1.05v1.05h-1.05zM77.5 85.9h1.05v1.05h-1.05zM84.3 97.5h1.05v1.05h-1.05zM77.4 91.7h1.05v1.05h-1.05zM81.9 89.3h1.05v1.05h-1.05zM74.0 86.6h1.05v1.05h-1.05zM79.8 90.1h1.05v1.05h-1.05zM80.8 96.7h1.05v1.05h-1.05zM76.0 96.8h1.05v1.05h-1.05zM76.9 103.8h1.05v1.05h-1.05zM77.6 96.8h1.05v1.05h-1.05zM78.9 98.4h1.05v1.05h-1.05zM84.9 90.5h1.05v1.05h-1.05zM75.4 99.9h1.05v1.05h-1.05zM82.9 100.7h1.05v1.05h-1.05zM81.8 92.2h1.05v1.05h-1.05zM82.6 91.2h1.05v1.05h-1.05zM79.5 85.9h1.05v1.05h-1.05zM74.4 89.6h1.05v1.05h-1.05zM76.1 93.1h1.05v1.05h-1.05zM79.4 92.6h1.05v1.05h-1.05zM79.4 104.6h1.05v1.05h-1.05zM78.9 95.9h1.05v1.05h-1.05zM75.7 86.4h1.05v1.05h-1.05zM76.9 97.6h1.05v1.05h-1.05zM77.6 99.1h1.05v1.05h-1.05zM77.2 104.0h1.05v1.05h-1.05zM79.4 88.7h1.05v1.05h-1.05zM83.2 91.7h1.05v1.05h-1.05zM77.2 100.7h1.05v1.05h-1.05zM75.1 83.5h1.05v1.05h-1.05zM74.1 99.0h1.05v1.05h-1.05zM80.2 92.6h1.05v1.05h-1.05zM73.1 98.9h1.05v1.05h-1.05zM74.5 93.0h1.05v1.05h-1.05zM80.6 102.3h1.05v1.05h-1.05zM81.9 93.6h1.05v1.05h-1.05zM75.4 99.2h1.05v1.05h-1.05zM77.7 107.9h1.05v1.05h-1.05zM79.1 98.0h1.05v1.05h-1.05zM81.7 95.0h1.05v1.05h-1.05zM78.4 100.2h1.05v1.05h-1.05zM74.8 95.3h1.05v1.05h-1.05zM79.5 89.8h1.05v1.05h-1.05zM72.4 93.1h1.05v1.05h-1.05zM77.1 93.5h1.05v1.05h-1.05zM73.9 94.9h1.05v1.05h-1.05zM79.9 84.0h1.05v1.05h-1.05zM81.5 101.6h1.05v1.05h-1.05zM72.7 88.2h1.05v1.05h-1.05zM81.8 92.9h1.05v1.05h-1.05zM80.2 98.5h1.05v1.05h-1.05zM78.6 107.8h1.05v1.05h-1.05zM82.4 93.9h1.05v1.05h-1.05zM73.9 84.8h1.05v1.05h-1.05zM76.5 83.5h1.05v1.05h-1.05zM74.3 101.5h1.05v1.05h-1.05zM83.6 92.6h1.05v1.05h-1.05zM76.5 95.0h1.05v1.05h-1.05zM79.1 88.7h1.05v1.05h-1.05zM74.9 97.9h1.05v1.05h-1.05zM76.9 87.3h1.05v1.05h-1.05zM81.7 89.7h1.05v1.05h-1.05zM77.9 106.3h1.05v1.05h-1.05zM71.7 99.2h1.05v1.05h-1.05zM76.3 95.7h1.05v1.05h-1.05zM75.1 91.2h1.05v1.05h-1.05zM78.3 100.2h1.05v1.05h-1.05zM74.4 91.4h1.05v1.05h-1.05zM82.1 85.8h1.05v1.05h-1.05zM73.9 86.6h1.05v1.05h-1.05zM78.6 102.6h1.05v1.05h-1.05zM82.1 93.8h1.05v1.05h-1.05zM78.9 84.7h1.05v1.05h-1.05zM73.6 91.0h1.05v1.05h-1.05zM75.8 100.1h1.05v1.05h-1.05zM73.6 87.9h1.05v1.05h-1.05zM72.7 95.1h1.05v1.05h-1.05zM73.3 95.0h1.05v1.05h-1.05zM81.7 94.0h1.05v1.05h-1.05zM79.8 96.3h1.05v1.05h-1.05zM83.1 103.4h1.05v1.05h-1.05zM84.7 101.1h1.05v1.05h-1.05zM77.6 103.6h1.05v1.05h-1.05zM82.9 90.8h1.05v1.05h-1.05zM76.2 88.9h1.05v1.05h-1.05zM84.4 99.6h1.05v1.05h-1.05zM80.5 103.2h1.05v1.05h-1.05zM82.2 94.5h1.05v1.05h-1.05zM80.2 97.4h1.05v1.05h-1.05zM74.4 89.9h1.05v1.05h-1.05zM84.2 104.7h1.05v1.05h-1.05zM78.6 92.5h1.05v1.05h-1.05zM82.4 99.8h1.05v1.05h-1.05zM76.3 89.1h1.05v1.05h-1.05zM77.1 92.4h1.05v1.05h-1.05zM83.1 103.0h1.05v1.05h-1.05zM81.5 98.3h1.05v1.05h-1.05zM73.7 100.6h1.05v1.05h-1.05zM78.8 91.3h1.05v1.05h-1.05zM75.5 99.8h1.05v1.05h-1.05zM71.9 86.5h1.05v1.05h-1.05zM85.8 94.4h1.05v1.05h-1.05zM77.9 87.9h1.05v1.05h-1.05zM84.2 98.3h1.05v1.05h-1.05zM76.5 92.2h1.05v1.05h-1.05zM73.0 87.1h1.05v1.05h-1.05zM82.1 90.1h1.05v1.05h-1.05zM71.0 92.2h1.05v1.05h-1.05zM76.3 92.7h1.05v1.05h-1.05zM77.7 92.5h1.05v1.05h-1.05zM73.3 85.4h1.05v1.05h-1.05zM78.0 99.6h1.05v1.05h-1.05zM71.0 94.8h1.05v1.05h-1.05zM72.3 98.5h1.05v1.05h-1.05zM75.5 100.3h1.05v1.05h-1.05zM76.3 83.3h1.05v1.05h-1.05zM73.0 99.0h1.05v1.05h-1.05zM75.9 96.6h1.05v1.05h-1.05zM81.8 90.5h1.05v1.05h-1.05zM76.0 101.9h1.05v1.05h-1.05zM78.2 93.7h1.05v1.05h-1.05zM79.7 84.4h1.05v1.05h-1.05zM77.9 89.5h1.05v1.05h-1.05zM72.2 96.2h1.05v1.05h-1.05zM82.3 96.3h1.05v1.05h-1.05zM78.5 100.4h1.05v1.05h-1.05zM76.3 92.6h1.05v1.05h-1.05zM75.5 88.0h1.05v1.05h-1.05zM74.3 97.4h1.05v1.05h-1.05zM77.7 84.8h1.05v1.05h-1.05zM82.9 96.4h1.05v1.05h-1.05zM72.3 101.4h1.05v1.05h-1.05zM85.5 95.9h1.05v1.05h-1.05zM82.4 92.2h1.05v1.05h-1.05zM77.8 90.1h1.05v1.05h-1.05zM73.3 89.8h1.05v1.05h-1.05zM74.2 86.5h1.05v1.05h-1.05zM79.7 104.5h1.05v1.05h-1.05zM81.9 85.5h1.05v1.05h-1.05zM84.9 90.6h1.05v1.05h-1.05zM70.7 95.5h1.05v1.05h-1.05zM77.4 83.1h1.05v1.05h-1.05zM73.2 88.1h1.05v1.05h-1.05zM83.6 96.3h1.05v1.05h-1.05zM74.5 94.1h1.05v1.05h-1.05zM76.3 100.3h1.05v1.05h-1.05zM80.0 100.0h1.05v1.05h-1.05zM74.4 95.9h1.05v1.05h-1.05zM75.3 97.8h1.05v1.05h-1.05zM71.1 99.1h1.05v1.05h-1.05zM73.0 97.1h1.05v1.05h-1.05zM72.6 93.9h1.05v1.05h-1.05zM74.0 99.6h1.05v1.05h-1.05zM83.8 105.5h1.05v1.05h-1.05zM74.5 95.7h1.05v1.05h-1.05zM83.2 90.4h1.05v1.05h-1.05zM80.4 88.7h1.05v1.05h-1.05zM82.7 95.4h1.05v1.05h-1.05zM74.9 94.0h1.05v1.05h-1.05zM76.6 100.4h1.05v1.05h-1.05zM77.2 98.0h1.05v1.05h-1.05zM78.6 102.7h1.05v1.05h-1.05zM84.0 102.3h1.05v1.05h-1.05zM76.8 95.8h1.05v1.05h-1.05zM70.9 97.4h1.05v1.05h-1.05zM74.1 85.7h1.05v1.05h-1.05zM82.9 98.6h1.05v1.05h-1.05zM79.7 106.3h1.05v1.05h-1.05zM73.2 98.3h1.05v1.05h-1.05zM73.4 88.8h1.05v1.05h-1.05zM77.2 91.8h1.05v1.05h-1.05zM82.7 87.6h1.05v1.05h-1.05zM74.5 104.2h1.05v1.05h-1.05zM80.0 88.2h1.05v1.05h-1.05zM82.1 93.0h1.05v1.05h-1.05zM77.1 100.8h1.05v1.05h-1.05zM81.2 85.0h1.05v1.05h-1.05zM72.9 84.9h1.05v1.05h-1.05zM78.7 95.9h1.05v1.05h-1.05zM72.5 95.2h1.05v1.05h-1.05zM83.4 97.1h1.05v1.05h-1.05zM83.0 98.4h1.05v1.05h-1.05zM77.8 104.6h1.05v1.05h-1.05zM73.9 91.8h1.05v1.05h-1.05zM85.1 99.8h1.05v1.05h-1.05zM83.5 93.0h1.05v1.05h-1.05zM81.8 85.7h1.05v1.05h-1.05zM74.2 99.0h1.05v1.05h-1.05zM77.2 86.0h1.05v1.05h-1.05zM70.9 96.2h1.05v1.05h-1.05zM75.6 95.5h1.05v1.05h-1.05zM71.1 91.3h1.05v1.05h-1.05zM78.6 83.4h1.05v1.05h-1.05zM78.5 105.4h1.05v1.05h-1.05zM80.2 84.7h1.05v1.05h-1.05zM79.1 86.2h1.05v1.05h-1.05zM74.3 84.5h1.05v1.05h-1.05zM77.5 97.9h1.05v1.05h-1.05zM78.1 86.3h1.05v1.05h-1.05zM78.2 100.0h1.05v1.05h-1.05zM82.9 90.4h1.05v1.05h-1.05zM80.8 103.2h1.05v1.05h-1.05zM74.0 101.6h1.05v1.05h-1.05zM80.0 106.0h1.05v1.05h-1.05zM72.3 100.1h1.05v1.05h-1.05zM71.1 95.4h1.05v1.05h-1.05zM74.2 92.6h1.05v1.05h-1.05zM81.4 99.4h1.05v1.05h-1.05zM81.3 106.8h1.05v1.05h-1.05zM82.6 105.6h1.05v1.05h-1.05zM76.3 87.1h1.05v1.05h-1.05zM77.4 105.4h1.05v1.05h-1.05zM72.8 87.0h1.05v1.05h-1.05zM83.2 88.3h1.05v1.05h-1.05zM72.7 93.0h1.05v1.05h-1.05zM85.3 93.2h1.05v1.05h-1.05zM85.3 102.1h1.05v1.05h-1.05zM79.8 95.8h1.05v1.05h-1.05zM82.6 98.4h1.05v1.05h-1.05zM77.4 105.6h1.05v1.05h-1.05zM74.4 92.3h1.05v1.05h-1.05zM81.5 107.7h1.05v1.05h-1.05zM74.7 100.2h1.05v1.05h-1.05zM82.3 105.4h1.05v1.05h-1.05zM81.0 97.0h1.05v1.05h-1.05zM72.7 96.0h1.05v1.05h-1.05zM72.7 90.9h1.05v1.05h-1.05zM80.1 89.0h1.05v1.05h-1.05zM81.9 88.5h1.05v1.05h-1.05zM75.6 83.1h1.05v1.05h-1.05zM74.3 104.2h1.05v1.05h-1.05zM83.0 99.7h1.05v1.05h-1.05zM80.5 85.1h1.05v1.05h-1.05zM79.1 86.4h1.05v1.05h-1.05zM74.3 96.2h1.05v1.05h-1.05zM83.8 89.9h1.05v1.05h-1.05zM84.4 103.2h1.05v1.05h-1.05zM80.3 99.5h1.05v1.05h-1.05zM83.9 94.1h1.05v1.05h-1.05zM75.9 104.0h1.05v1.05h-1.05zM75.4 99.2h1.05v1.05h-1.05zM73.9 102.0h1.05v1.05h-1.05zM74.4 93.2h1.05v1.05h-1.05zM82.7 105.0h1.05v1.05h-1.05zM73.0 103.3h1.05v1.05h-1.05zM81.8 101.8h1.05v1.05h-1.05zM75.7 98.4h1.05v1.05h-1.05zM73.9 104.1h1.05v1.05h-1.05zM73.0 93.8h1.05v1.05h-1.05zM81.6 92.6h1.05v1.05h-1.05zM81.4 104.9h1.05v1.05h-1.05zM81.9 106.0h1.05v1.05h-1.05zM81.6 103.6h1.05v1.05h-1.05zM84.9 98.3h1.05v1.05h-1.05zM79.1 85.7h1.05v1.05h-1.05zM71.1 92.4h1.05v1.05h-1.05zM74.6 97.3h1.05v1.05h-1.05zM72.6 98.1h1.05v1.05h-1.05zM73.2 86.9h1.05v1.05h-1.05zM76.1 91.0h1.05v1.05h-1.05zM82.3 96.4h1.05v1.05h-1.05zM75.3 85.4h1.05v1.05h-1.05zM73.2 96.2h1.05v1.05h-1.05zM74.1 95.2h1.05v1.05h-1.05zM78.5 88.7h1.05v1.05h-1.05zM71.2 93.2h1.05v1.05h-1.05zM79.8 91.1h1.05v1.05h-1.05zM78.2 94.1h1.05v1.05h-1.05zM85.0 99.0h1.05v1.05h-1.05zM79.5 95.9h1.05v1.05h-1.05zM84.2 94.2h1.05v1.05h-1.05zM78.9 87.5h1.05v1.05h-1.05zM76.7 102.5h1.05v1.05h-1.05zM78.1 93.3h1.05v1.05h-1.05zM84.7 93.3h1.05v1.05h-1.05zM72.8 94.9h1.05v1.05h-1.05zM74.8 88.5h1.05v1.05h-1.05zM80.9 89.8h1.05v1.05h-1.05zM83.7 101.4h1.05v1.05h-1.05zM80.6 86.1h1.05v1.05h-1.05zM78.5 105.2h1.05v1.05h-1.05zM81.0 85.9h1.05v1.05h-1.05zM76.6 101.3h1.05v1.05h-1.05zM82.2 106.1h1.05v1.05h-1.05zM73.7 84.5h1.05v1.05h-1.05zM75.3 84.0h1.05v1.05h-1.05zM74.1 85.0h1.05v1.05h-1.05zM79.2 89.2h1.05v1.05h-1.05zM79.9 101.7h1.05v1.05h-1.05zM73.3 84.8h1.05v1.05h-1.05zM78.8 92.6h1.05v1.05h-1.05zM77.5 91.7h1.05v1.05h-1.05zM82.8 99.4h1.05v1.05h-1.05zM82.1 99.5h1.05v1.05h-1.05zM78.8 86.7h1.05v1.05h-1.05zM77.7 88.6h1.05v1.05h-1.05zM76.7 104.3h1.05v1.05h-1.05zM71.4 98.4h1.05v1.05h-1.05zM74.2 87.8h1.05v1.05h-1.05zM74.8 92.5h1.05v1.05h-1.05zM81.2 92.8h1.05v1.05h-1.05zM85.3 93.7h1.05v1.05h-1.05zM84.1 92.4h1.05v1.05h-1.05zM78.9 101.6h1.05v1.05h-1.05zM77.3 93.0h1.05v1.05h-1.05zM72.2 86.0h1.05v1.05h-1.05zM74.8 93.1h1.05v1.05h-1.05zM78.1 107.3h1.05v1.05h-1.05zM79.9 105.4h1.05v1.05h-1.05zM75.3 84.8h1.05v1.05h-1.05zM83.4 96.6h1.05v1.05h-1.05zM77.9 84.7h1.05v1.05h-1.05zM79.5 97.6h1.05v1.05h-1.05zM75.1 93.1h1.05v1.05h-1.05zM75.5 104.4h1.05v1.05h-1.05zM77.4 83.1h1.05v1.05h-1.05zM76.2 94.1h1.05v1.05h-1.05zM81.6 89.6h1.05v1.05h-1.05zM72.1 99.6h1.05v1.05h-1.05zM73.0 86.3h1.05v1.05h-1.05zM72.9 87.9h1.05v1.05h-1.05zM71.7 87.0h1.05v1.05h-1.05zM73.3 93.1h1.05v1.05h-1.05zM73.5 100.2h1.05v1.05h-1.05zM77.0 85.9h1.05v1.05h-1.05zM85.9 98.8h1.05v1.05h-1.05z" fill="#58a2e0"/>
<path d="M101.8 48.5h0.95v0.95h-0.95zM123.9 54.3h0.95v0.95h-0.95zM121.6 34.1h0.95v0.95h-0.95zM100.8 44.0h0.95v0.95h-0.95zM119.6 22.6h0.95v0.95h-0.95zM126.8 59.1h0.95v0.95h-0.95zM99.0 37.8h0.95v0.95h-0.95zM114.3 27.2h0.95v0.95h-0.95zM117.8 64.1h0.95v0.95h-0.95zM122.3 43.4h0.95v0.95h-0.95zM101.5 43.2h0.95v0.95h-0.95zM115.3 58.4h0.95v0.95h-0.95zM104.2 33.6h0.95v0.95h-0.95zM110.5 64.7h0.95v0.95h-0.95zM120.1 40.8h0.95v0.95h-0.95zM113.1 60.9h0.95v0.95h-0.95zM127.4 50.7h0.95v0.95h-0.95zM116.3 63.7h0.95v0.95h-0.95zM117.8 53.4h0.95v0.95h-0.95zM124.0 56.7h0.95v0.95h-0.95zM113.1 38.7h0.95v0.95h-0.95zM119.6 34.3h0.95v0.95h-0.95zM111.5 33.2h0.95v0.95h-0.95zM102.9 48.5h0.95v0.95h-0.95zM100.4 45.7h0.95v0.95h-0.95zM100.4 36.9h0.95v0.95h-0.95zM118.0 64.8h0.95v0.95h-0.95zM111.5 26.8h0.95v0.95h-0.95zM107.6 24.5h0.95v0.95h-0.95zM115.8 63.5h0.95v0.95h-0.95zM113.4 50.9h0.95v0.95h-0.95zM126.4 30.6h0.95v0.95h-0.95zM105.1 32.2h0.95v0.95h-0.95zM127.5 43.2h0.95v0.95h-0.95zM113.2 53.0h0.95v0.95h-0.95zM103.3 40.4h0.95v0.95h-0.95zM108.1 60.3h0.95v0.95h-0.95zM124.9 41.2h0.95v0.95h-0.95zM102.2 37.8h0.95v0.95h-0.95zM109.2 32.3h0.95v0.95h-0.95zM116.1 36.0h0.95v0.95h-0.95zM104.7 58.1h0.95v0.95h-0.95zM116.8 50.4h0.95v0.95h-0.95zM109.9 63.3h0.95v0.95h-0.95zM108.7 44.7h0.95v0.95h-0.95zM99.2 44.0h0.95v0.95h-0.95zM112.7 22.6h0.95v0.95h-0.95zM125.2 29.0h0.95v0.95h-0.95zM103.2 39.6h0.95v0.95h-0.95zM110.6 52.3h0.95v0.95h-0.95zM122.8 58.2h0.95v0.95h-0.95zM113.0 66.9h0.95v0.95h-0.95zM122.5 27.8h0.95v0.95h-0.95zM124.7 27.0h0.95v0.95h-0.95zM113.4 65.1h0.95v0.95h-0.95zM108.3 57.5h0.95v0.95h-0.95zM111.2 28.7h0.95v0.95h-0.95zM118.5 41.7h0.95v0.95h-0.95zM113.6 51.4h0.95v0.95h-0.95zM115.2 41.4h0.95v0.95h-0.95zM123.7 45.6h0.95v0.95h-0.95zM104.9 51.5h0.95v0.95h-0.95zM111.0 55.5h0.95v0.95h-0.95zM107.7 27.0h0.95v0.95h-0.95zM105.5 55.1h0.95v0.95h-0.95zM113.0 59.0h0.95v0.95h-0.95zM107.8 60.8h0.95v0.95h-0.95zM117.9 37.4h0.95v0.95h-0.95zM107.8 36.0h0.95v0.95h-0.95zM101.4 41.5h0.95v0.95h-0.95zM114.1 27.9h0.95v0.95h-0.95zM99.0 38.8h0.95v0.95h-0.95zM118.4 42.2h0.95v0.95h-0.95zM123.3 39.0h0.95v0.95h-0.95zM114.8 55.1h0.95v0.95h-0.95zM113.7 51.3h0.95v0.95h-0.95zM125.1 45.6h0.95v0.95h-0.95zM105.2 39.6h0.95v0.95h-0.95zM103.4 56.3h0.95v0.95h-0.95zM105.4 32.0h0.95v0.95h-0.95zM121.2 50.6h0.95v0.95h-0.95zM114.2 57.8h0.95v0.95h-0.95zM107.2 35.5h0.95v0.95h-0.95zM120.4 49.2h0.95v0.95h-0.95zM118.4 65.8h0.95v0.95h-0.95zM121.0 61.9h0.95v0.95h-0.95zM125.9 59.5h0.95v0.95h-0.95zM112.1 30.1h0.95v0.95h-0.95zM115.4 62.7h0.95v0.95h-0.95zM116.8 39.5h0.95v0.95h-0.95zM104.5 37.2h0.95v0.95h-0.95zM119.7 34.6h0.95v0.95h-0.95zM100.3 41.9h0.95v0.95h-0.95zM124.9 43.4h0.95v0.95h-0.95zM121.0 47.1h0.95v0.95h-0.95zM125.5 36.4h0.95v0.95h-0.95zM101.3 44.1h0.95v0.95h-0.95zM119.4 30.3h0.95v0.95h-0.95zM124.4 36.7h0.95v0.95h-0.95zM124.5 48.6h0.95v0.95h-0.95zM126.7 33.0h0.95v0.95h-0.95zM108.5 28.0h0.95v0.95h-0.95zM106.9 54.8h0.95v0.95h-0.95zM109.0 56.8h0.95v0.95h-0.95zM120.5 29.6h0.95v0.95h-0.95zM116.1 45.6h0.95v0.95h-0.95zM120.6 25.0h0.95v0.95h-0.95zM113.1 44.5h0.95v0.95h-0.95zM116.6 62.2h0.95v0.95h-0.95zM109.3 40.6h0.95v0.95h-0.95zM104.0 36.4h0.95v0.95h-0.95zM118.1 37.9h0.95v0.95h-0.95zM114.4 23.4h0.95v0.95h-0.95zM110.9 44.7h0.95v0.95h-0.95zM99.6 49.1h0.95v0.95h-0.95zM102.5 54.8h0.95v0.95h-0.95zM117.4 43.0h0.95v0.95h-0.95zM115.3 44.1h0.95v0.95h-0.95zM122.6 43.3h0.95v0.95h-0.95zM113.2 67.2h0.95v0.95h-0.95zM115.9 40.5h0.95v0.95h-0.95zM109.4 47.2h0.95v0.95h-0.95zM109.1 35.8h0.95v0.95h-0.95zM116.2 24.3h0.95v0.95h-0.95zM113.9 45.3h0.95v0.95h-0.95zM108.2 49.1h0.95v0.95h-0.95zM114.4 60.0h0.95v0.95h-0.95zM101.4 35.6h0.95v0.95h-0.95zM117.4 59.5h0.95v0.95h-0.95zM121.1 37.3h0.95v0.95h-0.95zM116.3 37.1h0.95v0.95h-0.95zM124.7 34.9h0.95v0.95h-0.95zM121.2 30.8h0.95v0.95h-0.95zM115.5 25.6h0.95v0.95h-0.95zM114.5 38.9h0.95v0.95h-0.95zM119.2 36.7h0.95v0.95h-0.95zM100.9 54.6h0.95v0.95h-0.95zM108.3 44.5h0.95v0.95h-0.95zM111.0 53.5h0.95v0.95h-0.95zM120.3 39.3h0.95v0.95h-0.95zM120.6 59.5h0.95v0.95h-0.95zM106.5 26.7h0.95v0.95h-0.95zM103.9 31.8h0.95v0.95h-0.95zM101.4 52.7h0.95v0.95h-0.95zM122.9 60.7h0.95v0.95h-0.95zM118.8 32.3h0.95v0.95h-0.95zM125.5 34.5h0.95v0.95h-0.95zM108.6 60.7h0.95v0.95h-0.95zM119.7 49.8h0.95v0.95h-0.95zM108.7 48.5h0.95v0.95h-0.95zM99.4 45.1h0.95v0.95h-0.95zM110.0 23.6h0.95v0.95h-0.95zM103.0 34.7h0.95v0.95h-0.95zM127.3 50.4h0.95v0.95h-0.95zM115.1 59.3h0.95v0.95h-0.95zM109.0 27.1h0.95v0.95h-0.95zM125.7 39.3h0.95v0.95h-0.95zM116.5 22.1h0.95v0.95h-0.95zM104.7 47.9h0.95v0.95h-0.95zM114.3 66.9h0.95v0.95h-0.95zM112.6 38.0h0.95v0.95h-0.95zM107.9 26.6h0.95v0.95h-0.95zM109.7 29.8h0.95v0.95h-0.95zM107.6 26.7h0.95v0.95h-0.95zM117.4 55.5h0.95v0.95h-0.95zM115.3 52.2h0.95v0.95h-0.95zM117.0 36.2h0.95v0.95h-0.95zM123.2 35.2h0.95v0.95h-0.95zM123.3 31.9h0.95v0.95h-0.95zM103.6 30.0h0.95v0.95h-0.95zM122.6 51.5h0.95v0.95h-0.95zM103.1 47.9h0.95v0.95h-0.95zM105.5 36.2h0.95v0.95h-0.95zM108.3 58.2h0.95v0.95h-0.95zM121.1 63.2h0.95v0.95h-0.95zM110.8 25.1h0.95v0.95h-0.95zM113.3 25.5h0.95v0.95h-0.95zM110.0 47.3h0.95v0.95h-0.95zM109.2 38.9h0.95v0.95h-0.95zM122.1 38.6h0.95v0.95h-0.95zM120.9 39.3h0.95v0.95h-0.95zM119.7 35.8h0.95v0.95h-0.95zM103.3 50.0h0.95v0.95h-0.95zM112.3 55.4h0.95v0.95h-0.95zM121.2 33.5h0.95v0.95h-0.95zM102.6 40.7h0.95v0.95h-0.95zM123.8 50.3h0.95v0.95h-0.95zM114.2 44.3h0.95v0.95h-0.95zM105.1 59.0h0.95v0.95h-0.95zM97.4 41.3h0.95v0.95h-0.95zM116.8 28.8h0.95v0.95h-0.95zM119.6 53.1h0.95v0.95h-0.95zM116.8 46.5h0.95v0.95h-0.95zM107.3 42.0h0.95v0.95h-0.95zM115.2 58.6h0.95v0.95h-0.95zM100.1 48.3h0.95v0.95h-0.95zM119.2 28.0h0.95v0.95h-0.95zM113.2 46.3h0.95v0.95h-0.95zM100.8 32.9h0.95v0.95h-0.95zM110.0 24.3h0.95v0.95h-0.95zM102.4 30.8h0.95v0.95h-0.95zM109.9 24.3h0.95v0.95h-0.95zM118.8 61.0h0.95v0.95h-0.95zM125.4 58.9h0.95v0.95h-0.95zM125.2 27.9h0.95v0.95h-0.95zM118.0 38.4h0.95v0.95h-0.95zM100.5 48.8h0.95v0.95h-0.95zM109.4 56.6h0.95v0.95h-0.95zM114.9 40.6h0.95v0.95h-0.95zM100.3 45.3h0.95v0.95h-0.95zM106.0 38.8h0.95v0.95h-0.95zM109.5 38.9h0.95v0.95h-0.95zM122.6 43.0h0.95v0.95h-0.95zM115.4 52.9h0.95v0.95h-0.95zM114.4 34.1h0.95v0.95h-0.95zM104.9 31.9h0.95v0.95h-0.95zM123.2 39.3h0.95v0.95h-0.95zM105.2 61.4h0.95v0.95h-0.95zM122.0 60.2h0.95v0.95h-0.95zM118.7 63.1h0.95v0.95h-0.95zM117.0 60.4h0.95v0.95h-0.95zM105.1 30.4h0.95v0.95h-0.95zM120.5 23.5h0.95v0.95h-0.95zM113.9 41.5h0.95v0.95h-0.95zM102.4 33.0h0.95v0.95h-0.95zM115.5 54.4h0.95v0.95h-0.95zM108.1 64.1h0.95v0.95h-0.95zM102.8 32.3h0.95v0.95h-0.95zM117.8 63.4h0.95v0.95h-0.95zM102.7 31.9h0.95v0.95h-0.95zM112.2 39.6h0.95v0.95h-0.95zM118.1 56.3h0.95v0.95h-0.95zM103.2 52.9h0.95v0.95h-0.95zM102.0 59.5h0.95v0.95h-0.95zM114.9 34.3h0.95v0.95h-0.95zM108.0 24.6h0.95v0.95h-0.95zM122.7 27.2h0.95v0.95h-0.95zM107.1 57.8h0.95v0.95h-0.95zM114.4 51.8h0.95v0.95h-0.95zM112.6 28.5h0.95v0.95h-0.95zM122.1 47.6h0.95v0.95h-0.95zM121.6 23.6h0.95v0.95h-0.95zM102.7 52.5h0.95v0.95h-0.95zM126.2 38.0h0.95v0.95h-0.95zM116.3 66.0h0.95v0.95h-0.95zM104.6 42.3h0.95v0.95h-0.95zM116.4 42.2h0.95v0.95h-0.95zM105.7 34.2h0.95v0.95h-0.95zM119.0 48.7h0.95v0.95h-0.95zM120.2 32.5h0.95v0.95h-0.95zM118.6 28.8h0.95v0.95h-0.95zM111.0 28.6h0.95v0.95h-0.95zM122.9 60.9h0.95v0.95h-0.95zM121.4 33.3h0.95v0.95h-0.95zM107.4 45.6h0.95v0.95h-0.95zM102.7 35.2h0.95v0.95h-0.95zM120.9 57.7h0.95v0.95h-0.95zM108.7 41.9h0.95v0.95h-0.95zM112.3 66.9h0.95v0.95h-0.95zM104.5 43.0h0.95v0.95h-0.95zM117.1 64.1h0.95v0.95h-0.95zM108.8 37.3h0.95v0.95h-0.95zM118.9 38.7h0.95v0.95h-0.95zM124.8 36.9h0.95v0.95h-0.95zM119.7 52.0h0.95v0.95h-0.95zM115.0 42.3h0.95v0.95h-0.95zM124.0 31.1h0.95v0.95h-0.95zM111.9 39.7h0.95v0.95h-0.95zM103.3 56.5h0.95v0.95h-0.95zM115.5 27.0h0.95v0.95h-0.95zM104.6 33.5h0.95v0.95h-0.95zM120.9 54.8h0.95v0.95h-0.95zM100.4 42.5h0.95v0.95h-0.95zM107.4 57.6h0.95v0.95h-0.95zM112.8 66.3h0.95v0.95h-0.95zM109.8 37.4h0.95v0.95h-0.95zM110.6 37.2h0.95v0.95h-0.95zM100.5 37.9h0.95v0.95h-0.95zM131.9 40.9h0.95v0.95h-0.95zM128.4 35.0h0.95v0.95h-0.95zM132.3 41.7h0.95v0.95h-0.95zM135.3 38.6h0.95v0.95h-0.95zM134.7 38.3h0.95v0.95h-0.95zM137.6 40.2h0.95v0.95h-0.95zM132.5 37.0h0.95v0.95h-0.95zM130.5 37.2h0.95v0.95h-0.95zM133.9 38.4h0.95v0.95h-0.95zM133.6 37.8h0.95v0.95h-0.95zM131.0 41.8h0.95v0.95h-0.95zM135.5 39.6h0.95v0.95h-0.95zM134.0 39.4h0.95v0.95h-0.95zM102.9 113.9h0.95v0.95h-0.95zM105.8 113.5h0.95v0.95h-0.95zM103.9 110.2h0.95v0.95h-0.95zM106.2 92.5h0.95v0.95h-0.95zM98.4 96.2h0.95v0.95h-0.95zM105.4 113.4h0.95v0.95h-0.95zM103.3 110.2h0.95v0.95h-0.95zM116.4 101.6h0.95v0.95h-0.95zM99.9 109.8h0.95v0.95h-0.95zM100.3 100.4h0.95v0.95h-0.95zM113.3 96.1h0.95v0.95h-0.95zM111.2 91.1h0.95v0.95h-0.95zM108.0 110.2h0.95v0.95h-0.95zM106.6 94.3h0.95v0.95h-0.95zM115.8 99.5h0.95v0.95h-0.95zM110.5 104.5h0.95v0.95h-0.95zM105.9 105.0h0.95v0.95h-0.95zM100.9 104.4h0.95v0.95h-0.95zM114.7 101.5h0.95v0.95h-0.95zM98.3 95.9h0.95v0.95h-0.95zM111.7 110.0h0.95v0.95h-0.95zM110.7 95.5h0.95v0.95h-0.95zM110.2 113.5h0.95v0.95h-0.95zM100.8 104.5h0.95v0.95h-0.95zM114.2 99.8h0.95v0.95h-0.95zM109.0 114.5h0.95v0.95h-0.95zM111.9 95.2h0.95v0.95h-0.95zM106.7 92.2h0.95v0.95h-0.95zM106.7 93.6h0.95v0.95h-0.95zM106.9 109.7h0.95v0.95h-0.95zM113.9 104.4h0.95v0.95h-0.95zM105.1 98.4h0.95v0.95h-0.95zM108.4 103.0h0.95v0.95h-0.95zM101.4 99.2h0.95v0.95h-0.95zM97.6 97.0h0.95v0.95h-0.95zM105.5 101.2h0.95v0.95h-0.95zM100.8 96.1h0.95v0.95h-0.95zM101.0 105.0h0.95v0.95h-0.95zM102.9 103.9h0.95v0.95h-0.95zM109.9 103.6h0.95v0.95h-0.95zM110.2 112.4h0.95v0.95h-0.95zM103.3 112.5h0.95v0.95h-0.95zM104.4 104.1h0.95v0.95h-0.95zM111.4 105.2h0.95v0.95h-0.95zM112.9 111.5h0.95v0.95h-0.95zM102.5 108.6h0.95v0.95h-0.95zM108.3 95.1h0.95v0.95h-0.95zM112.9 96.1h0.95v0.95h-0.95zM97.7 97.5h0.95v0.95h-0.95zM107.5 109.1h0.95v0.95h-0.95zM106.4 98.5h0.95v0.95h-0.95zM104.1 113.7h0.95v0.95h-0.95zM110.5 96.2h0.95v0.95h-0.95zM105.6 101.4h0.95v0.95h-0.95zM103.9 113.3h0.95v0.95h-0.95zM108.9 103.9h0.95v0.95h-0.95zM109.7 95.2h0.95v0.95h-0.95zM111.8 97.5h0.95v0.95h-0.95zM108.2 92.3h0.95v0.95h-0.95zM105.5 110.2h0.95v0.95h-0.95zM107.6 105.7h0.95v0.95h-0.95zM112.5 109.0h0.95v0.95h-0.95zM102.7 92.5h0.95v0.95h-0.95zM99.7 106.7h0.95v0.95h-0.95zM102.6 108.6h0.95v0.95h-0.95zM109.0 112.9h0.95v0.95h-0.95zM100.1 90.8h0.95v0.95h-0.95zM108.4 115.4h0.95v0.95h-0.95zM114.3 112.6h0.95v0.95h-0.95zM111.9 110.6h0.95v0.95h-0.95zM106.7 111.0h0.95v0.95h-0.95zM108.5 90.3h0.95v0.95h-0.95zM105.1 99.9h0.95v0.95h-0.95zM111.4 112.3h0.95v0.95h-0.95zM110.6 101.6h0.95v0.95h-0.95zM102.3 106.4h0.95v0.95h-0.95zM101.6 111.8h0.95v0.95h-0.95zM103.0 108.5h0.95v0.95h-0.95zM111.6 100.3h0.95v0.95h-0.95zM108.0 96.8h0.95v0.95h-0.95zM101.8 95.0h0.95v0.95h-0.95zM107.0 91.9h0.95v0.95h-0.95zM104.7 91.1h0.95v0.95h-0.95zM102.7 99.4h0.95v0.95h-0.95zM102.6 90.8h0.95v0.95h-0.95zM105.9 112.8h0.95v0.95h-0.95zM111.2 99.3h0.95v0.95h-0.95zM113.3 108.5h0.95v0.95h-0.95zM103.1 109.6h0.95v0.95h-0.95zM114.2 98.3h0.95v0.95h-0.95zM98.2 99.9h0.95v0.95h-0.95zM101.5 110.3h0.95v0.95h-0.95zM103.3 105.7h0.95v0.95h-0.95zM100.7 109.4h0.95v0.95h-0.95zM108.2 114.0h0.95v0.95h-0.95zM100.4 100.5h0.95v0.95h-0.95zM99.0 99.3h0.95v0.95h-0.95zM99.6 101.3h0.95v0.95h-0.95zM107.9 115.6h0.95v0.95h-0.95zM102.9 93.4h0.95v0.95h-0.95zM102.3 101.7h0.95v0.95h-0.95zM115.0 99.6h0.95v0.95h-0.95zM109.6 103.9h0.95v0.95h-0.95zM103.1 97.5h0.95v0.95h-0.95zM113.9 112.0h0.95v0.95h-0.95zM102.8 97.3h0.95v0.95h-0.95zM112.1 106.3h0.95v0.95h-0.95zM100.0 109.8h0.95v0.95h-0.95zM102.3 103.8h0.95v0.95h-0.95zM108.8 111.9h0.95v0.95h-0.95zM98.0 96.5h0.95v0.95h-0.95zM104.1 89.3h0.95v0.95h-0.95zM107.4 114.2h0.95v0.95h-0.95zM105.0 103.8h0.95v0.95h-0.95zM100.0 98.2h0.95v0.95h-0.95zM101.2 91.0h0.95v0.95h-0.95zM108.5 114.5h0.95v0.95h-0.95zM111.9 102.8h0.95v0.95h-0.95zM108.7 101.2h0.95v0.95h-0.95zM106.1 90.6h0.95v0.95h-0.95zM111.8 103.7h0.95v0.95h-0.95zM101.2 110.5h0.95v0.95h-0.95zM106.2 109.5h0.95v0.95h-0.95zM101.2 102.8h0.95v0.95h-0.95zM107.0 101.7h0.95v0.95h-0.95zM110.3 102.5h0.95v0.95h-0.95zM116.1 104.0h0.95v0.95h-0.95zM110.1 112.6h0.95v0.95h-0.95zM117.4 82.0h0.95v0.95h-0.95zM127.0 76.1h0.95v0.95h-0.95zM117.2 92.9h0.95v0.95h-0.95zM117.5 93.9h0.95v0.95h-0.95zM119.2 90.3h0.95v0.95h-0.95zM123.1 84.4h0.95v0.95h-0.95zM114.8 92.6h0.95v0.95h-0.95zM125.1 89.7h0.95v0.95h-0.95zM121.8 73.4h0.95v0.95h-0.95zM114.5 77.1h0.95v0.95h-0.95zM120.2 85.1h0.95v0.95h-0.95zM124.0 76.8h0.95v0.95h-0.95zM115.9 73.0h0.95v0.95h-0.95zM126.4 84.8h0.95v0.95h-0.95zM117.8 86.9h0.95v0.95h-0.95zM117.4 94.8h0.95v0.95h-0.95zM122.8 94.4h0.95v0.95h-0.95zM115.8 74.7h0.95v0.95h-0.95zM118.9 77.8h0.95v0.95h-0.95zM124.6 86.1h0.95v0.95h-0.95zM116.1 81.6h0.95v0.95h-0.95zM120.0 93.7h0.95v0.95h-0.95zM121.5 81.8h0.95v0.95h-0.95zM119.1 72.0h0.95v0.95h-0.95zM118.7 84.9h0.95v0.95h-0.95zM116.2 84.0h0.95v0.95h-0.95zM116.4 87.5h0.95v0.95h-0.95zM119.6 83.7h0.95v0.95h-0.95zM122.5 77.0h0.95v0.95h-0.95zM117.2 86.2h0.95v0.95h-0.95zM121.5 97.0h0.95v0.95h-0.95zM120.1 84.5h0.95v0.95h-0.95zM117.0 95.2h0.95v0.95h-0.95zM126.9 78.9h0.95v0.95h-0.95zM118.8 73.0h0.95v0.95h-0.95zM123.7 73.2h0.95v0.95h-0.95zM124.5 93.4h0.95v0.95h-0.95zM114.5 89.6h0.95v0.95h-0.95zM126.1 76.2h0.95v0.95h-0.95zM121.8 75.6h0.95v0.95h-0.95zM118.2 80.0h0.95v0.95h-0.95zM128.2 74.4h0.95v0.95h-0.95zM114.4 80.8h0.95v0.95h-0.95zM114.7 91.5h0.95v0.95h-0.95zM122.7 89.2h0.95v0.95h-0.95zM122.6 92.8h0.95v0.95h-0.95zM124.1 87.5h0.95v0.95h-0.95zM115.5 71.8h0.95v0.95h-0.95zM126.8 91.5h0.95v0.95h-0.95zM120.7 89.4h0.95v0.95h-0.95zM121.8 80.5h0.95v0.95h-0.95zM123.2 80.1h0.95v0.95h-0.95zM119.6 86.5h0.95v0.95h-0.95zM119.7 91.1h0.95v0.95h-0.95zM128.4 73.6h0.95v0.95h-0.95zM124.6 90.3h0.95v0.95h-0.95zM116.7 86.5h0.95v0.95h-0.95zM118.2 94.7h0.95v0.95h-0.95zM116.3 75.7h0.95v0.95h-0.95zM122.1 83.1h0.95v0.95h-0.95zM128.3 85.4h0.95v0.95h-0.95zM129.0 79.5h0.95v0.95h-0.95zM125.7 84.8h0.95v0.95h-0.95zM126.3 97.0h0.95v0.95h-0.95zM124.2 83.2h0.95v0.95h-0.95zM118.7 89.1h0.95v0.95h-0.95zM127.8 88.3h0.95v0.95h-0.95zM114.2 82.4h0.95v0.95h-0.95zM120.6 88.9h0.95v0.95h-0.95zM119.6 89.9h0.95v0.95h-0.95zM119.7 79.9h0.95v0.95h-0.95zM120.6 72.7h0.95v0.95h-0.95zM122.3 84.9h0.95v0.95h-0.95zM119.4 79.6h0.95v0.95h-0.95zM128.7 86.3h0.95v0.95h-0.95zM121.1 88.8h0.95v0.95h-0.95zM118.5 77.1h0.95v0.95h-0.95zM123.9 94.7h0.95v0.95h-0.95zM125.7 84.4h0.95v0.95h-0.95zM118.9 82.4h0.95v0.95h-0.95zM118.0 79.2h0.95v0.95h-0.95zM123.1 87.2h0.95v0.95h-0.95zM115.0 83.4h0.95v0.95h-0.95zM115.8 73.4h0.95v0.95h-0.95zM126.5 82.5h0.95v0.95h-0.95zM115.0 88.9h0.95v0.95h-0.95zM125.5 79.8h0.95v0.95h-0.95zM126.4 74.1h0.95v0.95h-0.95zM119.3 74.2h0.95v0.95h-0.95zM121.7 72.1h0.95v0.95h-0.95zM128.0 75.1h0.95v0.95h-0.95zM113.9 79.4h0.95v0.95h-0.95zM119.4 91.9h0.95v0.95h-0.95zM128.5 80.5h0.95v0.95h-0.95zM121.4 87.2h0.95v0.95h-0.95zM122.8 73.5h0.95v0.95h-0.95zM115.1 78.0h0.95v0.95h-0.95zM137.8 89.3h0.95v0.95h-0.95zM138.5 95.6h0.95v0.95h-0.95zM133.0 106.6h0.95v0.95h-0.95zM128.5 89.2h0.95v0.95h-0.95zM134.6 88.8h0.95v0.95h-0.95zM132.6 95.5h0.95v0.95h-0.95zM131.0 98.6h0.95v0.95h-0.95zM136.6 99.5h0.95v0.95h-0.95zM126.8 95.7h0.95v0.95h-0.95zM137.7 85.8h0.95v0.95h-0.95zM128.1 102.0h0.95v0.95h-0.95zM139.2 88.3h0.95v0.95h-0.95zM133.2 88.1h0.95v0.95h-0.95zM131.8 102.8h0.95v0.95h-0.95zM134.5 107.0h0.95v0.95h-0.95zM132.5 87.6h0.95v0.95h-0.95zM135.3 93.2h0.95v0.95h-0.95zM126.3 97.4h0.95v0.95h-0.95zM135.6 103.5h0.95v0.95h-0.95zM136.4 92.7h0.95v0.95h-0.95zM128.4 102.2h0.95v0.95h-0.95zM126.8 99.9h0.95v0.95h-0.95zM138.8 93.7h0.95v0.95h-0.95zM137.6 105.1h0.95v0.95h-0.95zM130.2 88.1h0.95v0.95h-0.95zM140.9 93.2h0.95v0.95h-0.95zM135.9 103.4h0.95v0.95h-0.95zM135.7 107.8h0.95v0.95h-0.95zM131.8 92.5h0.95v0.95h-0.95zM128.0 101.3h0.95v0.95h-0.95zM126.5 98.3h0.95v0.95h-0.95zM130.7 97.0h0.95v0.95h-0.95zM128.4 92.4h0.95v0.95h-0.95zM137.2 89.3h0.95v0.95h-0.95zM129.3 86.6h0.95v0.95h-0.95zM134.8 85.9h0.95v0.95h-0.95zM132.2 97.6h0.95v0.95h-0.95zM138.5 91.7h0.95v0.95h-0.95zM137.2 93.6h0.95v0.95h-0.95zM136.8 101.6h0.95v0.95h-0.95zM129.2 84.8h0.95v0.95h-0.95zM131.8 83.5h0.95v0.95h-0.95zM127.0 99.2h0.95v0.95h-0.95zM133.6 100.2h0.95v0.95h-0.95zM129.2 86.6h0.95v0.95h-0.95zM133.9 102.6h0.95v0.95h-0.95zM134.2 84.7h0.95v0.95h-0.95zM128.9 91.0h0.95v0.95h-0.95zM131.1 100.1h0.95v0.95h-0.95zM129.7 89.9h0.95v0.95h-0.95zM141.1 94.4h0.95v0.95h-0.95zM137.4 90.1h0.95v0.95h-0.95zM128.6 85.4h0.95v0.95h-0.95zM131.6 83.3h0.95v0.95h-0.95zM133.5 93.7h0.95v0.95h-0.95zM135.1 101.2h0.95v0.95h-0.95zM133.0 84.8h0.95v0.95h-0.95zM132.7 83.1h0.95v0.95h-0.95zM131.6 100.3h0.95v0.95h-0.95zM128.3 97.1h0.95v0.95h-0.95zM129.8 95.7h0.95v0.95h-0.95zM135.7 88.7h0.95v0.95h-0.95zM132.5 98.0h0.95v0.95h-0.95zM132.1 95.8h0.95v0.95h-0.95zM132.5 91.8h0.95v0.95h-0.95zM137.9 88.1h0.95v0.95h-0.95zM129.5 99.0h0.95v0.95h-0.95zM130.6 104.7h0.95v0.95h-0.95zM129.3 101.6h0.95v0.95h-0.95zM131.6 87.1h0.95v0.95h-0.95zM132.7 105.4h0.95v0.95h-0.95zM128.0 93.0h0.95v0.95h-0.95zM129.7 92.3h0.95v0.95h-0.95zM128.0 90.9h0.95v0.95h-0.95zM131.5 86.8h0.95v0.95h-0.95zM135.8 85.1h0.95v0.95h-0.95zM139.2 94.1h0.95v0.95h-0.95zM136.7 104.9h0.95v0.95h-0.95zM136.9 103.6h0.95v0.95h-0.95zM128.5 86.9h0.95v0.95h-0.95zM131.4 91.0h0.95v0.95h-0.95zM140.3 99.0h0.95v0.95h-0.95zM134.8 95.9h0.95v0.95h-0.95zM139.0 91.1h0.95v0.95h-0.95zM135.2 101.7h0.95v0.95h-0.95zM134.1 86.7h0.95v0.95h-0.95zM133.4 107.3h0.95v0.95h-0.95zM127.4 99.6h0.95v0.95h-0.95zM127.0 87.0h0.95v0.95h-0.95z" fill="#98a3c6"/>
<path d="M110.6 60.5h0.95v0.95h-0.95zM126.2 34.2h0.95v0.95h-0.95zM118.3 38.2h0.95v0.95h-0.95zM104.1 48.1h0.95v0.95h-0.95zM126.8 35.4h0.95v0.95h-0.95zM124.9 33.9h0.95v0.95h-0.95zM105.3 40.3h0.95v0.95h-0.95zM116.5 32.9h0.95v0.95h-0.95zM104.4 37.0h0.95v0.95h-0.95zM108.4 26.0h0.95v0.95h-0.95zM107.6 33.0h0.95v0.95h-0.95zM114.9 21.3h0.95v0.95h-0.95zM101.3 57.8h0.95v0.95h-0.95zM114.5 58.2h0.95v0.95h-0.95zM107.2 30.9h0.95v0.95h-0.95zM126.0 59.5h0.95v0.95h-0.95zM124.8 56.3h0.95v0.95h-0.95zM103.5 45.4h0.95v0.95h-0.95zM104.6 53.9h0.95v0.95h-0.95zM125.6 43.5h0.95v0.95h-0.95zM118.8 59.2h0.95v0.95h-0.95zM107.9 46.9h0.95v0.95h-0.95zM104.4 34.4h0.95v0.95h-0.95zM104.6 40.5h0.95v0.95h-0.95zM116.3 64.3h0.95v0.95h-0.95zM99.1 47.5h0.95v0.95h-0.95zM120.5 63.0h0.95v0.95h-0.95zM99.7 41.7h0.95v0.95h-0.95zM100.9 55.1h0.95v0.95h-0.95zM109.6 43.9h0.95v0.95h-0.95zM113.9 36.6h0.95v0.95h-0.95zM102.3 35.6h0.95v0.95h-0.95zM115.2 41.6h0.95v0.95h-0.95zM124.8 32.7h0.95v0.95h-0.95zM118.1 59.3h0.95v0.95h-0.95zM111.6 36.6h0.95v0.95h-0.95zM106.5 34.9h0.95v0.95h-0.95zM122.6 34.2h0.95v0.95h-0.95zM113.3 28.7h0.95v0.95h-0.95zM121.7 47.0h0.95v0.95h-0.95zM109.5 44.8h0.95v0.95h-0.95zM126.6 52.9h0.95v0.95h-0.95zM105.4 31.9h0.95v0.95h-0.95zM101.0 41.8h0.95v0.95h-0.95zM112.4 44.6h0.95v0.95h-0.95zM121.4 51.5h0.95v0.95h-0.95zM113.5 60.9h0.95v0.95h-0.95zM124.3 60.5h0.95v0.95h-0.95zM119.9 54.0h0.95v0.95h-0.95zM100.1 37.7h0.95v0.95h-0.95zM113.4 46.2h0.95v0.95h-0.95zM121.8 32.4h0.95v0.95h-0.95zM100.6 32.4h0.95v0.95h-0.95zM122.1 34.9h0.95v0.95h-0.95zM112.1 25.8h0.95v0.95h-0.95zM124.8 44.9h0.95v0.95h-0.95zM106.7 61.2h0.95v0.95h-0.95zM108.3 41.0h0.95v0.95h-0.95zM104.3 33.0h0.95v0.95h-0.95zM113.7 29.3h0.95v0.95h-0.95zM121.7 42.1h0.95v0.95h-0.95zM106.0 56.2h0.95v0.95h-0.95zM118.9 34.7h0.95v0.95h-0.95zM113.2 30.8h0.95v0.95h-0.95zM103.9 32.7h0.95v0.95h-0.95zM110.2 45.7h0.95v0.95h-0.95zM106.2 42.6h0.95v0.95h-0.95zM119.3 65.3h0.95v0.95h-0.95zM119.2 38.6h0.95v0.95h-0.95zM110.1 59.8h0.95v0.95h-0.95zM103.7 43.3h0.95v0.95h-0.95zM124.2 56.2h0.95v0.95h-0.95zM117.2 36.1h0.95v0.95h-0.95zM102.4 56.9h0.95v0.95h-0.95zM103.7 40.4h0.95v0.95h-0.95zM115.7 38.3h0.95v0.95h-0.95zM104.5 49.4h0.95v0.95h-0.95zM106.5 30.0h0.95v0.95h-0.95zM123.9 46.9h0.95v0.95h-0.95zM118.3 24.5h0.95v0.95h-0.95zM106.5 47.8h0.95v0.95h-0.95zM121.5 30.0h0.95v0.95h-0.95zM127.9 50.4h0.95v0.95h-0.95zM123.6 30.9h0.95v0.95h-0.95zM110.4 48.5h0.95v0.95h-0.95zM111.8 28.8h0.95v0.95h-0.95zM99.9 41.1h0.95v0.95h-0.95zM118.2 24.0h0.95v0.95h-0.95zM113.7 22.7h0.95v0.95h-0.95zM113.4 38.5h0.95v0.95h-0.95zM121.7 59.9h0.95v0.95h-0.95zM127.6 33.5h0.95v0.95h-0.95zM113.5 35.6h0.95v0.95h-0.95zM99.4 46.0h0.95v0.95h-0.95zM118.2 37.6h0.95v0.95h-0.95zM116.2 63.2h0.95v0.95h-0.95zM116.4 52.5h0.95v0.95h-0.95zM113.8 63.9h0.95v0.95h-0.95zM117.8 43.3h0.95v0.95h-0.95zM115.5 37.2h0.95v0.95h-0.95zM109.9 31.6h0.95v0.95h-0.95zM124.6 28.6h0.95v0.95h-0.95zM122.1 42.8h0.95v0.95h-0.95zM104.7 31.6h0.95v0.95h-0.95zM120.2 51.1h0.95v0.95h-0.95zM120.4 56.1h0.95v0.95h-0.95zM108.4 60.1h0.95v0.95h-0.95zM118.1 60.4h0.95v0.95h-0.95zM106.8 40.8h0.95v0.95h-0.95zM108.5 35.7h0.95v0.95h-0.95zM99.3 51.2h0.95v0.95h-0.95zM120.4 58.6h0.95v0.95h-0.95zM109.7 39.3h0.95v0.95h-0.95zM102.7 32.9h0.95v0.95h-0.95zM127.7 44.6h0.95v0.95h-0.95zM109.0 63.3h0.95v0.95h-0.95zM114.4 57.0h0.95v0.95h-0.95zM122.4 51.7h0.95v0.95h-0.95zM99.8 42.6h0.95v0.95h-0.95zM107.1 29.3h0.95v0.95h-0.95zM121.7 41.3h0.95v0.95h-0.95zM120.3 44.5h0.95v0.95h-0.95zM100.4 49.6h0.95v0.95h-0.95zM109.9 56.3h0.95v0.95h-0.95zM128.0 41.1h0.95v0.95h-0.95zM110.5 31.2h0.95v0.95h-0.95zM126.0 53.3h0.95v0.95h-0.95zM98.8 40.6h0.95v0.95h-0.95zM118.0 32.3h0.95v0.95h-0.95zM101.1 58.3h0.95v0.95h-0.95zM98.9 48.2h0.95v0.95h-0.95zM108.0 51.3h0.95v0.95h-0.95zM112.2 34.4h0.95v0.95h-0.95zM125.3 37.4h0.95v0.95h-0.95zM125.9 33.1h0.95v0.95h-0.95zM110.7 51.2h0.95v0.95h-0.95zM123.7 61.1h0.95v0.95h-0.95zM102.4 53.9h0.95v0.95h-0.95zM114.4 56.4h0.95v0.95h-0.95zM111.1 63.3h0.95v0.95h-0.95zM108.8 40.5h0.95v0.95h-0.95zM107.5 62.2h0.95v0.95h-0.95zM125.1 34.4h0.95v0.95h-0.95zM125.1 39.8h0.95v0.95h-0.95zM106.1 48.7h0.95v0.95h-0.95zM118.2 58.4h0.95v0.95h-0.95zM117.5 50.7h0.95v0.95h-0.95zM119.8 30.4h0.95v0.95h-0.95zM124.9 58.5h0.95v0.95h-0.95zM115.5 32.6h0.95v0.95h-0.95zM106.2 40.7h0.95v0.95h-0.95zM124.5 48.2h0.95v0.95h-0.95zM128.4 41.9h0.95v0.95h-0.95zM116.6 65.9h0.95v0.95h-0.95zM110.1 25.0h0.95v0.95h-0.95zM121.2 31.9h0.95v0.95h-0.95zM121.6 24.1h0.95v0.95h-0.95zM117.9 54.8h0.95v0.95h-0.95zM106.5 55.7h0.95v0.95h-0.95zM111.1 53.2h0.95v0.95h-0.95zM108.4 51.6h0.95v0.95h-0.95zM118.0 40.5h0.95v0.95h-0.95zM120.6 60.5h0.95v0.95h-0.95zM107.3 49.7h0.95v0.95h-0.95zM110.7 63.5h0.95v0.95h-0.95zM110.5 48.7h0.95v0.95h-0.95zM115.9 33.4h0.95v0.95h-0.95zM107.8 24.2h0.95v0.95h-0.95zM123.8 42.5h0.95v0.95h-0.95zM116.2 63.9h0.95v0.95h-0.95zM123.6 27.7h0.95v0.95h-0.95zM126.5 43.8h0.95v0.95h-0.95zM115.7 32.8h0.95v0.95h-0.95zM111.8 66.4h0.95v0.95h-0.95zM104.6 47.7h0.95v0.95h-0.95zM116.6 57.1h0.95v0.95h-0.95zM121.1 29.6h0.95v0.95h-0.95zM125.6 50.8h0.95v0.95h-0.95zM117.9 27.0h0.95v0.95h-0.95zM106.8 64.3h0.95v0.95h-0.95zM104.6 29.9h0.95v0.95h-0.95zM121.5 34.4h0.95v0.95h-0.95zM125.3 45.8h0.95v0.95h-0.95zM102.0 41.3h0.95v0.95h-0.95zM120.9 29.6h0.95v0.95h-0.95zM117.3 54.7h0.95v0.95h-0.95zM108.7 49.1h0.95v0.95h-0.95zM111.3 45.3h0.95v0.95h-0.95zM113.8 46.0h0.95v0.95h-0.95zM104.3 60.0h0.95v0.95h-0.95zM109.9 26.7h0.95v0.95h-0.95zM100.6 48.1h0.95v0.95h-0.95zM124.6 61.5h0.95v0.95h-0.95zM118.4 33.0h0.95v0.95h-0.95zM114.8 65.3h0.95v0.95h-0.95zM117.7 32.3h0.95v0.95h-0.95zM114.0 41.3h0.95v0.95h-0.95zM106.5 31.9h0.95v0.95h-0.95zM109.1 48.7h0.95v0.95h-0.95zM105.9 57.8h0.95v0.95h-0.95zM111.1 56.0h0.95v0.95h-0.95zM108.0 53.1h0.95v0.95h-0.95zM121.9 56.4h0.95v0.95h-0.95zM122.9 48.7h0.95v0.95h-0.95zM123.5 62.8h0.95v0.95h-0.95zM117.2 38.6h0.95v0.95h-0.95zM123.6 61.6h0.95v0.95h-0.95zM100.5 48.2h0.95v0.95h-0.95zM110.7 64.6h0.95v0.95h-0.95zM120.0 39.1h0.95v0.95h-0.95zM109.7 47.5h0.95v0.95h-0.95zM111.1 50.6h0.95v0.95h-0.95zM113.8 25.4h0.95v0.95h-0.95zM127.3 40.6h0.95v0.95h-0.95zM113.7 44.7h0.95v0.95h-0.95zM118.2 22.1h0.95v0.95h-0.95zM106.3 53.8h0.95v0.95h-0.95zM116.0 40.1h0.95v0.95h-0.95zM123.0 35.8h0.95v0.95h-0.95zM111.5 38.9h0.95v0.95h-0.95zM111.1 50.4h0.95v0.95h-0.95zM106.6 64.0h0.95v0.95h-0.95zM113.1 66.5h0.95v0.95h-0.95zM120.7 32.8h0.95v0.95h-0.95zM127.7 48.8h0.95v0.95h-0.95zM108.5 32.1h0.95v0.95h-0.95zM106.9 52.5h0.95v0.95h-0.95zM99.2 47.5h0.95v0.95h-0.95zM99.8 55.1h0.95v0.95h-0.95zM119.2 37.2h0.95v0.95h-0.95zM110.2 52.3h0.95v0.95h-0.95zM120.5 32.2h0.95v0.95h-0.95zM125.8 37.3h0.95v0.95h-0.95zM106.2 38.7h0.95v0.95h-0.95zM118.3 28.8h0.95v0.95h-0.95zM125.5 47.9h0.95v0.95h-0.95zM126.0 49.8h0.95v0.95h-0.95zM117.9 42.2h0.95v0.95h-0.95zM120.8 52.8h0.95v0.95h-0.95zM113.9 41.8h0.95v0.95h-0.95zM102.4 54.4h0.95v0.95h-0.95zM111.4 25.5h0.95v0.95h-0.95zM107.0 43.0h0.95v0.95h-0.95zM110.9 29.3h0.95v0.95h-0.95zM117.9 65.8h0.95v0.95h-0.95zM102.0 51.3h0.95v0.95h-0.95zM101.4 58.4h0.95v0.95h-0.95zM125.2 56.4h0.95v0.95h-0.95zM115.7 50.8h0.95v0.95h-0.95zM124.8 54.6h0.95v0.95h-0.95zM111.1 29.3h0.95v0.95h-0.95zM123.6 40.8h0.95v0.95h-0.95zM113.8 40.6h0.95v0.95h-0.95zM115.6 37.1h0.95v0.95h-0.95zM118.6 34.7h0.95v0.95h-0.95zM119.7 41.9h0.95v0.95h-0.95zM112.9 47.1h0.95v0.95h-0.95zM103.5 48.1h0.95v0.95h-0.95zM116.5 23.9h0.95v0.95h-0.95zM123.2 26.7h0.95v0.95h-0.95zM103.8 38.2h0.95v0.95h-0.95zM107.6 57.4h0.95v0.95h-0.95zM119.8 60.5h0.95v0.95h-0.95zM99.7 38.3h0.95v0.95h-0.95zM126.8 46.4h0.95v0.95h-0.95zM126.7 49.9h0.95v0.95h-0.95zM101.4 37.7h0.95v0.95h-0.95zM112.1 48.3h0.95v0.95h-0.95zM109.3 37.3h0.95v0.95h-0.95zM126.7 57.9h0.95v0.95h-0.95zM121.5 47.0h0.95v0.95h-0.95zM108.2 57.9h0.95v0.95h-0.95zM101.2 33.1h0.95v0.95h-0.95zM116.9 23.9h0.95v0.95h-0.95zM102.1 46.3h0.95v0.95h-0.95zM126.8 51.4h0.95v0.95h-0.95zM119.7 36.6h0.95v0.95h-0.95zM122.9 24.4h0.95v0.95h-0.95zM124.6 40.7h0.95v0.95h-0.95zM114.7 48.8h0.95v0.95h-0.95zM122.0 32.6h0.95v0.95h-0.95zM114.1 66.1h0.95v0.95h-0.95zM122.5 24.4h0.95v0.95h-0.95zM115.3 28.9h0.95v0.95h-0.95zM124.1 42.5h0.95v0.95h-0.95zM109.8 62.3h0.95v0.95h-0.95zM112.8 63.7h0.95v0.95h-0.95zM101.1 53.5h0.95v0.95h-0.95zM100.7 56.1h0.95v0.95h-0.95zM119.9 24.4h0.95v0.95h-0.95zM113.5 31.3h0.95v0.95h-0.95zM99.6 43.9h0.95v0.95h-0.95zM108.0 44.3h0.95v0.95h-0.95zM127.1 55.8h0.95v0.95h-0.95zM126.8 55.2h0.95v0.95h-0.95zM110.1 27.0h0.95v0.95h-0.95zM117.2 65.4h0.95v0.95h-0.95zM104.5 49.9h0.95v0.95h-0.95zM125.7 58.4h0.95v0.95h-0.95zM103.7 50.8h0.95v0.95h-0.95zM114.2 45.8h0.95v0.95h-0.95zM111.9 51.4h0.95v0.95h-0.95zM100.8 32.3h0.95v0.95h-0.95zM99.0 37.5h0.95v0.95h-0.95zM114.0 31.6h0.95v0.95h-0.95zM102.5 48.0h0.95v0.95h-0.95zM124.5 37.3h0.95v0.95h-0.95zM112.0 42.6h0.95v0.95h-0.95zM125.5 40.3h0.95v0.95h-0.95zM113.7 60.4h0.95v0.95h-0.95zM123.0 57.7h0.95v0.95h-0.95zM113.7 40.6h0.95v0.95h-0.95zM126.1 32.6h0.95v0.95h-0.95zM116.3 37.9h0.95v0.95h-0.95zM111.3 63.0h0.95v0.95h-0.95zM118.3 22.4h0.95v0.95h-0.95zM124.1 44.4h0.95v0.95h-0.95zM105.9 30.3h0.95v0.95h-0.95zM110.2 52.3h0.95v0.95h-0.95zM120.0 27.6h0.95v0.95h-0.95zM116.3 35.6h0.95v0.95h-0.95zM125.6 27.4h0.95v0.95h-0.95zM119.7 25.6h0.95v0.95h-0.95zM105.8 37.0h0.95v0.95h-0.95zM122.3 44.3h0.95v0.95h-0.95zM101.7 58.6h0.95v0.95h-0.95zM115.4 24.7h0.95v0.95h-0.95zM116.7 42.6h0.95v0.95h-0.95zM108.0 38.4h0.95v0.95h-0.95zM101.2 46.2h0.95v0.95h-0.95zM102.4 39.8h0.95v0.95h-0.95zM104.1 49.4h0.95v0.95h-0.95zM117.6 53.9h0.95v0.95h-0.95zM124.6 36.8h0.95v0.95h-0.95zM104.1 56.0h0.95v0.95h-0.95zM119.7 27.4h0.95v0.95h-0.95zM122.4 51.2h0.95v0.95h-0.95zM102.5 50.6h0.95v0.95h-0.95zM125.3 59.3h0.95v0.95h-0.95zM104.4 61.1h0.95v0.95h-0.95zM103.7 29.7h0.95v0.95h-0.95zM113.0 64.5h0.95v0.95h-0.95zM109.4 58.4h0.95v0.95h-0.95zM123.9 53.5h0.95v0.95h-0.95zM107.5 49.1h0.95v0.95h-0.95zM117.1 42.4h0.95v0.95h-0.95zM120.5 41.7h0.95v0.95h-0.95zM117.3 63.8h0.95v0.95h-0.95zM109.5 44.5h0.95v0.95h-0.95zM98.9 47.1h0.95v0.95h-0.95zM127.5 52.6h0.95v0.95h-0.95zM111.4 56.8h0.95v0.95h-0.95zM116.1 22.3h0.95v0.95h-0.95zM116.0 60.5h0.95v0.95h-0.95zM121.9 28.4h0.95v0.95h-0.95zM102.0 35.2h0.95v0.95h-0.95zM111.5 61.0h0.95v0.95h-0.95zM118.0 32.7h0.95v0.95h-0.95zM118.1 53.9h0.95v0.95h-0.95zM123.7 61.1h0.95v0.95h-0.95zM100.7 52.9h0.95v0.95h-0.95zM122.4 44.5h0.95v0.95h-0.95zM124.2 37.6h0.95v0.95h-0.95zM118.0 36.7h0.95v0.95h-0.95zM107.2 47.9h0.95v0.95h-0.95zM124.4 46.3h0.95v0.95h-0.95zM110.6 23.1h0.95v0.95h-0.95zM116.4 39.6h0.95v0.95h-0.95zM113.7 48.8h0.95v0.95h-0.95zM112.5 26.6h0.95v0.95h-0.95zM120.8 42.3h0.95v0.95h-0.95zM109.8 33.8h0.95v0.95h-0.95zM102.4 54.5h0.95v0.95h-0.95zM121.3 55.3h0.95v0.95h-0.95zM104.8 37.4h0.95v0.95h-0.95zM101.2 51.0h0.95v0.95h-0.95zM103.0 48.7h0.95v0.95h-0.95zM112.0 22.1h0.95v0.95h-0.95zM103.9 51.8h0.95v0.95h-0.95zM116.9 23.1h0.95v0.95h-0.95zM103.5 39.2h0.95v0.95h-0.95zM122.6 25.1h0.95v0.95h-0.95zM115.3 60.2h0.95v0.95h-0.95zM110.7 25.4h0.95v0.95h-0.95zM120.2 49.3h0.95v0.95h-0.95zM110.0 49.9h0.95v0.95h-0.95zM119.8 61.6h0.95v0.95h-0.95zM111.2 54.6h0.95v0.95h-0.95zM107.8 35.9h0.95v0.95h-0.95zM98.7 41.7h0.95v0.95h-0.95zM106.6 50.7h0.95v0.95h-0.95zM114.7 66.0h0.95v0.95h-0.95zM104.2 32.6h0.95v0.95h-0.95zM102.8 32.7h0.95v0.95h-0.95zM116.6 52.1h0.95v0.95h-0.95zM116.8 54.1h0.95v0.95h-0.95zM119.4 33.6h0.95v0.95h-0.95zM119.1 28.8h0.95v0.95h-0.95zM108.4 55.4h0.95v0.95h-0.95zM122.8 31.0h0.95v0.95h-0.95zM103.6 41.6h0.95v0.95h-0.95zM108.3 43.0h0.95v0.95h-0.95zM126.4 30.4h0.95v0.95h-0.95zM111.6 35.6h0.95v0.95h-0.95zM108.3 25.9h0.95v0.95h-0.95zM118.8 45.2h0.95v0.95h-0.95zM122.0 46.3h0.95v0.95h-0.95zM117.1 51.9h0.95v0.95h-0.95zM103.5 49.3h0.95v0.95h-0.95zM111.1 26.9h0.95v0.95h-0.95zM109.8 53.3h0.95v0.95h-0.95zM113.7 66.5h0.95v0.95h-0.95zM117.7 30.6h0.95v0.95h-0.95zM125.3 29.9h0.95v0.95h-0.95zM115.5 54.9h0.95v0.95h-0.95zM114.1 48.5h0.95v0.95h-0.95zM103.7 28.2h0.95v0.95h-0.95zM110.4 45.9h0.95v0.95h-0.95zM125.9 59.5h0.95v0.95h-0.95zM115.8 28.9h0.95v0.95h-0.95zM103.8 37.9h0.95v0.95h-0.95zM119.7 54.7h0.95v0.95h-0.95zM103.7 41.1h0.95v0.95h-0.95zM103.0 33.0h0.95v0.95h-0.95zM98.1 48.5h0.95v0.95h-0.95zM108.1 54.5h0.95v0.95h-0.95zM119.6 27.9h0.95v0.95h-0.95zM102.4 57.5h0.95v0.95h-0.95zM124.9 49.5h0.95v0.95h-0.95zM101.5 54.1h0.95v0.95h-0.95zM112.5 32.7h0.95v0.95h-0.95zM117.8 54.1h0.95v0.95h-0.95zM120.2 38.9h0.95v0.95h-0.95zM124.0 59.3h0.95v0.95h-0.95zM102.2 54.7h0.95v0.95h-0.95zM124.2 58.8h0.95v0.95h-0.95zM118.1 31.8h0.95v0.95h-0.95zM104.6 40.8h0.95v0.95h-0.95zM114.5 55.5h0.95v0.95h-0.95zM113.8 27.4h0.95v0.95h-0.95zM99.6 44.8h0.95v0.95h-0.95zM119.4 30.9h0.95v0.95h-0.95zM117.6 25.1h0.95v0.95h-0.95zM111.7 51.2h0.95v0.95h-0.95zM99.9 42.8h0.95v0.95h-0.95zM122.9 26.6h0.95v0.95h-0.95zM125.3 28.3h0.95v0.95h-0.95zM101.6 57.5h0.95v0.95h-0.95zM104.6 56.3h0.95v0.95h-0.95zM117.0 34.1h0.95v0.95h-0.95zM126.1 35.7h0.95v0.95h-0.95zM126.4 48.2h0.95v0.95h-0.95zM125.8 60.1h0.95v0.95h-0.95zM110.1 51.2h0.95v0.95h-0.95zM114.7 36.5h0.95v0.95h-0.95zM107.5 58.4h0.95v0.95h-0.95zM123.5 62.6h0.95v0.95h-0.95zM127.5 43.1h0.95v0.95h-0.95zM106.5 62.8h0.95v0.95h-0.95zM115.9 25.2h0.95v0.95h-0.95zM110.8 24.5h0.95v0.95h-0.95zM114.2 60.2h0.95v0.95h-0.95zM113.3 52.8h0.95v0.95h-0.95zM113.4 64.0h0.95v0.95h-0.95zM118.0 59.4h0.95v0.95h-0.95zM110.4 45.1h0.95v0.95h-0.95zM112.2 24.5h0.95v0.95h-0.95zM103.8 32.5h0.95v0.95h-0.95zM113.9 28.6h0.95v0.95h-0.95zM105.1 61.1h0.95v0.95h-0.95zM104.1 29.7h0.95v0.95h-0.95zM112.3 29.7h0.95v0.95h-0.95zM116.6 27.1h0.95v0.95h-0.95zM125.9 55.7h0.95v0.95h-0.95zM133.5 39.4h0.95v0.95h-0.95zM133.4 37.3h0.95v0.95h-0.95zM131.6 38.0h0.95v0.95h-0.95zM127.8 36.0h0.95v0.95h-0.95zM135.1 38.9h0.95v0.95h-0.95zM131.0 38.1h0.95v0.95h-0.95zM131.8 42.0h0.95v0.95h-0.95zM138.7 39.7h0.95v0.95h-0.95zM133.3 39.4h0.95v0.95h-0.95zM136.1 40.1h0.95v0.95h-0.95zM134.1 37.2h0.95v0.95h-0.95zM128.0 34.9h0.95v0.95h-0.95zM133.0 39.5h0.95v0.95h-0.95zM131.0 36.5h0.95v0.95h-0.95zM136.7 39.4h0.95v0.95h-0.95zM131.2 42.0h0.95v0.95h-0.95zM131.5 42.3h0.95v0.95h-0.95zM128.6 39.7h0.95v0.95h-0.95zM133.5 37.4h0.95v0.95h-0.95zM131.7 39.6h0.95v0.95h-0.95zM134.0 37.9h0.95v0.95h-0.95zM128.9 38.9h0.95v0.95h-0.95zM131.4 37.0h0.95v0.95h-0.95zM129.4 40.6h0.95v0.95h-0.95zM134.6 38.0h0.95v0.95h-0.95zM129.7 42.8h0.95v0.95h-0.95zM131.4 37.4h0.95v0.95h-0.95zM107.5 96.8h0.95v0.95h-0.95zM103.1 99.8h0.95v0.95h-0.95zM110.5 107.9h0.95v0.95h-0.95zM99.3 107.3h0.95v0.95h-0.95zM109.4 91.7h0.95v0.95h-0.95zM108.0 90.4h0.95v0.95h-0.95zM106.4 106.3h0.95v0.95h-0.95zM110.9 104.0h0.95v0.95h-0.95zM109.5 111.7h0.95v0.95h-0.95zM108.3 110.9h0.95v0.95h-0.95zM103.7 100.8h0.95v0.95h-0.95zM111.1 103.6h0.95v0.95h-0.95zM109.7 90.0h0.95v0.95h-0.95zM111.4 101.3h0.95v0.95h-0.95zM101.8 110.6h0.95v0.95h-0.95zM112.4 114.9h0.95v0.95h-0.95zM107.4 91.1h0.95v0.95h-0.95zM107.0 112.0h0.95v0.95h-0.95zM109.9 101.9h0.95v0.95h-0.95zM115.1 112.0h0.95v0.95h-0.95zM110.9 112.9h0.95v0.95h-0.95zM107.0 90.9h0.95v0.95h-0.95zM104.2 90.9h0.95v0.95h-0.95zM99.5 105.1h0.95v0.95h-0.95zM99.7 101.7h0.95v0.95h-0.95zM106.9 113.6h0.95v0.95h-0.95zM113.0 104.8h0.95v0.95h-0.95zM112.0 93.5h0.95v0.95h-0.95zM108.5 107.4h0.95v0.95h-0.95zM102.2 101.2h0.95v0.95h-0.95zM107.1 100.5h0.95v0.95h-0.95zM114.4 101.7h0.95v0.95h-0.95zM100.0 107.2h0.95v0.95h-0.95zM103.0 90.2h0.95v0.95h-0.95zM104.8 90.0h0.95v0.95h-0.95zM107.3 95.9h0.95v0.95h-0.95zM102.3 105.3h0.95v0.95h-0.95zM101.1 94.0h0.95v0.95h-0.95zM108.8 95.9h0.95v0.95h-0.95zM109.4 92.7h0.95v0.95h-0.95zM99.3 94.6h0.95v0.95h-0.95zM97.7 101.7h0.95v0.95h-0.95zM112.4 109.6h0.95v0.95h-0.95zM108.4 93.0h0.95v0.95h-0.95zM103.0 89.4h0.95v0.95h-0.95zM102.9 114.0h0.95v0.95h-0.95zM108.7 102.6h0.95v0.95h-0.95zM107.9 112.8h0.95v0.95h-0.95zM98.9 103.8h0.95v0.95h-0.95zM112.8 96.5h0.95v0.95h-0.95zM106.6 97.0h0.95v0.95h-0.95zM105.5 112.2h0.95v0.95h-0.95zM102.7 106.0h0.95v0.95h-0.95zM105.0 113.6h0.95v0.95h-0.95zM114.5 105.3h0.95v0.95h-0.95zM104.1 94.6h0.95v0.95h-0.95zM115.5 107.9h0.95v0.95h-0.95zM104.0 95.8h0.95v0.95h-0.95zM100.8 98.6h0.95v0.95h-0.95zM107.5 106.0h0.95v0.95h-0.95zM101.1 103.9h0.95v0.95h-0.95zM111.3 108.2h0.95v0.95h-0.95zM113.0 101.4h0.95v0.95h-0.95zM102.8 95.3h0.95v0.95h-0.95zM115.2 107.1h0.95v0.95h-0.95zM107.1 95.5h0.95v0.95h-0.95zM100.2 110.8h0.95v0.95h-0.95zM103.9 99.7h0.95v0.95h-0.95zM103.7 89.5h0.95v0.95h-0.95zM102.6 102.3h0.95v0.95h-0.95zM108.3 92.8h0.95v0.95h-0.95zM103.3 111.8h0.95v0.95h-0.95zM113.2 100.6h0.95v0.95h-0.95zM110.7 108.7h0.95v0.95h-0.95zM99.6 92.0h0.95v0.95h-0.95zM114.1 101.0h0.95v0.95h-0.95zM102.2 109.9h0.95v0.95h-0.95zM108.0 110.9h0.95v0.95h-0.95zM113.0 93.2h0.95v0.95h-0.95zM102.4 97.3h0.95v0.95h-0.95zM97.5 97.5h0.95v0.95h-0.95zM112.1 105.1h0.95v0.95h-0.95zM101.1 103.0h0.95v0.95h-0.95zM108.6 100.7h0.95v0.95h-0.95zM102.3 103.4h0.95v0.95h-0.95zM113.5 104.5h0.95v0.95h-0.95zM106.2 96.9h0.95v0.95h-0.95zM100.8 103.7h0.95v0.95h-0.95zM114.5 97.6h0.95v0.95h-0.95zM112.9 101.5h0.95v0.95h-0.95zM110.9 100.0h0.95v0.95h-0.95zM111.5 110.0h0.95v0.95h-0.95zM115.9 107.9h0.95v0.95h-0.95zM108.7 90.3h0.95v0.95h-0.95zM106.6 102.2h0.95v0.95h-0.95zM115.5 99.9h0.95v0.95h-0.95zM107.1 102.9h0.95v0.95h-0.95zM102.2 110.1h0.95v0.95h-0.95zM108.9 98.1h0.95v0.95h-0.95zM101.9 101.4h0.95v0.95h-0.95zM106.1 98.8h0.95v0.95h-0.95zM108.8 99.9h0.95v0.95h-0.95zM105.4 112.8h0.95v0.95h-0.95zM101.2 105.3h0.95v0.95h-0.95zM98.9 94.6h0.95v0.95h-0.95zM102.9 99.0h0.95v0.95h-0.95zM107.4 108.5h0.95v0.95h-0.95zM104.1 95.0h0.95v0.95h-0.95zM103.6 109.1h0.95v0.95h-0.95zM100.1 91.8h0.95v0.95h-0.95zM101.7 97.4h0.95v0.95h-0.95zM113.5 112.0h0.95v0.95h-0.95zM110.3 97.8h0.95v0.95h-0.95zM108.0 110.0h0.95v0.95h-0.95zM110.5 96.5h0.95v0.95h-0.95zM107.7 89.3h0.95v0.95h-0.95zM111.5 112.3h0.95v0.95h-0.95zM103.1 96.6h0.95v0.95h-0.95zM113.9 103.5h0.95v0.95h-0.95zM104.7 104.4h0.95v0.95h-0.95zM113.9 108.9h0.95v0.95h-0.95zM107.5 111.4h0.95v0.95h-0.95zM111.7 102.2h0.95v0.95h-0.95zM108.1 100.7h0.95v0.95h-0.95zM107.4 95.9h0.95v0.95h-0.95zM112.2 108.7h0.95v0.95h-0.95zM111.7 101.5h0.95v0.95h-0.95zM102.9 96.1h0.95v0.95h-0.95zM108.6 116.8h0.95v0.95h-0.95zM103.7 105.2h0.95v0.95h-0.95zM111.3 97.5h0.95v0.95h-0.95zM107.5 95.1h0.95v0.95h-0.95zM112.1 108.1h0.95v0.95h-0.95zM112.6 105.8h0.95v0.95h-0.95zM111.4 96.7h0.95v0.95h-0.95zM110.7 98.2h0.95v0.95h-0.95zM112.7 101.6h0.95v0.95h-0.95zM112.4 106.8h0.95v0.95h-0.95zM107.2 93.7h0.95v0.95h-0.95zM112.6 93.5h0.95v0.95h-0.95zM111.4 103.2h0.95v0.95h-0.95zM111.5 115.3h0.95v0.95h-0.95zM112.3 104.9h0.95v0.95h-0.95zM104.7 104.7h0.95v0.95h-0.95zM106.8 104.5h0.95v0.95h-0.95zM109.5 108.2h0.95v0.95h-0.95zM109.8 106.5h0.95v0.95h-0.95zM99.3 97.4h0.95v0.95h-0.95zM101.3 104.9h0.95v0.95h-0.95zM110.8 93.7h0.95v0.95h-0.95zM98.4 95.2h0.95v0.95h-0.95zM107.6 91.6h0.95v0.95h-0.95zM115.7 107.7h0.95v0.95h-0.95zM111.8 107.1h0.95v0.95h-0.95zM113.7 94.7h0.95v0.95h-0.95zM106.4 88.3h0.95v0.95h-0.95zM99.2 100.7h0.95v0.95h-0.95zM103.3 102.5h0.95v0.95h-0.95zM101.8 97.6h0.95v0.95h-0.95zM102.6 110.5h0.95v0.95h-0.95zM106.6 112.3h0.95v0.95h-0.95zM110.1 105.6h0.95v0.95h-0.95zM107.6 105.2h0.95v0.95h-0.95zM97.0 99.7h0.95v0.95h-0.95zM113.3 109.5h0.95v0.95h-0.95zM98.8 101.8h0.95v0.95h-0.95zM109.3 114.4h0.95v0.95h-0.95zM99.1 93.9h0.95v0.95h-0.95zM97.7 101.1h0.95v0.95h-0.95zM112.6 100.0h0.95v0.95h-0.95zM97.1 98.8h0.95v0.95h-0.95zM115.9 104.6h0.95v0.95h-0.95zM109.3 106.3h0.95v0.95h-0.95zM113.0 103.1h0.95v0.95h-0.95zM103.8 100.3h0.95v0.95h-0.95zM110.0 92.0h0.95v0.95h-0.95zM114.2 101.4h0.95v0.95h-0.95zM103.5 94.4h0.95v0.95h-0.95zM99.0 98.0h0.95v0.95h-0.95zM113.4 108.5h0.95v0.95h-0.95zM100.3 94.5h0.95v0.95h-0.95zM106.1 103.1h0.95v0.95h-0.95zM111.4 105.7h0.95v0.95h-0.95zM123.2 98.0h0.95v0.95h-0.95zM126.8 74.4h0.95v0.95h-0.95zM123.8 84.8h0.95v0.95h-0.95zM125.6 87.8h0.95v0.95h-0.95zM116.9 81.7h0.95v0.95h-0.95zM126.0 79.6h0.95v0.95h-0.95zM119.9 82.2h0.95v0.95h-0.95zM115.2 79.5h0.95v0.95h-0.95zM128.5 78.0h0.95v0.95h-0.95zM114.5 84.7h0.95v0.95h-0.95zM128.9 82.4h0.95v0.95h-0.95zM120.9 82.0h0.95v0.95h-0.95zM115.5 73.1h0.95v0.95h-0.95zM123.4 79.9h0.95v0.95h-0.95zM126.2 80.3h0.95v0.95h-0.95zM126.0 81.8h0.95v0.95h-0.95zM126.9 78.0h0.95v0.95h-0.95zM121.3 86.3h0.95v0.95h-0.95zM115.3 74.7h0.95v0.95h-0.95zM125.9 79.6h0.95v0.95h-0.95zM120.7 87.8h0.95v0.95h-0.95zM119.5 80.5h0.95v0.95h-0.95zM122.6 76.8h0.95v0.95h-0.95zM124.9 82.5h0.95v0.95h-0.95zM123.4 77.5h0.95v0.95h-0.95zM116.4 88.7h0.95v0.95h-0.95zM126.9 84.4h0.95v0.95h-0.95zM125.7 88.0h0.95v0.95h-0.95zM129.7 83.8h0.95v0.95h-0.95zM116.1 90.8h0.95v0.95h-0.95zM115.1 90.4h0.95v0.95h-0.95zM126.3 81.3h0.95v0.95h-0.95zM128.1 87.6h0.95v0.95h-0.95zM118.7 94.5h0.95v0.95h-0.95zM129.1 83.9h0.95v0.95h-0.95zM126.8 80.2h0.95v0.95h-0.95zM117.6 85.9h0.95v0.95h-0.95zM115.3 74.8h0.95v0.95h-0.95zM117.5 83.5h0.95v0.95h-0.95zM118.9 91.9h0.95v0.95h-0.95zM129.9 74.3h0.95v0.95h-0.95zM128.2 86.8h0.95v0.95h-0.95zM126.6 81.6h0.95v0.95h-0.95zM114.4 78.3h0.95v0.95h-0.95zM125.2 85.9h0.95v0.95h-0.95zM124.3 77.0h0.95v0.95h-0.95zM126.1 78.0h0.95v0.95h-0.95zM127.5 89.8h0.95v0.95h-0.95zM122.5 75.7h0.95v0.95h-0.95zM126.4 84.8h0.95v0.95h-0.95zM116.9 94.5h0.95v0.95h-0.95zM126.2 74.9h0.95v0.95h-0.95zM124.1 90.4h0.95v0.95h-0.95zM116.6 83.7h0.95v0.95h-0.95zM118.1 82.1h0.95v0.95h-0.95zM127.2 84.7h0.95v0.95h-0.95zM127.9 85.5h0.95v0.95h-0.95zM127.1 75.5h0.95v0.95h-0.95zM124.0 83.3h0.95v0.95h-0.95zM122.5 90.3h0.95v0.95h-0.95zM120.4 79.9h0.95v0.95h-0.95zM121.5 91.6h0.95v0.95h-0.95zM120.3 76.7h0.95v0.95h-0.95zM115.3 76.5h0.95v0.95h-0.95zM127.2 84.7h0.95v0.95h-0.95zM128.1 75.2h0.95v0.95h-0.95zM117.0 92.7h0.95v0.95h-0.95zM123.3 81.8h0.95v0.95h-0.95zM118.7 81.2h0.95v0.95h-0.95zM119.8 74.2h0.95v0.95h-0.95zM125.7 79.7h0.95v0.95h-0.95zM125.9 92.4h0.95v0.95h-0.95zM122.0 92.8h0.95v0.95h-0.95zM115.9 73.5h0.95v0.95h-0.95zM113.7 90.0h0.95v0.95h-0.95zM115.7 88.1h0.95v0.95h-0.95zM124.8 95.1h0.95v0.95h-0.95zM117.5 74.4h0.95v0.95h-0.95zM122.0 92.6h0.95v0.95h-0.95zM114.2 83.2h0.95v0.95h-0.95zM124.1 84.1h0.95v0.95h-0.95zM119.0 85.2h0.95v0.95h-0.95zM118.8 95.2h0.95v0.95h-0.95zM122.1 84.5h0.95v0.95h-0.95zM120.2 84.4h0.95v0.95h-0.95zM121.9 75.8h0.95v0.95h-0.95zM127.5 86.8h0.95v0.95h-0.95zM114.2 77.9h0.95v0.95h-0.95zM127.9 83.6h0.95v0.95h-0.95zM118.2 89.7h0.95v0.95h-0.95zM116.2 71.4h0.95v0.95h-0.95zM127.6 83.0h0.95v0.95h-0.95zM117.1 77.1h0.95v0.95h-0.95zM119.6 85.4h0.95v0.95h-0.95zM122.8 76.1h0.95v0.95h-0.95zM123.1 95.1h0.95v0.95h-0.95zM127.9 81.1h0.95v0.95h-0.95zM127.5 80.8h0.95v0.95h-0.95zM121.9 95.0h0.95v0.95h-0.95zM117.2 77.9h0.95v0.95h-0.95zM122.4 91.6h0.95v0.95h-0.95zM115.1 84.0h0.95v0.95h-0.95zM117.3 86.5h0.95v0.95h-0.95zM121.9 92.5h0.95v0.95h-0.95zM121.3 84.4h0.95v0.95h-0.95zM126.5 88.4h0.95v0.95h-0.95zM121.1 77.8h0.95v0.95h-0.95zM125.0 80.3h0.95v0.95h-0.95zM120.7 82.7h0.95v0.95h-0.95zM120.6 93.9h0.95v0.95h-0.95zM126.8 94.6h0.95v0.95h-0.95zM123.0 81.0h0.95v0.95h-0.95zM119.2 93.3h0.95v0.95h-0.95zM121.8 84.0h0.95v0.95h-0.95zM127.1 92.3h0.95v0.95h-0.95zM127.2 75.7h0.95v0.95h-0.95zM128.3 80.8h0.95v0.95h-0.95zM127.6 78.3h0.95v0.95h-0.95zM125.4 78.3h0.95v0.95h-0.95zM119.7 84.5h0.95v0.95h-0.95zM119.2 86.8h0.95v0.95h-0.95zM115.4 85.8h0.95v0.95h-0.95zM125.4 80.0h0.95v0.95h-0.95zM126.0 73.7h0.95v0.95h-0.95zM127.2 73.1h0.95v0.95h-0.95zM127.9 88.8h0.95v0.95h-0.95zM117.5 86.9h0.95v0.95h-0.95zM125.5 90.0h0.95v0.95h-0.95zM117.9 84.1h0.95v0.95h-0.95zM122.6 93.8h0.95v0.95h-0.95zM127.2 92.1h0.95v0.95h-0.95zM117.1 76.8h0.95v0.95h-0.95zM122.2 80.2h0.95v0.95h-0.95zM121.6 93.5h0.95v0.95h-0.95zM121.2 94.4h0.95v0.95h-0.95zM126.8 94.4h0.95v0.95h-0.95zM123.3 87.1h0.95v0.95h-0.95zM121.2 73.9h0.95v0.95h-0.95zM125.0 97.3h0.95v0.95h-0.95zM114.3 74.4h0.95v0.95h-0.95zM123.2 83.1h0.95v0.95h-0.95zM114.6 81.4h0.95v0.95h-0.95zM114.9 91.8h0.95v0.95h-0.95zM127.2 97.1h0.95v0.95h-0.95zM120.9 84.9h0.95v0.95h-0.95zM128.6 87.5h0.95v0.95h-0.95zM115.6 72.0h0.95v0.95h-0.95zM115.3 82.2h0.95v0.95h-0.95zM127.8 85.9h0.95v0.95h-0.95zM115.6 92.4h0.95v0.95h-0.95zM119.5 90.8h0.95v0.95h-0.95zM121.3 73.4h0.95v0.95h-0.95zM123.4 88.1h0.95v0.95h-0.95zM115.4 83.8h0.95v0.95h-0.95zM121.3 78.0h0.95v0.95h-0.95zM115.3 83.3h0.95v0.95h-0.95zM119.0 88.1h0.95v0.95h-0.95zM126.5 83.3h0.95v0.95h-0.95zM118.3 92.4h0.95v0.95h-0.95zM127.0 81.9h0.95v0.95h-0.95zM114.6 92.7h0.95v0.95h-0.95zM116.7 90.4h0.95v0.95h-0.95zM124.9 81.3h0.95v0.95h-0.95zM131.5 92.8h0.95v0.95h-0.95zM138.6 88.4h0.95v0.95h-0.95zM132.1 99.2h0.95v0.95h-0.95zM130.5 101.0h0.95v0.95h-0.95zM133.2 103.8h0.95v0.95h-0.95zM129.9 86.4h0.95v0.95h-0.95zM128.6 102.7h0.95v0.95h-0.95zM127.1 97.8h0.95v0.95h-0.95zM129.5 92.1h0.95v0.95h-0.95zM133.1 89.4h0.95v0.95h-0.95zM135.2 99.1h0.95v0.95h-0.95zM129.3 96.4h0.95v0.95h-0.95zM130.8 97.0h0.95v0.95h-0.95zM140.0 97.4h0.95v0.95h-0.95zM140.3 101.2h0.95v0.95h-0.95zM133.2 104.3h0.95v0.95h-0.95zM129.9 84.0h0.95v0.95h-0.95zM139.9 96.5h0.95v0.95h-0.95zM131.0 95.4h0.95v0.95h-0.95zM137.1 105.2h0.95v0.95h-0.95zM135.7 96.2h0.95v0.95h-0.95zM126.7 98.1h0.95v0.95h-0.95zM138.3 100.9h0.95v0.95h-0.95zM136.9 99.3h0.95v0.95h-0.95zM127.3 95.3h0.95v0.95h-0.95zM129.5 92.9h0.95v0.95h-0.95zM137.3 88.6h0.95v0.95h-0.95zM132.7 106.5h0.95v0.95h-0.95zM135.2 101.2h0.95v0.95h-0.95zM134.3 94.9h0.95v0.95h-0.95zM140.6 92.8h0.95v0.95h-0.95zM138.9 94.4h0.95v0.95h-0.95zM138.4 95.3h0.95v0.95h-0.95zM135.1 97.2h0.95v0.95h-0.95zM137.0 85.0h0.95v0.95h-0.95zM136.0 92.0h0.95v0.95h-0.95zM137.2 87.3h0.95v0.95h-0.95zM131.3 96.7h0.95v0.95h-0.95zM135.9 93.1h0.95v0.95h-0.95zM132.9 86.9h0.95v0.95h-0.95zM131.3 97.3h0.95v0.95h-0.95zM131.3 88.7h0.95v0.95h-0.95zM134.9 103.6h0.95v0.95h-0.95zM132.3 105.2h0.95v0.95h-0.95zM134.8 87.1h0.95v0.95h-0.95zM129.2 99.4h0.95v0.95h-0.95zM126.8 97.6h0.95v0.95h-0.95zM129.9 84.0h0.95v0.95h-0.95zM137.8 97.2h0.95v0.95h-0.95zM129.5 88.2h0.95v0.95h-0.95zM140.0 97.0h0.95v0.95h-0.95zM132.4 96.7h0.95v0.95h-0.95zM137.4 97.5h0.95v0.95h-0.95zM132.8 85.9h0.95v0.95h-0.95zM139.6 97.5h0.95v0.95h-0.95zM132.7 91.7h0.95v0.95h-0.95zM135.1 90.1h0.95v0.95h-0.95zM136.1 96.7h0.95v0.95h-0.95zM140.2 90.5h0.95v0.95h-0.95zM130.7 99.9h0.95v0.95h-0.95zM131.4 93.1h0.95v0.95h-0.95zM134.7 92.6h0.95v0.95h-0.95zM131.0 86.4h0.95v0.95h-0.95zM132.5 104.0h0.95v0.95h-0.95zM134.7 88.7h0.95v0.95h-0.95zM130.4 83.5h0.95v0.95h-0.95zM128.4 98.9h0.95v0.95h-0.95zM135.9 102.3h0.95v0.95h-0.95zM133.0 107.9h0.95v0.95h-0.95zM137.0 95.0h0.95v0.95h-0.95zM134.8 89.8h0.95v0.95h-0.95zM127.7 93.1h0.95v0.95h-0.95zM132.4 93.5h0.95v0.95h-0.95zM129.2 94.9h0.95v0.95h-0.95zM133.9 107.8h0.95v0.95h-0.95zM136.6 103.2h0.95v0.95h-0.95zM129.6 101.5h0.95v0.95h-0.95zM138.9 92.6h0.95v0.95h-0.95zM134.4 88.7h0.95v0.95h-0.95zM132.2 87.3h0.95v0.95h-0.95zM137.0 89.7h0.95v0.95h-0.95zM137.4 93.8h0.95v0.95h-0.95zM128.9 87.9h0.95v0.95h-0.95zM128.6 95.0h0.95v0.95h-0.95zM135.1 96.3h0.95v0.95h-0.95zM131.5 88.9h0.95v0.95h-0.95zM135.8 103.2h0.95v0.95h-0.95zM132.4 92.4h0.95v0.95h-0.95zM136.8 98.3h0.95v0.95h-0.95zM130.8 99.8h0.95v0.95h-0.95zM133.2 87.9h0.95v0.95h-0.95zM128.3 87.1h0.95v0.95h-0.95zM131.6 92.7h0.95v0.95h-0.95zM133.3 99.6h0.95v0.95h-0.95zM126.3 94.8h0.95v0.95h-0.95zM128.3 99.0h0.95v0.95h-0.95zM131.2 96.6h0.95v0.95h-0.95zM137.1 90.5h0.95v0.95h-0.95zM127.5 96.2h0.95v0.95h-0.95zM137.6 96.3h0.95v0.95h-0.95zM133.8 100.4h0.95v0.95h-0.95zM127.6 101.4h0.95v0.95h-0.95zM129.5 86.5h0.95v0.95h-0.95zM136.4 103.8h0.95v0.95h-0.95zM138.9 96.3h0.95v0.95h-0.95zM129.8 94.1h0.95v0.95h-0.95zM130.6 97.8h0.95v0.95h-0.95zM126.4 99.1h0.95v0.95h-0.95zM129.3 99.6h0.95v0.95h-0.95zM138.5 90.4h0.95v0.95h-0.95zM131.9 100.4h0.95v0.95h-0.95zM133.9 102.7h0.95v0.95h-0.95zM129.4 85.7h0.95v0.95h-0.95zM135.0 106.3h0.95v0.95h-0.95zM128.5 98.3h0.95v0.95h-0.95zM128.7 88.8h0.95v0.95h-0.95zM135.3 88.2h0.95v0.95h-0.95zM132.4 100.8h0.95v0.95h-0.95zM131.4 88.5h0.95v0.95h-0.95zM136.5 85.0h0.95v0.95h-0.95zM128.2 84.9h0.95v0.95h-0.95zM127.8 95.2h0.95v0.95h-0.95zM138.7 97.1h0.95v0.95h-0.95zM129.2 91.8h0.95v0.95h-0.95zM130.9 95.5h0.95v0.95h-0.95zM126.4 91.3h0.95v0.95h-0.95zM133.8 105.4h0.95v0.95h-0.95zM129.6 84.5h0.95v0.95h-0.95zM133.4 86.3h0.95v0.95h-0.95zM138.2 90.4h0.95v0.95h-0.95zM135.3 106.0h0.95v0.95h-0.95zM129.5 92.6h0.95v0.95h-0.95zM136.7 99.4h0.95v0.95h-0.95zM138.5 99.4h0.95v0.95h-0.95zM137.9 98.4h0.95v0.95h-0.95zM130.0 100.2h0.95v0.95h-0.95zM130.9 83.1h0.95v0.95h-0.95zM129.6 104.2h0.95v0.95h-0.95zM138.3 99.7h0.95v0.95h-0.95zM134.4 86.4h0.95v0.95h-0.95zM129.6 96.2h0.95v0.95h-0.95zM139.1 89.9h0.95v0.95h-0.95zM129.2 102.0h0.95v0.95h-0.95zM129.7 93.2h0.95v0.95h-0.95zM138.0 105.0h0.95v0.95h-0.95zM131.0 98.4h0.95v0.95h-0.95zM129.2 104.1h0.95v0.95h-0.95zM136.9 92.6h0.95v0.95h-0.95zM137.2 106.0h0.95v0.95h-0.95zM140.2 98.3h0.95v0.95h-0.95zM129.9 97.3h0.95v0.95h-0.95zM137.6 96.4h0.95v0.95h-0.95zM133.8 88.7h0.95v0.95h-0.95zM133.5 94.1h0.95v0.95h-0.95zM134.2 87.5h0.95v0.95h-0.95zM132.0 102.5h0.95v0.95h-0.95zM133.4 93.3h0.95v0.95h-0.95zM136.2 89.8h0.95v0.95h-0.95zM135.9 86.1h0.95v0.95h-0.95zM136.3 85.9h0.95v0.95h-0.95zM131.9 101.3h0.95v0.95h-0.95zM137.5 106.1h0.95v0.95h-0.95zM134.1 92.6h0.95v0.95h-0.95zM132.0 104.3h0.95v0.95h-0.95zM130.1 92.5h0.95v0.95h-0.95zM140.6 93.7h0.95v0.95h-0.95zM139.4 92.4h0.95v0.95h-0.95zM127.5 86.0h0.95v0.95h-0.95zM130.1 93.1h0.95v0.95h-0.95zM131.6 94.3h0.95v0.95h-0.95zM140.6 95.3h0.95v0.95h-0.95zM135.2 105.4h0.95v0.95h-0.95zM138.7 96.6h0.95v0.95h-0.95zM130.4 93.1h0.95v0.95h-0.95zM132.7 83.1h0.95v0.95h-0.95zM131.5 94.1h0.95v0.95h-0.95zM132.3 85.9h0.95v0.95h-0.95zM141.2 98.8h0.95v0.95h-0.95z" fill="#b8173c"/>
<path d="M107.0 27.4h0.95v0.95h-0.95zM118.7 23.5h0.95v0.95h-0.95zM114.6 37.9h0.95v0.95h-0.95zM106.4 60.0h0.95v0.95h-0.95zM115.0 23.1h0.95v0.95h-0.95zM119.8 41.0h0.95v0.95h-0.95zM106.6 48.7h0.95v0.95h-0.95zM111.6 34.7h0.95v0.95h-0.95zM110.4 57.1h0.95v0.95h-0.95zM122.8 48.1h0.95v0.95h-0.95zM116.2 42.4h0.95v0.95h-0.95zM109.2 52.8h0.95v0.95h-0.95zM109.4 62.7h0.95v0.95h-0.95zM98.2 42.0h0.95v0.95h-0.95zM115.1 63.3h0.95v0.95h-0.95zM108.2 63.3h0.95v0.95h-0.95zM101.6 31.4h0.95v0.95h-0.95zM103.7 43.8h0.95v0.95h-0.95zM108.6 47.8h0.95v0.95h-0.95zM113.9 50.3h0.95v0.95h-0.95zM109.4 39.5h0.95v0.95h-0.95zM117.4 27.3h0.95v0.95h-0.95zM112.1 43.7h0.95v0.95h-0.95zM125.1 27.9h0.95v0.95h-0.95zM126.4 54.1h0.95v0.95h-0.95zM104.7 38.0h0.95v0.95h-0.95zM102.4 30.0h0.95v0.95h-0.95zM101.7 58.7h0.95v0.95h-0.95zM121.4 28.3h0.95v0.95h-0.95zM114.3 65.7h0.95v0.95h-0.95zM110.9 62.7h0.95v0.95h-0.95zM125.0 30.3h0.95v0.95h-0.95zM104.0 48.7h0.95v0.95h-0.95zM108.0 42.4h0.95v0.95h-0.95zM113.4 46.1h0.95v0.95h-0.95zM111.1 29.0h0.95v0.95h-0.95zM121.4 47.3h0.95v0.95h-0.95zM107.0 45.4h0.95v0.95h-0.95zM123.1 44.9h0.95v0.95h-0.95zM115.5 57.2h0.95v0.95h-0.95zM117.4 44.8h0.95v0.95h-0.95zM113.7 53.9h0.95v0.95h-0.95zM111.6 46.1h0.95v0.95h-0.95zM112.5 66.1h0.95v0.95h-0.95zM115.4 66.2h0.95v0.95h-0.95zM101.1 41.1h0.95v0.95h-0.95zM117.8 45.1h0.95v0.95h-0.95zM115.2 65.4h0.95v0.95h-0.95zM114.3 31.7h0.95v0.95h-0.95zM102.1 43.3h0.95v0.95h-0.95zM124.8 41.2h0.95v0.95h-0.95zM107.6 60.8h0.95v0.95h-0.95zM104.5 28.0h0.95v0.95h-0.95zM105.9 42.5h0.95v0.95h-0.95zM106.4 37.5h0.95v0.95h-0.95zM102.5 44.7h0.95v0.95h-0.95zM98.5 39.6h0.95v0.95h-0.95zM122.3 52.2h0.95v0.95h-0.95zM121.1 63.1h0.95v0.95h-0.95zM109.3 36.0h0.95v0.95h-0.95zM121.7 59.8h0.95v0.95h-0.95zM100.3 45.7h0.95v0.95h-0.95zM115.4 50.8h0.95v0.95h-0.95zM119.0 23.2h0.95v0.95h-0.95zM121.6 30.1h0.95v0.95h-0.95zM112.5 53.5h0.95v0.95h-0.95zM122.9 50.2h0.95v0.95h-0.95zM118.4 23.8h0.95v0.95h-0.95zM127.2 54.5h0.95v0.95h-0.95zM111.5 34.8h0.95v0.95h-0.95zM127.8 34.2h0.95v0.95h-0.95zM108.7 39.3h0.95v0.95h-0.95zM122.4 51.6h0.95v0.95h-0.95zM112.3 36.8h0.95v0.95h-0.95zM115.4 39.3h0.95v0.95h-0.95zM122.3 40.2h0.95v0.95h-0.95zM108.9 36.6h0.95v0.95h-0.95zM109.7 41.8h0.95v0.95h-0.95zM109.4 65.4h0.95v0.95h-0.95zM114.1 53.4h0.95v0.95h-0.95zM118.6 57.5h0.95v0.95h-0.95zM111.8 47.0h0.95v0.95h-0.95zM118.5 34.9h0.95v0.95h-0.95zM118.2 54.2h0.95v0.95h-0.95zM114.2 48.6h0.95v0.95h-0.95zM127.1 43.3h0.95v0.95h-0.95zM103.8 32.1h0.95v0.95h-0.95zM110.4 32.6h0.95v0.95h-0.95zM107.5 40.6h0.95v0.95h-0.95zM119.9 29.7h0.95v0.95h-0.95zM124.0 56.2h0.95v0.95h-0.95zM113.5 30.1h0.95v0.95h-0.95zM124.8 31.3h0.95v0.95h-0.95zM113.1 29.2h0.95v0.95h-0.95zM100.6 39.3h0.95v0.95h-0.95zM108.8 36.3h0.95v0.95h-0.95zM105.4 37.2h0.95v0.95h-0.95zM108.7 65.1h0.95v0.95h-0.95zM122.2 64.0h0.95v0.95h-0.95zM107.5 33.3h0.95v0.95h-0.95zM104.7 55.1h0.95v0.95h-0.95zM106.7 33.5h0.95v0.95h-0.95zM110.8 44.2h0.95v0.95h-0.95zM124.9 57.9h0.95v0.95h-0.95zM106.8 37.7h0.95v0.95h-0.95zM98.8 44.4h0.95v0.95h-0.95zM120.9 41.9h0.95v0.95h-0.95zM117.6 53.0h0.95v0.95h-0.95zM122.2 61.5h0.95v0.95h-0.95zM119.2 25.9h0.95v0.95h-0.95zM125.6 34.4h0.95v0.95h-0.95zM121.9 29.8h0.95v0.95h-0.95zM113.6 31.3h0.95v0.95h-0.95zM124.4 52.0h0.95v0.95h-0.95zM126.5 42.0h0.95v0.95h-0.95zM103.1 38.1h0.95v0.95h-0.95zM118.8 30.0h0.95v0.95h-0.95zM119.7 29.1h0.95v0.95h-0.95zM109.5 47.0h0.95v0.95h-0.95zM101.2 54.1h0.95v0.95h-0.95zM110.1 33.9h0.95v0.95h-0.95zM108.4 29.7h0.95v0.95h-0.95zM110.6 60.2h0.95v0.95h-0.95zM111.9 28.0h0.95v0.95h-0.95zM118.4 64.6h0.95v0.95h-0.95zM100.6 33.9h0.95v0.95h-0.95zM114.1 65.3h0.95v0.95h-0.95zM125.0 27.9h0.95v0.95h-0.95zM109.9 61.5h0.95v0.95h-0.95zM113.9 38.8h0.95v0.95h-0.95zM121.4 64.0h0.95v0.95h-0.95zM116.9 47.0h0.95v0.95h-0.95zM117.9 35.0h0.95v0.95h-0.95zM111.4 41.5h0.95v0.95h-0.95zM112.9 31.5h0.95v0.95h-0.95zM112.3 25.2h0.95v0.95h-0.95zM113.7 22.0h0.95v0.95h-0.95zM121.7 58.1h0.95v0.95h-0.95zM102.8 32.9h0.95v0.95h-0.95zM119.8 63.9h0.95v0.95h-0.95zM101.4 58.5h0.95v0.95h-0.95zM118.0 39.3h0.95v0.95h-0.95zM124.0 33.0h0.95v0.95h-0.95zM124.8 32.4h0.95v0.95h-0.95zM117.5 41.2h0.95v0.95h-0.95zM99.1 37.5h0.95v0.95h-0.95zM103.4 48.6h0.95v0.95h-0.95zM116.5 30.0h0.95v0.95h-0.95zM104.1 27.3h0.95v0.95h-0.95zM98.7 51.3h0.95v0.95h-0.95zM126.7 58.3h0.95v0.95h-0.95zM109.8 32.9h0.95v0.95h-0.95zM102.5 49.8h0.95v0.95h-0.95zM123.5 55.1h0.95v0.95h-0.95zM122.0 42.2h0.95v0.95h-0.95zM107.4 56.7h0.95v0.95h-0.95zM120.3 61.4h0.95v0.95h-0.95zM120.9 33.0h0.95v0.95h-0.95zM122.2 36.0h0.95v0.95h-0.95zM127.0 36.1h0.95v0.95h-0.95zM118.0 53.9h0.95v0.95h-0.95zM112.2 61.1h0.95v0.95h-0.95zM102.9 50.5h0.95v0.95h-0.95zM111.0 57.9h0.95v0.95h-0.95zM107.8 54.5h0.95v0.95h-0.95zM114.7 30.6h0.95v0.95h-0.95zM101.9 44.2h0.95v0.95h-0.95zM105.5 30.5h0.95v0.95h-0.95zM120.5 44.4h0.95v0.95h-0.95zM103.7 42.6h0.95v0.95h-0.95zM123.1 48.4h0.95v0.95h-0.95zM104.2 36.0h0.95v0.95h-0.95zM102.4 51.3h0.95v0.95h-0.95zM109.7 58.8h0.95v0.95h-0.95zM121.3 63.1h0.95v0.95h-0.95zM123.2 54.3h0.95v0.95h-0.95zM106.6 50.8h0.95v0.95h-0.95zM123.5 54.9h0.95v0.95h-0.95zM110.5 42.3h0.95v0.95h-0.95zM117.7 40.1h0.95v0.95h-0.95zM101.9 52.1h0.95v0.95h-0.95zM102.9 53.5h0.95v0.95h-0.95zM109.4 57.4h0.95v0.95h-0.95zM110.4 54.2h0.95v0.95h-0.95zM108.0 33.0h0.95v0.95h-0.95zM103.2 59.3h0.95v0.95h-0.95zM109.4 30.4h0.95v0.95h-0.95zM124.4 51.1h0.95v0.95h-0.95zM124.8 60.0h0.95v0.95h-0.95zM115.0 26.1h0.95v0.95h-0.95zM110.6 29.1h0.95v0.95h-0.95zM106.2 43.5h0.95v0.95h-0.95zM119.0 37.8h0.95v0.95h-0.95zM118.9 32.3h0.95v0.95h-0.95zM117.2 58.3h0.95v0.95h-0.95zM119.4 63.8h0.95v0.95h-0.95zM113.1 22.9h0.95v0.95h-0.95zM112.1 27.1h0.95v0.95h-0.95zM113.0 44.4h0.95v0.95h-0.95zM114.7 62.3h0.95v0.95h-0.95zM112.1 47.6h0.95v0.95h-0.95zM119.3 61.2h0.95v0.95h-0.95zM113.7 43.7h0.95v0.95h-0.95zM102.9 41.3h0.95v0.95h-0.95zM110.5 47.1h0.95v0.95h-0.95zM113.4 33.3h0.95v0.95h-0.95zM118.9 58.8h0.95v0.95h-0.95zM127.2 46.7h0.95v0.95h-0.95zM119.0 58.7h0.95v0.95h-0.95zM119.3 42.4h0.95v0.95h-0.95zM122.8 25.0h0.95v0.95h-0.95zM118.9 38.1h0.95v0.95h-0.95zM118.5 30.4h0.95v0.95h-0.95zM121.7 29.2h0.95v0.95h-0.95zM111.9 65.7h0.95v0.95h-0.95zM112.8 22.9h0.95v0.95h-0.95zM108.5 48.2h0.95v0.95h-0.95zM109.2 58.5h0.95v0.95h-0.95zM116.9 35.1h0.95v0.95h-0.95zM108.9 53.6h0.95v0.95h-0.95zM117.0 63.9h0.95v0.95h-0.95zM119.9 64.8h0.95v0.95h-0.95zM115.2 59.1h0.95v0.95h-0.95zM117.1 53.2h0.95v0.95h-0.95zM104.5 56.8h0.95v0.95h-0.95zM123.1 31.4h0.95v0.95h-0.95zM127.2 45.6h0.95v0.95h-0.95zM112.5 48.9h0.95v0.95h-0.95zM101.8 54.4h0.95v0.95h-0.95zM108.4 47.7h0.95v0.95h-0.95zM109.8 45.3h0.95v0.95h-0.95zM116.8 36.9h0.95v0.95h-0.95zM119.4 39.3h0.95v0.95h-0.95zM99.1 35.9h0.95v0.95h-0.95zM112.6 28.3h0.95v0.95h-0.95zM111.6 36.6h0.95v0.95h-0.95zM104.9 40.2h0.95v0.95h-0.95zM112.5 34.0h0.95v0.95h-0.95zM101.8 57.8h0.95v0.95h-0.95zM117.2 44.3h0.95v0.95h-0.95zM105.2 30.1h0.95v0.95h-0.95zM121.7 40.0h0.95v0.95h-0.95zM124.5 36.4h0.95v0.95h-0.95zM128.1 43.4h0.95v0.95h-0.95zM99.6 55.0h0.95v0.95h-0.95zM126.6 55.1h0.95v0.95h-0.95zM122.2 28.1h0.95v0.95h-0.95zM125.5 45.8h0.95v0.95h-0.95zM123.3 36.6h0.95v0.95h-0.95zM106.3 51.7h0.95v0.95h-0.95zM105.0 42.9h0.95v0.95h-0.95zM114.5 27.3h0.95v0.95h-0.95zM105.9 39.9h0.95v0.95h-0.95zM105.7 31.9h0.95v0.95h-0.95zM98.5 46.8h0.95v0.95h-0.95zM115.8 51.9h0.95v0.95h-0.95zM111.9 46.9h0.95v0.95h-0.95zM126.3 31.7h0.95v0.95h-0.95zM100.9 36.5h0.95v0.95h-0.95zM117.5 61.6h0.95v0.95h-0.95zM124.9 45.4h0.95v0.95h-0.95zM123.6 54.7h0.95v0.95h-0.95zM121.3 34.4h0.95v0.95h-0.95zM113.3 41.8h0.95v0.95h-0.95zM101.9 34.9h0.95v0.95h-0.95zM115.6 44.4h0.95v0.95h-0.95zM119.7 45.7h0.95v0.95h-0.95zM98.9 38.3h0.95v0.95h-0.95zM116.0 63.1h0.95v0.95h-0.95zM127.5 53.8h0.95v0.95h-0.95zM100.9 34.2h0.95v0.95h-0.95zM110.1 58.6h0.95v0.95h-0.95zM125.6 48.7h0.95v0.95h-0.95zM119.4 29.6h0.95v0.95h-0.95zM104.9 51.7h0.95v0.95h-0.95zM122.6 25.2h0.95v0.95h-0.95zM114.1 60.3h0.95v0.95h-0.95zM101.4 33.1h0.95v0.95h-0.95zM104.0 39.1h0.95v0.95h-0.95zM112.7 58.8h0.95v0.95h-0.95zM104.1 28.5h0.95v0.95h-0.95zM108.2 29.1h0.95v0.95h-0.95zM109.8 23.2h0.95v0.95h-0.95zM107.9 32.0h0.95v0.95h-0.95zM102.2 33.9h0.95v0.95h-0.95zM111.3 61.0h0.95v0.95h-0.95zM124.3 27.8h0.95v0.95h-0.95zM108.0 55.4h0.95v0.95h-0.95zM113.5 31.1h0.95v0.95h-0.95zM111.6 26.4h0.95v0.95h-0.95zM117.2 30.4h0.95v0.95h-0.95zM113.8 46.6h0.95v0.95h-0.95zM105.0 57.8h0.95v0.95h-0.95zM109.2 52.2h0.95v0.95h-0.95zM115.7 35.2h0.95v0.95h-0.95zM109.3 24.2h0.95v0.95h-0.95zM106.5 31.1h0.95v0.95h-0.95zM117.9 28.9h0.95v0.95h-0.95zM121.7 54.9h0.95v0.95h-0.95zM125.3 58.0h0.95v0.95h-0.95zM122.3 24.2h0.95v0.95h-0.95zM122.2 60.6h0.95v0.95h-0.95zM121.9 60.7h0.95v0.95h-0.95zM110.7 45.1h0.95v0.95h-0.95zM104.7 46.8h0.95v0.95h-0.95zM110.1 29.9h0.95v0.95h-0.95zM106.1 63.3h0.95v0.95h-0.95zM100.4 47.6h0.95v0.95h-0.95zM107.3 60.0h0.95v0.95h-0.95zM116.9 42.6h0.95v0.95h-0.95zM99.4 34.2h0.95v0.95h-0.95zM108.3 30.1h0.95v0.95h-0.95zM99.2 44.0h0.95v0.95h-0.95zM125.0 35.7h0.95v0.95h-0.95zM101.0 34.7h0.95v0.95h-0.95zM120.1 28.0h0.95v0.95h-0.95zM105.5 52.4h0.95v0.95h-0.95zM107.5 41.5h0.95v0.95h-0.95zM119.3 60.5h0.95v0.95h-0.95zM107.0 42.6h0.95v0.95h-0.95zM106.0 48.0h0.95v0.95h-0.95zM107.7 63.4h0.95v0.95h-0.95zM127.3 46.9h0.95v0.95h-0.95zM114.4 32.3h0.95v0.95h-0.95zM111.1 62.3h0.95v0.95h-0.95zM122.5 25.6h0.95v0.95h-0.95zM120.8 40.9h0.95v0.95h-0.95zM126.7 47.6h0.95v0.95h-0.95zM101.3 56.5h0.95v0.95h-0.95zM117.0 24.9h0.95v0.95h-0.95zM119.6 32.5h0.95v0.95h-0.95zM125.5 48.5h0.95v0.95h-0.95zM102.0 47.2h0.95v0.95h-0.95zM105.7 53.7h0.95v0.95h-0.95zM113.4 62.8h0.95v0.95h-0.95zM119.8 39.2h0.95v0.95h-0.95zM112.4 27.8h0.95v0.95h-0.95zM115.5 57.8h0.95v0.95h-0.95zM118.1 51.1h0.95v0.95h-0.95zM123.9 62.8h0.95v0.95h-0.95zM106.2 57.4h0.95v0.95h-0.95zM121.9 44.9h0.95v0.95h-0.95zM118.2 37.2h0.95v0.95h-0.95zM115.1 39.9h0.95v0.95h-0.95zM104.1 31.5h0.95v0.95h-0.95zM111.6 41.8h0.95v0.95h-0.95zM115.8 34.8h0.95v0.95h-0.95zM106.2 35.1h0.95v0.95h-0.95zM97.7 43.7h0.95v0.95h-0.95zM127.7 33.5h0.95v0.95h-0.95zM117.0 62.3h0.95v0.95h-0.95zM118.6 29.6h0.95v0.95h-0.95zM107.3 44.2h0.95v0.95h-0.95zM116.8 32.6h0.95v0.95h-0.95zM120.9 57.4h0.95v0.95h-0.95zM111.6 33.6h0.95v0.95h-0.95zM112.4 52.1h0.95v0.95h-0.95zM123.2 37.8h0.95v0.95h-0.95zM107.0 64.3h0.95v0.95h-0.95zM110.1 65.0h0.95v0.95h-0.95zM103.4 32.3h0.95v0.95h-0.95zM104.7 41.3h0.95v0.95h-0.95zM122.4 60.3h0.95v0.95h-0.95zM116.2 63.3h0.95v0.95h-0.95zM103.7 58.8h0.95v0.95h-0.95zM106.7 63.1h0.95v0.95h-0.95zM101.7 53.6h0.95v0.95h-0.95zM100.6 56.2h0.95v0.95h-0.95zM120.1 52.0h0.95v0.95h-0.95zM114.9 46.9h0.95v0.95h-0.95zM109.7 35.6h0.95v0.95h-0.95zM108.9 31.8h0.95v0.95h-0.95zM120.3 35.9h0.95v0.95h-0.95zM118.6 46.9h0.95v0.95h-0.95zM126.0 45.0h0.95v0.95h-0.95zM117.9 46.6h0.95v0.95h-0.95zM114.1 43.4h0.95v0.95h-0.95zM124.6 31.7h0.95v0.95h-0.95zM109.0 60.8h0.95v0.95h-0.95zM124.7 26.0h0.95v0.95h-0.95zM124.2 45.5h0.95v0.95h-0.95zM111.6 24.3h0.95v0.95h-0.95zM120.3 42.0h0.95v0.95h-0.95zM112.5 59.1h0.95v0.95h-0.95zM122.6 27.3h0.95v0.95h-0.95zM119.8 38.0h0.95v0.95h-0.95zM108.6 36.7h0.95v0.95h-0.95zM107.0 31.8h0.95v0.95h-0.95zM118.2 62.1h0.95v0.95h-0.95zM111.2 38.0h0.95v0.95h-0.95zM121.0 34.5h0.95v0.95h-0.95zM110.0 51.8h0.95v0.95h-0.95zM108.7 52.6h0.95v0.95h-0.95zM122.5 38.6h0.95v0.95h-0.95zM112.3 63.6h0.95v0.95h-0.95zM111.1 44.1h0.95v0.95h-0.95zM119.4 56.3h0.95v0.95h-0.95zM119.8 47.1h0.95v0.95h-0.95zM122.4 47.7h0.95v0.95h-0.95zM120.9 43.7h0.95v0.95h-0.95zM107.3 45.4h0.95v0.95h-0.95zM105.2 32.9h0.95v0.95h-0.95zM106.6 32.5h0.95v0.95h-0.95zM126.5 59.3h0.95v0.95h-0.95zM112.0 44.0h0.95v0.95h-0.95zM114.5 40.0h0.95v0.95h-0.95zM115.6 35.9h0.95v0.95h-0.95zM105.8 54.8h0.95v0.95h-0.95zM124.2 49.0h0.95v0.95h-0.95zM111.7 65.8h0.95v0.95h-0.95zM115.5 27.5h0.95v0.95h-0.95zM109.0 51.4h0.95v0.95h-0.95zM121.5 41.1h0.95v0.95h-0.95zM112.8 62.3h0.95v0.95h-0.95zM125.7 31.1h0.95v0.95h-0.95zM104.2 56.4h0.95v0.95h-0.95zM126.7 43.5h0.95v0.95h-0.95zM99.5 42.9h0.95v0.95h-0.95zM113.5 38.0h0.95v0.95h-0.95zM113.4 63.6h0.95v0.95h-0.95zM112.9 58.8h0.95v0.95h-0.95zM103.6 56.8h0.95v0.95h-0.95zM114.0 34.3h0.95v0.95h-0.95zM116.1 31.5h0.95v0.95h-0.95zM116.7 58.4h0.95v0.95h-0.95zM120.9 23.0h0.95v0.95h-0.95zM124.5 42.6h0.95v0.95h-0.95zM112.6 44.4h0.95v0.95h-0.95zM125.7 58.5h0.95v0.95h-0.95zM107.9 27.9h0.95v0.95h-0.95zM122.1 26.6h0.95v0.95h-0.95zM116.6 41.3h0.95v0.95h-0.95zM126.6 34.6h0.95v0.95h-0.95zM111.8 31.6h0.95v0.95h-0.95zM120.0 54.8h0.95v0.95h-0.95zM124.5 40.5h0.95v0.95h-0.95zM107.4 30.5h0.95v0.95h-0.95zM117.6 34.3h0.95v0.95h-0.95zM99.6 53.5h0.95v0.95h-0.95zM101.9 33.3h0.95v0.95h-0.95zM111.7 59.7h0.95v0.95h-0.95zM126.3 45.2h0.95v0.95h-0.95zM108.3 52.4h0.95v0.95h-0.95zM114.1 53.2h0.95v0.95h-0.95zM128.0 44.4h0.95v0.95h-0.95zM127.4 55.7h0.95v0.95h-0.95zM107.0 26.7h0.95v0.95h-0.95zM118.4 33.8h0.95v0.95h-0.95zM122.7 34.3h0.95v0.95h-0.95zM124.3 53.1h0.95v0.95h-0.95zM120.8 53.9h0.95v0.95h-0.95zM105.3 27.9h0.95v0.95h-0.95zM106.9 41.5h0.95v0.95h-0.95zM118.2 58.2h0.95v0.95h-0.95zM122.4 33.5h0.95v0.95h-0.95zM108.4 65.0h0.95v0.95h-0.95zM125.1 47.8h0.95v0.95h-0.95zM122.4 53.2h0.95v0.95h-0.95zM107.6 39.2h0.95v0.95h-0.95zM124.3 37.1h0.95v0.95h-0.95zM114.4 45.5h0.95v0.95h-0.95zM119.4 64.2h0.95v0.95h-0.95zM100.1 36.6h0.95v0.95h-0.95zM97.7 40.2h0.95v0.95h-0.95zM113.4 61.7h0.95v0.95h-0.95zM119.3 48.3h0.95v0.95h-0.95zM109.8 48.1h0.95v0.95h-0.95zM100.0 54.5h0.95v0.95h-0.95zM120.6 50.0h0.95v0.95h-0.95zM125.5 35.9h0.95v0.95h-0.95zM100.3 33.5h0.95v0.95h-0.95zM97.4 41.8h0.95v0.95h-0.95zM115.3 59.6h0.95v0.95h-0.95zM103.1 58.9h0.95v0.95h-0.95zM111.6 53.5h0.95v0.95h-0.95zM107.6 29.3h0.95v0.95h-0.95zM102.3 56.1h0.95v0.95h-0.95zM121.3 50.9h0.95v0.95h-0.95zM124.3 42.3h0.95v0.95h-0.95zM100.8 58.1h0.95v0.95h-0.95zM121.7 38.8h0.95v0.95h-0.95zM124.5 61.2h0.95v0.95h-0.95zM125.2 58.5h0.95v0.95h-0.95zM127.3 46.2h0.95v0.95h-0.95zM112.7 51.3h0.95v0.95h-0.95zM127.9 38.7h0.95v0.95h-0.95zM99.0 49.0h0.95v0.95h-0.95zM111.7 48.7h0.95v0.95h-0.95zM118.2 54.6h0.95v0.95h-0.95zM111.1 23.3h0.95v0.95h-0.95zM119.5 55.0h0.95v0.95h-0.95zM120.2 43.1h0.95v0.95h-0.95zM101.2 45.1h0.95v0.95h-0.95zM113.4 50.4h0.95v0.95h-0.95zM116.7 59.2h0.95v0.95h-0.95zM125.2 59.8h0.95v0.95h-0.95zM111.8 26.0h0.95v0.95h-0.95zM121.6 61.6h0.95v0.95h-0.95zM108.5 34.8h0.95v0.95h-0.95zM114.0 42.3h0.95v0.95h-0.95zM118.6 64.9h0.95v0.95h-0.95zM121.7 59.0h0.95v0.95h-0.95zM110.8 63.0h0.95v0.95h-0.95zM104.4 34.7h0.95v0.95h-0.95zM104.3 40.2h0.95v0.95h-0.95zM123.9 46.1h0.95v0.95h-0.95zM108.5 46.3h0.95v0.95h-0.95zM110.0 64.8h0.95v0.95h-0.95zM101.6 41.5h0.95v0.95h-0.95zM120.0 53.8h0.95v0.95h-0.95zM122.2 56.9h0.95v0.95h-0.95zM108.3 27.0h0.95v0.95h-0.95zM99.4 44.2h0.95v0.95h-0.95zM105.1 57.7h0.95v0.95h-0.95zM106.2 40.0h0.95v0.95h-0.95zM121.5 24.6h0.95v0.95h-0.95zM119.0 48.8h0.95v0.95h-0.95zM104.4 37.9h0.95v0.95h-0.95zM104.2 59.0h0.95v0.95h-0.95zM105.6 38.7h0.95v0.95h-0.95zM102.3 30.7h0.95v0.95h-0.95zM109.1 37.9h0.95v0.95h-0.95zM118.4 43.1h0.95v0.95h-0.95zM119.2 61.0h0.95v0.95h-0.95zM111.1 25.7h0.95v0.95h-0.95zM111.9 54.9h0.95v0.95h-0.95zM103.9 28.4h0.95v0.95h-0.95zM103.7 44.5h0.95v0.95h-0.95zM102.2 56.7h0.95v0.95h-0.95zM103.7 43.4h0.95v0.95h-0.95zM106.9 39.9h0.95v0.95h-0.95zM118.8 45.1h0.95v0.95h-0.95zM114.2 53.2h0.95v0.95h-0.95zM117.8 43.1h0.95v0.95h-0.95zM119.5 59.2h0.95v0.95h-0.95zM121.8 37.6h0.95v0.95h-0.95zM119.2 57.6h0.95v0.95h-0.95zM118.4 51.1h0.95v0.95h-0.95zM116.5 29.7h0.95v0.95h-0.95zM104.8 54.8h0.95v0.95h-0.95zM104.8 58.8h0.95v0.95h-0.95zM121.5 36.7h0.95v0.95h-0.95zM113.0 29.2h0.95v0.95h-0.95zM98.7 48.7h0.95v0.95h-0.95zM119.2 47.7h0.95v0.95h-0.95zM116.3 25.3h0.95v0.95h-0.95zM103.3 34.2h0.95v0.95h-0.95zM118.3 53.9h0.95v0.95h-0.95zM117.4 64.2h0.95v0.95h-0.95zM119.2 32.8h0.95v0.95h-0.95zM123.1 60.5h0.95v0.95h-0.95zM123.9 35.2h0.95v0.95h-0.95zM106.7 55.3h0.95v0.95h-0.95zM111.9 29.7h0.95v0.95h-0.95zM114.1 37.8h0.95v0.95h-0.95zM121.1 45.9h0.95v0.95h-0.95zM112.7 32.4h0.95v0.95h-0.95zM106.8 43.4h0.95v0.95h-0.95zM123.0 41.4h0.95v0.95h-0.95zM98.4 39.3h0.95v0.95h-0.95zM101.2 46.1h0.95v0.95h-0.95zM110.6 36.6h0.95v0.95h-0.95zM112.0 55.1h0.95v0.95h-0.95zM121.7 26.4h0.95v0.95h-0.95zM107.5 32.1h0.95v0.95h-0.95zM107.6 29.2h0.95v0.95h-0.95zM110.4 60.3h0.95v0.95h-0.95zM104.9 37.9h0.95v0.95h-0.95zM121.5 57.0h0.95v0.95h-0.95zM124.6 32.4h0.95v0.95h-0.95zM122.0 29.7h0.95v0.95h-0.95zM106.5 51.0h0.95v0.95h-0.95zM116.4 60.6h0.95v0.95h-0.95zM114.0 43.7h0.95v0.95h-0.95zM110.3 63.1h0.95v0.95h-0.95zM119.3 30.2h0.95v0.95h-0.95zM108.3 37.8h0.95v0.95h-0.95zM110.9 55.2h0.95v0.95h-0.95zM124.2 30.7h0.95v0.95h-0.95zM110.9 38.6h0.95v0.95h-0.95zM102.6 34.8h0.95v0.95h-0.95zM107.1 55.9h0.95v0.95h-0.95zM102.0 46.8h0.95v0.95h-0.95zM123.9 29.0h0.95v0.95h-0.95zM128.1 47.0h0.95v0.95h-0.95zM122.6 62.6h0.95v0.95h-0.95zM110.6 49.5h0.95v0.95h-0.95zM121.1 56.7h0.95v0.95h-0.95zM117.0 64.3h0.95v0.95h-0.95zM102.6 48.7h0.95v0.95h-0.95zM121.2 56.7h0.95v0.95h-0.95zM124.0 53.2h0.95v0.95h-0.95zM101.1 40.1h0.95v0.95h-0.95zM117.6 34.9h0.95v0.95h-0.95zM106.7 44.7h0.95v0.95h-0.95zM101.9 43.5h0.95v0.95h-0.95zM108.1 50.9h0.95v0.95h-0.95zM115.3 52.5h0.95v0.95h-0.95zM134.6 38.2h0.95v0.95h-0.95zM128.4 40.9h0.95v0.95h-0.95zM132.7 38.1h0.95v0.95h-0.95zM129.6 36.0h0.95v0.95h-0.95zM127.7 35.3h0.95v0.95h-0.95zM131.7 36.5h0.95v0.95h-0.95zM129.8 40.9h0.95v0.95h-0.95zM132.6 40.4h0.95v0.95h-0.95zM136.1 37.9h0.95v0.95h-0.95zM133.2 39.1h0.95v0.95h-0.95zM136.0 39.9h0.95v0.95h-0.95zM129.9 37.8h0.95v0.95h-0.95zM134.6 37.1h0.95v0.95h-0.95zM131.5 41.6h0.95v0.95h-0.95zM128.0 39.5h0.95v0.95h-0.95zM135.1 40.3h0.95v0.95h-0.95zM132.3 40.1h0.95v0.95h-0.95zM131.9 37.4h0.95v0.95h-0.95zM136.7 38.6h0.95v0.95h-0.95zM129.1 38.2h0.95v0.95h-0.95zM132.1 41.9h0.95v0.95h-0.95zM131.8 41.7h0.95v0.95h-0.95zM130.0 39.5h0.95v0.95h-0.95zM138.6 39.7h0.95v0.95h-0.95zM130.2 38.2h0.95v0.95h-0.95zM128.4 35.1h0.95v0.95h-0.95zM130.8 41.4h0.95v0.95h-0.95zM129.2 41.1h0.95v0.95h-0.95zM131.6 38.6h0.95v0.95h-0.95zM135.8 40.3h0.95v0.95h-0.95zM101.8 88.8h0.95v0.95h-0.95zM104.5 91.3h0.95v0.95h-0.95zM105.6 99.4h0.95v0.95h-0.95zM110.8 102.4h0.95v0.95h-0.95zM111.3 94.5h0.95v0.95h-0.95zM110.1 90.5h0.95v0.95h-0.95zM107.0 96.4h0.95v0.95h-0.95zM108.4 93.3h0.95v0.95h-0.95zM114.3 103.2h0.95v0.95h-0.95zM99.0 95.7h0.95v0.95h-0.95zM113.6 95.3h0.95v0.95h-0.95zM112.1 93.5h0.95v0.95h-0.95zM108.0 106.2h0.95v0.95h-0.95zM113.4 101.0h0.95v0.95h-0.95zM111.3 99.1h0.95v0.95h-0.95zM107.0 102.5h0.95v0.95h-0.95zM103.5 92.9h0.95v0.95h-0.95zM110.4 99.4h0.95v0.95h-0.95zM104.0 105.1h0.95v0.95h-0.95zM108.0 105.8h0.95v0.95h-0.95zM109.7 90.1h0.95v0.95h-0.95zM107.7 100.5h0.95v0.95h-0.95zM107.7 93.2h0.95v0.95h-0.95zM103.8 101.8h0.95v0.95h-0.95zM111.3 111.8h0.95v0.95h-0.95zM104.3 96.3h0.95v0.95h-0.95zM99.4 99.4h0.95v0.95h-0.95zM110.4 107.7h0.95v0.95h-0.95zM113.5 96.1h0.95v0.95h-0.95zM107.9 112.7h0.95v0.95h-0.95zM105.3 93.5h0.95v0.95h-0.95zM101.7 89.6h0.95v0.95h-0.95zM105.4 111.2h0.95v0.95h-0.95zM102.2 109.6h0.95v0.95h-0.95zM98.2 101.6h0.95v0.95h-0.95zM107.2 90.5h0.95v0.95h-0.95zM97.9 102.8h0.95v0.95h-0.95zM103.9 99.6h0.95v0.95h-0.95zM109.5 92.4h0.95v0.95h-0.95zM111.3 110.4h0.95v0.95h-0.95zM113.4 101.7h0.95v0.95h-0.95zM102.5 98.2h0.95v0.95h-0.95zM113.7 113.8h0.95v0.95h-0.95zM102.3 94.8h0.95v0.95h-0.95zM105.3 98.5h0.95v0.95h-0.95zM113.9 109.0h0.95v0.95h-0.95zM99.7 109.4h0.95v0.95h-0.95zM108.5 111.7h0.95v0.95h-0.95zM109.7 105.8h0.95v0.95h-0.95zM108.3 96.8h0.95v0.95h-0.95zM110.2 107.9h0.95v0.95h-0.95zM111.0 115.5h0.95v0.95h-0.95zM109.8 91.7h0.95v0.95h-0.95zM104.8 114.0h0.95v0.95h-0.95zM113.2 105.3h0.95v0.95h-0.95zM106.6 99.0h0.95v0.95h-0.95zM110.1 102.7h0.95v0.95h-0.95zM107.8 98.4h0.95v0.95h-0.95zM106.6 99.3h0.95v0.95h-0.95zM113.7 105.7h0.95v0.95h-0.95zM98.0 105.8h0.95v0.95h-0.95zM116.7 104.7h0.95v0.95h-0.95zM116.3 104.7h0.95v0.95h-0.95zM105.9 104.2h0.95v0.95h-0.95zM100.5 109.3h0.95v0.95h-0.95zM107.2 98.7h0.95v0.95h-0.95zM99.3 104.4h0.95v0.95h-0.95zM102.9 91.1h0.95v0.95h-0.95zM107.0 90.7h0.95v0.95h-0.95zM114.2 113.1h0.95v0.95h-0.95zM97.6 95.3h0.95v0.95h-0.95zM110.6 114.8h0.95v0.95h-0.95zM100.9 112.0h0.95v0.95h-0.95zM98.2 98.7h0.95v0.95h-0.95zM102.0 95.3h0.95v0.95h-0.95zM112.3 93.1h0.95v0.95h-0.95zM105.6 104.7h0.95v0.95h-0.95zM101.2 89.4h0.95v0.95h-0.95zM98.9 100.3h0.95v0.95h-0.95zM116.5 107.1h0.95v0.95h-0.95zM115.4 99.6h0.95v0.95h-0.95zM106.1 99.6h0.95v0.95h-0.95zM103.4 99.8h0.95v0.95h-0.95zM107.7 103.6h0.95v0.95h-0.95zM114.2 96.0h0.95v0.95h-0.95zM113.9 105.7h0.95v0.95h-0.95zM110.3 99.0h0.95v0.95h-0.95zM107.5 107.1h0.95v0.95h-0.95zM97.6 97.0h0.95v0.95h-0.95zM115.3 111.8h0.95v0.95h-0.95zM111.8 96.0h0.95v0.95h-0.95zM100.6 109.2h0.95v0.95h-0.95zM103.3 111.1h0.95v0.95h-0.95zM108.5 112.9h0.95v0.95h-0.95zM107.8 98.8h0.95v0.95h-0.95zM101.3 108.0h0.95v0.95h-0.95zM112.9 107.0h0.95v0.95h-0.95zM110.7 92.8h0.95v0.95h-0.95zM112.1 92.5h0.95v0.95h-0.95zM105.2 115.6h0.95v0.95h-0.95zM99.4 94.3h0.95v0.95h-0.95zM113.1 109.9h0.95v0.95h-0.95zM109.3 89.3h0.95v0.95h-0.95zM99.6 109.5h0.95v0.95h-0.95zM107.4 91.8h0.95v0.95h-0.95zM109.1 89.3h0.95v0.95h-0.95zM104.1 112.5h0.95v0.95h-0.95zM106.1 112.8h0.95v0.95h-0.95zM98.6 102.9h0.95v0.95h-0.95zM101.4 93.9h0.95v0.95h-0.95zM105.9 107.4h0.95v0.95h-0.95zM102.5 90.1h0.95v0.95h-0.95zM116.5 102.0h0.95v0.95h-0.95zM112.1 111.0h0.95v0.95h-0.95zM100.0 104.3h0.95v0.95h-0.95zM109.0 111.6h0.95v0.95h-0.95zM99.2 97.4h0.95v0.95h-0.95zM110.2 111.7h0.95v0.95h-0.95zM107.2 104.6h0.95v0.95h-0.95zM110.4 105.4h0.95v0.95h-0.95zM105.2 104.5h0.95v0.95h-0.95zM103.6 98.9h0.95v0.95h-0.95zM105.1 98.3h0.95v0.95h-0.95zM104.4 100.8h0.95v0.95h-0.95zM100.8 94.4h0.95v0.95h-0.95zM97.9 105.6h0.95v0.95h-0.95zM105.9 90.8h0.95v0.95h-0.95zM109.5 89.3h0.95v0.95h-0.95zM100.6 97.3h0.95v0.95h-0.95zM108.5 96.7h0.95v0.95h-0.95zM99.5 109.8h0.95v0.95h-0.95zM104.7 106.6h0.95v0.95h-0.95zM110.0 97.3h0.95v0.95h-0.95zM108.2 91.6h0.95v0.95h-0.95zM105.4 116.0h0.95v0.95h-0.95zM99.1 92.3h0.95v0.95h-0.95zM106.2 99.1h0.95v0.95h-0.95zM105.9 103.4h0.95v0.95h-0.95zM101.0 95.6h0.95v0.95h-0.95zM110.1 108.5h0.95v0.95h-0.95zM103.3 92.2h0.95v0.95h-0.95zM101.0 91.4h0.95v0.95h-0.95zM109.8 107.7h0.95v0.95h-0.95zM99.3 94.0h0.95v0.95h-0.95zM115.9 101.5h0.95v0.95h-0.95zM98.6 105.9h0.95v0.95h-0.95zM111.1 112.2h0.95v0.95h-0.95zM104.6 90.2h0.95v0.95h-0.95zM104.2 104.2h0.95v0.95h-0.95zM112.9 103.7h0.95v0.95h-0.95zM113.4 104.9h0.95v0.95h-0.95zM112.8 108.9h0.95v0.95h-0.95zM103.8 97.3h0.95v0.95h-0.95zM107.1 110.6h0.95v0.95h-0.95zM108.1 98.0h0.95v0.95h-0.95zM108.0 103.8h0.95v0.95h-0.95zM110.8 107.1h0.95v0.95h-0.95zM98.9 103.4h0.95v0.95h-0.95zM104.5 101.8h0.95v0.95h-0.95zM102.3 110.2h0.95v0.95h-0.95zM106.5 112.3h0.95v0.95h-0.95zM108.2 112.6h0.95v0.95h-0.95zM102.7 94.6h0.95v0.95h-0.95zM105.6 88.6h0.95v0.95h-0.95zM102.4 105.9h0.95v0.95h-0.95zM110.8 104.5h0.95v0.95h-0.95zM109.0 95.9h0.95v0.95h-0.95zM106.0 95.4h0.95v0.95h-0.95zM109.5 92.1h0.95v0.95h-0.95zM106.5 91.8h0.95v0.95h-0.95zM108.9 113.2h0.95v0.95h-0.95zM108.2 97.9h0.95v0.95h-0.95zM105.9 112.2h0.95v0.95h-0.95zM114.7 99.5h0.95v0.95h-0.95zM108.5 90.8h0.95v0.95h-0.95zM99.6 99.6h0.95v0.95h-0.95zM108.9 100.2h0.95v0.95h-0.95zM105.2 93.8h0.95v0.95h-0.95zM98.3 106.2h0.95v0.95h-0.95zM106.2 108.6h0.95v0.95h-0.95zM109.3 100.0h0.95v0.95h-0.95zM109.8 110.4h0.95v0.95h-0.95zM110.3 114.6h0.95v0.95h-0.95zM109.8 92.7h0.95v0.95h-0.95zM101.3 111.7h0.95v0.95h-0.95zM113.2 98.9h0.95v0.95h-0.95zM107.4 99.9h0.95v0.95h-0.95zM112.2 109.1h0.95v0.95h-0.95zM109.8 96.3h0.95v0.95h-0.95zM113.0 112.5h0.95v0.95h-0.95zM105.3 90.2h0.95v0.95h-0.95zM104.8 110.6h0.95v0.95h-0.95zM100.5 104.6h0.95v0.95h-0.95zM104.4 94.9h0.95v0.95h-0.95zM99.3 94.7h0.95v0.95h-0.95zM106.4 116.0h0.95v0.95h-0.95zM108.6 107.0h0.95v0.95h-0.95zM100.4 107.7h0.95v0.95h-0.95zM101.3 98.6h0.95v0.95h-0.95zM101.3 94.0h0.95v0.95h-0.95zM103.6 96.7h0.95v0.95h-0.95zM116.0 101.1h0.95v0.95h-0.95zM114.1 113.5h0.95v0.95h-0.95zM110.0 107.0h0.95v0.95h-0.95zM112.6 92.9h0.95v0.95h-0.95zM100.9 90.8h0.95v0.95h-0.95zM108.9 103.5h0.95v0.95h-0.95zM108.3 105.8h0.95v0.95h-0.95zM100.8 105.4h0.95v0.95h-0.95zM107.5 97.2h0.95v0.95h-0.95zM113.0 103.8h0.95v0.95h-0.95zM108.4 100.5h0.95v0.95h-0.95zM106.6 100.1h0.95v0.95h-0.95zM111.6 109.9h0.95v0.95h-0.95zM110.7 102.4h0.95v0.95h-0.95zM106.1 103.6h0.95v0.95h-0.95zM107.5 98.8h0.95v0.95h-0.95zM104.5 98.7h0.95v0.95h-0.95zM103.9 107.2h0.95v0.95h-0.95zM103.8 95.1h0.95v0.95h-0.95zM101.5 102.1h0.95v0.95h-0.95zM114.0 101.6h0.95v0.95h-0.95zM115.8 101.8h0.95v0.95h-0.95zM98.5 102.9h0.95v0.95h-0.95zM102.4 113.5h0.95v0.95h-0.95zM104.2 100.8h0.95v0.95h-0.95zM115.7 100.9h0.95v0.95h-0.95zM99.6 95.2h0.95v0.95h-0.95zM109.4 89.1h0.95v0.95h-0.95zM107.2 103.8h0.95v0.95h-0.95zM105.6 96.8h0.95v0.95h-0.95zM114.4 108.8h0.95v0.95h-0.95zM112.8 101.6h0.95v0.95h-0.95zM109.7 114.3h0.95v0.95h-0.95zM113.6 104.0h0.95v0.95h-0.95zM108.7 93.9h0.95v0.95h-0.95zM108.3 114.2h0.95v0.95h-0.95zM108.7 96.6h0.95v0.95h-0.95zM107.5 93.4h0.95v0.95h-0.95zM112.9 102.5h0.95v0.95h-0.95zM110.9 97.1h0.95v0.95h-0.95zM105.5 108.5h0.95v0.95h-0.95zM108.8 89.4h0.95v0.95h-0.95zM108.5 116.5h0.95v0.95h-0.95zM108.1 116.3h0.95v0.95h-0.95zM101.8 101.3h0.95v0.95h-0.95zM97.3 101.3h0.95v0.95h-0.95zM113.9 97.3h0.95v0.95h-0.95zM108.5 92.0h0.95v0.95h-0.95zM118.5 89.5h0.95v0.95h-0.95zM114.8 84.0h0.95v0.95h-0.95zM122.0 96.0h0.95v0.95h-0.95zM121.9 89.6h0.95v0.95h-0.95zM122.8 74.7h0.95v0.95h-0.95zM126.6 73.0h0.95v0.95h-0.95zM126.9 84.3h0.95v0.95h-0.95zM119.7 86.1h0.95v0.95h-0.95zM127.6 77.3h0.95v0.95h-0.95zM122.1 85.9h0.95v0.95h-0.95zM117.0 75.9h0.95v0.95h-0.95zM128.1 80.3h0.95v0.95h-0.95zM124.7 85.3h0.95v0.95h-0.95zM119.3 83.7h0.95v0.95h-0.95zM123.6 91.9h0.95v0.95h-0.95zM119.2 81.0h0.95v0.95h-0.95zM125.2 82.6h0.95v0.95h-0.95zM123.0 77.7h0.95v0.95h-0.95zM127.1 89.2h0.95v0.95h-0.95zM116.7 74.7h0.95v0.95h-0.95zM114.5 90.1h0.95v0.95h-0.95zM120.6 73.5h0.95v0.95h-0.95zM123.9 96.2h0.95v0.95h-0.95zM115.9 89.1h0.95v0.95h-0.95zM118.0 93.9h0.95v0.95h-0.95zM113.8 83.7h0.95v0.95h-0.95zM127.5 74.0h0.95v0.95h-0.95zM124.9 91.1h0.95v0.95h-0.95zM126.2 95.0h0.95v0.95h-0.95zM128.9 83.1h0.95v0.95h-0.95zM125.7 85.7h0.95v0.95h-0.95zM127.9 90.0h0.95v0.95h-0.95zM120.3 87.5h0.95v0.95h-0.95zM122.5 85.7h0.95v0.95h-0.95zM115.3 92.2h0.95v0.95h-0.95zM127.3 82.9h0.95v0.95h-0.95zM125.9 84.3h0.95v0.95h-0.95zM117.3 84.8h0.95v0.95h-0.95zM115.1 78.5h0.95v0.95h-0.95zM127.7 88.1h0.95v0.95h-0.95zM126.8 94.1h0.95v0.95h-0.95zM117.4 88.2h0.95v0.95h-0.95zM123.0 89.7h0.95v0.95h-0.95zM114.8 78.7h0.95v0.95h-0.95zM128.1 74.0h0.95v0.95h-0.95zM123.7 85.3h0.95v0.95h-0.95zM115.0 79.0h0.95v0.95h-0.95zM116.1 75.1h0.95v0.95h-0.95zM124.8 79.1h0.95v0.95h-0.95zM127.2 87.1h0.95v0.95h-0.95zM127.0 79.2h0.95v0.95h-0.95zM115.8 76.2h0.95v0.95h-0.95zM127.0 95.7h0.95v0.95h-0.95zM123.9 89.7h0.95v0.95h-0.95zM119.5 83.0h0.95v0.95h-0.95zM118.5 91.9h0.95v0.95h-0.95zM121.2 73.1h0.95v0.95h-0.95zM118.2 89.2h0.95v0.95h-0.95zM120.0 83.1h0.95v0.95h-0.95zM123.1 87.2h0.95v0.95h-0.95zM117.3 74.7h0.95v0.95h-0.95zM116.9 83.7h0.95v0.95h-0.95zM114.0 79.2h0.95v0.95h-0.95zM124.3 84.3h0.95v0.95h-0.95zM117.4 85.0h0.95v0.95h-0.95zM122.8 96.0h0.95v0.95h-0.95zM122.1 78.1h0.95v0.95h-0.95zM119.5 90.7h0.95v0.95h-0.95zM115.7 79.5h0.95v0.95h-0.95zM114.2 89.2h0.95v0.95h-0.95zM126.4 79.2h0.95v0.95h-0.95zM117.8 77.2h0.95v0.95h-0.95zM126.6 73.5h0.95v0.95h-0.95zM117.5 82.1h0.95v0.95h-0.95zM128.7 77.9h0.95v0.95h-0.95zM128.9 79.4h0.95v0.95h-0.95zM127.1 90.2h0.95v0.95h-0.95zM121.3 95.2h0.95v0.95h-0.95zM120.2 96.6h0.95v0.95h-0.95zM123.8 92.3h0.95v0.95h-0.95zM120.5 89.7h0.95v0.95h-0.95zM122.5 93.7h0.95v0.95h-0.95zM116.1 82.0h0.95v0.95h-0.95zM120.2 71.9h0.95v0.95h-0.95zM115.3 71.3h0.95v0.95h-0.95zM124.6 77.0h0.95v0.95h-0.95zM120.9 85.3h0.95v0.95h-0.95zM122.4 92.4h0.95v0.95h-0.95zM115.2 79.9h0.95v0.95h-0.95zM115.2 86.6h0.95v0.95h-0.95zM126.1 82.6h0.95v0.95h-0.95zM120.5 83.5h0.95v0.95h-0.95zM126.6 86.0h0.95v0.95h-0.95zM114.3 82.5h0.95v0.95h-0.95zM125.3 97.7h0.95v0.95h-0.95zM122.7 74.2h0.95v0.95h-0.95zM117.2 93.5h0.95v0.95h-0.95zM115.8 76.9h0.95v0.95h-0.95zM124.4 85.1h0.95v0.95h-0.95zM122.0 73.3h0.95v0.95h-0.95zM127.7 82.4h0.95v0.95h-0.95zM120.9 83.0h0.95v0.95h-0.95zM120.8 80.1h0.95v0.95h-0.95zM117.9 91.1h0.95v0.95h-0.95zM127.1 79.0h0.95v0.95h-0.95zM122.9 78.1h0.95v0.95h-0.95zM127.1 90.6h0.95v0.95h-0.95zM120.0 95.6h0.95v0.95h-0.95zM122.8 93.3h0.95v0.95h-0.95zM119.4 85.3h0.95v0.95h-0.95zM119.8 86.7h0.95v0.95h-0.95zM126.4 85.1h0.95v0.95h-0.95zM130.0 76.1h0.95v0.95h-0.95zM129.4 82.8h0.95v0.95h-0.95zM119.5 76.1h0.95v0.95h-0.95zM116.2 74.3h0.95v0.95h-0.95zM126.1 96.5h0.95v0.95h-0.95zM119.3 91.5h0.95v0.95h-0.95zM114.2 87.9h0.95v0.95h-0.95zM118.1 91.5h0.95v0.95h-0.95zM126.1 89.9h0.95v0.95h-0.95zM121.8 86.4h0.95v0.95h-0.95zM129.0 84.3h0.95v0.95h-0.95zM127.5 91.8h0.95v0.95h-0.95zM118.7 93.1h0.95v0.95h-0.95zM120.8 87.7h0.95v0.95h-0.95zM124.4 86.5h0.95v0.95h-0.95zM126.2 80.5h0.95v0.95h-0.95zM128.5 84.3h0.95v0.95h-0.95zM127.3 94.8h0.95v0.95h-0.95zM119.3 82.0h0.95v0.95h-0.95zM127.6 80.2h0.95v0.95h-0.95zM124.1 90.2h0.95v0.95h-0.95zM123.4 97.1h0.95v0.95h-0.95zM124.9 81.6h0.95v0.95h-0.95zM125.0 81.8h0.95v0.95h-0.95zM118.1 76.8h0.95v0.95h-0.95zM117.2 85.4h0.95v0.95h-0.95zM117.7 80.6h0.95v0.95h-0.95zM126.5 74.0h0.95v0.95h-0.95zM124.2 84.8h0.95v0.95h-0.95zM120.0 94.9h0.95v0.95h-0.95zM117.9 81.6h0.95v0.95h-0.95zM119.1 93.5h0.95v0.95h-0.95zM115.4 83.8h0.95v0.95h-0.95zM116.2 76.1h0.95v0.95h-0.95zM128.7 81.2h0.95v0.95h-0.95zM116.9 84.7h0.95v0.95h-0.95zM122.9 76.9h0.95v0.95h-0.95zM117.5 94.9h0.95v0.95h-0.95zM126.5 91.6h0.95v0.95h-0.95zM126.4 92.6h0.95v0.95h-0.95zM124.7 95.7h0.95v0.95h-0.95zM126.4 89.1h0.95v0.95h-0.95zM125.1 94.5h0.95v0.95h-0.95zM127.2 86.6h0.95v0.95h-0.95zM119.8 94.5h0.95v0.95h-0.95zM113.9 89.4h0.95v0.95h-0.95zM128.9 83.7h0.95v0.95h-0.95zM127.3 75.6h0.95v0.95h-0.95zM115.7 88.4h0.95v0.95h-0.95zM114.3 89.8h0.95v0.95h-0.95zM122.9 95.1h0.95v0.95h-0.95zM126.7 86.5h0.95v0.95h-0.95zM129.0 77.2h0.95v0.95h-0.95zM129.0 81.9h0.95v0.95h-0.95zM114.3 87.5h0.95v0.95h-0.95zM119.6 89.8h0.95v0.95h-0.95zM138.8 89.1h0.95v0.95h-0.95zM130.5 96.2h0.95v0.95h-0.95zM137.9 93.8h0.95v0.95h-0.95zM137.9 106.4h0.95v0.95h-0.95zM139.8 92.7h0.95v0.95h-0.95zM132.4 98.4h0.95v0.95h-0.95zM131.0 95.6h0.95v0.95h-0.95zM135.1 87.7h0.95v0.95h-0.95zM131.7 97.2h0.95v0.95h-0.95zM131.2 86.3h0.95v0.95h-0.95zM134.8 96.8h0.95v0.95h-0.95zM141.0 98.4h0.95v0.95h-0.95zM127.4 91.0h0.95v0.95h-0.95zM137.4 107.3h0.95v0.95h-0.95zM130.6 101.1h0.95v0.95h-0.95zM132.2 82.9h0.95v0.95h-0.95zM137.9 95.2h0.95v0.95h-0.95zM139.6 96.5h0.95v0.95h-0.95zM127.6 100.3h0.95v0.95h-0.95zM131.2 95.2h0.95v0.95h-0.95zM129.2 91.3h0.95v0.95h-0.95zM139.1 94.9h0.95v0.95h-0.95zM131.7 99.5h0.95v0.95h-0.95zM132.2 105.8h0.95v0.95h-0.95zM131.7 91.0h0.95v0.95h-0.95zM133.2 91.6h0.95v0.95h-0.95zM137.2 86.1h0.95v0.95h-0.95zM136.0 85.1h0.95v0.95h-0.95zM140.1 99.6h0.95v0.95h-0.95zM136.6 89.8h0.95v0.95h-0.95zM138.8 96.3h0.95v0.95h-0.95zM139.0 100.7h0.95v0.95h-0.95zM129.1 98.6h0.95v0.95h-0.95zM140.2 94.6h0.95v0.95h-0.95zM130.4 94.7h0.95v0.95h-0.95zM129.8 87.2h0.95v0.95h-0.95zM129.5 102.6h0.95v0.95h-0.95zM139.8 104.1h0.95v0.95h-0.95zM140.5 99.3h0.95v0.95h-0.95zM135.8 93.3h0.95v0.95h-0.95zM132.0 103.2h0.95v0.95h-0.95zM137.3 96.5h0.95v0.95h-0.95zM138.0 92.0h0.95v0.95h-0.95zM137.6 101.2h0.95v0.95h-0.95zM132.6 94.5h0.95v0.95h-0.95zM128.9 93.8h0.95v0.95h-0.95zM133.9 89.4h0.95v0.95h-0.95zM133.6 92.2h0.95v0.95h-0.95zM129.7 105.1h0.95v0.95h-0.95zM128.7 102.0h0.95v0.95h-0.95zM138.4 96.9h0.95v0.95h-0.95zM131.9 82.9h0.95v0.95h-0.95zM139.7 93.1h0.95v0.95h-0.95zM134.6 99.8h0.95v0.95h-0.95zM130.7 99.2h0.95v0.95h-0.95zM132.3 105.1h0.95v0.95h-0.95zM131.7 85.3h0.95v0.95h-0.95zM131.2 90.4h0.95v0.95h-0.95zM130.8 93.6h0.95v0.95h-0.95zM139.0 88.4h0.95v0.95h-0.95zM137.9 89.2h0.95v0.95h-0.95zM134.2 88.1h0.95v0.95h-0.95zM130.1 97.1h0.95v0.95h-0.95zM138.8 102.1h0.95v0.95h-0.95zM127.1 98.7h0.95v0.95h-0.95zM136.6 87.9h0.95v0.95h-0.95zM137.5 103.0h0.95v0.95h-0.95zM127.9 88.1h0.95v0.95h-0.95zM132.1 101.6h0.95v0.95h-0.95zM127.0 92.9h0.95v0.95h-0.95zM134.7 91.7h0.95v0.95h-0.95zM137.8 87.4h0.95v0.95h-0.95zM128.7 85.6h0.95v0.95h-0.95zM132.3 93.7h0.95v0.95h-0.95zM128.5 94.5h0.95v0.95h-0.95zM135.3 89.8h0.95v0.95h-0.95zM135.8 96.7h0.95v0.95h-0.95zM134.7 98.2h0.95v0.95h-0.95zM136.2 106.7h0.95v0.95h-0.95zM132.6 85.7h0.95v0.95h-0.95zM133.4 101.7h0.95v0.95h-0.95zM139.0 87.8h0.95v0.95h-0.95zM135.6 100.6h0.95v0.95h-0.95zM134.5 91.2h0.95v0.95h-0.95zM137.5 91.6h0.95v0.95h-0.95zM128.5 93.4h0.95v0.95h-0.95zM138.9 97.6h0.95v0.95h-0.95zM131.3 96.8h0.95v0.95h-0.95zM132.2 103.8h0.95v0.95h-0.95zM127.5 87.6h0.95v0.95h-0.95zM132.9 96.8h0.95v0.95h-0.95zM134.2 98.4h0.95v0.95h-0.95zM138.2 100.7h0.95v0.95h-0.95zM137.1 92.2h0.95v0.95h-0.95zM137.9 91.2h0.95v0.95h-0.95zM129.7 89.6h0.95v0.95h-0.95zM134.7 104.6h0.95v0.95h-0.95zM132.9 99.1h0.95v0.95h-0.95zM132.5 100.7h0.95v0.95h-0.95zM129.4 99.0h0.95v0.95h-0.95zM135.5 92.6h0.95v0.95h-0.95zM129.8 93.0h0.95v0.95h-0.95zM130.7 99.2h0.95v0.95h-0.95zM133.7 100.2h0.95v0.95h-0.95zM130.1 95.3h0.95v0.95h-0.95zM135.2 84.0h0.95v0.95h-0.95zM128.0 88.2h0.95v0.95h-0.95zM137.1 92.9h0.95v0.95h-0.95zM135.5 98.5h0.95v0.95h-0.95zM137.7 93.9h0.95v0.95h-0.95zM131.8 95.0h0.95v0.95h-0.95zM130.2 97.9h0.95v0.95h-0.95zM133.2 106.3h0.95v0.95h-0.95zM131.6 95.7h0.95v0.95h-0.95zM130.4 91.2h0.95v0.95h-0.95zM137.4 85.8h0.95v0.95h-0.95zM128.0 95.1h0.95v0.95h-0.95zM128.9 102.5h0.95v0.95h-0.95zM137.0 94.0h0.95v0.95h-0.95zM130.9 83.5h0.95v0.95h-0.95zM132.6 103.3h0.95v0.95h-0.95zM132.9 103.6h0.95v0.95h-0.95zM138.2 90.8h0.95v0.95h-0.95zM139.7 99.6h0.95v0.95h-0.95zM130.0 102.5h0.95v0.95h-0.95zM137.5 94.5h0.95v0.95h-0.95zM135.5 97.4h0.95v0.95h-0.95zM139.5 104.7h0.95v0.95h-0.95zM137.7 99.8h0.95v0.95h-0.95zM131.6 89.1h0.95v0.95h-0.95zM138.4 103.0h0.95v0.95h-0.95zM134.1 91.3h0.95v0.95h-0.95zM127.2 86.5h0.95v0.95h-0.95zM131.8 92.2h0.95v0.95h-0.95zM133.0 92.5h0.95v0.95h-0.95zM127.6 98.5h0.95v0.95h-0.95zM130.8 100.3h0.95v0.95h-0.95zM139.2 92.7h0.95v0.95h-0.95zM131.3 101.9h0.95v0.95h-0.95zM133.2 89.5h0.95v0.95h-0.95zM129.6 97.4h0.95v0.95h-0.95zM138.2 96.4h0.95v0.95h-0.95zM140.8 95.9h0.95v0.95h-0.95zM137.7 92.2h0.95v0.95h-0.95zM133.1 90.1h0.95v0.95h-0.95zM128.6 89.8h0.95v0.95h-0.95zM135.0 104.5h0.95v0.95h-0.95zM137.2 85.5h0.95v0.95h-0.95zM140.2 90.6h0.95v0.95h-0.95zM140.1 99.6h0.95v0.95h-0.95zM126.0 95.5h0.95v0.95h-0.95zM128.5 88.1h0.95v0.95h-0.95zM131.4 99.4h0.95v0.95h-0.95zM135.3 100.0h0.95v0.95h-0.95zM129.7 95.9h0.95v0.95h-0.95zM127.9 93.9h0.95v0.95h-0.95zM139.1 105.5h0.95v0.95h-0.95zM130.2 94.0h0.95v0.95h-0.95zM139.3 102.3h0.95v0.95h-0.95zM126.2 97.4h0.95v0.95h-0.95zM138.0 87.6h0.95v0.95h-0.95zM137.4 93.0h0.95v0.95h-0.95zM133.1 104.6h0.95v0.95h-0.95zM140.4 99.8h0.95v0.95h-0.95zM138.8 93.0h0.95v0.95h-0.95zM137.1 85.7h0.95v0.95h-0.95zM126.2 96.2h0.95v0.95h-0.95zM133.9 83.4h0.95v0.95h-0.95zM134.4 86.2h0.95v0.95h-0.95zM137.1 104.4h0.95v0.95h-0.95zM133.5 100.0h0.95v0.95h-0.95zM139.0 90.6h0.95v0.95h-0.95zM127.6 100.1h0.95v0.95h-0.95zM126.4 95.4h0.95v0.95h-0.95zM128.1 87.0h0.95v0.95h-0.95zM140.6 102.1h0.95v0.95h-0.95zM132.7 105.6h0.95v0.95h-0.95zM136.8 107.7h0.95v0.95h-0.95zM136.3 97.0h0.95v0.95h-0.95zM128.0 96.0h0.95v0.95h-0.95zM135.4 89.0h0.95v0.95h-0.95zM137.2 88.5h0.95v0.95h-0.95zM135.6 99.5h0.95v0.95h-0.95zM135.4 85.0h0.95v0.95h-0.95zM131.2 104.0h0.95v0.95h-0.95zM130.7 99.2h0.95v0.95h-0.95zM137.1 101.8h0.95v0.95h-0.95zM128.3 93.8h0.95v0.95h-0.95zM137.3 87.4h0.95v0.95h-0.95zM134.4 85.7h0.95v0.95h-0.95zM126.4 92.4h0.95v0.95h-0.95zM130.6 85.4h0.95v0.95h-0.95zM128.5 96.2h0.95v0.95h-0.95zM126.5 93.2h0.95v0.95h-0.95zM135.1 91.1h0.95v0.95h-0.95zM140.0 93.3h0.95v0.95h-0.95zM130.1 88.5h0.95v0.95h-0.95zM139.0 101.4h0.95v0.95h-0.95zM133.8 105.2h0.95v0.95h-0.95zM139.2 98.1h0.95v0.95h-0.95zM129.0 84.5h0.95v0.95h-0.95zM129.4 85.0h0.95v0.95h-0.95zM134.5 89.2h0.95v0.95h-0.95zM137.4 99.5h0.95v0.95h-0.95zM134.2 101.6h0.95v0.95h-0.95zM132.6 93.0h0.95v0.95h-0.95zM130.6 84.8h0.95v0.95h-0.95zM133.2 84.7h0.95v0.95h-0.95zM134.8 97.6h0.95v0.95h-0.95zM133.3 85.3h0.95v0.95h-0.95zM136.9 89.6h0.95v0.95h-0.95zM128.3 86.3h0.95v0.95h-0.95zM128.2 87.9h0.95v0.95h-0.95zM128.6 93.1h0.95v0.95h-0.95zM128.9 88.7h0.95v0.95h-0.95z" fill="#24408a"/>
<line x1="27.2" y1="22" x2="27.2" y2="67.5" stroke="#3a3a3a" stroke-width="0.9"/>
<line x1="27.2" y1="72.1" x2="27.2" y2="112.5" stroke="#3a3a3a" stroke-width="0.9"/>
<text x="24.7" y="44.7" font-size="6.9" text-anchor="middle" fill="#333" stroke="#333" stroke-width="0.1" transform="rotate(-90 24.7 44.7)" textLength="34.4" lengthAdjust="spacingAndGlyphs">CD4<tspan font-size="4" dy="-2.4">+</tspan><tspan dy="2.4"> T cells</tspan></text>
<text x="24.7" y="92.4" font-size="6.9" text-anchor="middle" fill="#333" stroke="#333" stroke-width="0.1" transform="rotate(-90 24.7 92.4)" textLength="34.4" lengthAdjust="spacingAndGlyphs">CD8<tspan font-size="4" dy="-2.4">+</tspan><tspan dy="2.4"> T cells</tspan></text>
<line x1="39.4" y1="118.6" x2="39.4" y2="103.6" stroke="#111" stroke-width="0.8"/>
<line x1="39" y1="118.6" x2="55.4" y2="118.6" stroke="#111" stroke-width="0.8"/>
<path d="M39.4 101.3 L38 104.3 L40.8 104.3 Z" fill="#111"/>
<path d="M57.8 118.6 L54.8 117.2 L54.8 120 Z" fill="#111"/>
<text x="36.1" y="109.8" font-size="6.2" text-anchor="middle" fill="#3a3a3a" transform="rotate(-90 36.1 109.8)" textLength="16.6" lengthAdjust="spacingAndGlyphs" stroke="#3a3a3a" stroke-width="0.15">UMAP2</text>
<text x="48.75" y="125.9" font-size="6" text-anchor="middle" fill="#3a3a3a" textLength="16.9" lengthAdjust="spacingAndGlyphs" stroke="#3a3a3a" stroke-width="0.15">UMAP1</text>
<text x="145" y="37.1" font-size="4.3" fill="#333" stroke="#333" stroke-width="0.13">Cells</text>
<text x="149.2" y="43" font-size="4.3" fill="#333" stroke="#333" stroke-width="0.13">Ctrl</text>
<circle cx="146.3" cy="41.5" r="1.2" fill="#66708f"/>
<text x="149.2" y="48.5" font-size="4.3" fill="#333" stroke="#333" stroke-width="0.13">non-SAA</text>
<circle cx="146.3" cy="47" r="1.2" fill="#1c2c70"/>
<text x="149.2" y="54.4" font-size="4.3" fill="#333" stroke="#333" stroke-width="0.13">SAA</text>
<circle cx="146.3" cy="52.9" r="1.2" fill="#a8102c"/>
<text x="145" y="63.3" font-size="4.3" fill="#333" stroke="#333" stroke-width="0.13">Cell types</text>
<text x="149.2" y="69.3" font-size="4.3" fill="#333" stroke="#333" stroke-width="0.13">Naive</text>
<circle cx="146.3" cy="67.8" r="1.2" fill="#dc9383"/>
<text x="149.2" y="75.5" font-size="4.3" fill="#333" stroke="#333" stroke-width="0.13">Memory</text>
<circle cx="146.3" cy="74" r="1.2" fill="#4aa030"/>
<text x="149.2" y="81.7" font-size="4.3" fill="#333" stroke="#333" stroke-width="0.13">Effector</text>
<circle cx="146.3" cy="80.2" r="1.2" fill="#4a9ae0"/>
<text x="145" y="92.2" font-size="4.3" fill="#333" stroke="#333" stroke-width="0.13">Source</text>
<text x="149.2" y="98.4" font-size="4.3" fill="#333" stroke="#333" stroke-width="0.13">PB</text>
<circle cx="146.4" cy="96.9" r="1.3" fill="#111"/>
<text x="149.2" y="103.9" font-size="4.3" fill="#333" stroke="#333" stroke-width="0.13">BM</text>
<path d="M146.4 101.0 L147.9 103.5 L144.9 103.5Z" fill="#111"/>
<text x="181.6" y="16.7" font-size="10.61" font-weight="bold" fill="#000" stroke="#000" stroke-width="0.25">B</text>
<text x="195.6" y="68.4" font-size="6.4" text-anchor="middle" fill="#333" transform="rotate(-90 195.6 68.4)" textLength="49.4" lengthAdjust="spacingAndGlyphs">Non-SAA up-regulated</text>
<line x1="198.5" y1="27.2" x2="198.5" y2="109.4" stroke="#222" stroke-width="0.9"/>
<text x="222.98" y="25.6" font-size="4.3" fill="#333" text-anchor="middle" stroke="#333" stroke-width="0.13" textLength="23" lengthAdjust="spacingAndGlyphs">CD4<tspan font-size="2.67" dy="-1.63">+</tspan><tspan dy="1.63"> T cells</tspan></text>
<circle cx="209.6" cy="29.69" r="0.83" fill="#e2752f"/>
<circle cx="222.6" cy="29.69" r="0.83" fill="#e2752f"/>
<circle cx="209.6" cy="33.76" r="0.83" fill="#d9a285"/>
<circle cx="222.6" cy="33.76" r="0.99" fill="#cd2025"/>
<circle cx="209.6" cy="37.82" r="1.21" fill="#cd2025"/>
<circle cx="222.6" cy="37.82" r="0.99" fill="#cd2025"/>
<circle cx="235.8" cy="37.82" r="1.98" fill="#d9a285"/>
<circle cx="209.6" cy="41.89" r="1.98" fill="#e2752f"/>
<circle cx="222.6" cy="41.89" r="1.98" fill="#e2752f"/>
<circle cx="209.6" cy="45.96" r="0.99" fill="#d9502a"/>
<circle cx="222.6" cy="45.96" r="0.72" fill="#e2752f"/>
<circle cx="235.8" cy="45.96" r="1.71" fill="#d9a285"/>
<circle cx="209.6" cy="50.03" r="1.65" fill="#dd9062"/>
<circle cx="222.6" cy="50.03" r="1.32" fill="#dd9062"/>
<circle cx="209.6" cy="54.09" r="0.99" fill="#e2752f"/>
<circle cx="222.6" cy="54.09" r="0.99" fill="#d9502a"/>
<circle cx="209.6" cy="58.16" r="0.99" fill="#e2752f"/>
<circle cx="222.6" cy="58.16" r="0.99" fill="#e2752f"/>
<circle cx="222.6" cy="62.23" r="1.26" fill="#e2752f"/>
<circle cx="209.6" cy="66.29" r="0.83" fill="#d9a285"/>
<circle cx="222.6" cy="66.29" r="1.26" fill="#d9502a"/>
<circle cx="209.6" cy="70.36" r="2.09" fill="#e2752f"/>
<circle cx="209.6" cy="74.43" r="1.21" fill="#e2752f"/>
<circle cx="209.6" cy="78.49" r="1.1" fill="#cd2025"/>
<circle cx="222.6" cy="78.49" r="0.88" fill="#e2752f"/>
<circle cx="209.6" cy="82.56" r="1.32" fill="#cd2025"/>
<circle cx="222.6" cy="82.56" r="0.99" fill="#cd2025"/>
<circle cx="235.8" cy="82.56" r="1.98" fill="#d9a285"/>
<circle cx="222.6" cy="86.63" r="0.99" fill="#cd2025"/>
<circle cx="209.6" cy="90.7" r="0.99" fill="#e2752f"/>
<circle cx="222.6" cy="90.7" r="0.99" fill="#e2752f"/>
<circle cx="209.6" cy="94.76" r="1.38" fill="#d9502a"/>
<circle cx="222.6" cy="94.76" r="1.21" fill="#d9502a"/>
<circle cx="209.6" cy="98.83" r="1.98" fill="#dd9062"/>
<circle cx="222.6" cy="98.83" r="1.98" fill="#dd9062"/>
<circle cx="235.8" cy="98.83" r="1.98" fill="#e2752f"/>
<circle cx="209.6" cy="102.9" r="2.2" fill="#d9502a"/>
<circle cx="222.6" cy="102.9" r="2.09" fill="#d9502a"/>
<circle cx="235.8" cy="102.9" r="1.98" fill="#e2752f"/>
<circle cx="209.6" cy="106.96" r="0.99" fill="#e2752f"/>
<circle cx="222.6" cy="106.96" r="0.66" fill="#e2752f"/>
<rect x="201.6" y="27.25" width="42.15" height="82.15" fill="none" stroke="#222" stroke-width="0.9"/>
<line x1="243.75" y1="29.69" x2="245.05" y2="29.69" stroke="#222" stroke-width="0.5"/>
<text x="246.2" y="31.19" font-size="4.35" fill="#333">RNA splicing</text>
<line x1="243.75" y1="33.76" x2="245.05" y2="33.76" stroke="#222" stroke-width="0.5"/>
<text x="246.2" y="35.26" font-size="4.35" fill="#333">response to virus</text>
<line x1="243.75" y1="37.82" x2="245.05" y2="37.82" stroke="#222" stroke-width="0.5"/>
<text x="246.2" y="39.32" font-size="4.35" fill="#333">response to inorganic substance</text>
<line x1="243.75" y1="41.89" x2="245.05" y2="41.89" stroke="#222" stroke-width="0.5"/>
<text x="246.2" y="43.39" font-size="4.35" fill="#333">response to corticosterone</text>
<line x1="243.75" y1="45.96" x2="245.05" y2="45.96" stroke="#222" stroke-width="0.5"/>
<text x="246.2" y="47.46" font-size="4.35" fill="#333">response to bacterium</text>
<line x1="243.75" y1="50.03" x2="245.05" y2="50.03" stroke="#222" stroke-width="0.5"/>
<text x="246.2" y="51.53" font-size="4.35" fill="#333">response to arsenic−containing substance</text>
<line x1="243.75" y1="54.09" x2="245.05" y2="54.09" stroke="#222" stroke-width="0.5"/>
<text x="246.2" y="55.59" font-size="4.35" fill="#333">regulation of translation</text>
<line x1="243.75" y1="58.16" x2="245.05" y2="58.16" stroke="#222" stroke-width="0.5"/>
<text x="246.2" y="59.66" font-size="4.35" fill="#333">regulation of protein serine/threonine kinase activity</text>
<line x1="243.75" y1="62.23" x2="245.05" y2="62.23" stroke="#222" stroke-width="0.5"/>
<text x="246.2" y="63.73" font-size="4.35" fill="#333">regulation of cyclin−dependent protein serine/threonine kinase activity</text>
<line x1="243.75" y1="66.29" x2="245.05" y2="66.29" stroke="#222" stroke-width="0.5"/>
<text x="246.2" y="67.79" font-size="4.35" fill="#333">protein stabilization</text>
<line x1="243.75" y1="70.36" x2="245.05" y2="70.36" stroke="#222" stroke-width="0.5"/>
<text x="246.2" y="71.86" font-size="4.35" fill="#333">protein localization to cytoplasmic stress granule</text>
<line x1="243.75" y1="74.43" x2="245.05" y2="74.43" stroke="#222" stroke-width="0.5"/>
<text x="246.2" y="75.93" font-size="4.35" fill="#333">protein acetylation</text>
<line x1="243.75" y1="78.49" x2="245.05" y2="78.49" stroke="#222" stroke-width="0.5"/>
<text x="246.2" y="79.99" font-size="4.35" fill="#333">positive regulation of cell death</text>
<line x1="243.75" y1="82.56" x2="245.05" y2="82.56" stroke="#222" stroke-width="0.5"/>
<text x="246.2" y="84.06" font-size="4.35" fill="#333">neutrophil degranulation</text>
<line x1="243.75" y1="86.63" x2="245.05" y2="86.63" stroke="#222" stroke-width="0.5"/>
<text x="246.2" y="88.13" font-size="4.35" fill="#333">negative regulation of phosphate metabolic process</text>
<line x1="243.75" y1="90.7" x2="245.05" y2="90.7" stroke="#222" stroke-width="0.5"/>
<text x="246.2" y="92.2" font-size="4.35" fill="#333">negative regulation of immune system process</text>
<line x1="243.75" y1="94.76" x2="245.05" y2="94.76" stroke="#222" stroke-width="0.5"/>
<text x="246.2" y="96.26" font-size="4.35" fill="#333">cell cycle arrest</text>
<line x1="243.75" y1="98.83" x2="245.05" y2="98.83" stroke="#222" stroke-width="0.5"/>
<text x="246.2" y="100.33" font-size="4.35" fill="#333">AP/FEP antigen via MHC class II, TAP−dependent</text>
<line x1="243.75" y1="102.9" x2="245.05" y2="102.9" stroke="#222" stroke-width="0.5"/>
<text x="246.2" y="104.4" font-size="4.35" fill="#333">AP/FEP antigen via MHC class I, TAP−independent</text>
<line x1="243.75" y1="106.96" x2="245.05" y2="106.96" stroke="#222" stroke-width="0.5"/>
<text x="246.2" y="108.46" font-size="4.35" fill="#333">activation of immune response</text>
<line x1="209.6" y1="109.4" x2="209.6" y2="110.6" stroke="#222" stroke-width="0.5"/>
<text x="210.8" y="112.6" font-size="4.4" text-anchor="end" fill="#333" transform="rotate(-45 210.8 112.6)" stroke="#333" stroke-width="0.13">Naive</text>
<line x1="222.6" y1="109.4" x2="222.6" y2="110.6" stroke="#222" stroke-width="0.5"/>
<text x="223.8" y="112.6" font-size="4.4" text-anchor="end" fill="#333" transform="rotate(-45 223.8 112.6)" stroke="#333" stroke-width="0.13">Memory</text>
<line x1="235.8" y1="109.4" x2="235.8" y2="110.6" stroke="#222" stroke-width="0.5"/>
<text x="237" y="112.6" font-size="4.4" text-anchor="end" fill="#333" transform="rotate(-45 237 112.6)" stroke="#333" stroke-width="0.13">Effector</text>
<text x="246.2" y="114.1" font-size="4.2" fill="#333" textLength="32.3" lengthAdjust="spacingAndGlyphs" stroke="#333" stroke-width="0.13">Enrichment score</text>
<circle cx="249.5" cy="117.4" r="0.75" fill="#111"/>
<circle cx="255.5" cy="117.4" r="1.15" fill="#111"/>
<circle cx="262.4" cy="117.4" r="1.4" fill="#111"/>
<circle cx="269.3" cy="117.4" r="1.7" fill="#111"/>
<circle cx="276.6" cy="117.4" r="2" fill="#111"/>
<text x="249.5" y="124.4" font-size="4.2" text-anchor="middle" fill="#333" stroke="#333" stroke-width="0.13">10</text>
<text x="255.5" y="124.4" font-size="4.2" text-anchor="middle" fill="#333" stroke="#333" stroke-width="0.13">20</text>
<text x="262.4" y="124.4" font-size="4.2" text-anchor="middle" fill="#333" stroke="#333" stroke-width="0.13">30</text>
<text x="269.3" y="124.4" font-size="4.2" text-anchor="middle" fill="#333" stroke="#333" stroke-width="0.13">40</text>
<text x="276.6" y="124.4" font-size="4.2" text-anchor="middle" fill="#333" stroke="#333" stroke-width="0.13">50</text>
<defs><linearGradient id="gB" x1="0" x2="1" y1="0" y2="0"><stop offset="0" stop-color="#e2d6d6"/><stop offset="0.3" stop-color="#e6a27a"/><stop offset="0.55" stop-color="#e2702e"/><stop offset="0.8" stop-color="#d6412a"/><stop offset="1" stop-color="#c81c28"/></linearGradient></defs>
<rect x="287" y="115.3" width="28" height="4.4" rx="1.2" fill="url(#gB)"/>
<text x="290.6" y="113" font-size="4.2" fill="#333" stroke="#333" stroke-width="0.13">-log</text>
<text x="298" y="113.8" font-size="2.8" fill="#333">10</text>
<text x="300.8" y="113" font-size="4.2" fill="#333" stroke="#333" stroke-width="0.13">(adjP)</text>
<text x="288.5" y="124.4" font-size="4.2" text-anchor="middle" fill="#333" stroke="#333" stroke-width="0.13">0</text>
<text x="294.6" y="124.4" font-size="4.2" text-anchor="middle" fill="#333" stroke="#333" stroke-width="0.13">1</text>
<text x="300.8" y="124.4" font-size="4.2" text-anchor="middle" fill="#333" stroke="#333" stroke-width="0.13">2</text>
<text x="307.2" y="124.4" font-size="4.2" text-anchor="middle" fill="#333" stroke="#333" stroke-width="0.13">3</text>
<text x="313.5" y="124.4" font-size="4.2" text-anchor="middle" fill="#333" stroke="#333" stroke-width="0.13">4</text>
<text x="6.5" y="146.8" font-size="11.73" font-weight="bold" fill="#000" stroke="#000" stroke-width="0.25">C</text>
<line x1="41.2" y1="154" x2="41.2" y2="217.4" stroke="#222" stroke-width="0.9"/>
<line x1="40.75" y1="217.1" x2="110.9" y2="217.1" stroke="#222" stroke-width="0.9"/>
<line x1="39.8" y1="161.25" x2="41.2" y2="161.25" stroke="#222" stroke-width="0.6"/>
<text x="38.6" y="162.75" font-size="4.3" text-anchor="end" fill="#333" stroke="#333" stroke-width="0.13">40</text>
<line x1="39.8" y1="175.2" x2="41.2" y2="175.2" stroke="#222" stroke-width="0.6"/>
<text x="38.6" y="176.7" font-size="4.3" text-anchor="end" fill="#333" stroke="#333" stroke-width="0.13">30</text>
<line x1="39.8" y1="189.1" x2="41.2" y2="189.1" stroke="#222" stroke-width="0.6"/>
<text x="38.6" y="190.6" font-size="4.3" text-anchor="end" fill="#333" stroke="#333" stroke-width="0.13">20</text>
<line x1="39.8" y1="203" x2="41.2" y2="203" stroke="#222" stroke-width="0.6"/>
<text x="38.6" y="204.5" font-size="4.3" text-anchor="end" fill="#333" stroke="#333" stroke-width="0.13">10</text>
<text x="20.6" y="185.6" font-size="5.2" text-anchor="middle" fill="#333" transform="rotate(-90 20.6 185.6)" textLength="63" lengthAdjust="spacingAndGlyphs" stroke="#333" stroke-width="0.13">No. of molecular interactions</text>
<text x="28.2" y="185.8" font-size="5.2" text-anchor="middle" fill="#333" transform="rotate(-90 28.2 185.8)" textLength="57" lengthAdjust="spacingAndGlyphs" stroke="#333" stroke-width="0.13">between T cells and HSPCs</text>
<line x1="52.95" y1="178.2" x2="52.95" y2="214" stroke="#8a8a8a" stroke-width="0.9"/>
<rect x="47.2" y="182.5" width="11.5" height="13.3" fill="#c9c8cd"/>
<line x1="47.2" y1="187.8" x2="58.7" y2="187.8" stroke="#3a3a3a" stroke-width="1.3"/>
<line x1="68.25" y1="162" x2="68.25" y2="198.7" stroke="#8a8a8a" stroke-width="0.9"/>
<rect x="62.6" y="175.6" width="11.3" height="13.4" fill="#c25450"/>
<line x1="62.6" y1="185.1" x2="73.9" y2="185.1" stroke="#3a3a3a" stroke-width="1.3"/>
<line x1="89.75" y1="178.2" x2="89.75" y2="203" stroke="#8a8a8a" stroke-width="0.9"/>
<rect x="84" y="187.3" width="11.5" height="6.5" fill="#c9c8cd"/>
<line x1="84" y1="190.9" x2="95.5" y2="190.9" stroke="#3a3a3a" stroke-width="1.3"/>
<line x1="104.95" y1="168.8" x2="104.95" y2="197.2" stroke="#8a8a8a" stroke-width="0.9"/>
<rect x="99.2" y="179.6" width="11.5" height="8.2" fill="#b2102c"/>
<line x1="99.2" y1="182.5" x2="110.7" y2="182.5" stroke="#3a1010" stroke-width="1.3"/>
<path d="M52.7 157.2V155.4H68.9V157.2" fill="none" stroke="#333" stroke-width="0.6"/>
<text x="60.8" y="153.7" font-size="4.1" text-anchor="middle" fill="#333" textLength="19.5" lengthAdjust="spacingAndGlyphs" stroke="#333" stroke-width="0.13">P = 2.5e-3</text>
<path d="M89.3 157.2V155.4H105.6V157.2" fill="none" stroke="#333" stroke-width="0.6"/>
<text x="97.45" y="153.7" font-size="4.1" text-anchor="middle" fill="#333" textLength="19.5" lengthAdjust="spacingAndGlyphs" stroke="#333" stroke-width="0.13">P = 2.9e-4</text>
<line x1="53" y1="217.1" x2="53" y2="218.4" stroke="#222" stroke-width="0.5"/>
<text x="54.3" y="220.6" font-size="4.3" text-anchor="end" fill="#333" transform="rotate(-45 54.3 220.6)" stroke="#333" stroke-width="0.13">Ctrl</text>
<line x1="68.2" y1="217.1" x2="68.2" y2="218.4" stroke="#222" stroke-width="0.5"/>
<text x="69.5" y="220.6" font-size="4.3" text-anchor="end" fill="#333" transform="rotate(-45 69.5 220.6)" stroke="#333" stroke-width="0.13">non-SAA</text>
<line x1="89.7" y1="217.1" x2="89.7" y2="218.4" stroke="#222" stroke-width="0.5"/>
<text x="91" y="220.6" font-size="4.3" text-anchor="end" fill="#333" transform="rotate(-45 91 220.6)" stroke="#333" stroke-width="0.13">Ctrl</text>
<line x1="105" y1="217.1" x2="105" y2="218.4" stroke="#222" stroke-width="0.5"/>
<text x="106.3" y="220.6" font-size="4.3" text-anchor="end" fill="#333" transform="rotate(-45 106.3 220.6)" stroke="#333" stroke-width="0.13">non-SAA</text>
<line x1="42.5" y1="234.6" x2="74.5" y2="234.6" stroke="#222" stroke-width="0.8"/>
<line x1="80.5" y1="234.6" x2="111.3" y2="234.6" stroke="#222" stroke-width="0.8"/>
<text x="58.8" y="240.9" font-size="4.5" fill="#333" text-anchor="middle" stroke="#333" stroke-width="0.06" textLength="23.9" lengthAdjust="spacingAndGlyphs">CD4<tspan font-size="2.79" dy="-1.71">+</tspan><tspan dy="1.71"> T cells</tspan></text>
<text x="96.1" y="240.9" font-size="4.5" fill="#333" text-anchor="middle" stroke="#333" stroke-width="0.06" textLength="23.9" lengthAdjust="spacingAndGlyphs">CD8<tspan font-size="2.79" dy="-1.71">+</tspan><tspan dy="1.71"> T cells</tspan></text>
<text x="126.6" y="146.4" font-size="11.45" font-weight="bold" fill="#000" stroke="#000" stroke-width="0.25">D</text>
<text x="136.8" y="156.1" font-size="6.4" fill="#2a2a2a" textLength="87.7" lengthAdjust="spacingAndGlyphs" stroke="#2a2a2a" stroke-width="0.12">Molecular Interactions Overlap</text>
<ellipse cx="196.7" cy="205.3" rx="34.6" ry="19.8" transform="rotate(-45 196.7 205.3)" fill="#cdcdd2" fill-opacity="0.5"/>
<ellipse cx="181.5" cy="195.4" rx="35.2" ry="15.1" transform="rotate(-45 181.5 195.4)" fill="#aaa8b0" fill-opacity="0.42"/>
<ellipse cx="166.3" cy="205.3" rx="34.6" ry="19.8" transform="rotate(45 166.3 205.3)" fill="#aa2828" fill-opacity="0.65"/>
<ellipse cx="181.5" cy="195.4" rx="35.2" ry="15.1" transform="rotate(45 181.5 195.4)" fill="#aa0a32" fill-opacity="0.75"/>
<text x="164.6" y="177.2" font-size="5.2" text-anchor="middle" fill="#2a2a2a" stroke="#2a2a2a" stroke-width="0.13">6</text>
<text x="159.8" y="186.8" font-size="5.2" text-anchor="middle" fill="#2a2a2a" stroke="#2a2a2a" stroke-width="0.13">19</text>
<text x="147.3" y="196" font-size="5.2" text-anchor="middle" fill="#2a2a2a" stroke="#2a2a2a" stroke-width="0.13">17</text>
<text x="179.6" y="185.3" font-size="5.2" text-anchor="middle" fill="#2a2a2a" stroke="#2a2a2a" stroke-width="0.13">5</text>
<text x="169.8" y="196" font-size="5.2" text-anchor="middle" fill="#2a2a2a" stroke="#2a2a2a" stroke-width="0.13">1</text>
<text x="189.6" y="196" font-size="5.2" text-anchor="middle" fill="#2a2a2a" stroke="#2a2a2a" stroke-width="0.13">2</text>
<text x="178.7" y="206.6" font-size="5.2" text-anchor="middle" fill="#2a2a2a" stroke="#2a2a2a" stroke-width="0.13">37</text>
<text x="194.4" y="176.8" font-size="5.2" text-anchor="middle" fill="#2a2a2a" stroke="#2a2a2a" stroke-width="0.13">1</text>
<text x="198.3" y="186.8" font-size="5.2" text-anchor="middle" fill="#2a2a2a" stroke="#2a2a2a" stroke-width="0.13">5</text>
<text x="211.2" y="196" font-size="5.2" text-anchor="middle" fill="#2a2a2a" stroke="#2a2a2a" stroke-width="0.13">2</text>
<text x="161.7" y="211.8" font-size="5.2" text-anchor="middle" fill="#2a2a2a" stroke="#2a2a2a" stroke-width="0.13">1</text>
<text x="172.3" y="215.6" font-size="5.2" text-anchor="middle" fill="#2a2a2a" stroke="#2a2a2a" stroke-width="0.13">4</text>
<text x="187.3" y="215.6" font-size="5.2" text-anchor="middle" fill="#2a2a2a" stroke="#2a2a2a" stroke-width="0.13">1</text>
<text x="197.3" y="212.2" font-size="5.2" text-anchor="middle" fill="#2a2a2a" stroke="#2a2a2a" stroke-width="0.13">0</text>
<text x="179.6" y="225.3" font-size="5.2" text-anchor="middle" fill="#2a2a2a" stroke="#2a2a2a" stroke-width="0.13">4</text>
<path d="M158.8 167.9V165.5H202.4V167.9" fill="none" stroke="#444" stroke-width="0.8"/>
<path d="M158.8 231.6V233.8H202.4V231.6" fill="none" stroke="#444" stroke-width="0.8"/>
<text x="156" y="168.5" font-size="4.2" text-anchor="end" fill="#333" stroke="#333" stroke-width="0.13">non-SAA</text>
<text x="205" y="168.5" font-size="4.2" fill="#333" stroke="#333" stroke-width="0.13">Ctrl</text>
<text x="156" y="234.2" font-size="4.2" text-anchor="end" fill="#333" stroke="#333" stroke-width="0.13">non-SAA</text>
<text x="205" y="234.2" font-size="4.2" fill="#333" stroke="#333" stroke-width="0.13">Ctrl</text>
<text x="180.3" y="163.8" font-size="4.5" fill="#333" text-anchor="middle" stroke="#333" stroke-width="0.06" textLength="23.2" lengthAdjust="spacingAndGlyphs">CD8<tspan font-size="2.79" dy="-1.71">+</tspan><tspan dy="1.71"> T cells</tspan></text>
<text x="180.3" y="239.3" font-size="4.5" fill="#333" text-anchor="middle" stroke="#333" stroke-width="0.06" textLength="23.2" lengthAdjust="spacingAndGlyphs">CD4<tspan font-size="2.79" dy="-1.71">+</tspan><tspan dy="1.71"> T cells</tspan></text>
<text x="239.7" y="146.4" font-size="11.45" font-weight="bold" fill="#000" stroke="#000" stroke-width="0.25">E</text>
<text x="273.3" y="156.1" font-size="6.3" fill="#2a2a2a" textLength="112.1" lengthAdjust="spacingAndGlyphs" stroke="#2a2a2a" stroke-width="0.12">non-SAA Specific Interaction Frequency</text>
<line x1="288.24" y1="160.4" x2="288.24" y2="231.1" stroke="#d0d0d0" stroke-width="0.8"/>
<line x1="300.09" y1="160.4" x2="300.09" y2="231.1" stroke="#d0d0d0" stroke-width="0.8"/>
<line x1="311.93" y1="160.4" x2="311.93" y2="231.1" stroke="#d0d0d0" stroke-width="0.8"/>
<line x1="323.78" y1="160.4" x2="323.78" y2="231.1" stroke="#d0d0d0" stroke-width="0.8"/>
<line x1="335.62" y1="160.4" x2="335.62" y2="231.1" stroke="#d0d0d0" stroke-width="0.8"/>
<line x1="347.47" y1="160.4" x2="347.47" y2="231.1" stroke="#d0d0d0" stroke-width="0.8"/>
<line x1="359.31" y1="160.4" x2="359.31" y2="231.1" stroke="#d0d0d0" stroke-width="0.8"/>
<line x1="371.16" y1="160.4" x2="371.16" y2="231.1" stroke="#d0d0d0" stroke-width="0.8"/>
<line x1="276.4" y1="172.18" x2="383" y2="172.18" stroke="#d0d0d0" stroke-width="0.8"/>
<line x1="276.4" y1="183.97" x2="383" y2="183.97" stroke="#d0d0d0" stroke-width="0.8"/>
<line x1="276.4" y1="195.75" x2="383" y2="195.75" stroke="#d0d0d0" stroke-width="0.8"/>
<line x1="276.4" y1="207.53" x2="383" y2="207.53" stroke="#d0d0d0" stroke-width="0.8"/>
<line x1="276.4" y1="219.32" x2="383" y2="219.32" stroke="#d0d0d0" stroke-width="0.8"/>
<circle cx="282.32" cy="166.29" r="1.85" fill="#e88a2e"/>
<text x="282.32" y="167.79" font-size="4.1" text-anchor="middle" fill="#3a2a20" stroke="#3a2a20" stroke-width="0.13">3</text>
<text x="294.17" y="167.79" font-size="4.1" text-anchor="middle" fill="#3a2a20" stroke="#3a2a20" stroke-width="0.13">2</text>
<circle cx="306.01" cy="166.29" r="1.85" fill="#e88a2e"/>
<text x="306.01" y="167.79" font-size="4.1" text-anchor="middle" fill="#3a2a20" stroke="#3a2a20" stroke-width="0.13">3</text>
<text x="317.86" y="167.79" font-size="4.1" text-anchor="middle" fill="#3a2a20" stroke="#3a2a20" stroke-width="0.13">2</text>
<circle cx="329.7" cy="166.29" r="2.5" fill="#e5812c"/>
<text x="329.7" y="167.79" font-size="4.1" text-anchor="middle" fill="#3a2a20" stroke="#3a2a20" stroke-width="0.13">4</text>
<circle cx="341.54" cy="166.29" r="3" fill="#e2782a"/>
<text x="341.54" y="167.79" font-size="4.1" text-anchor="middle" fill="#3a2a20" stroke="#3a2a20" stroke-width="0.13">5</text>
<circle cx="353.39" cy="166.29" r="3.55" fill="#d45a22"/>
<text x="353.39" y="167.79" font-size="4.1" text-anchor="middle" fill="#3a2a20" stroke="#3a2a20" stroke-width="0.13">7</text>
<circle cx="365.23" cy="166.29" r="2.5" fill="#e5812c"/>
<text x="365.23" y="167.79" font-size="4.1" text-anchor="middle" fill="#3a2a20" stroke="#3a2a20" stroke-width="0.13">4</text>
<circle cx="377.08" cy="166.29" r="3.55" fill="#d45a22"/>
<text x="377.08" y="167.79" font-size="4.1" text-anchor="middle" fill="#3a2a20" stroke="#3a2a20" stroke-width="0.13">7</text>
<circle cx="282.32" cy="178.07" r="3" fill="#e2782a"/>
<text x="282.32" y="179.57" font-size="4.1" text-anchor="middle" fill="#3a2a20" stroke="#3a2a20" stroke-width="0.13">5</text>
<circle cx="294.17" cy="178.07" r="1.85" fill="#e88a2e"/>
<text x="294.17" y="179.57" font-size="4.1" text-anchor="middle" fill="#3a2a20" stroke="#3a2a20" stroke-width="0.13">3</text>
<circle cx="306.01" cy="178.07" r="4.2" fill="#c33c20"/>
<text x="306.01" y="179.57" font-size="4.1" text-anchor="middle" fill="#3a2a20" stroke="#3a2a20" stroke-width="0.13">9</text>
<circle cx="317.86" cy="178.07" r="1.85" fill="#e88a2e"/>
<text x="317.86" y="179.57" font-size="4.1" text-anchor="middle" fill="#3a2a20" stroke="#3a2a20" stroke-width="0.13">3</text>
<circle cx="329.7" cy="178.07" r="3.88" fill="#cc4b21"/>
<text x="329.7" y="179.57" font-size="4.1" text-anchor="middle" fill="#3a2a20" stroke="#3a2a20" stroke-width="0.13">8</text>
<circle cx="341.54" cy="178.07" r="3.88" fill="#cc4b21"/>
<text x="341.54" y="179.57" font-size="4.1" text-anchor="middle" fill="#3a2a20" stroke="#3a2a20" stroke-width="0.13">8</text>
<circle cx="353.39" cy="178.07" r="5" fill="#ac1d1e"/>
<text x="353.39" y="179.57" font-size="4.1" text-anchor="middle" fill="#3a2a20" stroke="#3a2a20" stroke-width="0.13">12</text>
<circle cx="365.23" cy="178.07" r="3.55" fill="#d45a22"/>
<text x="365.23" y="179.57" font-size="4.1" text-anchor="middle" fill="#3a2a20" stroke="#3a2a20" stroke-width="0.13">7</text>
<circle cx="377.08" cy="178.07" r="5" fill="#ac1d1e"/>
<text x="377.08" y="179.57" font-size="4.1" text-anchor="middle" fill="#3a2a20" stroke="#3a2a20" stroke-width="0.13">12</text>
<circle cx="282.32" cy="189.86" r="3.55" fill="#d45a22"/>
<text x="282.32" y="191.36" font-size="4.1" text-anchor="middle" fill="#3a2a20" stroke="#3a2a20" stroke-width="0.13">7</text>
<circle cx="294.17" cy="189.86" r="3.27" fill="#db6926"/>
<text x="294.17" y="191.36" font-size="4.1" text-anchor="middle" fill="#3a2a20" stroke="#3a2a20" stroke-width="0.13">6</text>
<circle cx="306.01" cy="189.86" r="3" fill="#e2782a"/>
<text x="306.01" y="191.36" font-size="4.1" text-anchor="middle" fill="#3a2a20" stroke="#3a2a20" stroke-width="0.13">5</text>
<circle cx="317.86" cy="189.86" r="3" fill="#e2782a"/>
<text x="317.86" y="191.36" font-size="4.1" text-anchor="middle" fill="#3a2a20" stroke="#3a2a20" stroke-width="0.13">5</text>
<circle cx="329.7" cy="189.86" r="3" fill="#e2782a"/>
<text x="329.7" y="191.36" font-size="4.1" text-anchor="middle" fill="#3a2a20" stroke="#3a2a20" stroke-width="0.13">5</text>
<circle cx="341.54" cy="189.86" r="3.55" fill="#d45a22"/>
<text x="341.54" y="191.36" font-size="4.1" text-anchor="middle" fill="#3a2a20" stroke="#3a2a20" stroke-width="0.13">7</text>
<circle cx="353.39" cy="189.86" r="4.2" fill="#c33c20"/>
<text x="353.39" y="191.36" font-size="4.1" text-anchor="middle" fill="#3a2a20" stroke="#3a2a20" stroke-width="0.13">9</text>
<circle cx="365.23" cy="189.86" r="4.2" fill="#c33c20"/>
<text x="365.23" y="191.36" font-size="4.1" text-anchor="middle" fill="#3a2a20" stroke="#3a2a20" stroke-width="0.13">9</text>
<circle cx="377.08" cy="189.86" r="4.73" fill="#b3231f"/>
<text x="377.08" y="191.36" font-size="4.1" text-anchor="middle" fill="#3a2a20" stroke="#3a2a20" stroke-width="0.13">11</text>
<text x="282.32" y="203.14" font-size="4.1" text-anchor="middle" fill="#3a2a20" stroke="#3a2a20" stroke-width="0.13">2</text>
<text x="294.17" y="203.14" font-size="4.1" text-anchor="middle" fill="#3a2a20" stroke="#3a2a20" stroke-width="0.13">2</text>
<text x="306.01" y="203.14" font-size="4.1" text-anchor="middle" fill="#3a2a20" stroke="#3a2a20" stroke-width="0.13">2</text>
<text x="317.86" y="203.14" font-size="4.1" text-anchor="middle" fill="#3a2a20" stroke="#3a2a20" stroke-width="0.13">2</text>
<circle cx="329.7" cy="201.64" r="3" fill="#e2782a"/>
<text x="329.7" y="203.14" font-size="4.1" text-anchor="middle" fill="#3a2a20" stroke="#3a2a20" stroke-width="0.13">5</text>
<circle cx="341.54" cy="201.64" r="3.55" fill="#d45a22"/>
<text x="341.54" y="203.14" font-size="4.1" text-anchor="middle" fill="#3a2a20" stroke="#3a2a20" stroke-width="0.13">7</text>
<circle cx="353.39" cy="201.64" r="4.2" fill="#c33c20"/>
<text x="353.39" y="203.14" font-size="4.1" text-anchor="middle" fill="#3a2a20" stroke="#3a2a20" stroke-width="0.13">9</text>
<circle cx="365.23" cy="201.64" r="3" fill="#e2782a"/>
<text x="365.23" y="203.14" font-size="4.1" text-anchor="middle" fill="#3a2a20" stroke="#3a2a20" stroke-width="0.13">5</text>
<circle cx="377.08" cy="201.64" r="4.47" fill="#bb3020"/>
<text x="377.08" y="203.14" font-size="4.1" text-anchor="middle" fill="#3a2a20" stroke="#3a2a20" stroke-width="0.13">10</text>
<circle cx="282.32" cy="213.43" r="3.88" fill="#cc4b21"/>
<text x="282.32" y="214.93" font-size="4.1" text-anchor="middle" fill="#3a2a20" stroke="#3a2a20" stroke-width="0.13">8</text>
<circle cx="294.17" cy="213.43" r="3.55" fill="#d45a22"/>
<text x="294.17" y="214.93" font-size="4.1" text-anchor="middle" fill="#3a2a20" stroke="#3a2a20" stroke-width="0.13">7</text>
<circle cx="306.01" cy="213.43" r="3.88" fill="#cc4b21"/>
<text x="306.01" y="214.93" font-size="4.1" text-anchor="middle" fill="#3a2a20" stroke="#3a2a20" stroke-width="0.13">8</text>
<circle cx="317.86" cy="213.43" r="3.55" fill="#d45a22"/>
<text x="317.86" y="214.93" font-size="4.1" text-anchor="middle" fill="#3a2a20" stroke="#3a2a20" stroke-width="0.13">7</text>
<circle cx="329.7" cy="213.43" r="3.55" fill="#d45a22"/>
<text x="329.7" y="214.93" font-size="4.1" text-anchor="middle" fill="#3a2a20" stroke="#3a2a20" stroke-width="0.13">7</text>
<circle cx="341.54" cy="213.43" r="5" fill="#ac1d1e"/>
<text x="341.54" y="214.93" font-size="4.1" text-anchor="middle" fill="#3a2a20" stroke="#3a2a20" stroke-width="0.13">12</text>
<circle cx="353.39" cy="213.43" r="4.73" fill="#b3231f"/>
<text x="353.39" y="214.93" font-size="4.1" text-anchor="middle" fill="#3a2a20" stroke="#3a2a20" stroke-width="0.13">11</text>
<circle cx="365.23" cy="213.43" r="4.2" fill="#c33c20"/>
<text x="365.23" y="214.93" font-size="4.1" text-anchor="middle" fill="#3a2a20" stroke="#3a2a20" stroke-width="0.13">9</text>
<circle cx="377.08" cy="213.43" r="5.2" fill="#a5171c"/>
<text x="377.08" y="214.93" font-size="4.1" text-anchor="middle" fill="#3a2a20" stroke="#3a2a20" stroke-width="0.13">13</text>
<circle cx="282.32" cy="225.21" r="3" fill="#e2782a"/>
<text x="282.32" y="226.71" font-size="4.1" text-anchor="middle" fill="#3a2a20" stroke="#3a2a20" stroke-width="0.13">5</text>
<circle cx="294.17" cy="225.21" r="3" fill="#e2782a"/>
<text x="294.17" y="226.71" font-size="4.1" text-anchor="middle" fill="#3a2a20" stroke="#3a2a20" stroke-width="0.13">5</text>
<circle cx="306.01" cy="225.21" r="3.55" fill="#d45a22"/>
<text x="306.01" y="226.71" font-size="4.1" text-anchor="middle" fill="#3a2a20" stroke="#3a2a20" stroke-width="0.13">7</text>
<circle cx="317.86" cy="225.21" r="2.5" fill="#e5812c"/>
<text x="317.86" y="226.71" font-size="4.1" text-anchor="middle" fill="#3a2a20" stroke="#3a2a20" stroke-width="0.13">4</text>
<circle cx="329.7" cy="225.21" r="3" fill="#e2782a"/>
<text x="329.7" y="226.71" font-size="4.1" text-anchor="middle" fill="#3a2a20" stroke="#3a2a20" stroke-width="0.13">5</text>
<circle cx="341.54" cy="225.21" r="3" fill="#e2782a"/>
<text x="341.54" y="226.71" font-size="4.1" text-anchor="middle" fill="#3a2a20" stroke="#3a2a20" stroke-width="0.13">5</text>
<circle cx="353.39" cy="225.21" r="3.88" fill="#cc4b21"/>
<text x="353.39" y="226.71" font-size="4.1" text-anchor="middle" fill="#3a2a20" stroke="#3a2a20" stroke-width="0.13">8</text>
<circle cx="365.23" cy="225.21" r="3" fill="#e2782a"/>
<text x="365.23" y="226.71" font-size="4.1" text-anchor="middle" fill="#3a2a20" stroke="#3a2a20" stroke-width="0.13">5</text>
<circle cx="377.08" cy="225.21" r="4.47" fill="#bb3020"/>
<text x="377.08" y="226.71" font-size="4.1" text-anchor="middle" fill="#3a2a20" stroke="#3a2a20" stroke-width="0.13">10</text>
<rect x="276.4" y="160.4" width="106.6" height="70.7" fill="none" stroke="#2a2a2a" stroke-width="1"/>
<line x1="275.1" y1="166.29" x2="276.4" y2="166.29" stroke="#222" stroke-width="0.5"/>
<text x="258" y="167.99" font-size="4.8" fill="#3a3a3a" textLength="11" lengthAdjust="spacingAndGlyphs" stroke="#3a3a3a" stroke-width="0.06">Naive</text>
<line x1="275.1" y1="178.07" x2="276.4" y2="178.07" stroke="#222" stroke-width="0.5"/>
<text x="258" y="179.77" font-size="4.8" fill="#3a3a3a" textLength="15.6" lengthAdjust="spacingAndGlyphs" stroke="#3a3a3a" stroke-width="0.06">Memory</text>
<line x1="275.1" y1="189.86" x2="276.4" y2="189.86" stroke="#222" stroke-width="0.5"/>
<text x="258" y="191.56" font-size="4.8" fill="#3a3a3a" textLength="14.9" lengthAdjust="spacingAndGlyphs" stroke="#3a3a3a" stroke-width="0.06">Effector</text>
<line x1="275.1" y1="201.64" x2="276.4" y2="201.64" stroke="#222" stroke-width="0.5"/>
<text x="258" y="203.34" font-size="4.8" fill="#3a3a3a" textLength="11" lengthAdjust="spacingAndGlyphs" stroke="#3a3a3a" stroke-width="0.06">Naive</text>
<line x1="275.1" y1="213.43" x2="276.4" y2="213.43" stroke="#222" stroke-width="0.5"/>
<text x="258" y="215.12" font-size="4.8" fill="#3a3a3a" textLength="15.6" lengthAdjust="spacingAndGlyphs" stroke="#3a3a3a" stroke-width="0.06">Memory</text>
<line x1="275.1" y1="225.21" x2="276.4" y2="225.21" stroke="#222" stroke-width="0.5"/>
<text x="258" y="226.91" font-size="4.8" fill="#3a3a3a" textLength="14.9" lengthAdjust="spacingAndGlyphs" stroke="#3a3a3a" stroke-width="0.06">Effector</text>
<line x1="256.3" y1="164" x2="256.3" y2="192.6" stroke="#444" stroke-width="1"/>
<line x1="256.3" y1="199.8" x2="256.3" y2="228.1" stroke="#444" stroke-width="1"/>
<text x="253.7" y="179" font-size="4.6" fill="#333" text-anchor="middle" stroke="#333" stroke-width="0.06" transform="rotate(-90 253.7 179)" textLength="21.6" lengthAdjust="spacingAndGlyphs">CD4<tspan font-size="2.85" dy="-1.75">+</tspan><tspan dy="1.75"> T cells</tspan></text>
<text x="253.7" y="213.8" font-size="4.6" fill="#333" text-anchor="middle" stroke="#333" stroke-width="0.06" transform="rotate(-90 253.7 213.8)" textLength="22.9" lengthAdjust="spacingAndGlyphs">CD8<tspan font-size="2.85" dy="-1.75">+</tspan><tspan dy="1.75"> T cells</tspan></text>
<line x1="282.32" y1="231.1" x2="282.32" y2="232.3" stroke="#222" stroke-width="0.5"/>
<text x="283.62" y="233.6" font-size="4.2" text-anchor="end" fill="#333" transform="rotate(-45 283.62 233.6)" stroke="#333" stroke-width="0.13">HSC/MPP</text>
<line x1="294.17" y1="231.1" x2="294.17" y2="232.3" stroke="#222" stroke-width="0.5"/>
<text x="295.47" y="233.6" font-size="4.2" text-anchor="end" fill="#333" transform="rotate(-45 295.47 233.6)" stroke="#333" stroke-width="0.13">LMPP</text>
<line x1="306.01" y1="231.1" x2="306.01" y2="232.3" stroke="#222" stroke-width="0.5"/>
<text x="307.31" y="233.6" font-size="4.2" text-anchor="end" fill="#333" transform="rotate(-45 307.31 233.6)" stroke="#333" stroke-width="0.13">MEP</text>
<line x1="317.86" y1="231.1" x2="317.86" y2="232.3" stroke="#222" stroke-width="0.5"/>
<text x="319.16" y="233.6" font-size="4.2" text-anchor="end" fill="#333" transform="rotate(-45 319.16 233.6)" stroke="#333" stroke-width="0.13">MLP</text>
<line x1="329.7" y1="231.1" x2="329.7" y2="232.3" stroke="#222" stroke-width="0.5"/>
<text x="331" y="233.6" font-size="4.2" text-anchor="end" fill="#333" transform="rotate(-45 331 233.6)" stroke="#333" stroke-width="0.13">EBM</text>
<line x1="341.54" y1="231.1" x2="341.54" y2="232.3" stroke="#222" stroke-width="0.5"/>
<text x="342.84" y="233.6" font-size="4.2" text-anchor="end" fill="#333" transform="rotate(-45 342.84 233.6)" stroke="#333" stroke-width="0.13">Neu1</text>
<line x1="353.39" y1="231.1" x2="353.39" y2="232.3" stroke="#222" stroke-width="0.5"/>
<text x="354.69" y="233.6" font-size="4.2" text-anchor="end" fill="#333" transform="rotate(-45 354.69 233.6)" stroke="#333" stroke-width="0.13">Neu2</text>
<line x1="365.23" y1="231.1" x2="365.23" y2="232.3" stroke="#222" stroke-width="0.5"/>
<text x="366.53" y="233.6" font-size="4.2" text-anchor="end" fill="#333" transform="rotate(-45 366.53 233.6)" stroke="#333" stroke-width="0.13">MD1</text>
<line x1="377.08" y1="231.1" x2="377.08" y2="232.3" stroke="#222" stroke-width="0.5"/>
<text x="378.38" y="233.6" font-size="4.2" text-anchor="end" fill="#333" transform="rotate(-45 378.38 233.6)" stroke="#333" stroke-width="0.13">MD2</text>
<text x="7.4" y="259.9" font-size="11.17" font-weight="bold" fill="#000" stroke="#000" stroke-width="0.25">F</text>
<text x="153" y="258.9" font-size="6.4" fill="#2a2a2a" text-anchor="middle" stroke="#2a2a2a" stroke-width="0.12" textLength="35.3" lengthAdjust="spacingAndGlyphs">CD4<tspan font-size="3.97" dy="-2.43">+</tspan><tspan dy="2.43"> T cells</tspan></text>
<text x="413" y="259.2" font-size="6.4" fill="#2a2a2a" text-anchor="middle" stroke="#2a2a2a" stroke-width="0.12" textLength="34.3" lengthAdjust="spacingAndGlyphs">CD8<tspan font-size="3.97" dy="-2.43">+</tspan><tspan dy="2.43"> T cells</tspan></text>
<line x1="66" y1="261.7" x2="239.2" y2="261.7" stroke="#3a3a3a" stroke-width="1.1"/>
<line x1="327" y1="261.7" x2="498.8" y2="261.7" stroke="#3a3a3a" stroke-width="1.1"/>
<text x="67.1" y="267.3" font-size="4" text-anchor="middle" fill="#333" stroke="#333" stroke-width="0.13">Naive</text>
<line x1="51.5" y1="274.01" x2="52.8" y2="274.01" stroke="#222" stroke-width="0.5"/>
<text x="50.3" y="275.51" font-size="4.4" text-anchor="end" fill="#333" textLength="29.99" lengthAdjust="spacingAndGlyphs" stroke="#333" stroke-width="0.04">HLA−C_FAM3C</text>
<line x1="51.5" y1="282.18" x2="52.8" y2="282.18" stroke="#222" stroke-width="0.5"/>
<text x="50.3" y="283.68" font-size="4.4" text-anchor="end" fill="#333" textLength="27.78" lengthAdjust="spacingAndGlyphs" stroke="#333" stroke-width="0.04">IL24_NOTCH2</text>
<line x1="51.5" y1="290.36" x2="52.8" y2="290.36" stroke="#222" stroke-width="0.5"/>
<text x="50.3" y="291.86" font-size="4.4" text-anchor="end" fill="#333" textLength="32.22" lengthAdjust="spacingAndGlyphs" stroke="#333" stroke-width="0.04">CLEC2D_KLRB1</text>
<line x1="51.5" y1="298.54" x2="52.8" y2="298.54" stroke="#222" stroke-width="0.5"/>
<text x="50.3" y="300.04" font-size="4.4" text-anchor="end" fill="#333" textLength="32.45" lengthAdjust="spacingAndGlyphs" stroke="#333" stroke-width="0.04">CXCR4_CXCL12</text>
<line x1="51.5" y1="306.72" x2="52.8" y2="306.72" stroke="#222" stroke-width="0.5"/>
<text x="50.3" y="308.22" font-size="4.4" text-anchor="end" fill="#333" textLength="21.71" lengthAdjust="spacingAndGlyphs" stroke="#333" stroke-width="0.04">CD96_PVR</text>
<line x1="51.5" y1="314.89" x2="52.8" y2="314.89" stroke="#222" stroke-width="0.5"/>
<text x="50.3" y="316.39" font-size="4.4" text-anchor="end" fill="#333" textLength="25.37" lengthAdjust="spacingAndGlyphs" stroke="#333" stroke-width="0.04">CD47_SIRPA</text>
<line x1="51.5" y1="323.07" x2="52.8" y2="323.07" stroke="#222" stroke-width="0.5"/>
<text x="50.3" y="324.57" font-size="4.4" text-anchor="end" fill="#333" textLength="23.58" lengthAdjust="spacingAndGlyphs" stroke="#333" stroke-width="0.04">CD46_JAG1</text>
<line x1="51.5" y1="331.25" x2="52.8" y2="331.25" stroke="#222" stroke-width="0.5"/>
<text x="50.3" y="332.75" font-size="4.4" text-anchor="end" fill="#333" textLength="34.54" lengthAdjust="spacingAndGlyphs" stroke="#333" stroke-width="0.04">TFRC_TNFSF13B</text>
<line x1="51.5" y1="339.43" x2="52.8" y2="339.43" stroke="#222" stroke-width="0.5"/>
<text x="50.3" y="340.93" font-size="4.4" text-anchor="end" fill="#333" textLength="26.85" lengthAdjust="spacingAndGlyphs" stroke="#333" stroke-width="0.04">SELL_PODXL</text>
<line x1="51.5" y1="347.61" x2="52.8" y2="347.61" stroke="#222" stroke-width="0.5"/>
<text x="50.3" y="349.11" font-size="4.4" text-anchor="end" fill="#333" textLength="30.27" lengthAdjust="spacingAndGlyphs" stroke="#333" stroke-width="0.04">NAMPT_P2RY6</text>
<line x1="51.5" y1="355.78" x2="52.8" y2="355.78" stroke="#222" stroke-width="0.5"/>
<text x="50.3" y="357.28" font-size="4.4" text-anchor="end" fill="#333" textLength="30.8" lengthAdjust="spacingAndGlyphs" stroke="#333" stroke-width="0.04">NAMPT_NTRK1</text>
<line x1="51.5" y1="363.96" x2="52.8" y2="363.96" stroke="#222" stroke-width="0.5"/>
<text x="50.3" y="365.46" font-size="4.4" text-anchor="end" fill="#333" textLength="35.48" lengthAdjust="spacingAndGlyphs" stroke="#333" stroke-width="0.04">LCK_CD8 receptor</text>
<line x1="51.5" y1="372.14" x2="52.8" y2="372.14" stroke="#222" stroke-width="0.5"/>
<text x="50.3" y="373.64" font-size="4.4" text-anchor="end" fill="#333" textLength="26.38" lengthAdjust="spacingAndGlyphs" stroke="#333" stroke-width="0.04">IL16_GRIN2C</text>
<line x1="51.5" y1="380.32" x2="52.8" y2="380.32" stroke="#222" stroke-width="0.5"/>
<text x="50.3" y="381.82" font-size="4.4" text-anchor="end" fill="#333" textLength="42.02" lengthAdjust="spacingAndGlyphs" stroke="#333" stroke-width="0.04">CD47_SIRB1 complex</text>
<line x1="51.5" y1="388.49" x2="52.8" y2="388.49" stroke="#222" stroke-width="0.5"/>
<text x="50.3" y="389.99" font-size="4.4" text-anchor="end" fill="#333" textLength="42.49" lengthAdjust="spacingAndGlyphs" stroke="#333" stroke-width="0.04">a6b1 complex_LAMC1</text>
<path d="M53.42 274.01a1.25 1.25 0 1 0 2.50 0a1.25 1.25 0 1 0 -2.50 0M56.52 274.01a1.25 1.25 0 1 0 2.50 0a1.25 1.25 0 1 0 -2.50 0M59.63 274.01a1.25 1.25 0 1 0 2.50 0a1.25 1.25 0 1 0 -2.50 0M62.74 274.01a1.25 1.25 0 1 0 2.50 0a1.25 1.25 0 1 0 -2.50 0M65.85 274.01a1.25 1.25 0 1 0 2.50 0a1.25 1.25 0 1 0 -2.50 0M68.96 274.01a1.25 1.25 0 1 0 2.50 0a1.25 1.25 0 1 0 -2.50 0M72.07 274.01a1.25 1.25 0 1 0 2.50 0a1.25 1.25 0 1 0 -2.50 0M75.18 274.01a1.25 1.25 0 1 0 2.50 0a1.25 1.25 0 1 0 -2.50 0M78.28 274.01a1.25 1.25 0 1 0 2.50 0a1.25 1.25 0 1 0 -2.50 0" fill="#462590"/>
<path d="M53.42 282.18a1.25 1.25 0 1 0 2.50 0a1.25 1.25 0 1 0 -2.50 0M57.05 282.18a0.72 0.72 0 1 0 1.44 0a0.72 0.72 0 1 0 -1.44 0M59.28 282.18a1.6 1.6 0 1 0 3.20 0a1.6 1.6 0 1 0 -3.20 0M63.27 282.18a0.72 0.72 0 1 0 1.44 0a0.72 0.72 0 1 0 -1.44 0M65.85 282.18a1.25 1.25 0 1 0 2.50 0a1.25 1.25 0 1 0 -2.50 0M68.61 282.18a1.6 1.6 0 1 0 3.20 0a1.6 1.6 0 1 0 -3.20 0M71.72 282.18a1.6 1.6 0 1 0 3.20 0a1.6 1.6 0 1 0 -3.20 0M74.83 282.18a1.6 1.6 0 1 0 3.20 0a1.6 1.6 0 1 0 -3.20 0M77.93 282.18a1.6 1.6 0 1 0 3.20 0a1.6 1.6 0 1 0 -3.20 0" fill="#432590"/>
<path d="M53.07 290.36a1.6 1.6 0 1 0 3.20 0a1.6 1.6 0 1 0 -3.20 0M56.17 290.36a1.6 1.6 0 1 0 3.20 0a1.6 1.6 0 1 0 -3.20 0M60.16 290.36a0.72 0.72 0 1 0 1.44 0a0.72 0.72 0 1 0 -1.44 0M63.27 290.36a0.72 0.72 0 1 0 1.44 0a0.72 0.72 0 1 0 -1.44 0M66.38 290.36a0.72 0.72 0 1 0 1.44 0a0.72 0.72 0 1 0 -1.44 0M68.61 290.36a1.6 1.6 0 1 0 3.20 0a1.6 1.6 0 1 0 -3.20 0M72.60 290.36a0.72 0.72 0 1 0 1.44 0a0.72 0.72 0 1 0 -1.44 0M75.71 290.36a0.72 0.72 0 1 0 1.44 0a0.72 0.72 0 1 0 -1.44 0M78.28 290.36a1.25 1.25 0 1 0 2.50 0a1.25 1.25 0 1 0 -2.50 0" fill="#65208c"/>
<path d="M53.95 298.54a0.72 0.72 0 1 0 1.44 0a0.72 0.72 0 1 0 -1.44 0M57.05 298.54a0.72 0.72 0 1 0 1.44 0a0.72 0.72 0 1 0 -1.44 0M60.16 298.54a0.72 0.72 0 1 0 1.44 0a0.72 0.72 0 1 0 -1.44 0M62.39 298.54a1.6 1.6 0 1 0 3.20 0a1.6 1.6 0 1 0 -3.20 0M66.38 298.54a0.72 0.72 0 1 0 1.44 0a0.72 0.72 0 1 0 -1.44 0M68.61 298.54a1.6 1.6 0 1 0 3.20 0a1.6 1.6 0 1 0 -3.20 0M71.72 298.54a1.6 1.6 0 1 0 3.20 0a1.6 1.6 0 1 0 -3.20 0M75.71 298.54a0.72 0.72 0 1 0 1.44 0a0.72 0.72 0 1 0 -1.44 0M78.81 298.54a0.72 0.72 0 1 0 1.44 0a0.72 0.72 0 1 0 -1.44 0" fill="#bb153f"/>
<path d="M53.95 306.72a0.72 0.72 0 1 0 1.44 0a0.72 0.72 0 1 0 -1.44 0M57.05 306.72a0.72 0.72 0 1 0 1.44 0a0.72 0.72 0 1 0 -1.44 0M59.28 306.72a1.6 1.6 0 1 0 3.20 0a1.6 1.6 0 1 0 -3.20 0M63.27 306.72a0.72 0.72 0 1 0 1.44 0a0.72 0.72 0 1 0 -1.44 0M66.38 306.72a0.72 0.72 0 1 0 1.44 0a0.72 0.72 0 1 0 -1.44 0M69.49 306.72a0.72 0.72 0 1 0 1.44 0a0.72 0.72 0 1 0 -1.44 0M71.72 306.72a1.6 1.6 0 1 0 3.20 0a1.6 1.6 0 1 0 -3.20 0M75.71 306.72a0.72 0.72 0 1 0 1.44 0a0.72 0.72 0 1 0 -1.44 0M78.81 306.72a0.72 0.72 0 1 0 1.44 0a0.72 0.72 0 1 0 -1.44 0M53.95 372.14a0.72 0.72 0 1 0 1.44 0a0.72 0.72 0 1 0 -1.44 0M57.05 372.14a0.72 0.72 0 1 0 1.44 0a0.72 0.72 0 1 0 -1.44 0M60.16 372.14a0.72 0.72 0 1 0 1.44 0a0.72 0.72 0 1 0 -1.44 0M63.27 372.14a0.72 0.72 0 1 0 1.44 0a0.72 0.72 0 1 0 -1.44 0M66.38 372.14a0.72 0.72 0 1 0 1.44 0a0.72 0.72 0 1 0 -1.44 0M69.49 372.14a0.72 0.72 0 1 0 1.44 0a0.72 0.72 0 1 0 -1.44 0M72.60 372.14a0.72 0.72 0 1 0 1.44 0a0.72 0.72 0 1 0 -1.44 0M74.83 372.14a1.6 1.6 0 1 0 3.20 0a1.6 1.6 0 1 0 -3.20 0M78.81 372.14a0.72 0.72 0 1 0 1.44 0a0.72 0.72 0 1 0 -1.44 0" fill="#4c248e"/>
<path d="M53.95 314.89a0.72 0.72 0 1 0 1.44 0a0.72 0.72 0 1 0 -1.44 0M57.05 314.89a0.72 0.72 0 1 0 1.44 0a0.72 0.72 0 1 0 -1.44 0M60.16 314.89a0.72 0.72 0 1 0 1.44 0a0.72 0.72 0 1 0 -1.44 0M63.27 314.89a0.72 0.72 0 1 0 1.44 0a0.72 0.72 0 1 0 -1.44 0M66.38 314.89a0.72 0.72 0 1 0 1.44 0a0.72 0.72 0 1 0 -1.44 0M69.49 314.89a0.72 0.72 0 1 0 1.44 0a0.72 0.72 0 1 0 -1.44 0M71.72 314.89a1.6 1.6 0 1 0 3.20 0a1.6 1.6 0 1 0 -3.20 0M75.71 314.89a0.72 0.72 0 1 0 1.44 0a0.72 0.72 0 1 0 -1.44 0M77.93 314.89a1.6 1.6 0 1 0 3.20 0a1.6 1.6 0 1 0 -3.20 0M53.95 331.25a0.72 0.72 0 1 0 1.44 0a0.72 0.72 0 1 0 -1.44 0M57.05 331.25a0.72 0.72 0 1 0 1.44 0a0.72 0.72 0 1 0 -1.44 0M60.16 331.25a0.72 0.72 0 1 0 1.44 0a0.72 0.72 0 1 0 -1.44 0M63.27 331.25a0.72 0.72 0 1 0 1.44 0a0.72 0.72 0 1 0 -1.44 0M66.38 331.25a0.72 0.72 0 1 0 1.44 0a0.72 0.72 0 1 0 -1.44 0M69.49 331.25a0.72 0.72 0 1 0 1.44 0a0.72 0.72 0 1 0 -1.44 0M72.07 331.25a1.25 1.25 0 1 0 2.50 0a1.25 1.25 0 1 0 -2.50 0M75.71 331.25a0.72 0.72 0 1 0 1.44 0a0.72 0.72 0 1 0 -1.44 0M78.81 331.25a0.72 0.72 0 1 0 1.44 0a0.72 0.72 0 1 0 -1.44 0M53.95 380.32a0.72 0.72 0 1 0 1.44 0a0.72 0.72 0 1 0 -1.44 0M57.05 380.32a0.72 0.72 0 1 0 1.44 0a0.72 0.72 0 1 0 -1.44 0M60.16 380.32a0.72 0.72 0 1 0 1.44 0a0.72 0.72 0 1 0 -1.44 0M63.27 380.32a0.72 0.72 0 1 0 1.44 0a0.72 0.72 0 1 0 -1.44 0M66.38 380.32a0.72 0.72 0 1 0 1.44 0a0.72 0.72 0 1 0 -1.44 0M69.49 380.32a0.72 0.72 0 1 0 1.44 0a0.72 0.72 0 1 0 -1.44 0M72.60 380.32a0.72 0.72 0 1 0 1.44 0a0.72 0.72 0 1 0 -1.44 0M75.18 380.32a1.25 1.25 0 1 0 2.50 0a1.25 1.25 0 1 0 -2.50 0M78.81 380.32a0.72 0.72 0 1 0 1.44 0a0.72 0.72 0 1 0 -1.44 0" fill="#6e1f8b"/>
<path d="M53.95 323.07a0.72 0.72 0 1 0 1.44 0a0.72 0.72 0 1 0 -1.44 0M57.05 323.07a0.72 0.72 0 1 0 1.44 0a0.72 0.72 0 1 0 -1.44 0M60.16 323.07a0.72 0.72 0 1 0 1.44 0a0.72 0.72 0 1 0 -1.44 0M63.27 323.07a0.72 0.72 0 1 0 1.44 0a0.72 0.72 0 1 0 -1.44 0M66.38 323.07a0.72 0.72 0 1 0 1.44 0a0.72 0.72 0 1 0 -1.44 0M69.49 323.07a0.72 0.72 0 1 0 1.44 0a0.72 0.72 0 1 0 -1.44 0M71.72 323.07a1.6 1.6 0 1 0 3.20 0a1.6 1.6 0 1 0 -3.20 0M75.71 323.07a0.72 0.72 0 1 0 1.44 0a0.72 0.72 0 1 0 -1.44 0M78.28 323.07a1.25 1.25 0 1 0 2.50 0a1.25 1.25 0 1 0 -2.50 0" fill="#5d228c"/>
<path d="M53.95 339.43a0.72 0.72 0 1 0 1.44 0a0.72 0.72 0 1 0 -1.44 0M57.05 339.43a0.72 0.72 0 1 0 1.44 0a0.72 0.72 0 1 0 -1.44 0M60.16 339.43a0.72 0.72 0 1 0 1.44 0a0.72 0.72 0 1 0 -1.44 0M63.27 339.43a0.72 0.72 0 1 0 1.44 0a0.72 0.72 0 1 0 -1.44 0M66.38 339.43a0.72 0.72 0 1 0 1.44 0a0.72 0.72 0 1 0 -1.44 0M69.49 339.43a0.72 0.72 0 1 0 1.44 0a0.72 0.72 0 1 0 -1.44 0M72.60 339.43a0.72 0.72 0 1 0 1.44 0a0.72 0.72 0 1 0 -1.44 0M75.71 339.43a0.72 0.72 0 1 0 1.44 0a0.72 0.72 0 1 0 -1.44 0M77.93 339.43a1.6 1.6 0 1 0 3.20 0a1.6 1.6 0 1 0 -3.20 0" fill="#a0165f"/>
<path d="M53.95 347.61a0.72 0.72 0 1 0 1.44 0a0.72 0.72 0 1 0 -1.44 0M57.05 347.61a0.72 0.72 0 1 0 1.44 0a0.72 0.72 0 1 0 -1.44 0M60.16 347.61a0.72 0.72 0 1 0 1.44 0a0.72 0.72 0 1 0 -1.44 0M63.27 347.61a0.72 0.72 0 1 0 1.44 0a0.72 0.72 0 1 0 -1.44 0M66.38 347.61a0.72 0.72 0 1 0 1.44 0a0.72 0.72 0 1 0 -1.44 0M69.49 347.61a0.72 0.72 0 1 0 1.44 0a0.72 0.72 0 1 0 -1.44 0M72.60 347.61a0.72 0.72 0 1 0 1.44 0a0.72 0.72 0 1 0 -1.44 0M75.71 347.61a0.72 0.72 0 1 0 1.44 0a0.72 0.72 0 1 0 -1.44 0M77.93 347.61a1.6 1.6 0 1 0 3.20 0a1.6 1.6 0 1 0 -3.20 0" fill="#3a2693"/>
<path d="M53.95 355.78a0.72 0.72 0 1 0 1.44 0a0.72 0.72 0 1 0 -1.44 0M57.05 355.78a0.72 0.72 0 1 0 1.44 0a0.72 0.72 0 1 0 -1.44 0M60.16 355.78a0.72 0.72 0 1 0 1.44 0a0.72 0.72 0 1 0 -1.44 0M63.27 355.78a0.72 0.72 0 1 0 1.44 0a0.72 0.72 0 1 0 -1.44 0M65.50 355.78a1.6 1.6 0 1 0 3.20 0a1.6 1.6 0 1 0 -3.20 0M69.49 355.78a0.72 0.72 0 1 0 1.44 0a0.72 0.72 0 1 0 -1.44 0M72.60 355.78a0.72 0.72 0 1 0 1.44 0a0.72 0.72 0 1 0 -1.44 0M75.71 355.78a0.72 0.72 0 1 0 1.44 0a0.72 0.72 0 1 0 -1.44 0M78.81 355.78a0.72 0.72 0 1 0 1.44 0a0.72 0.72 0 1 0 -1.44 0M53.95 388.49a0.72 0.72 0 1 0 1.44 0a0.72 0.72 0 1 0 -1.44 0M57.05 388.49a0.72 0.72 0 1 0 1.44 0a0.72 0.72 0 1 0 -1.44 0M60.16 388.49a0.72 0.72 0 1 0 1.44 0a0.72 0.72 0 1 0 -1.44 0M63.27 388.49a0.72 0.72 0 1 0 1.44 0a0.72 0.72 0 1 0 -1.44 0M65.50 388.49a1.6 1.6 0 1 0 3.20 0a1.6 1.6 0 1 0 -3.20 0M69.49 388.49a0.72 0.72 0 1 0 1.44 0a0.72 0.72 0 1 0 -1.44 0M72.60 388.49a0.72 0.72 0 1 0 1.44 0a0.72 0.72 0 1 0 -1.44 0M75.71 388.49a0.72 0.72 0 1 0 1.44 0a0.72 0.72 0 1 0 -1.44 0M78.81 388.49a0.72 0.72 0 1 0 1.44 0a0.72 0.72 0 1 0 -1.44 0" fill="#402691"/>
<path d="M53.95 363.96a0.72 0.72 0 1 0 1.44 0a0.72 0.72 0 1 0 -1.44 0M57.05 363.96a0.72 0.72 0 1 0 1.44 0a0.72 0.72 0 1 0 -1.44 0M60.16 363.96a0.72 0.72 0 1 0 1.44 0a0.72 0.72 0 1 0 -1.44 0M63.27 363.96a0.72 0.72 0 1 0 1.44 0a0.72 0.72 0 1 0 -1.44 0M66.38 363.96a0.72 0.72 0 1 0 1.44 0a0.72 0.72 0 1 0 -1.44 0M68.61 363.96a1.6 1.6 0 1 0 3.20 0a1.6 1.6 0 1 0 -3.20 0M72.60 363.96a0.72 0.72 0 1 0 1.44 0a0.72 0.72 0 1 0 -1.44 0M75.71 363.96a0.72 0.72 0 1 0 1.44 0a0.72 0.72 0 1 0 -1.44 0M78.81 363.96a0.72 0.72 0 1 0 1.44 0a0.72 0.72 0 1 0 -1.44 0" fill="#7e1c81"/>
<rect x="52.8" y="269.1" width="28.6" height="124.3" fill="none" stroke="#1a1a1a" stroke-width="1"/>
<line x1="54.67" y1="393.4" x2="54.67" y2="394.4" stroke="#222" stroke-width="0.4"/>
<line x1="57.77" y1="393.4" x2="57.77" y2="394.4" stroke="#222" stroke-width="0.4"/>
<line x1="60.88" y1="393.4" x2="60.88" y2="394.4" stroke="#222" stroke-width="0.4"/>
<line x1="63.99" y1="393.4" x2="63.99" y2="394.4" stroke="#222" stroke-width="0.4"/>
<line x1="67.1" y1="393.4" x2="67.1" y2="394.4" stroke="#222" stroke-width="0.4"/>
<line x1="70.21" y1="393.4" x2="70.21" y2="394.4" stroke="#222" stroke-width="0.4"/>
<line x1="73.32" y1="393.4" x2="73.32" y2="394.4" stroke="#222" stroke-width="0.4"/>
<line x1="76.43" y1="393.4" x2="76.43" y2="394.4" stroke="#222" stroke-width="0.4"/>
<line x1="79.53" y1="393.4" x2="79.53" y2="394.4" stroke="#222" stroke-width="0.4"/>
<text x="67.1" y="400.1" font-size="4.3" text-anchor="middle" fill="#4f70b0" textLength="26.4" lengthAdjust="spacingAndGlyphs">123456789</text>
<line x1="25.5" y1="393.8" x2="25.5" y2="396.6" stroke="#333" stroke-width="0.55"/>
<path d="M25.50 393.2l-0.9 1.4h1.8z" fill="#333"/>
<text x="25.5" y="401.3" font-size="4" text-anchor="middle" fill="#333" stroke="#333" stroke-width="0.13">T</text>
<line x1="43.2" y1="393.8" x2="43.2" y2="396.6" stroke="#333" stroke-width="0.55"/>
<path d="M43.20 393.2l-0.9 1.4h1.8z" fill="#333"/>
<text x="43.2" y="401.3" font-size="4" text-anchor="middle" fill="#333" stroke="#333" stroke-width="0.13">HSPC</text>
<text x="153.9" y="267.3" font-size="4" text-anchor="middle" fill="#333" stroke="#333" stroke-width="0.13">Memory</text>
<line x1="138.3" y1="271.74" x2="139.6" y2="271.74" stroke="#222" stroke-width="0.5"/>
<text x="137.1" y="273.24" font-size="4.4" text-anchor="end" fill="#333" textLength="36.57" lengthAdjust="spacingAndGlyphs" stroke="#333" stroke-width="0.04">TGF−βR3_TGF−β1</text>
<line x1="138.3" y1="276.15" x2="139.6" y2="276.15" stroke="#222" stroke-width="0.5"/>
<text x="137.1" y="277.65" font-size="4.4" text-anchor="end" fill="#333" textLength="29.99" lengthAdjust="spacingAndGlyphs" stroke="#333" stroke-width="0.04">HLA−C_FAM3C</text>
<line x1="138.3" y1="280.56" x2="139.6" y2="280.56" stroke="#222" stroke-width="0.5"/>
<text x="137.1" y="282.06" font-size="4.4" text-anchor="end" fill="#333" textLength="29.65" lengthAdjust="spacingAndGlyphs" stroke="#333" stroke-width="0.04">EPHA4_EFNA4</text>
<line x1="138.3" y1="284.97" x2="139.6" y2="284.97" stroke="#222" stroke-width="0.5"/>
<text x="137.1" y="286.47" font-size="4.4" text-anchor="end" fill="#333" textLength="32.22" lengthAdjust="spacingAndGlyphs" stroke="#333" stroke-width="0.04">CLEC2D_KLRB1</text>
<line x1="138.3" y1="289.38" x2="139.6" y2="289.38" stroke="#222" stroke-width="0.5"/>
<text x="137.1" y="290.88" font-size="4.4" text-anchor="end" fill="#333" textLength="42.02" lengthAdjust="spacingAndGlyphs" stroke="#333" stroke-width="0.04">CD47_SIRB1 complex</text>
<line x1="138.3" y1="293.78" x2="139.6" y2="293.78" stroke="#222" stroke-width="0.5"/>
<text x="137.1" y="295.28" font-size="4.4" text-anchor="end" fill="#333" textLength="34.54" lengthAdjust="spacingAndGlyphs" stroke="#333" stroke-width="0.04">TNFSF13B_TFRC</text>
<line x1="138.3" y1="298.19" x2="139.6" y2="298.19" stroke="#222" stroke-width="0.5"/>
<text x="137.1" y="299.69" font-size="4.4" text-anchor="end" fill="#333" textLength="28.95" lengthAdjust="spacingAndGlyphs" stroke="#333" stroke-width="0.04">SELL_SELPLG</text>
<line x1="138.3" y1="302.6" x2="139.6" y2="302.6" stroke="#222" stroke-width="0.5"/>
<text x="137.1" y="304.1" font-size="4.4" text-anchor="end" fill="#333" textLength="29.18" lengthAdjust="spacingAndGlyphs" stroke="#333" stroke-width="0.04">DPP4_CXCL12</text>
<line x1="138.3" y1="307.01" x2="139.6" y2="307.01" stroke="#222" stroke-width="0.5"/>
<text x="137.1" y="308.51" font-size="4.4" text-anchor="end" fill="#333" textLength="32.45" lengthAdjust="spacingAndGlyphs" stroke="#333" stroke-width="0.04">CXCR4_CXCL12</text>
<line x1="138.3" y1="311.41" x2="139.6" y2="311.41" stroke="#222" stroke-width="0.5"/>
<text x="137.1" y="312.91" font-size="4.4" text-anchor="end" fill="#333" textLength="30.34" lengthAdjust="spacingAndGlyphs" stroke="#333" stroke-width="0.04">ADGRE5_CD55</text>
<line x1="138.3" y1="315.82" x2="139.6" y2="315.82" stroke="#222" stroke-width="0.5"/>
<text x="137.1" y="317.32" font-size="4.4" text-anchor="end" fill="#333" textLength="30.27" lengthAdjust="spacingAndGlyphs" stroke="#333" stroke-width="0.04">NAMPT_P2RY6</text>
<line x1="138.3" y1="320.23" x2="139.6" y2="320.23" stroke="#222" stroke-width="0.5"/>
<text x="137.1" y="321.73" font-size="4.4" text-anchor="end" fill="#333" textLength="30.8" lengthAdjust="spacingAndGlyphs" stroke="#333" stroke-width="0.04">NAMPT_NTRK1</text>
<line x1="138.3" y1="324.64" x2="139.6" y2="324.64" stroke="#222" stroke-width="0.5"/>
<text x="137.1" y="326.14" font-size="4.4" text-anchor="end" fill="#333" textLength="28.95" lengthAdjust="spacingAndGlyphs" stroke="#333" stroke-width="0.04">LGALS9_CD44</text>
<line x1="138.3" y1="329.05" x2="139.6" y2="329.05" stroke="#222" stroke-width="0.5"/>
<text x="137.1" y="330.55" font-size="4.4" text-anchor="end" fill="#333" textLength="21.71" lengthAdjust="spacingAndGlyphs" stroke="#333" stroke-width="0.04">CD96_PVR</text>
<line x1="138.3" y1="333.45" x2="139.6" y2="333.45" stroke="#222" stroke-width="0.5"/>
<text x="137.1" y="334.95" font-size="4.4" text-anchor="end" fill="#333" textLength="24.04" lengthAdjust="spacingAndGlyphs" stroke="#333" stroke-width="0.04">CD226_PVR</text>
<line x1="138.3" y1="337.86" x2="139.6" y2="337.86" stroke="#222" stroke-width="0.5"/>
<text x="137.1" y="339.36" font-size="4.4" text-anchor="end" fill="#333" textLength="26.84" lengthAdjust="spacingAndGlyphs" stroke="#333" stroke-width="0.04">ANXA1_FPR1</text>
<line x1="138.3" y1="342.27" x2="139.6" y2="342.27" stroke="#222" stroke-width="0.5"/>
<text x="137.1" y="343.77" font-size="4.4" text-anchor="end" fill="#333" textLength="44.81" lengthAdjust="spacingAndGlyphs" stroke="#333" stroke-width="0.04">TNFSF10_TNFRSF10D</text>
<line x1="138.3" y1="346.68" x2="139.6" y2="346.68" stroke="#222" stroke-width="0.5"/>
<text x="137.1" y="348.18" font-size="4.4" text-anchor="end" fill="#333" textLength="44.57" lengthAdjust="spacingAndGlyphs" stroke="#333" stroke-width="0.04">TNFSF10_TNFRSF10A</text>
<line x1="138.3" y1="351.09" x2="139.6" y2="351.09" stroke="#222" stroke-width="0.5"/>
<text x="137.1" y="352.59" font-size="4.4" text-anchor="end" fill="#333" textLength="29.88" lengthAdjust="spacingAndGlyphs" stroke="#333" stroke-width="0.04">TMEM219_IL13</text>
<line x1="138.3" y1="355.49" x2="139.6" y2="355.49" stroke="#222" stroke-width="0.5"/>
<text x="137.1" y="356.99" font-size="4.4" text-anchor="end" fill="#333" textLength="34.54" lengthAdjust="spacingAndGlyphs" stroke="#333" stroke-width="0.04">TFRC_TNFSF13B</text>
<line x1="138.3" y1="359.9" x2="139.6" y2="359.9" stroke="#222" stroke-width="0.5"/>
<text x="137.1" y="361.4" font-size="4.4" text-anchor="end" fill="#333" textLength="26.85" lengthAdjust="spacingAndGlyphs" stroke="#333" stroke-width="0.04">SELL_PODXL</text>
<line x1="138.3" y1="364.31" x2="139.6" y2="364.31" stroke="#222" stroke-width="0.5"/>
<text x="137.1" y="365.81" font-size="4.4" text-anchor="end" fill="#333" textLength="35.48" lengthAdjust="spacingAndGlyphs" stroke="#333" stroke-width="0.04">LCK_CD8 receptor</text>
<line x1="138.3" y1="368.72" x2="139.6" y2="368.72" stroke="#222" stroke-width="0.5"/>
<text x="137.1" y="370.22" font-size="4.4" text-anchor="end" fill="#333" textLength="26.38" lengthAdjust="spacingAndGlyphs" stroke="#333" stroke-width="0.04">IL16_GRIN2C</text>
<line x1="138.3" y1="373.12" x2="139.6" y2="373.12" stroke="#222" stroke-width="0.5"/>
<text x="137.1" y="374.62" font-size="4.4" text-anchor="end" fill="#333" textLength="29.65" lengthAdjust="spacingAndGlyphs" stroke="#333" stroke-width="0.04">EPHA4_EFNB1</text>
<line x1="138.3" y1="377.53" x2="139.6" y2="377.53" stroke="#222" stroke-width="0.5"/>
<text x="137.1" y="379.03" font-size="4.4" text-anchor="end" fill="#333" textLength="29.18" lengthAdjust="spacingAndGlyphs" stroke="#333" stroke-width="0.04">DPP4_CXCL10</text>
<line x1="138.3" y1="381.94" x2="139.6" y2="381.94" stroke="#222" stroke-width="0.5"/>
<text x="137.1" y="383.44" font-size="4.4" text-anchor="end" fill="#333" textLength="27.16" lengthAdjust="spacingAndGlyphs" stroke="#333" stroke-width="0.04">COPA_P2RY6</text>
<line x1="138.3" y1="386.35" x2="139.6" y2="386.35" stroke="#222" stroke-width="0.5"/>
<text x="137.1" y="387.85" font-size="4.4" text-anchor="end" fill="#333" textLength="27.7" lengthAdjust="spacingAndGlyphs" stroke="#333" stroke-width="0.04">COPA_NTRK1</text>
<line x1="138.3" y1="390.76" x2="139.6" y2="390.76" stroke="#222" stroke-width="0.5"/>
<text x="137.1" y="392.26" font-size="4.4" text-anchor="end" fill="#333" textLength="42.49" lengthAdjust="spacingAndGlyphs" stroke="#333" stroke-width="0.04">a6b1 complex_LAMC1</text>
<path d="M139.87 271.74a1.6 1.6 0 1 0 3.20 0a1.6 1.6 0 1 0 -3.20 0M142.97 271.74a1.6 1.6 0 1 0 3.20 0a1.6 1.6 0 1 0 -3.20 0M146.08 271.74a1.6 1.6 0 1 0 3.20 0a1.6 1.6 0 1 0 -3.20 0M150.07 271.74a0.72 0.72 0 1 0 1.44 0a0.72 0.72 0 1 0 -1.44 0M152.30 271.74a1.6 1.6 0 1 0 3.20 0a1.6 1.6 0 1 0 -3.20 0M155.41 271.74a1.6 1.6 0 1 0 3.20 0a1.6 1.6 0 1 0 -3.20 0M158.52 271.74a1.6 1.6 0 1 0 3.20 0a1.6 1.6 0 1 0 -3.20 0M161.63 271.74a1.6 1.6 0 1 0 3.20 0a1.6 1.6 0 1 0 -3.20 0M164.73 271.74a1.6 1.6 0 1 0 3.20 0a1.6 1.6 0 1 0 -3.20 0M139.87 276.15a1.6 1.6 0 1 0 3.20 0a1.6 1.6 0 1 0 -3.20 0M142.97 276.15a1.6 1.6 0 1 0 3.20 0a1.6 1.6 0 1 0 -3.20 0M146.08 276.15a1.6 1.6 0 1 0 3.20 0a1.6 1.6 0 1 0 -3.20 0M149.19 276.15a1.6 1.6 0 1 0 3.20 0a1.6 1.6 0 1 0 -3.20 0M152.30 276.15a1.6 1.6 0 1 0 3.20 0a1.6 1.6 0 1 0 -3.20 0M156.29 276.15a0.72 0.72 0 1 0 1.44 0a0.72 0.72 0 1 0 -1.44 0M158.52 276.15a1.6 1.6 0 1 0 3.20 0a1.6 1.6 0 1 0 -3.20 0M161.63 276.15a1.6 1.6 0 1 0 3.20 0a1.6 1.6 0 1 0 -3.20 0M164.73 276.15a1.6 1.6 0 1 0 3.20 0a1.6 1.6 0 1 0 -3.20 0M139.87 280.56a1.6 1.6 0 1 0 3.20 0a1.6 1.6 0 1 0 -3.20 0M143.85 280.56a0.72 0.72 0 1 0 1.44 0a0.72 0.72 0 1 0 -1.44 0M146.08 280.56a1.6 1.6 0 1 0 3.20 0a1.6 1.6 0 1 0 -3.20 0M150.07 280.56a0.72 0.72 0 1 0 1.44 0a0.72 0.72 0 1 0 -1.44 0M153.18 280.56a0.72 0.72 0 1 0 1.44 0a0.72 0.72 0 1 0 -1.44 0M156.29 280.56a0.72 0.72 0 1 0 1.44 0a0.72 0.72 0 1 0 -1.44 0M159.40 280.56a0.72 0.72 0 1 0 1.44 0a0.72 0.72 0 1 0 -1.44 0M161.63 280.56a1.6 1.6 0 1 0 3.20 0a1.6 1.6 0 1 0 -3.20 0M164.73 280.56a1.6 1.6 0 1 0 3.20 0a1.6 1.6 0 1 0 -3.20 0M140.75 302.60a0.72 0.72 0 1 0 1.44 0a0.72 0.72 0 1 0 -1.44 0M143.85 302.60a0.72 0.72 0 1 0 1.44 0a0.72 0.72 0 1 0 -1.44 0M146.96 302.60a0.72 0.72 0 1 0 1.44 0a0.72 0.72 0 1 0 -1.44 0M149.19 302.60a1.6 1.6 0 1 0 3.20 0a1.6 1.6 0 1 0 -3.20 0M153.18 302.60a0.72 0.72 0 1 0 1.44 0a0.72 0.72 0 1 0 -1.44 0M155.41 302.60a1.6 1.6 0 1 0 3.20 0a1.6 1.6 0 1 0 -3.20 0M158.52 302.60a1.6 1.6 0 1 0 3.20 0a1.6 1.6 0 1 0 -3.20 0M162.51 302.60a0.72 0.72 0 1 0 1.44 0a0.72 0.72 0 1 0 -1.44 0M165.61 302.60a0.72 0.72 0 1 0 1.44 0a0.72 0.72 0 1 0 -1.44 0M140.75 346.68a0.72 0.72 0 1 0 1.44 0a0.72 0.72 0 1 0 -1.44 0M143.85 346.68a0.72 0.72 0 1 0 1.44 0a0.72 0.72 0 1 0 -1.44 0M146.96 346.68a0.72 0.72 0 1 0 1.44 0a0.72 0.72 0 1 0 -1.44 0M150.07 346.68a0.72 0.72 0 1 0 1.44 0a0.72 0.72 0 1 0 -1.44 0M153.18 346.68a0.72 0.72 0 1 0 1.44 0a0.72 0.72 0 1 0 -1.44 0M156.29 346.68a0.72 0.72 0 1 0 1.44 0a0.72 0.72 0 1 0 -1.44 0M158.52 346.68a1.6 1.6 0 1 0 3.20 0a1.6 1.6 0 1 0 -3.20 0M162.51 346.68a0.72 0.72 0 1 0 1.44 0a0.72 0.72 0 1 0 -1.44 0M165.61 346.68a0.72 0.72 0 1 0 1.44 0a0.72 0.72 0 1 0 -1.44 0M140.75 373.12a0.72 0.72 0 1 0 1.44 0a0.72 0.72 0 1 0 -1.44 0M143.85 373.12a0.72 0.72 0 1 0 1.44 0a0.72 0.72 0 1 0 -1.44 0M146.96 373.12a0.72 0.72 0 1 0 1.44 0a0.72 0.72 0 1 0 -1.44 0M150.07 373.12a0.72 0.72 0 1 0 1.44 0a0.72 0.72 0 1 0 -1.44 0M153.18 373.12a0.72 0.72 0 1 0 1.44 0a0.72 0.72 0 1 0 -1.44 0M156.29 373.12a0.72 0.72 0 1 0 1.44 0a0.72 0.72 0 1 0 -1.44 0M159.40 373.12a0.72 0.72 0 1 0 1.44 0a0.72 0.72 0 1 0 -1.44 0M162.51 373.12a0.72 0.72 0 1 0 1.44 0a0.72 0.72 0 1 0 -1.44 0M164.73 373.12a1.6 1.6 0 1 0 3.20 0a1.6 1.6 0 1 0 -3.20 0M139.87 377.53a1.6 1.6 0 1 0 3.20 0a1.6 1.6 0 1 0 -3.20 0M143.85 377.53a0.72 0.72 0 1 0 1.44 0a0.72 0.72 0 1 0 -1.44 0M146.96 377.53a0.72 0.72 0 1 0 1.44 0a0.72 0.72 0 1 0 -1.44 0M150.07 377.53a0.72 0.72 0 1 0 1.44 0a0.72 0.72 0 1 0 -1.44 0M153.18 377.53a0.72 0.72 0 1 0 1.44 0a0.72 0.72 0 1 0 -1.44 0M156.29 377.53a0.72 0.72 0 1 0 1.44 0a0.72 0.72 0 1 0 -1.44 0M159.40 377.53a0.72 0.72 0 1 0 1.44 0a0.72 0.72 0 1 0 -1.44 0M162.51 377.53a0.72 0.72 0 1 0 1.44 0a0.72 0.72 0 1 0 -1.44 0M165.61 377.53a0.72 0.72 0 1 0 1.44 0a0.72 0.72 0 1 0 -1.44 0M140.75 390.76a0.72 0.72 0 1 0 1.44 0a0.72 0.72 0 1 0 -1.44 0M143.85 390.76a0.72 0.72 0 1 0 1.44 0a0.72 0.72 0 1 0 -1.44 0M146.96 390.76a0.72 0.72 0 1 0 1.44 0a0.72 0.72 0 1 0 -1.44 0M150.07 390.76a0.72 0.72 0 1 0 1.44 0a0.72 0.72 0 1 0 -1.44 0M152.30 390.76a1.6 1.6 0 1 0 3.20 0a1.6 1.6 0 1 0 -3.20 0M156.29 390.76a0.72 0.72 0 1 0 1.44 0a0.72 0.72 0 1 0 -1.44 0M159.40 390.76a0.72 0.72 0 1 0 1.44 0a0.72 0.72 0 1 0 -1.44 0M162.51 390.76a0.72 0.72 0 1 0 1.44 0a0.72 0.72 0 1 0 -1.44 0M165.61 390.76a0.72 0.72 0 1 0 1.44 0a0.72 0.72 0 1 0 -1.44 0" fill="#402691"/>
<path d="M139.87 284.97a1.6 1.6 0 1 0 3.20 0a1.6 1.6 0 1 0 -3.20 0M142.97 284.97a1.6 1.6 0 1 0 3.20 0a1.6 1.6 0 1 0 -3.20 0M146.96 284.97a0.72 0.72 0 1 0 1.44 0a0.72 0.72 0 1 0 -1.44 0M150.07 284.97a0.72 0.72 0 1 0 1.44 0a0.72 0.72 0 1 0 -1.44 0M153.18 284.97a0.72 0.72 0 1 0 1.44 0a0.72 0.72 0 1 0 -1.44 0M155.41 284.97a1.6 1.6 0 1 0 3.20 0a1.6 1.6 0 1 0 -3.20 0M159.40 284.97a0.72 0.72 0 1 0 1.44 0a0.72 0.72 0 1 0 -1.44 0M162.51 284.97a0.72 0.72 0 1 0 1.44 0a0.72 0.72 0 1 0 -1.44 0M164.73 284.97a1.6 1.6 0 1 0 3.20 0a1.6 1.6 0 1 0 -3.20 0M140.75 289.38a0.72 0.72 0 1 0 1.44 0a0.72 0.72 0 1 0 -1.44 0M143.85 289.38a0.72 0.72 0 1 0 1.44 0a0.72 0.72 0 1 0 -1.44 0M146.96 289.38a0.72 0.72 0 1 0 1.44 0a0.72 0.72 0 1 0 -1.44 0M150.07 289.38a0.72 0.72 0 1 0 1.44 0a0.72 0.72 0 1 0 -1.44 0M153.18 289.38a0.72 0.72 0 1 0 1.44 0a0.72 0.72 0 1 0 -1.44 0M155.41 289.38a1.6 1.6 0 1 0 3.20 0a1.6 1.6 0 1 0 -3.20 0M158.52 289.38a1.6 1.6 0 1 0 3.20 0a1.6 1.6 0 1 0 -3.20 0M161.63 289.38a1.6 1.6 0 1 0 3.20 0a1.6 1.6 0 1 0 -3.20 0M164.73 289.38a1.6 1.6 0 1 0 3.20 0a1.6 1.6 0 1 0 -3.20 0M140.75 351.09a0.72 0.72 0 1 0 1.44 0a0.72 0.72 0 1 0 -1.44 0M143.85 351.09a0.72 0.72 0 1 0 1.44 0a0.72 0.72 0 1 0 -1.44 0M146.96 351.09a0.72 0.72 0 1 0 1.44 0a0.72 0.72 0 1 0 -1.44 0M150.07 351.09a0.72 0.72 0 1 0 1.44 0a0.72 0.72 0 1 0 -1.44 0M152.30 351.09a1.6 1.6 0 1 0 3.20 0a1.6 1.6 0 1 0 -3.20 0M156.29 351.09a0.72 0.72 0 1 0 1.44 0a0.72 0.72 0 1 0 -1.44 0M159.40 351.09a0.72 0.72 0 1 0 1.44 0a0.72 0.72 0 1 0 -1.44 0M162.51 351.09a0.72 0.72 0 1 0 1.44 0a0.72 0.72 0 1 0 -1.44 0M165.61 351.09a0.72 0.72 0 1 0 1.44 0a0.72 0.72 0 1 0 -1.44 0M140.75 381.94a0.72 0.72 0 1 0 1.44 0a0.72 0.72 0 1 0 -1.44 0M143.85 381.94a0.72 0.72 0 1 0 1.44 0a0.72 0.72 0 1 0 -1.44 0M146.96 381.94a0.72 0.72 0 1 0 1.44 0a0.72 0.72 0 1 0 -1.44 0M150.07 381.94a0.72 0.72 0 1 0 1.44 0a0.72 0.72 0 1 0 -1.44 0M153.18 381.94a0.72 0.72 0 1 0 1.44 0a0.72 0.72 0 1 0 -1.44 0M156.29 381.94a0.72 0.72 0 1 0 1.44 0a0.72 0.72 0 1 0 -1.44 0M159.40 381.94a0.72 0.72 0 1 0 1.44 0a0.72 0.72 0 1 0 -1.44 0M162.51 381.94a0.72 0.72 0 1 0 1.44 0a0.72 0.72 0 1 0 -1.44 0M165.08 381.94a1.25 1.25 0 1 0 2.50 0a1.25 1.25 0 1 0 -2.50 0" fill="#65208c"/>
<path d="M140.75 293.78a0.72 0.72 0 1 0 1.44 0a0.72 0.72 0 1 0 -1.44 0M143.85 293.78a0.72 0.72 0 1 0 1.44 0a0.72 0.72 0 1 0 -1.44 0M146.08 293.78a1.6 1.6 0 1 0 3.20 0a1.6 1.6 0 1 0 -3.20 0M150.07 293.78a0.72 0.72 0 1 0 1.44 0a0.72 0.72 0 1 0 -1.44 0M152.30 293.78a1.6 1.6 0 1 0 3.20 0a1.6 1.6 0 1 0 -3.20 0M156.29 293.78a0.72 0.72 0 1 0 1.44 0a0.72 0.72 0 1 0 -1.44 0M158.52 293.78a1.6 1.6 0 1 0 3.20 0a1.6 1.6 0 1 0 -3.20 0M162.51 293.78a0.72 0.72 0 1 0 1.44 0a0.72 0.72 0 1 0 -1.44 0M165.61 293.78a0.72 0.72 0 1 0 1.44 0a0.72 0.72 0 1 0 -1.44 0" fill="#761e8a"/>
<path d="M140.75 298.19a0.72 0.72 0 1 0 1.44 0a0.72 0.72 0 1 0 -1.44 0M143.85 298.19a0.72 0.72 0 1 0 1.44 0a0.72 0.72 0 1 0 -1.44 0M146.43 298.19a1.25 1.25 0 1 0 2.50 0a1.25 1.25 0 1 0 -2.50 0M150.07 298.19a0.72 0.72 0 1 0 1.44 0a0.72 0.72 0 1 0 -1.44 0M153.18 298.19a0.72 0.72 0 1 0 1.44 0a0.72 0.72 0 1 0 -1.44 0M156.29 298.19a0.72 0.72 0 1 0 1.44 0a0.72 0.72 0 1 0 -1.44 0M158.87 298.19a1.25 1.25 0 1 0 2.50 0a1.25 1.25 0 1 0 -2.50 0M161.98 298.19a1.25 1.25 0 1 0 2.50 0a1.25 1.25 0 1 0 -2.50 0M165.61 298.19a0.72 0.72 0 1 0 1.44 0a0.72 0.72 0 1 0 -1.44 0M140.75 364.31a0.72 0.72 0 1 0 1.44 0a0.72 0.72 0 1 0 -1.44 0M143.85 364.31a0.72 0.72 0 1 0 1.44 0a0.72 0.72 0 1 0 -1.44 0M146.96 364.31a0.72 0.72 0 1 0 1.44 0a0.72 0.72 0 1 0 -1.44 0M150.07 364.31a0.72 0.72 0 1 0 1.44 0a0.72 0.72 0 1 0 -1.44 0M153.18 364.31a0.72 0.72 0 1 0 1.44 0a0.72 0.72 0 1 0 -1.44 0M155.41 364.31a1.6 1.6 0 1 0 3.20 0a1.6 1.6 0 1 0 -3.20 0M159.40 364.31a0.72 0.72 0 1 0 1.44 0a0.72 0.72 0 1 0 -1.44 0M162.51 364.31a0.72 0.72 0 1 0 1.44 0a0.72 0.72 0 1 0 -1.44 0M165.61 364.31a0.72 0.72 0 1 0 1.44 0a0.72 0.72 0 1 0 -1.44 0" fill="#871b79"/>
<path d="M140.75 307.01a0.72 0.72 0 1 0 1.44 0a0.72 0.72 0 1 0 -1.44 0M143.85 307.01a0.72 0.72 0 1 0 1.44 0a0.72 0.72 0 1 0 -1.44 0M146.96 307.01a0.72 0.72 0 1 0 1.44 0a0.72 0.72 0 1 0 -1.44 0M149.19 307.01a1.6 1.6 0 1 0 3.20 0a1.6 1.6 0 1 0 -3.20 0M153.18 307.01a0.72 0.72 0 1 0 1.44 0a0.72 0.72 0 1 0 -1.44 0M155.41 307.01a1.6 1.6 0 1 0 3.20 0a1.6 1.6 0 1 0 -3.20 0M158.52 307.01a1.6 1.6 0 1 0 3.20 0a1.6 1.6 0 1 0 -3.20 0M162.51 307.01a0.72 0.72 0 1 0 1.44 0a0.72 0.72 0 1 0 -1.44 0M165.61 307.01a0.72 0.72 0 1 0 1.44 0a0.72 0.72 0 1 0 -1.44 0" fill="#c41435"/>
<path d="M140.75 311.41a0.72 0.72 0 1 0 1.44 0a0.72 0.72 0 1 0 -1.44 0M143.85 311.41a0.72 0.72 0 1 0 1.44 0a0.72 0.72 0 1 0 -1.44 0M146.08 311.41a1.6 1.6 0 1 0 3.20 0a1.6 1.6 0 1 0 -3.20 0M150.07 311.41a0.72 0.72 0 1 0 1.44 0a0.72 0.72 0 1 0 -1.44 0M152.30 311.41a1.6 1.6 0 1 0 3.20 0a1.6 1.6 0 1 0 -3.20 0M155.41 311.41a1.6 1.6 0 1 0 3.20 0a1.6 1.6 0 1 0 -3.20 0M159.40 311.41a0.72 0.72 0 1 0 1.44 0a0.72 0.72 0 1 0 -1.44 0M162.51 311.41a0.72 0.72 0 1 0 1.44 0a0.72 0.72 0 1 0 -1.44 0M165.61 311.41a0.72 0.72 0 1 0 1.44 0a0.72 0.72 0 1 0 -1.44 0" fill="#6e1f8b"/>
<path d="M140.75 315.82a0.72 0.72 0 1 0 1.44 0a0.72 0.72 0 1 0 -1.44 0M143.85 315.82a0.72 0.72 0 1 0 1.44 0a0.72 0.72 0 1 0 -1.44 0M146.96 315.82a0.72 0.72 0 1 0 1.44 0a0.72 0.72 0 1 0 -1.44 0M150.07 315.82a0.72 0.72 0 1 0 1.44 0a0.72 0.72 0 1 0 -1.44 0M153.18 315.82a0.72 0.72 0 1 0 1.44 0a0.72 0.72 0 1 0 -1.44 0M156.29 315.82a0.72 0.72 0 1 0 1.44 0a0.72 0.72 0 1 0 -1.44 0M159.40 315.82a0.72 0.72 0 1 0 1.44 0a0.72 0.72 0 1 0 -1.44 0M161.63 315.82a1.6 1.6 0 1 0 3.20 0a1.6 1.6 0 1 0 -3.20 0M164.73 315.82a1.6 1.6 0 1 0 3.20 0a1.6 1.6 0 1 0 -3.20 0M140.75 320.23a0.72 0.72 0 1 0 1.44 0a0.72 0.72 0 1 0 -1.44 0M143.85 320.23a0.72 0.72 0 1 0 1.44 0a0.72 0.72 0 1 0 -1.44 0M146.43 320.23a1.25 1.25 0 1 0 2.50 0a1.25 1.25 0 1 0 -2.50 0M150.07 320.23a0.72 0.72 0 1 0 1.44 0a0.72 0.72 0 1 0 -1.44 0M152.30 320.23a1.6 1.6 0 1 0 3.20 0a1.6 1.6 0 1 0 -3.20 0M156.29 320.23a0.72 0.72 0 1 0 1.44 0a0.72 0.72 0 1 0 -1.44 0M159.40 320.23a0.72 0.72 0 1 0 1.44 0a0.72 0.72 0 1 0 -1.44 0M162.51 320.23a0.72 0.72 0 1 0 1.44 0a0.72 0.72 0 1 0 -1.44 0M165.61 320.23a0.72 0.72 0 1 0 1.44 0a0.72 0.72 0 1 0 -1.44 0M140.75 333.45a0.72 0.72 0 1 0 1.44 0a0.72 0.72 0 1 0 -1.44 0M143.85 333.45a0.72 0.72 0 1 0 1.44 0a0.72 0.72 0 1 0 -1.44 0M146.08 333.45a1.6 1.6 0 1 0 3.20 0a1.6 1.6 0 1 0 -3.20 0M150.07 333.45a0.72 0.72 0 1 0 1.44 0a0.72 0.72 0 1 0 -1.44 0M153.18 333.45a0.72 0.72 0 1 0 1.44 0a0.72 0.72 0 1 0 -1.44 0M156.29 333.45a0.72 0.72 0 1 0 1.44 0a0.72 0.72 0 1 0 -1.44 0M158.52 333.45a1.6 1.6 0 1 0 3.20 0a1.6 1.6 0 1 0 -3.20 0M162.51 333.45a0.72 0.72 0 1 0 1.44 0a0.72 0.72 0 1 0 -1.44 0M165.61 333.45a0.72 0.72 0 1 0 1.44 0a0.72 0.72 0 1 0 -1.44 0" fill="#462590"/>
<path d="M140.75 324.64a0.72 0.72 0 1 0 1.44 0a0.72 0.72 0 1 0 -1.44 0M143.85 324.64a0.72 0.72 0 1 0 1.44 0a0.72 0.72 0 1 0 -1.44 0M146.96 324.64a0.72 0.72 0 1 0 1.44 0a0.72 0.72 0 1 0 -1.44 0M150.07 324.64a0.72 0.72 0 1 0 1.44 0a0.72 0.72 0 1 0 -1.44 0M153.18 324.64a0.72 0.72 0 1 0 1.44 0a0.72 0.72 0 1 0 -1.44 0M156.29 324.64a0.72 0.72 0 1 0 1.44 0a0.72 0.72 0 1 0 -1.44 0M158.52 324.64a1.6 1.6 0 1 0 3.20 0a1.6 1.6 0 1 0 -3.20 0M162.51 324.64a0.72 0.72 0 1 0 1.44 0a0.72 0.72 0 1 0 -1.44 0M164.73 324.64a1.6 1.6 0 1 0 3.20 0a1.6 1.6 0 1 0 -3.20 0" fill="#8f1970"/>
<path d="M140.75 329.05a0.72 0.72 0 1 0 1.44 0a0.72 0.72 0 1 0 -1.44 0M143.85 329.05a0.72 0.72 0 1 0 1.44 0a0.72 0.72 0 1 0 -1.44 0M146.08 329.05a1.6 1.6 0 1 0 3.20 0a1.6 1.6 0 1 0 -3.20 0M150.07 329.05a0.72 0.72 0 1 0 1.44 0a0.72 0.72 0 1 0 -1.44 0M153.18 329.05a0.72 0.72 0 1 0 1.44 0a0.72 0.72 0 1 0 -1.44 0M156.29 329.05a0.72 0.72 0 1 0 1.44 0a0.72 0.72 0 1 0 -1.44 0M158.52 329.05a1.6 1.6 0 1 0 3.20 0a1.6 1.6 0 1 0 -3.20 0M162.51 329.05a0.72 0.72 0 1 0 1.44 0a0.72 0.72 0 1 0 -1.44 0M165.61 329.05a0.72 0.72 0 1 0 1.44 0a0.72 0.72 0 1 0 -1.44 0" fill="#5d228c"/>
<path d="M140.75 337.86a0.72 0.72 0 1 0 1.44 0a0.72 0.72 0 1 0 -1.44 0M143.85 337.86a0.72 0.72 0 1 0 1.44 0a0.72 0.72 0 1 0 -1.44 0M146.96 337.86a0.72 0.72 0 1 0 1.44 0a0.72 0.72 0 1 0 -1.44 0M150.07 337.86a0.72 0.72 0 1 0 1.44 0a0.72 0.72 0 1 0 -1.44 0M153.18 337.86a0.72 0.72 0 1 0 1.44 0a0.72 0.72 0 1 0 -1.44 0M155.41 337.86a1.6 1.6 0 1 0 3.20 0a1.6 1.6 0 1 0 -3.20 0M159.40 337.86a0.72 0.72 0 1 0 1.44 0a0.72 0.72 0 1 0 -1.44 0M162.51 337.86a0.72 0.72 0 1 0 1.44 0a0.72 0.72 0 1 0 -1.44 0M164.73 337.86a1.6 1.6 0 1 0 3.20 0a1.6 1.6 0 1 0 -3.20 0" fill="#a0165f"/>
<path d="M140.75 342.27a0.72 0.72 0 1 0 1.44 0a0.72 0.72 0 1 0 -1.44 0M143.85 342.27a0.72 0.72 0 1 0 1.44 0a0.72 0.72 0 1 0 -1.44 0M146.96 342.27a0.72 0.72 0 1 0 1.44 0a0.72 0.72 0 1 0 -1.44 0M150.07 342.27a0.72 0.72 0 1 0 1.44 0a0.72 0.72 0 1 0 -1.44 0M153.18 342.27a0.72 0.72 0 1 0 1.44 0a0.72 0.72 0 1 0 -1.44 0M156.29 342.27a0.72 0.72 0 1 0 1.44 0a0.72 0.72 0 1 0 -1.44 0M159.40 342.27a0.72 0.72 0 1 0 1.44 0a0.72 0.72 0 1 0 -1.44 0M162.51 342.27a0.72 0.72 0 1 0 1.44 0a0.72 0.72 0 1 0 -1.44 0M165.08 342.27a1.25 1.25 0 1 0 2.50 0a1.25 1.25 0 1 0 -2.50 0" fill="#3a2693"/>
<path d="M140.75 355.49a0.72 0.72 0 1 0 1.44 0a0.72 0.72 0 1 0 -1.44 0M143.85 355.49a0.72 0.72 0 1 0 1.44 0a0.72 0.72 0 1 0 -1.44 0M146.96 355.49a0.72 0.72 0 1 0 1.44 0a0.72 0.72 0 1 0 -1.44 0M150.07 355.49a0.72 0.72 0 1 0 1.44 0a0.72 0.72 0 1 0 -1.44 0M153.18 355.49a0.72 0.72 0 1 0 1.44 0a0.72 0.72 0 1 0 -1.44 0M156.29 355.49a0.72 0.72 0 1 0 1.44 0a0.72 0.72 0 1 0 -1.44 0M158.52 355.49a1.6 1.6 0 1 0 3.20 0a1.6 1.6 0 1 0 -3.20 0M162.51 355.49a0.72 0.72 0 1 0 1.44 0a0.72 0.72 0 1 0 -1.44 0M165.61 355.49a0.72 0.72 0 1 0 1.44 0a0.72 0.72 0 1 0 -1.44 0" fill="#7e1c81"/>
<path d="M140.75 359.90a0.72 0.72 0 1 0 1.44 0a0.72 0.72 0 1 0 -1.44 0M143.85 359.90a0.72 0.72 0 1 0 1.44 0a0.72 0.72 0 1 0 -1.44 0M146.96 359.90a0.72 0.72 0 1 0 1.44 0a0.72 0.72 0 1 0 -1.44 0M150.07 359.90a0.72 0.72 0 1 0 1.44 0a0.72 0.72 0 1 0 -1.44 0M153.18 359.90a0.72 0.72 0 1 0 1.44 0a0.72 0.72 0 1 0 -1.44 0M156.29 359.90a0.72 0.72 0 1 0 1.44 0a0.72 0.72 0 1 0 -1.44 0M159.40 359.90a0.72 0.72 0 1 0 1.44 0a0.72 0.72 0 1 0 -1.44 0M162.51 359.90a0.72 0.72 0 1 0 1.44 0a0.72 0.72 0 1 0 -1.44 0M165.08 359.90a1.25 1.25 0 1 0 2.50 0a1.25 1.25 0 1 0 -2.50 0" fill="#981868"/>
<path d="M140.75 368.72a0.72 0.72 0 1 0 1.44 0a0.72 0.72 0 1 0 -1.44 0M143.85 368.72a0.72 0.72 0 1 0 1.44 0a0.72 0.72 0 1 0 -1.44 0M146.96 368.72a0.72 0.72 0 1 0 1.44 0a0.72 0.72 0 1 0 -1.44 0M150.07 368.72a0.72 0.72 0 1 0 1.44 0a0.72 0.72 0 1 0 -1.44 0M153.18 368.72a0.72 0.72 0 1 0 1.44 0a0.72 0.72 0 1 0 -1.44 0M156.29 368.72a0.72 0.72 0 1 0 1.44 0a0.72 0.72 0 1 0 -1.44 0M159.40 368.72a0.72 0.72 0 1 0 1.44 0a0.72 0.72 0 1 0 -1.44 0M161.63 368.72a1.6 1.6 0 1 0 3.20 0a1.6 1.6 0 1 0 -3.20 0M165.61 368.72a0.72 0.72 0 1 0 1.44 0a0.72 0.72 0 1 0 -1.44 0" fill="#4c248e"/>
<path d="M140.75 386.35a0.72 0.72 0 1 0 1.44 0a0.72 0.72 0 1 0 -1.44 0M143.85 386.35a0.72 0.72 0 1 0 1.44 0a0.72 0.72 0 1 0 -1.44 0M146.96 386.35a0.72 0.72 0 1 0 1.44 0a0.72 0.72 0 1 0 -1.44 0M150.07 386.35a0.72 0.72 0 1 0 1.44 0a0.72 0.72 0 1 0 -1.44 0M152.65 386.35a1.25 1.25 0 1 0 2.50 0a1.25 1.25 0 1 0 -2.50 0M156.29 386.35a0.72 0.72 0 1 0 1.44 0a0.72 0.72 0 1 0 -1.44 0M159.40 386.35a0.72 0.72 0 1 0 1.44 0a0.72 0.72 0 1 0 -1.44 0M162.51 386.35a0.72 0.72 0 1 0 1.44 0a0.72 0.72 0 1 0 -1.44 0M165.61 386.35a0.72 0.72 0 1 0 1.44 0a0.72 0.72 0 1 0 -1.44 0" fill="#54238d"/>
<rect x="139.6" y="269.1" width="28.6" height="124.3" fill="none" stroke="#1a1a1a" stroke-width="1"/>
<line x1="141.47" y1="393.4" x2="141.47" y2="394.4" stroke="#222" stroke-width="0.4"/>
<line x1="144.57" y1="393.4" x2="144.57" y2="394.4" stroke="#222" stroke-width="0.4"/>
<line x1="147.68" y1="393.4" x2="147.68" y2="394.4" stroke="#222" stroke-width="0.4"/>
<line x1="150.79" y1="393.4" x2="150.79" y2="394.4" stroke="#222" stroke-width="0.4"/>
<line x1="153.9" y1="393.4" x2="153.9" y2="394.4" stroke="#222" stroke-width="0.4"/>
<line x1="157.01" y1="393.4" x2="157.01" y2="394.4" stroke="#222" stroke-width="0.4"/>
<line x1="160.12" y1="393.4" x2="160.12" y2="394.4" stroke="#222" stroke-width="0.4"/>
<line x1="163.23" y1="393.4" x2="163.23" y2="394.4" stroke="#222" stroke-width="0.4"/>
<line x1="166.33" y1="393.4" x2="166.33" y2="394.4" stroke="#222" stroke-width="0.4"/>
<text x="153.9" y="400.1" font-size="4.3" text-anchor="middle" fill="#4f70b0" textLength="26.4" lengthAdjust="spacingAndGlyphs">123456789</text>
<line x1="112.3" y1="393.8" x2="112.3" y2="396.6" stroke="#333" stroke-width="0.55"/>
<path d="M112.30 393.2l-0.9 1.4h1.8z" fill="#333"/>
<text x="112.3" y="401.3" font-size="4" text-anchor="middle" fill="#333" stroke="#333" stroke-width="0.13">T</text>
<line x1="130" y1="393.8" x2="130" y2="396.6" stroke="#333" stroke-width="0.55"/>
<path d="M130.00 393.2l-0.9 1.4h1.8z" fill="#333"/>
<text x="130" y="401.3" font-size="4" text-anchor="middle" fill="#333" stroke="#333" stroke-width="0.13">HSPC</text>
<text x="239.7" y="267.3" font-size="4" text-anchor="middle" fill="#333" stroke="#333" stroke-width="0.13">Effector</text>
<line x1="224.1" y1="272.62" x2="225.4" y2="272.62" stroke="#222" stroke-width="0.5"/>
<text x="222.9" y="274.12" font-size="4.4" text-anchor="end" fill="#333" textLength="29.99" lengthAdjust="spacingAndGlyphs" stroke="#333" stroke-width="0.04">HLA−C_FAM3C</text>
<line x1="224.1" y1="278.48" x2="225.4" y2="278.48" stroke="#222" stroke-width="0.5"/>
<text x="222.9" y="279.98" font-size="4.4" text-anchor="end" fill="#333" textLength="23.58" lengthAdjust="spacingAndGlyphs" stroke="#333" stroke-width="0.04">PLD2_ARF1</text>
<line x1="224.1" y1="284.34" x2="225.4" y2="284.34" stroke="#222" stroke-width="0.5"/>
<text x="222.9" y="285.84" font-size="4.4" text-anchor="end" fill="#333" textLength="34.94" lengthAdjust="spacingAndGlyphs" stroke="#333" stroke-width="0.04">HAVCR2_LGALS9</text>
<line x1="224.1" y1="290.21" x2="225.4" y2="290.21" stroke="#222" stroke-width="0.5"/>
<text x="222.9" y="291.71" font-size="4.4" text-anchor="end" fill="#333" textLength="28.47" lengthAdjust="spacingAndGlyphs" stroke="#333" stroke-width="0.04">ICOS_ICOSLG</text>
<line x1="224.1" y1="296.07" x2="225.4" y2="296.07" stroke="#222" stroke-width="0.5"/>
<text x="222.9" y="297.57" font-size="4.4" text-anchor="end" fill="#333" textLength="27.54" lengthAdjust="spacingAndGlyphs" stroke="#333" stroke-width="0.04">HBEGF_CD44</text>
<line x1="224.1" y1="301.93" x2="225.4" y2="301.93" stroke="#222" stroke-width="0.5"/>
<text x="222.9" y="303.43" font-size="4.4" text-anchor="end" fill="#333" textLength="32.22" lengthAdjust="spacingAndGlyphs" stroke="#333" stroke-width="0.04">CLEC2D_KLRB1</text>
<line x1="224.1" y1="307.8" x2="225.4" y2="307.8" stroke="#222" stroke-width="0.5"/>
<text x="222.9" y="309.3" font-size="4.4" text-anchor="end" fill="#333" textLength="26.14" lengthAdjust="spacingAndGlyphs" stroke="#333" stroke-width="0.04">SIRPG_CD47</text>
<line x1="224.1" y1="313.66" x2="225.4" y2="313.66" stroke="#222" stroke-width="0.5"/>
<text x="222.9" y="315.16" font-size="4.4" text-anchor="end" fill="#333" textLength="32.45" lengthAdjust="spacingAndGlyphs" stroke="#333" stroke-width="0.04">CXCR4_CXCL12</text>
<line x1="224.1" y1="319.52" x2="225.4" y2="319.52" stroke="#222" stroke-width="0.5"/>
<text x="222.9" y="321.02" font-size="4.4" text-anchor="end" fill="#333" textLength="32.45" lengthAdjust="spacingAndGlyphs" stroke="#333" stroke-width="0.04">CXCR3_CXCL12</text>
<line x1="224.1" y1="325.39" x2="225.4" y2="325.39" stroke="#222" stroke-width="0.5"/>
<text x="222.9" y="326.89" font-size="4.4" text-anchor="end" fill="#333" textLength="33.37" lengthAdjust="spacingAndGlyphs" stroke="#333" stroke-width="0.04">TNFRSF1A_GRN</text>
<line x1="224.1" y1="331.25" x2="225.4" y2="331.25" stroke="#222" stroke-width="0.5"/>
<text x="222.9" y="332.75" font-size="4.4" text-anchor="end" fill="#333" textLength="38.44" lengthAdjust="spacingAndGlyphs" stroke="#333" stroke-width="0.04">F11R_aLb2 complex</text>
<line x1="224.1" y1="337.11" x2="225.4" y2="337.11" stroke="#222" stroke-width="0.5"/>
<text x="222.9" y="338.61" font-size="4.4" text-anchor="end" fill="#333" textLength="21.94" lengthAdjust="spacingAndGlyphs" stroke="#333" stroke-width="0.04">CD44_HGF</text>
<line x1="224.1" y1="342.98" x2="225.4" y2="342.98" stroke="#222" stroke-width="0.5"/>
<text x="222.9" y="344.48" font-size="4.4" text-anchor="end" fill="#333" textLength="24.51" lengthAdjust="spacingAndGlyphs" stroke="#333" stroke-width="0.04">CCL5_CCR5</text>
<line x1="224.1" y1="348.84" x2="225.4" y2="348.84" stroke="#222" stroke-width="0.5"/>
<text x="222.9" y="350.34" font-size="4.4" text-anchor="end" fill="#333" textLength="26.84" lengthAdjust="spacingAndGlyphs" stroke="#333" stroke-width="0.04">ANXA1_FPR1</text>
<line x1="224.1" y1="354.7" x2="225.4" y2="354.7" stroke="#222" stroke-width="0.5"/>
<text x="222.9" y="356.2" font-size="4.4" text-anchor="end" fill="#333" textLength="35.48" lengthAdjust="spacingAndGlyphs" stroke="#333" stroke-width="0.04">LCK_CD8 receptor</text>
<line x1="224.1" y1="360.57" x2="225.4" y2="360.57" stroke="#222" stroke-width="0.5"/>
<text x="222.9" y="362.07" font-size="4.4" text-anchor="end" fill="#333" textLength="32.02" lengthAdjust="spacingAndGlyphs" stroke="#333" stroke-width="0.04">HLA−DPA1_GAL</text>
<line x1="224.1" y1="366.43" x2="225.4" y2="366.43" stroke="#222" stroke-width="0.5"/>
<text x="222.9" y="367.93" font-size="4.4" text-anchor="end" fill="#333" textLength="32.45" lengthAdjust="spacingAndGlyphs" stroke="#333" stroke-width="0.04">CXCR3_CXCL10</text>
<line x1="224.1" y1="372.29" x2="225.4" y2="372.29" stroke="#222" stroke-width="0.5"/>
<text x="222.9" y="373.79" font-size="4.4" text-anchor="end" fill="#333" textLength="29.65" lengthAdjust="spacingAndGlyphs" stroke="#333" stroke-width="0.04">CXCR3_CCL20</text>
<line x1="224.1" y1="378.16" x2="225.4" y2="378.16" stroke="#222" stroke-width="0.5"/>
<text x="222.9" y="379.66" font-size="4.4" text-anchor="end" fill="#333" textLength="27.54" lengthAdjust="spacingAndGlyphs" stroke="#333" stroke-width="0.04">CD44_HBEGF</text>
<line x1="224.1" y1="384.02" x2="225.4" y2="384.02" stroke="#222" stroke-width="0.5"/>
<text x="222.9" y="385.52" font-size="4.4" text-anchor="end" fill="#333" textLength="27.08" lengthAdjust="spacingAndGlyphs" stroke="#333" stroke-width="0.04">CCL5_ACKR1</text>
<line x1="224.1" y1="389.88" x2="225.4" y2="389.88" stroke="#222" stroke-width="0.5"/>
<text x="222.9" y="391.38" font-size="4.4" text-anchor="end" fill="#333" textLength="42.72" lengthAdjust="spacingAndGlyphs" stroke="#333" stroke-width="0.04">aXb2 complex_FCER2</text>
<path d="M226.02 272.62a1.25 1.25 0 1 0 2.50 0a1.25 1.25 0 1 0 -2.50 0M229.12 272.62a1.25 1.25 0 1 0 2.50 0a1.25 1.25 0 1 0 -2.50 0M232.23 272.62a1.25 1.25 0 1 0 2.50 0a1.25 1.25 0 1 0 -2.50 0M235.34 272.62a1.25 1.25 0 1 0 2.50 0a1.25 1.25 0 1 0 -2.50 0M238.45 272.62a1.25 1.25 0 1 0 2.50 0a1.25 1.25 0 1 0 -2.50 0M241.56 272.62a1.25 1.25 0 1 0 2.50 0a1.25 1.25 0 1 0 -2.50 0M244.67 272.62a1.25 1.25 0 1 0 2.50 0a1.25 1.25 0 1 0 -2.50 0M247.78 272.62a1.25 1.25 0 1 0 2.50 0a1.25 1.25 0 1 0 -2.50 0M250.88 272.62a1.25 1.25 0 1 0 2.50 0a1.25 1.25 0 1 0 -2.50 0M226.55 372.29a0.72 0.72 0 1 0 1.44 0a0.72 0.72 0 1 0 -1.44 0M229.65 372.29a0.72 0.72 0 1 0 1.44 0a0.72 0.72 0 1 0 -1.44 0M232.76 372.29a0.72 0.72 0 1 0 1.44 0a0.72 0.72 0 1 0 -1.44 0M235.87 372.29a0.72 0.72 0 1 0 1.44 0a0.72 0.72 0 1 0 -1.44 0M238.98 372.29a0.72 0.72 0 1 0 1.44 0a0.72 0.72 0 1 0 -1.44 0M241.21 372.29a1.6 1.6 0 1 0 3.20 0a1.6 1.6 0 1 0 -3.20 0M245.20 372.29a0.72 0.72 0 1 0 1.44 0a0.72 0.72 0 1 0 -1.44 0M248.31 372.29a0.72 0.72 0 1 0 1.44 0a0.72 0.72 0 1 0 -1.44 0M251.41 372.29a0.72 0.72 0 1 0 1.44 0a0.72 0.72 0 1 0 -1.44 0" fill="#462590"/>
<path d="M225.67 278.48a1.6 1.6 0 1 0 3.20 0a1.6 1.6 0 1 0 -3.20 0M228.77 278.48a1.6 1.6 0 1 0 3.20 0a1.6 1.6 0 1 0 -3.20 0M231.88 278.48a1.6 1.6 0 1 0 3.20 0a1.6 1.6 0 1 0 -3.20 0M235.87 278.48a0.72 0.72 0 1 0 1.44 0a0.72 0.72 0 1 0 -1.44 0M238.10 278.48a1.6 1.6 0 1 0 3.20 0a1.6 1.6 0 1 0 -3.20 0M242.09 278.48a0.72 0.72 0 1 0 1.44 0a0.72 0.72 0 1 0 -1.44 0M244.32 278.48a1.6 1.6 0 1 0 3.20 0a1.6 1.6 0 1 0 -3.20 0M247.43 278.48a1.6 1.6 0 1 0 3.20 0a1.6 1.6 0 1 0 -3.20 0M250.53 278.48a1.6 1.6 0 1 0 3.20 0a1.6 1.6 0 1 0 -3.20 0M226.02 296.07a1.25 1.25 0 1 0 2.50 0a1.25 1.25 0 1 0 -2.50 0M229.65 296.07a0.72 0.72 0 1 0 1.44 0a0.72 0.72 0 1 0 -1.44 0M232.76 296.07a0.72 0.72 0 1 0 1.44 0a0.72 0.72 0 1 0 -1.44 0M235.87 296.07a0.72 0.72 0 1 0 1.44 0a0.72 0.72 0 1 0 -1.44 0M238.98 296.07a0.72 0.72 0 1 0 1.44 0a0.72 0.72 0 1 0 -1.44 0M242.09 296.07a0.72 0.72 0 1 0 1.44 0a0.72 0.72 0 1 0 -1.44 0M244.32 296.07a1.6 1.6 0 1 0 3.20 0a1.6 1.6 0 1 0 -3.20 0M247.43 296.07a1.6 1.6 0 1 0 3.20 0a1.6 1.6 0 1 0 -3.20 0M250.53 296.07a1.6 1.6 0 1 0 3.20 0a1.6 1.6 0 1 0 -3.20 0M226.55 337.11a0.72 0.72 0 1 0 1.44 0a0.72 0.72 0 1 0 -1.44 0M229.65 337.11a0.72 0.72 0 1 0 1.44 0a0.72 0.72 0 1 0 -1.44 0M232.76 337.11a0.72 0.72 0 1 0 1.44 0a0.72 0.72 0 1 0 -1.44 0M235.87 337.11a0.72 0.72 0 1 0 1.44 0a0.72 0.72 0 1 0 -1.44 0M238.45 337.11a1.25 1.25 0 1 0 2.50 0a1.25 1.25 0 1 0 -2.50 0M242.09 337.11a0.72 0.72 0 1 0 1.44 0a0.72 0.72 0 1 0 -1.44 0M244.32 337.11a1.6 1.6 0 1 0 3.20 0a1.6 1.6 0 1 0 -3.20 0M248.31 337.11a0.72 0.72 0 1 0 1.44 0a0.72 0.72 0 1 0 -1.44 0M251.41 337.11a0.72 0.72 0 1 0 1.44 0a0.72 0.72 0 1 0 -1.44 0M226.55 378.16a0.72 0.72 0 1 0 1.44 0a0.72 0.72 0 1 0 -1.44 0M229.65 378.16a0.72 0.72 0 1 0 1.44 0a0.72 0.72 0 1 0 -1.44 0M232.76 378.16a0.72 0.72 0 1 0 1.44 0a0.72 0.72 0 1 0 -1.44 0M235.87 378.16a0.72 0.72 0 1 0 1.44 0a0.72 0.72 0 1 0 -1.44 0M238.98 378.16a0.72 0.72 0 1 0 1.44 0a0.72 0.72 0 1 0 -1.44 0M242.09 378.16a0.72 0.72 0 1 0 1.44 0a0.72 0.72 0 1 0 -1.44 0M244.67 378.16a1.25 1.25 0 1 0 2.50 0a1.25 1.25 0 1 0 -2.50 0M248.31 378.16a0.72 0.72 0 1 0 1.44 0a0.72 0.72 0 1 0 -1.44 0M251.41 378.16a0.72 0.72 0 1 0 1.44 0a0.72 0.72 0 1 0 -1.44 0" fill="#8f1970"/>
<path d="M225.67 284.34a1.6 1.6 0 1 0 3.20 0a1.6 1.6 0 1 0 -3.20 0M228.77 284.34a1.6 1.6 0 1 0 3.20 0a1.6 1.6 0 1 0 -3.20 0M231.88 284.34a1.6 1.6 0 1 0 3.20 0a1.6 1.6 0 1 0 -3.20 0M234.99 284.34a1.6 1.6 0 1 0 3.20 0a1.6 1.6 0 1 0 -3.20 0M238.10 284.34a1.6 1.6 0 1 0 3.20 0a1.6 1.6 0 1 0 -3.20 0M242.09 284.34a0.72 0.72 0 1 0 1.44 0a0.72 0.72 0 1 0 -1.44 0M244.32 284.34a1.6 1.6 0 1 0 3.20 0a1.6 1.6 0 1 0 -3.20 0M247.43 284.34a1.6 1.6 0 1 0 3.20 0a1.6 1.6 0 1 0 -3.20 0M250.53 284.34a1.6 1.6 0 1 0 3.20 0a1.6 1.6 0 1 0 -3.20 0M225.67 301.93a1.6 1.6 0 1 0 3.20 0a1.6 1.6 0 1 0 -3.20 0M228.77 301.93a1.6 1.6 0 1 0 3.20 0a1.6 1.6 0 1 0 -3.20 0M232.76 301.93a0.72 0.72 0 1 0 1.44 0a0.72 0.72 0 1 0 -1.44 0M235.87 301.93a0.72 0.72 0 1 0 1.44 0a0.72 0.72 0 1 0 -1.44 0M238.98 301.93a0.72 0.72 0 1 0 1.44 0a0.72 0.72 0 1 0 -1.44 0M241.21 301.93a1.6 1.6 0 1 0 3.20 0a1.6 1.6 0 1 0 -3.20 0M245.20 301.93a0.72 0.72 0 1 0 1.44 0a0.72 0.72 0 1 0 -1.44 0M248.31 301.93a0.72 0.72 0 1 0 1.44 0a0.72 0.72 0 1 0 -1.44 0M250.88 301.93a1.25 1.25 0 1 0 2.50 0a1.25 1.25 0 1 0 -2.50 0M225.67 307.80a1.6 1.6 0 1 0 3.20 0a1.6 1.6 0 1 0 -3.20 0M228.77 307.80a1.6 1.6 0 1 0 3.20 0a1.6 1.6 0 1 0 -3.20 0M232.76 307.80a0.72 0.72 0 1 0 1.44 0a0.72 0.72 0 1 0 -1.44 0M235.87 307.80a0.72 0.72 0 1 0 1.44 0a0.72 0.72 0 1 0 -1.44 0M238.98 307.80a0.72 0.72 0 1 0 1.44 0a0.72 0.72 0 1 0 -1.44 0M242.09 307.80a0.72 0.72 0 1 0 1.44 0a0.72 0.72 0 1 0 -1.44 0M245.20 307.80a0.72 0.72 0 1 0 1.44 0a0.72 0.72 0 1 0 -1.44 0M247.43 307.80a1.6 1.6 0 1 0 3.20 0a1.6 1.6 0 1 0 -3.20 0M251.41 307.80a0.72 0.72 0 1 0 1.44 0a0.72 0.72 0 1 0 -1.44 0M226.55 325.39a0.72 0.72 0 1 0 1.44 0a0.72 0.72 0 1 0 -1.44 0M229.65 325.39a0.72 0.72 0 1 0 1.44 0a0.72 0.72 0 1 0 -1.44 0M232.76 325.39a0.72 0.72 0 1 0 1.44 0a0.72 0.72 0 1 0 -1.44 0M235.87 325.39a0.72 0.72 0 1 0 1.44 0a0.72 0.72 0 1 0 -1.44 0M238.98 325.39a0.72 0.72 0 1 0 1.44 0a0.72 0.72 0 1 0 -1.44 0M242.09 325.39a0.72 0.72 0 1 0 1.44 0a0.72 0.72 0 1 0 -1.44 0M245.20 325.39a0.72 0.72 0 1 0 1.44 0a0.72 0.72 0 1 0 -1.44 0M247.43 325.39a1.6 1.6 0 1 0 3.20 0a1.6 1.6 0 1 0 -3.20 0M250.53 325.39a1.6 1.6 0 1 0 3.20 0a1.6 1.6 0 1 0 -3.20 0" fill="#65208c"/>
<path d="M226.55 290.21a0.72 0.72 0 1 0 1.44 0a0.72 0.72 0 1 0 -1.44 0M228.77 290.21a1.6 1.6 0 1 0 3.20 0a1.6 1.6 0 1 0 -3.20 0M232.76 290.21a0.72 0.72 0 1 0 1.44 0a0.72 0.72 0 1 0 -1.44 0M235.87 290.21a0.72 0.72 0 1 0 1.44 0a0.72 0.72 0 1 0 -1.44 0M238.10 290.21a1.6 1.6 0 1 0 3.20 0a1.6 1.6 0 1 0 -3.20 0M242.09 290.21a0.72 0.72 0 1 0 1.44 0a0.72 0.72 0 1 0 -1.44 0M244.32 290.21a1.6 1.6 0 1 0 3.20 0a1.6 1.6 0 1 0 -3.20 0M247.43 290.21a1.6 1.6 0 1 0 3.20 0a1.6 1.6 0 1 0 -3.20 0M250.53 290.21a1.6 1.6 0 1 0 3.20 0a1.6 1.6 0 1 0 -3.20 0M226.55 360.57a0.72 0.72 0 1 0 1.44 0a0.72 0.72 0 1 0 -1.44 0M229.65 360.57a0.72 0.72 0 1 0 1.44 0a0.72 0.72 0 1 0 -1.44 0M231.88 360.57a1.6 1.6 0 1 0 3.20 0a1.6 1.6 0 1 0 -3.20 0M235.87 360.57a0.72 0.72 0 1 0 1.44 0a0.72 0.72 0 1 0 -1.44 0M238.98 360.57a0.72 0.72 0 1 0 1.44 0a0.72 0.72 0 1 0 -1.44 0M242.09 360.57a0.72 0.72 0 1 0 1.44 0a0.72 0.72 0 1 0 -1.44 0M245.20 360.57a0.72 0.72 0 1 0 1.44 0a0.72 0.72 0 1 0 -1.44 0M248.31 360.57a0.72 0.72 0 1 0 1.44 0a0.72 0.72 0 1 0 -1.44 0M251.41 360.57a0.72 0.72 0 1 0 1.44 0a0.72 0.72 0 1 0 -1.44 0" fill="#402691"/>
<path d="M226.55 313.66a0.72 0.72 0 1 0 1.44 0a0.72 0.72 0 1 0 -1.44 0M229.65 313.66a0.72 0.72 0 1 0 1.44 0a0.72 0.72 0 1 0 -1.44 0M232.76 313.66a0.72 0.72 0 1 0 1.44 0a0.72 0.72 0 1 0 -1.44 0M234.99 313.66a1.6 1.6 0 1 0 3.20 0a1.6 1.6 0 1 0 -3.20 0M238.98 313.66a0.72 0.72 0 1 0 1.44 0a0.72 0.72 0 1 0 -1.44 0M241.21 313.66a1.6 1.6 0 1 0 3.20 0a1.6 1.6 0 1 0 -3.20 0M244.32 313.66a1.6 1.6 0 1 0 3.20 0a1.6 1.6 0 1 0 -3.20 0M248.31 313.66a0.72 0.72 0 1 0 1.44 0a0.72 0.72 0 1 0 -1.44 0M251.41 313.66a0.72 0.72 0 1 0 1.44 0a0.72 0.72 0 1 0 -1.44 0" fill="#c8142f"/>
<path d="M226.55 319.52a0.72 0.72 0 1 0 1.44 0a0.72 0.72 0 1 0 -1.44 0M229.65 319.52a0.72 0.72 0 1 0 1.44 0a0.72 0.72 0 1 0 -1.44 0M232.76 319.52a0.72 0.72 0 1 0 1.44 0a0.72 0.72 0 1 0 -1.44 0M234.99 319.52a1.6 1.6 0 1 0 3.20 0a1.6 1.6 0 1 0 -3.20 0M238.98 319.52a0.72 0.72 0 1 0 1.44 0a0.72 0.72 0 1 0 -1.44 0M241.21 319.52a1.6 1.6 0 1 0 3.20 0a1.6 1.6 0 1 0 -3.20 0M244.32 319.52a1.6 1.6 0 1 0 3.20 0a1.6 1.6 0 1 0 -3.20 0M248.31 319.52a0.72 0.72 0 1 0 1.44 0a0.72 0.72 0 1 0 -1.44 0M251.41 319.52a0.72 0.72 0 1 0 1.44 0a0.72 0.72 0 1 0 -1.44 0" fill="#432590"/>
<path d="M226.55 331.25a0.72 0.72 0 1 0 1.44 0a0.72 0.72 0 1 0 -1.44 0M229.65 331.25a0.72 0.72 0 1 0 1.44 0a0.72 0.72 0 1 0 -1.44 0M232.76 331.25a0.72 0.72 0 1 0 1.44 0a0.72 0.72 0 1 0 -1.44 0M235.87 331.25a0.72 0.72 0 1 0 1.44 0a0.72 0.72 0 1 0 -1.44 0M238.98 331.25a0.72 0.72 0 1 0 1.44 0a0.72 0.72 0 1 0 -1.44 0M242.09 331.25a0.72 0.72 0 1 0 1.44 0a0.72 0.72 0 1 0 -1.44 0M245.20 331.25a0.72 0.72 0 1 0 1.44 0a0.72 0.72 0 1 0 -1.44 0M247.43 331.25a1.6 1.6 0 1 0 3.20 0a1.6 1.6 0 1 0 -3.20 0M250.53 331.25a1.6 1.6 0 1 0 3.20 0a1.6 1.6 0 1 0 -3.20 0M225.67 366.43a1.6 1.6 0 1 0 3.20 0a1.6 1.6 0 1 0 -3.20 0M229.65 366.43a0.72 0.72 0 1 0 1.44 0a0.72 0.72 0 1 0 -1.44 0M232.76 366.43a0.72 0.72 0 1 0 1.44 0a0.72 0.72 0 1 0 -1.44 0M235.87 366.43a0.72 0.72 0 1 0 1.44 0a0.72 0.72 0 1 0 -1.44 0M238.98 366.43a0.72 0.72 0 1 0 1.44 0a0.72 0.72 0 1 0 -1.44 0M242.09 366.43a0.72 0.72 0 1 0 1.44 0a0.72 0.72 0 1 0 -1.44 0M245.20 366.43a0.72 0.72 0 1 0 1.44 0a0.72 0.72 0 1 0 -1.44 0M248.31 366.43a0.72 0.72 0 1 0 1.44 0a0.72 0.72 0 1 0 -1.44 0M251.41 366.43a0.72 0.72 0 1 0 1.44 0a0.72 0.72 0 1 0 -1.44 0" fill="#54238d"/>
<path d="M226.55 342.98a0.72 0.72 0 1 0 1.44 0a0.72 0.72 0 1 0 -1.44 0M229.65 342.98a0.72 0.72 0 1 0 1.44 0a0.72 0.72 0 1 0 -1.44 0M232.76 342.98a0.72 0.72 0 1 0 1.44 0a0.72 0.72 0 1 0 -1.44 0M235.87 342.98a0.72 0.72 0 1 0 1.44 0a0.72 0.72 0 1 0 -1.44 0M238.98 342.98a0.72 0.72 0 1 0 1.44 0a0.72 0.72 0 1 0 -1.44 0M242.09 342.98a0.72 0.72 0 1 0 1.44 0a0.72 0.72 0 1 0 -1.44 0M245.20 342.98a0.72 0.72 0 1 0 1.44 0a0.72 0.72 0 1 0 -1.44 0M247.43 342.98a1.6 1.6 0 1 0 3.20 0a1.6 1.6 0 1 0 -3.20 0M250.53 342.98a1.6 1.6 0 1 0 3.20 0a1.6 1.6 0 1 0 -3.20 0M226.55 384.02a0.72 0.72 0 1 0 1.44 0a0.72 0.72 0 1 0 -1.44 0M229.65 384.02a0.72 0.72 0 1 0 1.44 0a0.72 0.72 0 1 0 -1.44 0M231.88 384.02a1.6 1.6 0 1 0 3.20 0a1.6 1.6 0 1 0 -3.20 0M235.87 384.02a0.72 0.72 0 1 0 1.44 0a0.72 0.72 0 1 0 -1.44 0M238.98 384.02a0.72 0.72 0 1 0 1.44 0a0.72 0.72 0 1 0 -1.44 0M242.09 384.02a0.72 0.72 0 1 0 1.44 0a0.72 0.72 0 1 0 -1.44 0M245.20 384.02a0.72 0.72 0 1 0 1.44 0a0.72 0.72 0 1 0 -1.44 0M248.31 384.02a0.72 0.72 0 1 0 1.44 0a0.72 0.72 0 1 0 -1.44 0M251.41 384.02a0.72 0.72 0 1 0 1.44 0a0.72 0.72 0 1 0 -1.44 0M226.55 389.88a0.72 0.72 0 1 0 1.44 0a0.72 0.72 0 1 0 -1.44 0M229.65 389.88a0.72 0.72 0 1 0 1.44 0a0.72 0.72 0 1 0 -1.44 0M232.76 389.88a0.72 0.72 0 1 0 1.44 0a0.72 0.72 0 1 0 -1.44 0M235.87 389.88a0.72 0.72 0 1 0 1.44 0a0.72 0.72 0 1 0 -1.44 0M238.98 389.88a0.72 0.72 0 1 0 1.44 0a0.72 0.72 0 1 0 -1.44 0M242.09 389.88a0.72 0.72 0 1 0 1.44 0a0.72 0.72 0 1 0 -1.44 0M245.20 389.88a0.72 0.72 0 1 0 1.44 0a0.72 0.72 0 1 0 -1.44 0M248.31 389.88a0.72 0.72 0 1 0 1.44 0a0.72 0.72 0 1 0 -1.44 0M250.88 389.88a1.25 1.25 0 1 0 2.50 0a1.25 1.25 0 1 0 -2.50 0" fill="#3a2693"/>
<path d="M226.55 348.84a0.72 0.72 0 1 0 1.44 0a0.72 0.72 0 1 0 -1.44 0M229.65 348.84a0.72 0.72 0 1 0 1.44 0a0.72 0.72 0 1 0 -1.44 0M232.76 348.84a0.72 0.72 0 1 0 1.44 0a0.72 0.72 0 1 0 -1.44 0M235.87 348.84a0.72 0.72 0 1 0 1.44 0a0.72 0.72 0 1 0 -1.44 0M238.98 348.84a0.72 0.72 0 1 0 1.44 0a0.72 0.72 0 1 0 -1.44 0M241.21 348.84a1.6 1.6 0 1 0 3.20 0a1.6 1.6 0 1 0 -3.20 0M245.20 348.84a0.72 0.72 0 1 0 1.44 0a0.72 0.72 0 1 0 -1.44 0M248.31 348.84a0.72 0.72 0 1 0 1.44 0a0.72 0.72 0 1 0 -1.44 0M250.88 348.84a1.25 1.25 0 1 0 2.50 0a1.25 1.25 0 1 0 -2.50 0" fill="#981868"/>
<path d="M226.55 354.70a0.72 0.72 0 1 0 1.44 0a0.72 0.72 0 1 0 -1.44 0M229.65 354.70a0.72 0.72 0 1 0 1.44 0a0.72 0.72 0 1 0 -1.44 0M232.76 354.70a0.72 0.72 0 1 0 1.44 0a0.72 0.72 0 1 0 -1.44 0M235.87 354.70a0.72 0.72 0 1 0 1.44 0a0.72 0.72 0 1 0 -1.44 0M238.98 354.70a0.72 0.72 0 1 0 1.44 0a0.72 0.72 0 1 0 -1.44 0M241.21 354.70a1.6 1.6 0 1 0 3.20 0a1.6 1.6 0 1 0 -3.20 0M245.20 354.70a0.72 0.72 0 1 0 1.44 0a0.72 0.72 0 1 0 -1.44 0M248.31 354.70a0.72 0.72 0 1 0 1.44 0a0.72 0.72 0 1 0 -1.44 0M251.41 354.70a0.72 0.72 0 1 0 1.44 0a0.72 0.72 0 1 0 -1.44 0" fill="#871b79"/>
<rect x="225.4" y="269.1" width="28.6" height="124.3" fill="none" stroke="#1a1a1a" stroke-width="1"/>
<line x1="227.27" y1="393.4" x2="227.27" y2="394.4" stroke="#222" stroke-width="0.4"/>
<line x1="230.37" y1="393.4" x2="230.37" y2="394.4" stroke="#222" stroke-width="0.4"/>
<line x1="233.48" y1="393.4" x2="233.48" y2="394.4" stroke="#222" stroke-width="0.4"/>
<line x1="236.59" y1="393.4" x2="236.59" y2="394.4" stroke="#222" stroke-width="0.4"/>
<line x1="239.7" y1="393.4" x2="239.7" y2="394.4" stroke="#222" stroke-width="0.4"/>
<line x1="242.81" y1="393.4" x2="242.81" y2="394.4" stroke="#222" stroke-width="0.4"/>
<line x1="245.92" y1="393.4" x2="245.92" y2="394.4" stroke="#222" stroke-width="0.4"/>
<line x1="249.03" y1="393.4" x2="249.03" y2="394.4" stroke="#222" stroke-width="0.4"/>
<line x1="252.13" y1="393.4" x2="252.13" y2="394.4" stroke="#222" stroke-width="0.4"/>
<text x="239.7" y="400.1" font-size="4.3" text-anchor="middle" fill="#4f70b0" textLength="26.4" lengthAdjust="spacingAndGlyphs">123456789</text>
<line x1="198.1" y1="393.8" x2="198.1" y2="396.6" stroke="#333" stroke-width="0.55"/>
<path d="M198.10 393.2l-0.9 1.4h1.8z" fill="#333"/>
<text x="198.1" y="401.3" font-size="4" text-anchor="middle" fill="#333" stroke="#333" stroke-width="0.13">T</text>
<line x1="215.8" y1="393.8" x2="215.8" y2="396.6" stroke="#333" stroke-width="0.55"/>
<path d="M215.80 393.2l-0.9 1.4h1.8z" fill="#333"/>
<text x="215.8" y="401.3" font-size="4" text-anchor="middle" fill="#333" stroke="#333" stroke-width="0.13">HSPC</text>
<text x="326.3" y="267.3" font-size="4" text-anchor="middle" fill="#333" stroke="#333" stroke-width="0.13">Naive</text>
<line x1="310.7" y1="273.7" x2="312" y2="273.7" stroke="#222" stroke-width="0.5"/>
<text x="309.5" y="275.2" font-size="4.4" text-anchor="end" fill="#333" textLength="29.99" lengthAdjust="spacingAndGlyphs" stroke="#333" stroke-width="0.04">HLA−C_FAM3C</text>
<line x1="310.7" y1="281.38" x2="312" y2="281.38" stroke="#222" stroke-width="0.5"/>
<text x="309.5" y="282.88" font-size="4.4" text-anchor="end" fill="#333" textLength="42.49" lengthAdjust="spacingAndGlyphs" stroke="#333" stroke-width="0.04">a4b1 complex_PLAUR</text>
<line x1="310.7" y1="289.05" x2="312" y2="289.05" stroke="#222" stroke-width="0.5"/>
<text x="309.5" y="290.55" font-size="4.4" text-anchor="end" fill="#333" textLength="39.37" lengthAdjust="spacingAndGlyphs" stroke="#333" stroke-width="0.04">TGFB−βR3_TGF−β1</text>
<line x1="310.7" y1="296.72" x2="312" y2="296.72" stroke="#222" stroke-width="0.5"/>
<text x="309.5" y="298.22" font-size="4.4" text-anchor="end" fill="#333" textLength="32.22" lengthAdjust="spacingAndGlyphs" stroke="#333" stroke-width="0.04">CLEC2D_KLRB1</text>
<line x1="310.7" y1="304.4" x2="312" y2="304.4" stroke="#222" stroke-width="0.5"/>
<text x="309.5" y="305.9" font-size="4.4" text-anchor="end" fill="#333" textLength="23.81" lengthAdjust="spacingAndGlyphs" stroke="#333" stroke-width="0.04">CD28_CD86</text>
<line x1="310.7" y1="312.07" x2="312" y2="312.07" stroke="#222" stroke-width="0.5"/>
<text x="309.5" y="313.57" font-size="4.4" text-anchor="end" fill="#333" textLength="32.9" lengthAdjust="spacingAndGlyphs" stroke="#333" stroke-width="0.04">TNFRSF18_GRN</text>
<line x1="310.7" y1="319.74" x2="312" y2="319.74" stroke="#222" stroke-width="0.5"/>
<text x="309.5" y="321.24" font-size="4.4" text-anchor="end" fill="#333" textLength="32.45" lengthAdjust="spacingAndGlyphs" stroke="#333" stroke-width="0.04">CXCR4_CXCL12</text>
<line x1="310.7" y1="327.41" x2="312" y2="327.41" stroke="#222" stroke-width="0.5"/>
<text x="309.5" y="328.91" font-size="4.4" text-anchor="end" fill="#333" textLength="21.71" lengthAdjust="spacingAndGlyphs" stroke="#333" stroke-width="0.04">CD96_PVR</text>
<line x1="310.7" y1="335.09" x2="312" y2="335.09" stroke="#222" stroke-width="0.5"/>
<text x="309.5" y="336.59" font-size="4.4" text-anchor="end" fill="#333" textLength="25.37" lengthAdjust="spacingAndGlyphs" stroke="#333" stroke-width="0.04">CD47_SIRPA</text>
<line x1="310.7" y1="342.76" x2="312" y2="342.76" stroke="#222" stroke-width="0.5"/>
<text x="309.5" y="344.26" font-size="4.4" text-anchor="end" fill="#333" textLength="23.58" lengthAdjust="spacingAndGlyphs" stroke="#333" stroke-width="0.04">CD46_JAG1</text>
<line x1="310.7" y1="350.43" x2="312" y2="350.43" stroke="#222" stroke-width="0.5"/>
<text x="309.5" y="351.93" font-size="4.4" text-anchor="end" fill="#333" textLength="26.85" lengthAdjust="spacingAndGlyphs" stroke="#333" stroke-width="0.04">SELL_PODXL</text>
<line x1="310.7" y1="358.1" x2="312" y2="358.1" stroke="#222" stroke-width="0.5"/>
<text x="309.5" y="359.6" font-size="4.4" text-anchor="end" fill="#333" textLength="30.27" lengthAdjust="spacingAndGlyphs" stroke="#333" stroke-width="0.04">NAMPT_P2RY6</text>
<line x1="310.7" y1="365.78" x2="312" y2="365.78" stroke="#222" stroke-width="0.5"/>
<text x="309.5" y="367.28" font-size="4.4" text-anchor="end" fill="#333" textLength="30.8" lengthAdjust="spacingAndGlyphs" stroke="#333" stroke-width="0.04">NAMPT_NTRK1</text>
<line x1="310.7" y1="373.45" x2="312" y2="373.45" stroke="#222" stroke-width="0.5"/>
<text x="309.5" y="374.95" font-size="4.4" text-anchor="end" fill="#333" textLength="35.48" lengthAdjust="spacingAndGlyphs" stroke="#333" stroke-width="0.04">LCK_CD8 receptor</text>
<line x1="310.7" y1="381.12" x2="312" y2="381.12" stroke="#222" stroke-width="0.5"/>
<text x="309.5" y="382.62" font-size="4.4" text-anchor="end" fill="#333" textLength="26.38" lengthAdjust="spacingAndGlyphs" stroke="#333" stroke-width="0.04">IL16_GRIN2C</text>
<line x1="310.7" y1="388.8" x2="312" y2="388.8" stroke="#222" stroke-width="0.5"/>
<text x="309.5" y="390.3" font-size="4.4" text-anchor="end" fill="#333" textLength="42.49" lengthAdjust="spacingAndGlyphs" stroke="#333" stroke-width="0.04">a4b1 complex_LAMC1</text>
<path d="M312.62 273.70a1.25 1.25 0 1 0 2.50 0a1.25 1.25 0 1 0 -2.50 0M315.72 273.70a1.25 1.25 0 1 0 2.50 0a1.25 1.25 0 1 0 -2.50 0M318.83 273.70a1.25 1.25 0 1 0 2.50 0a1.25 1.25 0 1 0 -2.50 0M321.94 273.70a1.25 1.25 0 1 0 2.50 0a1.25 1.25 0 1 0 -2.50 0M325.05 273.70a1.25 1.25 0 1 0 2.50 0a1.25 1.25 0 1 0 -2.50 0M328.16 273.70a1.25 1.25 0 1 0 2.50 0a1.25 1.25 0 1 0 -2.50 0M331.27 273.70a1.25 1.25 0 1 0 2.50 0a1.25 1.25 0 1 0 -2.50 0M334.38 273.70a1.25 1.25 0 1 0 2.50 0a1.25 1.25 0 1 0 -2.50 0M337.48 273.70a1.25 1.25 0 1 0 2.50 0a1.25 1.25 0 1 0 -2.50 0" fill="#4c248e"/>
<path d="M313.15 281.38a0.72 0.72 0 1 0 1.44 0a0.72 0.72 0 1 0 -1.44 0M316.25 281.38a0.72 0.72 0 1 0 1.44 0a0.72 0.72 0 1 0 -1.44 0M319.36 281.38a0.72 0.72 0 1 0 1.44 0a0.72 0.72 0 1 0 -1.44 0M322.47 281.38a0.72 0.72 0 1 0 1.44 0a0.72 0.72 0 1 0 -1.44 0M324.70 281.38a1.6 1.6 0 1 0 3.20 0a1.6 1.6 0 1 0 -3.20 0M327.81 281.38a1.6 1.6 0 1 0 3.20 0a1.6 1.6 0 1 0 -3.20 0M330.92 281.38a1.6 1.6 0 1 0 3.20 0a1.6 1.6 0 1 0 -3.20 0M334.03 281.38a1.6 1.6 0 1 0 3.20 0a1.6 1.6 0 1 0 -3.20 0M337.13 281.38a1.6 1.6 0 1 0 3.20 0a1.6 1.6 0 1 0 -3.20 0M312.27 296.72a1.6 1.6 0 1 0 3.20 0a1.6 1.6 0 1 0 -3.20 0M315.37 296.72a1.6 1.6 0 1 0 3.20 0a1.6 1.6 0 1 0 -3.20 0M319.36 296.72a0.72 0.72 0 1 0 1.44 0a0.72 0.72 0 1 0 -1.44 0M322.47 296.72a0.72 0.72 0 1 0 1.44 0a0.72 0.72 0 1 0 -1.44 0M325.58 296.72a0.72 0.72 0 1 0 1.44 0a0.72 0.72 0 1 0 -1.44 0M327.81 296.72a1.6 1.6 0 1 0 3.20 0a1.6 1.6 0 1 0 -3.20 0M331.80 296.72a0.72 0.72 0 1 0 1.44 0a0.72 0.72 0 1 0 -1.44 0M334.91 296.72a0.72 0.72 0 1 0 1.44 0a0.72 0.72 0 1 0 -1.44 0M337.13 296.72a1.6 1.6 0 1 0 3.20 0a1.6 1.6 0 1 0 -3.20 0M313.15 335.09a0.72 0.72 0 1 0 1.44 0a0.72 0.72 0 1 0 -1.44 0M316.25 335.09a0.72 0.72 0 1 0 1.44 0a0.72 0.72 0 1 0 -1.44 0M319.36 335.09a0.72 0.72 0 1 0 1.44 0a0.72 0.72 0 1 0 -1.44 0M322.47 335.09a0.72 0.72 0 1 0 1.44 0a0.72 0.72 0 1 0 -1.44 0M325.58 335.09a0.72 0.72 0 1 0 1.44 0a0.72 0.72 0 1 0 -1.44 0M328.69 335.09a0.72 0.72 0 1 0 1.44 0a0.72 0.72 0 1 0 -1.44 0M330.92 335.09a1.6 1.6 0 1 0 3.20 0a1.6 1.6 0 1 0 -3.20 0M334.91 335.09a0.72 0.72 0 1 0 1.44 0a0.72 0.72 0 1 0 -1.44 0M337.13 335.09a1.6 1.6 0 1 0 3.20 0a1.6 1.6 0 1 0 -3.20 0" fill="#6e1f8b"/>
<path d="M313.15 289.05a0.72 0.72 0 1 0 1.44 0a0.72 0.72 0 1 0 -1.44 0M316.25 289.05a0.72 0.72 0 1 0 1.44 0a0.72 0.72 0 1 0 -1.44 0M319.36 289.05a0.72 0.72 0 1 0 1.44 0a0.72 0.72 0 1 0 -1.44 0M322.47 289.05a0.72 0.72 0 1 0 1.44 0a0.72 0.72 0 1 0 -1.44 0M324.70 289.05a1.6 1.6 0 1 0 3.20 0a1.6 1.6 0 1 0 -3.20 0M327.81 289.05a1.6 1.6 0 1 0 3.20 0a1.6 1.6 0 1 0 -3.20 0M330.92 289.05a1.6 1.6 0 1 0 3.20 0a1.6 1.6 0 1 0 -3.20 0M334.91 289.05a0.72 0.72 0 1 0 1.44 0a0.72 0.72 0 1 0 -1.44 0M337.48 289.05a1.25 1.25 0 1 0 2.50 0a1.25 1.25 0 1 0 -2.50 0M313.15 358.10a0.72 0.72 0 1 0 1.44 0a0.72 0.72 0 1 0 -1.44 0M316.25 358.10a0.72 0.72 0 1 0 1.44 0a0.72 0.72 0 1 0 -1.44 0M319.36 358.10a0.72 0.72 0 1 0 1.44 0a0.72 0.72 0 1 0 -1.44 0M322.47 358.10a0.72 0.72 0 1 0 1.44 0a0.72 0.72 0 1 0 -1.44 0M325.58 358.10a0.72 0.72 0 1 0 1.44 0a0.72 0.72 0 1 0 -1.44 0M328.69 358.10a0.72 0.72 0 1 0 1.44 0a0.72 0.72 0 1 0 -1.44 0M331.80 358.10a0.72 0.72 0 1 0 1.44 0a0.72 0.72 0 1 0 -1.44 0M334.91 358.10a0.72 0.72 0 1 0 1.44 0a0.72 0.72 0 1 0 -1.44 0M337.13 358.10a1.6 1.6 0 1 0 3.20 0a1.6 1.6 0 1 0 -3.20 0M313.15 388.80a0.72 0.72 0 1 0 1.44 0a0.72 0.72 0 1 0 -1.44 0M316.25 388.80a0.72 0.72 0 1 0 1.44 0a0.72 0.72 0 1 0 -1.44 0M319.36 388.80a0.72 0.72 0 1 0 1.44 0a0.72 0.72 0 1 0 -1.44 0M322.47 388.80a0.72 0.72 0 1 0 1.44 0a0.72 0.72 0 1 0 -1.44 0M324.70 388.80a1.6 1.6 0 1 0 3.20 0a1.6 1.6 0 1 0 -3.20 0M328.69 388.80a0.72 0.72 0 1 0 1.44 0a0.72 0.72 0 1 0 -1.44 0M331.80 388.80a0.72 0.72 0 1 0 1.44 0a0.72 0.72 0 1 0 -1.44 0M334.91 388.80a0.72 0.72 0 1 0 1.44 0a0.72 0.72 0 1 0 -1.44 0M338.01 388.80a0.72 0.72 0 1 0 1.44 0a0.72 0.72 0 1 0 -1.44 0" fill="#402691"/>
<path d="M313.15 304.40a0.72 0.72 0 1 0 1.44 0a0.72 0.72 0 1 0 -1.44 0M316.25 304.40a0.72 0.72 0 1 0 1.44 0a0.72 0.72 0 1 0 -1.44 0M319.36 304.40a0.72 0.72 0 1 0 1.44 0a0.72 0.72 0 1 0 -1.44 0M322.47 304.40a0.72 0.72 0 1 0 1.44 0a0.72 0.72 0 1 0 -1.44 0M325.58 304.40a0.72 0.72 0 1 0 1.44 0a0.72 0.72 0 1 0 -1.44 0M327.81 304.40a1.6 1.6 0 1 0 3.20 0a1.6 1.6 0 1 0 -3.20 0M330.92 304.40a1.6 1.6 0 1 0 3.20 0a1.6 1.6 0 1 0 -3.20 0M334.03 304.40a1.6 1.6 0 1 0 3.20 0a1.6 1.6 0 1 0 -3.20 0M337.13 304.40a1.6 1.6 0 1 0 3.20 0a1.6 1.6 0 1 0 -3.20 0" fill="#432590"/>
<path d="M313.15 312.07a0.72 0.72 0 1 0 1.44 0a0.72 0.72 0 1 0 -1.44 0M316.25 312.07a0.72 0.72 0 1 0 1.44 0a0.72 0.72 0 1 0 -1.44 0M319.36 312.07a0.72 0.72 0 1 0 1.44 0a0.72 0.72 0 1 0 -1.44 0M322.47 312.07a0.72 0.72 0 1 0 1.44 0a0.72 0.72 0 1 0 -1.44 0M325.58 312.07a0.72 0.72 0 1 0 1.44 0a0.72 0.72 0 1 0 -1.44 0M328.69 312.07a0.72 0.72 0 1 0 1.44 0a0.72 0.72 0 1 0 -1.44 0M330.92 312.07a1.6 1.6 0 1 0 3.20 0a1.6 1.6 0 1 0 -3.20 0M334.03 312.07a1.6 1.6 0 1 0 3.20 0a1.6 1.6 0 1 0 -3.20 0M337.13 312.07a1.6 1.6 0 1 0 3.20 0a1.6 1.6 0 1 0 -3.20 0" fill="#65208c"/>
<path d="M313.15 319.74a0.72 0.72 0 1 0 1.44 0a0.72 0.72 0 1 0 -1.44 0M316.25 319.74a0.72 0.72 0 1 0 1.44 0a0.72 0.72 0 1 0 -1.44 0M319.36 319.74a0.72 0.72 0 1 0 1.44 0a0.72 0.72 0 1 0 -1.44 0M321.59 319.74a1.6 1.6 0 1 0 3.20 0a1.6 1.6 0 1 0 -3.20 0M325.58 319.74a0.72 0.72 0 1 0 1.44 0a0.72 0.72 0 1 0 -1.44 0M327.81 319.74a1.6 1.6 0 1 0 3.20 0a1.6 1.6 0 1 0 -3.20 0M330.92 319.74a1.6 1.6 0 1 0 3.20 0a1.6 1.6 0 1 0 -3.20 0M334.91 319.74a0.72 0.72 0 1 0 1.44 0a0.72 0.72 0 1 0 -1.44 0M338.01 319.74a0.72 0.72 0 1 0 1.44 0a0.72 0.72 0 1 0 -1.44 0" fill="#bb153f"/>
<path d="M313.15 327.41a0.72 0.72 0 1 0 1.44 0a0.72 0.72 0 1 0 -1.44 0M316.25 327.41a0.72 0.72 0 1 0 1.44 0a0.72 0.72 0 1 0 -1.44 0M318.48 327.41a1.6 1.6 0 1 0 3.20 0a1.6 1.6 0 1 0 -3.20 0M322.47 327.41a0.72 0.72 0 1 0 1.44 0a0.72 0.72 0 1 0 -1.44 0M325.58 327.41a0.72 0.72 0 1 0 1.44 0a0.72 0.72 0 1 0 -1.44 0M328.69 327.41a0.72 0.72 0 1 0 1.44 0a0.72 0.72 0 1 0 -1.44 0M330.92 327.41a1.6 1.6 0 1 0 3.20 0a1.6 1.6 0 1 0 -3.20 0M334.91 327.41a0.72 0.72 0 1 0 1.44 0a0.72 0.72 0 1 0 -1.44 0M338.01 327.41a0.72 0.72 0 1 0 1.44 0a0.72 0.72 0 1 0 -1.44 0M313.15 342.76a0.72 0.72 0 1 0 1.44 0a0.72 0.72 0 1 0 -1.44 0M316.25 342.76a0.72 0.72 0 1 0 1.44 0a0.72 0.72 0 1 0 -1.44 0M319.36 342.76a0.72 0.72 0 1 0 1.44 0a0.72 0.72 0 1 0 -1.44 0M322.47 342.76a0.72 0.72 0 1 0 1.44 0a0.72 0.72 0 1 0 -1.44 0M325.58 342.76a0.72 0.72 0 1 0 1.44 0a0.72 0.72 0 1 0 -1.44 0M328.69 342.76a0.72 0.72 0 1 0 1.44 0a0.72 0.72 0 1 0 -1.44 0M330.92 342.76a1.6 1.6 0 1 0 3.20 0a1.6 1.6 0 1 0 -3.20 0M334.91 342.76a0.72 0.72 0 1 0 1.44 0a0.72 0.72 0 1 0 -1.44 0M337.48 342.76a1.25 1.25 0 1 0 2.50 0a1.25 1.25 0 1 0 -2.50 0" fill="#54238d"/>
<path d="M313.15 350.43a0.72 0.72 0 1 0 1.44 0a0.72 0.72 0 1 0 -1.44 0M316.25 350.43a0.72 0.72 0 1 0 1.44 0a0.72 0.72 0 1 0 -1.44 0M319.36 350.43a0.72 0.72 0 1 0 1.44 0a0.72 0.72 0 1 0 -1.44 0M322.47 350.43a0.72 0.72 0 1 0 1.44 0a0.72 0.72 0 1 0 -1.44 0M325.58 350.43a0.72 0.72 0 1 0 1.44 0a0.72 0.72 0 1 0 -1.44 0M328.69 350.43a0.72 0.72 0 1 0 1.44 0a0.72 0.72 0 1 0 -1.44 0M331.80 350.43a0.72 0.72 0 1 0 1.44 0a0.72 0.72 0 1 0 -1.44 0M334.91 350.43a0.72 0.72 0 1 0 1.44 0a0.72 0.72 0 1 0 -1.44 0M337.13 350.43a1.6 1.6 0 1 0 3.20 0a1.6 1.6 0 1 0 -3.20 0" fill="#981868"/>
<path d="M313.15 365.78a0.72 0.72 0 1 0 1.44 0a0.72 0.72 0 1 0 -1.44 0M316.25 365.78a0.72 0.72 0 1 0 1.44 0a0.72 0.72 0 1 0 -1.44 0M319.36 365.78a0.72 0.72 0 1 0 1.44 0a0.72 0.72 0 1 0 -1.44 0M322.47 365.78a0.72 0.72 0 1 0 1.44 0a0.72 0.72 0 1 0 -1.44 0M324.70 365.78a1.6 1.6 0 1 0 3.20 0a1.6 1.6 0 1 0 -3.20 0M328.69 365.78a0.72 0.72 0 1 0 1.44 0a0.72 0.72 0 1 0 -1.44 0M331.80 365.78a0.72 0.72 0 1 0 1.44 0a0.72 0.72 0 1 0 -1.44 0M334.91 365.78a0.72 0.72 0 1 0 1.44 0a0.72 0.72 0 1 0 -1.44 0M338.01 365.78a0.72 0.72 0 1 0 1.44 0a0.72 0.72 0 1 0 -1.44 0M313.15 381.12a0.72 0.72 0 1 0 1.44 0a0.72 0.72 0 1 0 -1.44 0M316.25 381.12a0.72 0.72 0 1 0 1.44 0a0.72 0.72 0 1 0 -1.44 0M319.36 381.12a0.72 0.72 0 1 0 1.44 0a0.72 0.72 0 1 0 -1.44 0M322.47 381.12a0.72 0.72 0 1 0 1.44 0a0.72 0.72 0 1 0 -1.44 0M325.58 381.12a0.72 0.72 0 1 0 1.44 0a0.72 0.72 0 1 0 -1.44 0M328.69 381.12a0.72 0.72 0 1 0 1.44 0a0.72 0.72 0 1 0 -1.44 0M331.80 381.12a0.72 0.72 0 1 0 1.44 0a0.72 0.72 0 1 0 -1.44 0M334.03 381.12a1.6 1.6 0 1 0 3.20 0a1.6 1.6 0 1 0 -3.20 0M338.01 381.12a0.72 0.72 0 1 0 1.44 0a0.72 0.72 0 1 0 -1.44 0" fill="#462590"/>
<path d="M313.15 373.45a0.72 0.72 0 1 0 1.44 0a0.72 0.72 0 1 0 -1.44 0M316.25 373.45a0.72 0.72 0 1 0 1.44 0a0.72 0.72 0 1 0 -1.44 0M319.36 373.45a0.72 0.72 0 1 0 1.44 0a0.72 0.72 0 1 0 -1.44 0M322.47 373.45a0.72 0.72 0 1 0 1.44 0a0.72 0.72 0 1 0 -1.44 0M325.58 373.45a0.72 0.72 0 1 0 1.44 0a0.72 0.72 0 1 0 -1.44 0M327.81 373.45a1.6 1.6 0 1 0 3.20 0a1.6 1.6 0 1 0 -3.20 0M331.80 373.45a0.72 0.72 0 1 0 1.44 0a0.72 0.72 0 1 0 -1.44 0M334.91 373.45a0.72 0.72 0 1 0 1.44 0a0.72 0.72 0 1 0 -1.44 0M338.01 373.45a0.72 0.72 0 1 0 1.44 0a0.72 0.72 0 1 0 -1.44 0" fill="#871b79"/>
<rect x="312" y="269.1" width="28.6" height="124.3" fill="none" stroke="#1a1a1a" stroke-width="1"/>
<line x1="313.87" y1="393.4" x2="313.87" y2="394.4" stroke="#222" stroke-width="0.4"/>
<line x1="316.97" y1="393.4" x2="316.97" y2="394.4" stroke="#222" stroke-width="0.4"/>
<line x1="320.08" y1="393.4" x2="320.08" y2="394.4" stroke="#222" stroke-width="0.4"/>
<line x1="323.19" y1="393.4" x2="323.19" y2="394.4" stroke="#222" stroke-width="0.4"/>
<line x1="326.3" y1="393.4" x2="326.3" y2="394.4" stroke="#222" stroke-width="0.4"/>
<line x1="329.41" y1="393.4" x2="329.41" y2="394.4" stroke="#222" stroke-width="0.4"/>
<line x1="332.52" y1="393.4" x2="332.52" y2="394.4" stroke="#222" stroke-width="0.4"/>
<line x1="335.63" y1="393.4" x2="335.63" y2="394.4" stroke="#222" stroke-width="0.4"/>
<line x1="338.73" y1="393.4" x2="338.73" y2="394.4" stroke="#222" stroke-width="0.4"/>
<text x="326.3" y="400.1" font-size="4.3" text-anchor="middle" fill="#4f70b0" textLength="26.4" lengthAdjust="spacingAndGlyphs">123456789</text>
<line x1="284.7" y1="393.8" x2="284.7" y2="396.6" stroke="#333" stroke-width="0.55"/>
<path d="M284.70 393.2l-0.9 1.4h1.8z" fill="#333"/>
<text x="284.7" y="401.3" font-size="4" text-anchor="middle" fill="#333" stroke="#333" stroke-width="0.13">T</text>
<line x1="302.4" y1="393.8" x2="302.4" y2="396.6" stroke="#333" stroke-width="0.55"/>
<path d="M302.40 393.2l-0.9 1.4h1.8z" fill="#333"/>
<text x="302.4" y="401.3" font-size="4" text-anchor="middle" fill="#333" stroke="#333" stroke-width="0.13">HSPC</text>
<text x="415.5" y="267.3" font-size="4" text-anchor="middle" fill="#333" stroke="#333" stroke-width="0.13">Memory</text>
<line x1="399.9" y1="272.06" x2="401.2" y2="272.06" stroke="#222" stroke-width="0.5"/>
<text x="398.7" y="273.56" font-size="4.4" text-anchor="end" fill="#333" textLength="32.22" lengthAdjust="spacingAndGlyphs" stroke="#333" stroke-width="0.04">KLRB1_CLEC2D</text>
<line x1="399.9" y1="276.99" x2="401.2" y2="276.99" stroke="#222" stroke-width="0.5"/>
<text x="398.7" y="278.49" font-size="4.4" text-anchor="end" fill="#333" textLength="29.99" lengthAdjust="spacingAndGlyphs" stroke="#333" stroke-width="0.04">HLA−C_FAM3C</text>
<line x1="399.9" y1="281.92" x2="401.2" y2="281.92" stroke="#222" stroke-width="0.5"/>
<text x="398.7" y="283.42" font-size="4.4" text-anchor="end" fill="#333" textLength="50.11" lengthAdjust="spacingAndGlyphs" stroke="#333" stroke-width="0.04">TGF−β1_TGF−β receptor1</text>
<line x1="399.9" y1="286.86" x2="401.2" y2="286.86" stroke="#222" stroke-width="0.5"/>
<text x="398.7" y="288.36" font-size="4.4" text-anchor="end" fill="#333" textLength="30.58" lengthAdjust="spacingAndGlyphs" stroke="#333" stroke-width="0.04">ADRB2_VEGFB</text>
<line x1="399.9" y1="291.79" x2="401.2" y2="291.79" stroke="#222" stroke-width="0.5"/>
<text x="398.7" y="293.29" font-size="4.4" text-anchor="end" fill="#333" textLength="24.51" lengthAdjust="spacingAndGlyphs" stroke="#333" stroke-width="0.04">ADRB2_IL18</text>
<line x1="399.9" y1="296.72" x2="401.2" y2="296.72" stroke="#222" stroke-width="0.5"/>
<text x="398.7" y="298.22" font-size="4.4" text-anchor="end" fill="#333" textLength="31.75" lengthAdjust="spacingAndGlyphs" stroke="#333" stroke-width="0.04">KLRF1_CLEC2B</text>
<line x1="399.9" y1="301.65" x2="401.2" y2="301.65" stroke="#222" stroke-width="0.5"/>
<text x="398.7" y="303.15" font-size="4.4" text-anchor="end" fill="#333" textLength="32.22" lengthAdjust="spacingAndGlyphs" stroke="#333" stroke-width="0.04">CLEC2D_KLRB1</text>
<line x1="399.9" y1="306.59" x2="401.2" y2="306.59" stroke="#222" stroke-width="0.5"/>
<text x="398.7" y="308.09" font-size="4.4" text-anchor="end" fill="#333" textLength="30.34" lengthAdjust="spacingAndGlyphs" stroke="#333" stroke-width="0.04">ADGRE5_CD55</text>
<line x1="399.9" y1="311.52" x2="401.2" y2="311.52" stroke="#222" stroke-width="0.5"/>
<text x="398.7" y="313.02" font-size="4.4" text-anchor="end" fill="#333" textLength="32.45" lengthAdjust="spacingAndGlyphs" stroke="#333" stroke-width="0.04">CXCR4_CXCL12</text>
<line x1="399.9" y1="316.45" x2="401.2" y2="316.45" stroke="#222" stroke-width="0.5"/>
<text x="398.7" y="317.95" font-size="4.4" text-anchor="end" fill="#333" textLength="32.45" lengthAdjust="spacingAndGlyphs" stroke="#333" stroke-width="0.04">CXCR3_CXCL12</text>
<line x1="399.9" y1="321.38" x2="401.2" y2="321.38" stroke="#222" stroke-width="0.5"/>
<text x="398.7" y="322.88" font-size="4.4" text-anchor="end" fill="#333" textLength="27.85" lengthAdjust="spacingAndGlyphs" stroke="#333" stroke-width="0.04">COPA_SORT1</text>
<line x1="399.9" y1="326.32" x2="401.2" y2="326.32" stroke="#222" stroke-width="0.5"/>
<text x="398.7" y="327.82" font-size="4.4" text-anchor="end" fill="#333" textLength="21.7" lengthAdjust="spacingAndGlyphs" stroke="#333" stroke-width="0.04">TIGIT_PVR</text>
<line x1="399.9" y1="331.25" x2="401.2" y2="331.25" stroke="#222" stroke-width="0.5"/>
<text x="398.7" y="332.75" font-size="4.4" text-anchor="end" fill="#333" textLength="30.27" lengthAdjust="spacingAndGlyphs" stroke="#333" stroke-width="0.04">NAMPT_P2RY6</text>
<line x1="399.9" y1="336.18" x2="401.2" y2="336.18" stroke="#222" stroke-width="0.5"/>
<text x="398.7" y="337.68" font-size="4.4" text-anchor="end" fill="#333" textLength="21.71" lengthAdjust="spacingAndGlyphs" stroke="#333" stroke-width="0.04">CD96_PVR</text>
<line x1="399.9" y1="341.12" x2="401.2" y2="341.12" stroke="#222" stroke-width="0.5"/>
<text x="398.7" y="342.62" font-size="4.4" text-anchor="end" fill="#333" textLength="42.02" lengthAdjust="spacingAndGlyphs" stroke="#333" stroke-width="0.04">CD47_SIRB1 complex</text>
<line x1="399.9" y1="346.05" x2="401.2" y2="346.05" stroke="#222" stroke-width="0.5"/>
<text x="398.7" y="347.55" font-size="4.4" text-anchor="end" fill="#333" textLength="24.51" lengthAdjust="spacingAndGlyphs" stroke="#333" stroke-width="0.04">CCL5_CCR5</text>
<line x1="399.9" y1="350.98" x2="401.2" y2="350.98" stroke="#222" stroke-width="0.5"/>
<text x="398.7" y="352.48" font-size="4.4" text-anchor="end" fill="#333" textLength="30.8" lengthAdjust="spacingAndGlyphs" stroke="#333" stroke-width="0.04">NAMPT_NTRK1</text>
<line x1="399.9" y1="355.91" x2="401.2" y2="355.91" stroke="#222" stroke-width="0.5"/>
<text x="398.7" y="357.41" font-size="4.4" text-anchor="end" fill="#333" textLength="35.48" lengthAdjust="spacingAndGlyphs" stroke="#333" stroke-width="0.04">LCK_CD8 receptor</text>
<line x1="399.9" y1="360.85" x2="401.2" y2="360.85" stroke="#222" stroke-width="0.5"/>
<text x="398.7" y="362.35" font-size="4.4" text-anchor="end" fill="#333" textLength="26.38" lengthAdjust="spacingAndGlyphs" stroke="#333" stroke-width="0.04">IL16_GRIN2C</text>
<line x1="399.9" y1="365.78" x2="401.2" y2="365.78" stroke="#222" stroke-width="0.5"/>
<text x="398.7" y="367.28" font-size="4.4" text-anchor="end" fill="#333" textLength="32.45" lengthAdjust="spacingAndGlyphs" stroke="#333" stroke-width="0.04">CXCR3_CXCL10</text>
<line x1="399.9" y1="370.71" x2="401.2" y2="370.71" stroke="#222" stroke-width="0.5"/>
<text x="398.7" y="372.21" font-size="4.4" text-anchor="end" fill="#333" textLength="29.65" lengthAdjust="spacingAndGlyphs" stroke="#333" stroke-width="0.04">CXCR3_CCL20</text>
<line x1="399.9" y1="375.64" x2="401.2" y2="375.64" stroke="#222" stroke-width="0.5"/>
<text x="398.7" y="377.14" font-size="4.4" text-anchor="end" fill="#333" textLength="27.16" lengthAdjust="spacingAndGlyphs" stroke="#333" stroke-width="0.04">COPA_P2RY6</text>
<line x1="399.9" y1="380.58" x2="401.2" y2="380.58" stroke="#222" stroke-width="0.5"/>
<text x="398.7" y="382.08" font-size="4.4" text-anchor="end" fill="#333" textLength="26.15" lengthAdjust="spacingAndGlyphs" stroke="#333" stroke-width="0.04">CD244_CD48</text>
<line x1="399.9" y1="385.51" x2="401.2" y2="385.51" stroke="#222" stroke-width="0.5"/>
<text x="398.7" y="387.01" font-size="4.4" text-anchor="end" fill="#333" textLength="27.08" lengthAdjust="spacingAndGlyphs" stroke="#333" stroke-width="0.04">CCL5_ACKR1</text>
<line x1="399.9" y1="390.44" x2="401.2" y2="390.44" stroke="#222" stroke-width="0.5"/>
<text x="398.7" y="391.94" font-size="4.4" text-anchor="end" fill="#333" textLength="26.84" lengthAdjust="spacingAndGlyphs" stroke="#333" stroke-width="0.04">ANXA1_FPR1</text>
<path d="M401.47 272.06a1.6 1.6 0 1 0 3.20 0a1.6 1.6 0 1 0 -3.20 0M404.57 272.06a1.6 1.6 0 1 0 3.20 0a1.6 1.6 0 1 0 -3.20 0M407.68 272.06a1.6 1.6 0 1 0 3.20 0a1.6 1.6 0 1 0 -3.20 0M410.79 272.06a1.6 1.6 0 1 0 3.20 0a1.6 1.6 0 1 0 -3.20 0M413.90 272.06a1.6 1.6 0 1 0 3.20 0a1.6 1.6 0 1 0 -3.20 0M417.01 272.06a1.6 1.6 0 1 0 3.20 0a1.6 1.6 0 1 0 -3.20 0M420.12 272.06a1.6 1.6 0 1 0 3.20 0a1.6 1.6 0 1 0 -3.20 0M423.23 272.06a1.6 1.6 0 1 0 3.20 0a1.6 1.6 0 1 0 -3.20 0M426.33 272.06a1.6 1.6 0 1 0 3.20 0a1.6 1.6 0 1 0 -3.20 0M402.35 355.91a0.72 0.72 0 1 0 1.44 0a0.72 0.72 0 1 0 -1.44 0M405.45 355.91a0.72 0.72 0 1 0 1.44 0a0.72 0.72 0 1 0 -1.44 0M408.56 355.91a0.72 0.72 0 1 0 1.44 0a0.72 0.72 0 1 0 -1.44 0M411.67 355.91a0.72 0.72 0 1 0 1.44 0a0.72 0.72 0 1 0 -1.44 0M414.78 355.91a0.72 0.72 0 1 0 1.44 0a0.72 0.72 0 1 0 -1.44 0M417.01 355.91a1.6 1.6 0 1 0 3.20 0a1.6 1.6 0 1 0 -3.20 0M421.00 355.91a0.72 0.72 0 1 0 1.44 0a0.72 0.72 0 1 0 -1.44 0M424.11 355.91a0.72 0.72 0 1 0 1.44 0a0.72 0.72 0 1 0 -1.44 0M427.21 355.91a0.72 0.72 0 1 0 1.44 0a0.72 0.72 0 1 0 -1.44 0" fill="#871b79"/>
<path d="M401.47 276.99a1.6 1.6 0 1 0 3.20 0a1.6 1.6 0 1 0 -3.20 0M404.57 276.99a1.6 1.6 0 1 0 3.20 0a1.6 1.6 0 1 0 -3.20 0M407.68 276.99a1.6 1.6 0 1 0 3.20 0a1.6 1.6 0 1 0 -3.20 0M410.79 276.99a1.6 1.6 0 1 0 3.20 0a1.6 1.6 0 1 0 -3.20 0M413.90 276.99a1.6 1.6 0 1 0 3.20 0a1.6 1.6 0 1 0 -3.20 0M417.01 276.99a1.6 1.6 0 1 0 3.20 0a1.6 1.6 0 1 0 -3.20 0M420.12 276.99a1.6 1.6 0 1 0 3.20 0a1.6 1.6 0 1 0 -3.20 0M423.23 276.99a1.6 1.6 0 1 0 3.20 0a1.6 1.6 0 1 0 -3.20 0M426.33 276.99a1.6 1.6 0 1 0 3.20 0a1.6 1.6 0 1 0 -3.20 0M402.35 331.25a0.72 0.72 0 1 0 1.44 0a0.72 0.72 0 1 0 -1.44 0M405.45 331.25a0.72 0.72 0 1 0 1.44 0a0.72 0.72 0 1 0 -1.44 0M408.56 331.25a0.72 0.72 0 1 0 1.44 0a0.72 0.72 0 1 0 -1.44 0M411.67 331.25a0.72 0.72 0 1 0 1.44 0a0.72 0.72 0 1 0 -1.44 0M414.78 331.25a0.72 0.72 0 1 0 1.44 0a0.72 0.72 0 1 0 -1.44 0M417.89 331.25a0.72 0.72 0 1 0 1.44 0a0.72 0.72 0 1 0 -1.44 0M421.00 331.25a0.72 0.72 0 1 0 1.44 0a0.72 0.72 0 1 0 -1.44 0M423.23 331.25a1.6 1.6 0 1 0 3.20 0a1.6 1.6 0 1 0 -3.20 0M426.33 331.25a1.6 1.6 0 1 0 3.20 0a1.6 1.6 0 1 0 -3.20 0M402.35 350.98a0.72 0.72 0 1 0 1.44 0a0.72 0.72 0 1 0 -1.44 0M405.45 350.98a0.72 0.72 0 1 0 1.44 0a0.72 0.72 0 1 0 -1.44 0M408.56 350.98a0.72 0.72 0 1 0 1.44 0a0.72 0.72 0 1 0 -1.44 0M411.67 350.98a0.72 0.72 0 1 0 1.44 0a0.72 0.72 0 1 0 -1.44 0M413.90 350.98a1.6 1.6 0 1 0 3.20 0a1.6 1.6 0 1 0 -3.20 0M417.89 350.98a0.72 0.72 0 1 0 1.44 0a0.72 0.72 0 1 0 -1.44 0M421.00 350.98a0.72 0.72 0 1 0 1.44 0a0.72 0.72 0 1 0 -1.44 0M424.11 350.98a0.72 0.72 0 1 0 1.44 0a0.72 0.72 0 1 0 -1.44 0M427.21 350.98a0.72 0.72 0 1 0 1.44 0a0.72 0.72 0 1 0 -1.44 0M402.35 360.85a0.72 0.72 0 1 0 1.44 0a0.72 0.72 0 1 0 -1.44 0M405.45 360.85a0.72 0.72 0 1 0 1.44 0a0.72 0.72 0 1 0 -1.44 0M408.56 360.85a0.72 0.72 0 1 0 1.44 0a0.72 0.72 0 1 0 -1.44 0M411.67 360.85a0.72 0.72 0 1 0 1.44 0a0.72 0.72 0 1 0 -1.44 0M414.78 360.85a0.72 0.72 0 1 0 1.44 0a0.72 0.72 0 1 0 -1.44 0M417.89 360.85a0.72 0.72 0 1 0 1.44 0a0.72 0.72 0 1 0 -1.44 0M421.00 360.85a0.72 0.72 0 1 0 1.44 0a0.72 0.72 0 1 0 -1.44 0M423.23 360.85a1.6 1.6 0 1 0 3.20 0a1.6 1.6 0 1 0 -3.20 0M427.21 360.85a0.72 0.72 0 1 0 1.44 0a0.72 0.72 0 1 0 -1.44 0M402.35 370.71a0.72 0.72 0 1 0 1.44 0a0.72 0.72 0 1 0 -1.44 0M405.45 370.71a0.72 0.72 0 1 0 1.44 0a0.72 0.72 0 1 0 -1.44 0M408.56 370.71a0.72 0.72 0 1 0 1.44 0a0.72 0.72 0 1 0 -1.44 0M411.67 370.71a0.72 0.72 0 1 0 1.44 0a0.72 0.72 0 1 0 -1.44 0M414.78 370.71a0.72 0.72 0 1 0 1.44 0a0.72 0.72 0 1 0 -1.44 0M417.01 370.71a1.6 1.6 0 1 0 3.20 0a1.6 1.6 0 1 0 -3.20 0M421.00 370.71a0.72 0.72 0 1 0 1.44 0a0.72 0.72 0 1 0 -1.44 0M424.11 370.71a0.72 0.72 0 1 0 1.44 0a0.72 0.72 0 1 0 -1.44 0M427.21 370.71a0.72 0.72 0 1 0 1.44 0a0.72 0.72 0 1 0 -1.44 0" fill="#462590"/>
<path d="M401.47 281.92a1.6 1.6 0 1 0 3.20 0a1.6 1.6 0 1 0 -3.20 0M404.57 281.92a1.6 1.6 0 1 0 3.20 0a1.6 1.6 0 1 0 -3.20 0M408.56 281.92a0.72 0.72 0 1 0 1.44 0a0.72 0.72 0 1 0 -1.44 0M410.79 281.92a1.6 1.6 0 1 0 3.20 0a1.6 1.6 0 1 0 -3.20 0M413.90 281.92a1.6 1.6 0 1 0 3.20 0a1.6 1.6 0 1 0 -3.20 0M417.01 281.92a1.6 1.6 0 1 0 3.20 0a1.6 1.6 0 1 0 -3.20 0M420.12 281.92a1.6 1.6 0 1 0 3.20 0a1.6 1.6 0 1 0 -3.20 0M423.23 281.92a1.6 1.6 0 1 0 3.20 0a1.6 1.6 0 1 0 -3.20 0M426.33 281.92a1.6 1.6 0 1 0 3.20 0a1.6 1.6 0 1 0 -3.20 0M401.47 286.86a1.6 1.6 0 1 0 3.20 0a1.6 1.6 0 1 0 -3.20 0M404.57 286.86a1.6 1.6 0 1 0 3.20 0a1.6 1.6 0 1 0 -3.20 0M407.68 286.86a1.6 1.6 0 1 0 3.20 0a1.6 1.6 0 1 0 -3.20 0M411.67 286.86a0.72 0.72 0 1 0 1.44 0a0.72 0.72 0 1 0 -1.44 0M413.90 286.86a1.6 1.6 0 1 0 3.20 0a1.6 1.6 0 1 0 -3.20 0M417.01 286.86a1.6 1.6 0 1 0 3.20 0a1.6 1.6 0 1 0 -3.20 0M420.12 286.86a1.6 1.6 0 1 0 3.20 0a1.6 1.6 0 1 0 -3.20 0M423.23 286.86a1.6 1.6 0 1 0 3.20 0a1.6 1.6 0 1 0 -3.20 0M426.33 286.86a1.6 1.6 0 1 0 3.20 0a1.6 1.6 0 1 0 -3.20 0M401.47 365.78a1.6 1.6 0 1 0 3.20 0a1.6 1.6 0 1 0 -3.20 0M405.45 365.78a0.72 0.72 0 1 0 1.44 0a0.72 0.72 0 1 0 -1.44 0M408.56 365.78a0.72 0.72 0 1 0 1.44 0a0.72 0.72 0 1 0 -1.44 0M411.67 365.78a0.72 0.72 0 1 0 1.44 0a0.72 0.72 0 1 0 -1.44 0M414.78 365.78a0.72 0.72 0 1 0 1.44 0a0.72 0.72 0 1 0 -1.44 0M417.89 365.78a0.72 0.72 0 1 0 1.44 0a0.72 0.72 0 1 0 -1.44 0M421.00 365.78a0.72 0.72 0 1 0 1.44 0a0.72 0.72 0 1 0 -1.44 0M424.11 365.78a0.72 0.72 0 1 0 1.44 0a0.72 0.72 0 1 0 -1.44 0M427.21 365.78a0.72 0.72 0 1 0 1.44 0a0.72 0.72 0 1 0 -1.44 0M402.35 385.51a0.72 0.72 0 1 0 1.44 0a0.72 0.72 0 1 0 -1.44 0M405.45 385.51a0.72 0.72 0 1 0 1.44 0a0.72 0.72 0 1 0 -1.44 0M407.68 385.51a1.6 1.6 0 1 0 3.20 0a1.6 1.6 0 1 0 -3.20 0M411.67 385.51a0.72 0.72 0 1 0 1.44 0a0.72 0.72 0 1 0 -1.44 0M414.78 385.51a0.72 0.72 0 1 0 1.44 0a0.72 0.72 0 1 0 -1.44 0M417.89 385.51a0.72 0.72 0 1 0 1.44 0a0.72 0.72 0 1 0 -1.44 0M421.00 385.51a0.72 0.72 0 1 0 1.44 0a0.72 0.72 0 1 0 -1.44 0M424.11 385.51a0.72 0.72 0 1 0 1.44 0a0.72 0.72 0 1 0 -1.44 0M427.21 385.51a0.72 0.72 0 1 0 1.44 0a0.72 0.72 0 1 0 -1.44 0" fill="#402691"/>
<path d="M401.47 291.79a1.6 1.6 0 1 0 3.20 0a1.6 1.6 0 1 0 -3.20 0M405.45 291.79a0.72 0.72 0 1 0 1.44 0a0.72 0.72 0 1 0 -1.44 0M407.68 291.79a1.6 1.6 0 1 0 3.20 0a1.6 1.6 0 1 0 -3.20 0M410.79 291.79a1.6 1.6 0 1 0 3.20 0a1.6 1.6 0 1 0 -3.20 0M413.90 291.79a1.6 1.6 0 1 0 3.20 0a1.6 1.6 0 1 0 -3.20 0M417.01 291.79a1.6 1.6 0 1 0 3.20 0a1.6 1.6 0 1 0 -3.20 0M420.12 291.79a1.6 1.6 0 1 0 3.20 0a1.6 1.6 0 1 0 -3.20 0M424.11 291.79a0.72 0.72 0 1 0 1.44 0a0.72 0.72 0 1 0 -1.44 0M426.33 291.79a1.6 1.6 0 1 0 3.20 0a1.6 1.6 0 1 0 -3.20 0M402.35 321.38a0.72 0.72 0 1 0 1.44 0a0.72 0.72 0 1 0 -1.44 0M405.45 321.38a0.72 0.72 0 1 0 1.44 0a0.72 0.72 0 1 0 -1.44 0M408.56 321.38a0.72 0.72 0 1 0 1.44 0a0.72 0.72 0 1 0 -1.44 0M411.67 321.38a0.72 0.72 0 1 0 1.44 0a0.72 0.72 0 1 0 -1.44 0M414.78 321.38a0.72 0.72 0 1 0 1.44 0a0.72 0.72 0 1 0 -1.44 0M417.89 321.38a0.72 0.72 0 1 0 1.44 0a0.72 0.72 0 1 0 -1.44 0M420.12 321.38a1.6 1.6 0 1 0 3.20 0a1.6 1.6 0 1 0 -3.20 0M423.23 321.38a1.6 1.6 0 1 0 3.20 0a1.6 1.6 0 1 0 -3.20 0M426.33 321.38a1.6 1.6 0 1 0 3.20 0a1.6 1.6 0 1 0 -3.20 0" fill="#4c248e"/>
<path d="M401.47 296.72a1.6 1.6 0 1 0 3.20 0a1.6 1.6 0 1 0 -3.20 0M404.57 296.72a1.6 1.6 0 1 0 3.20 0a1.6 1.6 0 1 0 -3.20 0M408.56 296.72a0.72 0.72 0 1 0 1.44 0a0.72 0.72 0 1 0 -1.44 0M410.79 296.72a1.6 1.6 0 1 0 3.20 0a1.6 1.6 0 1 0 -3.20 0M414.78 296.72a0.72 0.72 0 1 0 1.44 0a0.72 0.72 0 1 0 -1.44 0M417.89 296.72a0.72 0.72 0 1 0 1.44 0a0.72 0.72 0 1 0 -1.44 0M420.12 296.72a1.6 1.6 0 1 0 3.20 0a1.6 1.6 0 1 0 -3.20 0M424.11 296.72a0.72 0.72 0 1 0 1.44 0a0.72 0.72 0 1 0 -1.44 0M427.21 296.72a0.72 0.72 0 1 0 1.44 0a0.72 0.72 0 1 0 -1.44 0M402.35 375.64a0.72 0.72 0 1 0 1.44 0a0.72 0.72 0 1 0 -1.44 0M405.45 375.64a0.72 0.72 0 1 0 1.44 0a0.72 0.72 0 1 0 -1.44 0M408.56 375.64a0.72 0.72 0 1 0 1.44 0a0.72 0.72 0 1 0 -1.44 0M411.67 375.64a0.72 0.72 0 1 0 1.44 0a0.72 0.72 0 1 0 -1.44 0M414.78 375.64a0.72 0.72 0 1 0 1.44 0a0.72 0.72 0 1 0 -1.44 0M417.89 375.64a0.72 0.72 0 1 0 1.44 0a0.72 0.72 0 1 0 -1.44 0M421.00 375.64a0.72 0.72 0 1 0 1.44 0a0.72 0.72 0 1 0 -1.44 0M424.11 375.64a0.72 0.72 0 1 0 1.44 0a0.72 0.72 0 1 0 -1.44 0M426.33 375.64a1.6 1.6 0 1 0 3.20 0a1.6 1.6 0 1 0 -3.20 0M402.35 380.58a0.72 0.72 0 1 0 1.44 0a0.72 0.72 0 1 0 -1.44 0M405.45 380.58a0.72 0.72 0 1 0 1.44 0a0.72 0.72 0 1 0 -1.44 0M408.56 380.58a0.72 0.72 0 1 0 1.44 0a0.72 0.72 0 1 0 -1.44 0M411.67 380.58a0.72 0.72 0 1 0 1.44 0a0.72 0.72 0 1 0 -1.44 0M414.78 380.58a0.72 0.72 0 1 0 1.44 0a0.72 0.72 0 1 0 -1.44 0M417.89 380.58a0.72 0.72 0 1 0 1.44 0a0.72 0.72 0 1 0 -1.44 0M421.00 380.58a0.72 0.72 0 1 0 1.44 0a0.72 0.72 0 1 0 -1.44 0M424.11 380.58a0.72 0.72 0 1 0 1.44 0a0.72 0.72 0 1 0 -1.44 0M426.33 380.58a1.6 1.6 0 1 0 3.20 0a1.6 1.6 0 1 0 -3.20 0" fill="#5d228c"/>
<path d="M401.47 301.65a1.6 1.6 0 1 0 3.20 0a1.6 1.6 0 1 0 -3.20 0M404.57 301.65a1.6 1.6 0 1 0 3.20 0a1.6 1.6 0 1 0 -3.20 0M408.56 301.65a0.72 0.72 0 1 0 1.44 0a0.72 0.72 0 1 0 -1.44 0M411.67 301.65a0.72 0.72 0 1 0 1.44 0a0.72 0.72 0 1 0 -1.44 0M414.78 301.65a0.72 0.72 0 1 0 1.44 0a0.72 0.72 0 1 0 -1.44 0M417.01 301.65a1.6 1.6 0 1 0 3.20 0a1.6 1.6 0 1 0 -3.20 0M421.00 301.65a0.72 0.72 0 1 0 1.44 0a0.72 0.72 0 1 0 -1.44 0M424.11 301.65a0.72 0.72 0 1 0 1.44 0a0.72 0.72 0 1 0 -1.44 0M426.33 301.65a1.6 1.6 0 1 0 3.20 0a1.6 1.6 0 1 0 -3.20 0M402.35 336.18a0.72 0.72 0 1 0 1.44 0a0.72 0.72 0 1 0 -1.44 0M405.45 336.18a0.72 0.72 0 1 0 1.44 0a0.72 0.72 0 1 0 -1.44 0M407.68 336.18a1.6 1.6 0 1 0 3.20 0a1.6 1.6 0 1 0 -3.20 0M411.67 336.18a0.72 0.72 0 1 0 1.44 0a0.72 0.72 0 1 0 -1.44 0M414.78 336.18a0.72 0.72 0 1 0 1.44 0a0.72 0.72 0 1 0 -1.44 0M417.89 336.18a0.72 0.72 0 1 0 1.44 0a0.72 0.72 0 1 0 -1.44 0M420.12 336.18a1.6 1.6 0 1 0 3.20 0a1.6 1.6 0 1 0 -3.20 0M424.11 336.18a0.72 0.72 0 1 0 1.44 0a0.72 0.72 0 1 0 -1.44 0M427.21 336.18a0.72 0.72 0 1 0 1.44 0a0.72 0.72 0 1 0 -1.44 0" fill="#65208c"/>
<path d="M402.35 306.59a0.72 0.72 0 1 0 1.44 0a0.72 0.72 0 1 0 -1.44 0M405.45 306.59a0.72 0.72 0 1 0 1.44 0a0.72 0.72 0 1 0 -1.44 0M407.68 306.59a1.6 1.6 0 1 0 3.20 0a1.6 1.6 0 1 0 -3.20 0M411.67 306.59a0.72 0.72 0 1 0 1.44 0a0.72 0.72 0 1 0 -1.44 0M413.90 306.59a1.6 1.6 0 1 0 3.20 0a1.6 1.6 0 1 0 -3.20 0M417.01 306.59a1.6 1.6 0 1 0 3.20 0a1.6 1.6 0 1 0 -3.20 0M421.00 306.59a0.72 0.72 0 1 0 1.44 0a0.72 0.72 0 1 0 -1.44 0M424.11 306.59a0.72 0.72 0 1 0 1.44 0a0.72 0.72 0 1 0 -1.44 0M426.33 306.59a1.6 1.6 0 1 0 3.20 0a1.6 1.6 0 1 0 -3.20 0" fill="#761e8a"/>
<path d="M402.35 311.52a0.72 0.72 0 1 0 1.44 0a0.72 0.72 0 1 0 -1.44 0M405.45 311.52a0.72 0.72 0 1 0 1.44 0a0.72 0.72 0 1 0 -1.44 0M408.56 311.52a0.72 0.72 0 1 0 1.44 0a0.72 0.72 0 1 0 -1.44 0M410.79 311.52a1.6 1.6 0 1 0 3.20 0a1.6 1.6 0 1 0 -3.20 0M414.78 311.52a0.72 0.72 0 1 0 1.44 0a0.72 0.72 0 1 0 -1.44 0M417.01 311.52a1.6 1.6 0 1 0 3.20 0a1.6 1.6 0 1 0 -3.20 0M420.12 311.52a1.6 1.6 0 1 0 3.20 0a1.6 1.6 0 1 0 -3.20 0M424.11 311.52a0.72 0.72 0 1 0 1.44 0a0.72 0.72 0 1 0 -1.44 0M427.21 311.52a0.72 0.72 0 1 0 1.44 0a0.72 0.72 0 1 0 -1.44 0" fill="#c8142f"/>
<path d="M402.35 316.45a0.72 0.72 0 1 0 1.44 0a0.72 0.72 0 1 0 -1.44 0M405.45 316.45a0.72 0.72 0 1 0 1.44 0a0.72 0.72 0 1 0 -1.44 0M408.56 316.45a0.72 0.72 0 1 0 1.44 0a0.72 0.72 0 1 0 -1.44 0M410.79 316.45a1.6 1.6 0 1 0 3.20 0a1.6 1.6 0 1 0 -3.20 0M414.78 316.45a0.72 0.72 0 1 0 1.44 0a0.72 0.72 0 1 0 -1.44 0M417.01 316.45a1.6 1.6 0 1 0 3.20 0a1.6 1.6 0 1 0 -3.20 0M420.12 316.45a1.6 1.6 0 1 0 3.20 0a1.6 1.6 0 1 0 -3.20 0M424.11 316.45a0.72 0.72 0 1 0 1.44 0a0.72 0.72 0 1 0 -1.44 0M427.21 316.45a0.72 0.72 0 1 0 1.44 0a0.72 0.72 0 1 0 -1.44 0M402.35 326.32a0.72 0.72 0 1 0 1.44 0a0.72 0.72 0 1 0 -1.44 0M405.45 326.32a0.72 0.72 0 1 0 1.44 0a0.72 0.72 0 1 0 -1.44 0M407.68 326.32a1.6 1.6 0 1 0 3.20 0a1.6 1.6 0 1 0 -3.20 0M411.67 326.32a0.72 0.72 0 1 0 1.44 0a0.72 0.72 0 1 0 -1.44 0M414.78 326.32a0.72 0.72 0 1 0 1.44 0a0.72 0.72 0 1 0 -1.44 0M417.89 326.32a0.72 0.72 0 1 0 1.44 0a0.72 0.72 0 1 0 -1.44 0M420.12 326.32a1.6 1.6 0 1 0 3.20 0a1.6 1.6 0 1 0 -3.20 0M424.11 326.32a0.72 0.72 0 1 0 1.44 0a0.72 0.72 0 1 0 -1.44 0M427.21 326.32a0.72 0.72 0 1 0 1.44 0a0.72 0.72 0 1 0 -1.44 0" fill="#432590"/>
<path d="M402.35 341.12a0.72 0.72 0 1 0 1.44 0a0.72 0.72 0 1 0 -1.44 0M405.45 341.12a0.72 0.72 0 1 0 1.44 0a0.72 0.72 0 1 0 -1.44 0M408.56 341.12a0.72 0.72 0 1 0 1.44 0a0.72 0.72 0 1 0 -1.44 0M411.67 341.12a0.72 0.72 0 1 0 1.44 0a0.72 0.72 0 1 0 -1.44 0M414.78 341.12a0.72 0.72 0 1 0 1.44 0a0.72 0.72 0 1 0 -1.44 0M417.89 341.12a0.72 0.72 0 1 0 1.44 0a0.72 0.72 0 1 0 -1.44 0M421.00 341.12a0.72 0.72 0 1 0 1.44 0a0.72 0.72 0 1 0 -1.44 0M423.23 341.12a1.6 1.6 0 1 0 3.20 0a1.6 1.6 0 1 0 -3.20 0M426.68 341.12a1.25 1.25 0 1 0 2.50 0a1.25 1.25 0 1 0 -2.50 0" fill="#6e1f8b"/>
<path d="M402.35 346.05a0.72 0.72 0 1 0 1.44 0a0.72 0.72 0 1 0 -1.44 0M405.45 346.05a0.72 0.72 0 1 0 1.44 0a0.72 0.72 0 1 0 -1.44 0M408.56 346.05a0.72 0.72 0 1 0 1.44 0a0.72 0.72 0 1 0 -1.44 0M411.67 346.05a0.72 0.72 0 1 0 1.44 0a0.72 0.72 0 1 0 -1.44 0M414.78 346.05a0.72 0.72 0 1 0 1.44 0a0.72 0.72 0 1 0 -1.44 0M417.89 346.05a0.72 0.72 0 1 0 1.44 0a0.72 0.72 0 1 0 -1.44 0M421.00 346.05a0.72 0.72 0 1 0 1.44 0a0.72 0.72 0 1 0 -1.44 0M423.23 346.05a1.6 1.6 0 1 0 3.20 0a1.6 1.6 0 1 0 -3.20 0M426.33 346.05a1.6 1.6 0 1 0 3.20 0a1.6 1.6 0 1 0 -3.20 0" fill="#3a2693"/>
<path d="M402.35 390.44a0.72 0.72 0 1 0 1.44 0a0.72 0.72 0 1 0 -1.44 0M405.45 390.44a0.72 0.72 0 1 0 1.44 0a0.72 0.72 0 1 0 -1.44 0M408.56 390.44a0.72 0.72 0 1 0 1.44 0a0.72 0.72 0 1 0 -1.44 0M411.67 390.44a0.72 0.72 0 1 0 1.44 0a0.72 0.72 0 1 0 -1.44 0M414.78 390.44a0.72 0.72 0 1 0 1.44 0a0.72 0.72 0 1 0 -1.44 0M417.01 390.44a1.6 1.6 0 1 0 3.20 0a1.6 1.6 0 1 0 -3.20 0M421.00 390.44a0.72 0.72 0 1 0 1.44 0a0.72 0.72 0 1 0 -1.44 0M424.11 390.44a0.72 0.72 0 1 0 1.44 0a0.72 0.72 0 1 0 -1.44 0M427.21 390.44a0.72 0.72 0 1 0 1.44 0a0.72 0.72 0 1 0 -1.44 0" fill="#8f1970"/>
<rect x="401.2" y="269.1" width="28.6" height="124.3" fill="none" stroke="#1a1a1a" stroke-width="1"/>
<line x1="403.07" y1="393.4" x2="403.07" y2="394.4" stroke="#222" stroke-width="0.4"/>
<line x1="406.17" y1="393.4" x2="406.17" y2="394.4" stroke="#222" stroke-width="0.4"/>
<line x1="409.28" y1="393.4" x2="409.28" y2="394.4" stroke="#222" stroke-width="0.4"/>
<line x1="412.39" y1="393.4" x2="412.39" y2="394.4" stroke="#222" stroke-width="0.4"/>
<line x1="415.5" y1="393.4" x2="415.5" y2="394.4" stroke="#222" stroke-width="0.4"/>
<line x1="418.61" y1="393.4" x2="418.61" y2="394.4" stroke="#222" stroke-width="0.4"/>
<line x1="421.72" y1="393.4" x2="421.72" y2="394.4" stroke="#222" stroke-width="0.4"/>
<line x1="424.83" y1="393.4" x2="424.83" y2="394.4" stroke="#222" stroke-width="0.4"/>
<line x1="427.93" y1="393.4" x2="427.93" y2="394.4" stroke="#222" stroke-width="0.4"/>
<text x="415.5" y="400.1" font-size="4.3" text-anchor="middle" fill="#4f70b0" textLength="26.4" lengthAdjust="spacingAndGlyphs">123456789</text>
<line x1="373.9" y1="393.8" x2="373.9" y2="396.6" stroke="#333" stroke-width="0.55"/>
<path d="M373.90 393.2l-0.9 1.4h1.8z" fill="#333"/>
<text x="373.9" y="401.3" font-size="4" text-anchor="middle" fill="#333" stroke="#333" stroke-width="0.13">T</text>
<line x1="391.6" y1="393.8" x2="391.6" y2="396.6" stroke="#333" stroke-width="0.55"/>
<path d="M391.60 393.2l-0.9 1.4h1.8z" fill="#333"/>
<text x="391.6" y="401.3" font-size="4" text-anchor="middle" fill="#333" stroke="#333" stroke-width="0.13">HSPC</text>
<text x="499.1" y="267.3" font-size="4" text-anchor="middle" fill="#333" stroke="#333" stroke-width="0.13">Effector</text>
<line x1="483.5" y1="273.7" x2="484.8" y2="273.7" stroke="#222" stroke-width="0.5"/>
<text x="482.3" y="275.2" font-size="4.4" text-anchor="end" fill="#333" textLength="29.3" lengthAdjust="spacingAndGlyphs" stroke="#333" stroke-width="0.04">KLRC2_HLA−E</text>
<line x1="483.5" y1="281.38" x2="484.8" y2="281.38" stroke="#222" stroke-width="0.5"/>
<text x="482.3" y="282.88" font-size="4.4" text-anchor="end" fill="#333" textLength="29.99" lengthAdjust="spacingAndGlyphs" stroke="#333" stroke-width="0.04">HLA−C_FAM3C</text>
<line x1="483.5" y1="289.05" x2="484.8" y2="289.05" stroke="#222" stroke-width="0.5"/>
<text x="482.3" y="290.55" font-size="4.4" text-anchor="end" fill="#333" textLength="42.14" lengthAdjust="spacingAndGlyphs" stroke="#333" stroke-width="0.04">CD94:NKG2C_HLA−E</text>
<line x1="483.5" y1="296.72" x2="484.8" y2="296.72" stroke="#222" stroke-width="0.5"/>
<text x="482.3" y="298.22" font-size="4.4" text-anchor="end" fill="#333" textLength="35.26" lengthAdjust="spacingAndGlyphs" stroke="#333" stroke-width="0.04">IL18 receptor_IL18</text>
<line x1="483.5" y1="304.4" x2="484.8" y2="304.4" stroke="#222" stroke-width="0.5"/>
<text x="482.3" y="305.9" font-size="4.4" text-anchor="end" fill="#333" textLength="32.22" lengthAdjust="spacingAndGlyphs" stroke="#333" stroke-width="0.04">CLEC2D_KLRB1</text>
<line x1="483.5" y1="312.07" x2="484.8" y2="312.07" stroke="#222" stroke-width="0.5"/>
<text x="482.3" y="313.57" font-size="4.4" text-anchor="end" fill="#333" textLength="32.45" lengthAdjust="spacingAndGlyphs" stroke="#333" stroke-width="0.04">CXCR4_CXCL12</text>
<line x1="483.5" y1="319.74" x2="484.8" y2="319.74" stroke="#222" stroke-width="0.5"/>
<text x="482.3" y="321.24" font-size="4.4" text-anchor="end" fill="#333" textLength="42.02" lengthAdjust="spacingAndGlyphs" stroke="#333" stroke-width="0.04">CD47_SIRB1 complex</text>
<line x1="483.5" y1="327.41" x2="484.8" y2="327.41" stroke="#222" stroke-width="0.5"/>
<text x="482.3" y="328.91" font-size="4.4" text-anchor="end" fill="#333" textLength="21.7" lengthAdjust="spacingAndGlyphs" stroke="#333" stroke-width="0.04">TIGIT_PVR</text>
<line x1="483.5" y1="335.09" x2="484.8" y2="335.09" stroke="#222" stroke-width="0.5"/>
<text x="482.3" y="336.59" font-size="4.4" text-anchor="end" fill="#333" textLength="21.71" lengthAdjust="spacingAndGlyphs" stroke="#333" stroke-width="0.04">CD96_PVR</text>
<line x1="483.5" y1="342.76" x2="484.8" y2="342.76" stroke="#222" stroke-width="0.5"/>
<text x="482.3" y="344.26" font-size="4.4" text-anchor="end" fill="#333" textLength="24.51" lengthAdjust="spacingAndGlyphs" stroke="#333" stroke-width="0.04">CCL5_CCR5</text>
<line x1="483.5" y1="350.43" x2="484.8" y2="350.43" stroke="#222" stroke-width="0.5"/>
<text x="482.3" y="351.93" font-size="4.4" text-anchor="end" fill="#333" textLength="26.84" lengthAdjust="spacingAndGlyphs" stroke="#333" stroke-width="0.04">ANXA1_FPR1</text>
<line x1="483.5" y1="358.1" x2="484.8" y2="358.1" stroke="#222" stroke-width="0.5"/>
<text x="482.3" y="359.6" font-size="4.4" text-anchor="end" fill="#333" textLength="30.27" lengthAdjust="spacingAndGlyphs" stroke="#333" stroke-width="0.04">NAMPT_P2RY6</text>
<line x1="483.5" y1="365.78" x2="484.8" y2="365.78" stroke="#222" stroke-width="0.5"/>
<text x="482.3" y="367.28" font-size="4.4" text-anchor="end" fill="#333" textLength="30.8" lengthAdjust="spacingAndGlyphs" stroke="#333" stroke-width="0.04">NAMPT_NTRK1</text>
<line x1="483.5" y1="373.45" x2="484.8" y2="373.45" stroke="#222" stroke-width="0.5"/>
<text x="482.3" y="374.95" font-size="4.4" text-anchor="end" fill="#333" textLength="35.48" lengthAdjust="spacingAndGlyphs" stroke="#333" stroke-width="0.04">LCK_CD8 receptor</text>
<line x1="483.5" y1="381.12" x2="484.8" y2="381.12" stroke="#222" stroke-width="0.5"/>
<text x="482.3" y="382.62" font-size="4.4" text-anchor="end" fill="#333" textLength="27.08" lengthAdjust="spacingAndGlyphs" stroke="#333" stroke-width="0.04">CCL5_ACKR1</text>
<line x1="483.5" y1="388.8" x2="484.8" y2="388.8" stroke="#222" stroke-width="0.5"/>
<text x="482.3" y="390.3" font-size="4.4" text-anchor="end" fill="#333" textLength="43.41" lengthAdjust="spacingAndGlyphs" stroke="#333" stroke-width="0.04">aMb2 complex_FCER2</text>
<path d="M485.07 273.70a1.6 1.6 0 1 0 3.20 0a1.6 1.6 0 1 0 -3.20 0M488.17 273.70a1.6 1.6 0 1 0 3.20 0a1.6 1.6 0 1 0 -3.20 0M491.28 273.70a1.6 1.6 0 1 0 3.20 0a1.6 1.6 0 1 0 -3.20 0M494.39 273.70a1.6 1.6 0 1 0 3.20 0a1.6 1.6 0 1 0 -3.20 0M497.50 273.70a1.6 1.6 0 1 0 3.20 0a1.6 1.6 0 1 0 -3.20 0M501.49 273.70a0.72 0.72 0 1 0 1.44 0a0.72 0.72 0 1 0 -1.44 0M503.72 273.70a1.6 1.6 0 1 0 3.20 0a1.6 1.6 0 1 0 -3.20 0M506.83 273.70a1.6 1.6 0 1 0 3.20 0a1.6 1.6 0 1 0 -3.20 0M509.93 273.70a1.6 1.6 0 1 0 3.20 0a1.6 1.6 0 1 0 -3.20 0M485.07 289.05a1.6 1.6 0 1 0 3.20 0a1.6 1.6 0 1 0 -3.20 0M488.17 289.05a1.6 1.6 0 1 0 3.20 0a1.6 1.6 0 1 0 -3.20 0M491.28 289.05a1.6 1.6 0 1 0 3.20 0a1.6 1.6 0 1 0 -3.20 0M494.39 289.05a1.6 1.6 0 1 0 3.20 0a1.6 1.6 0 1 0 -3.20 0M497.50 289.05a1.6 1.6 0 1 0 3.20 0a1.6 1.6 0 1 0 -3.20 0M501.49 289.05a0.72 0.72 0 1 0 1.44 0a0.72 0.72 0 1 0 -1.44 0M503.72 289.05a1.6 1.6 0 1 0 3.20 0a1.6 1.6 0 1 0 -3.20 0M506.83 289.05a1.6 1.6 0 1 0 3.20 0a1.6 1.6 0 1 0 -3.20 0M509.93 289.05a1.6 1.6 0 1 0 3.20 0a1.6 1.6 0 1 0 -3.20 0M485.95 358.10a0.72 0.72 0 1 0 1.44 0a0.72 0.72 0 1 0 -1.44 0M489.05 358.10a0.72 0.72 0 1 0 1.44 0a0.72 0.72 0 1 0 -1.44 0M492.16 358.10a0.72 0.72 0 1 0 1.44 0a0.72 0.72 0 1 0 -1.44 0M495.27 358.10a0.72 0.72 0 1 0 1.44 0a0.72 0.72 0 1 0 -1.44 0M498.38 358.10a0.72 0.72 0 1 0 1.44 0a0.72 0.72 0 1 0 -1.44 0M501.49 358.10a0.72 0.72 0 1 0 1.44 0a0.72 0.72 0 1 0 -1.44 0M504.60 358.10a0.72 0.72 0 1 0 1.44 0a0.72 0.72 0 1 0 -1.44 0M507.71 358.10a0.72 0.72 0 1 0 1.44 0a0.72 0.72 0 1 0 -1.44 0M509.93 358.10a1.6 1.6 0 1 0 3.20 0a1.6 1.6 0 1 0 -3.20 0M485.95 381.12a0.72 0.72 0 1 0 1.44 0a0.72 0.72 0 1 0 -1.44 0M489.05 381.12a0.72 0.72 0 1 0 1.44 0a0.72 0.72 0 1 0 -1.44 0M491.28 381.12a1.6 1.6 0 1 0 3.20 0a1.6 1.6 0 1 0 -3.20 0M495.27 381.12a0.72 0.72 0 1 0 1.44 0a0.72 0.72 0 1 0 -1.44 0M498.38 381.12a0.72 0.72 0 1 0 1.44 0a0.72 0.72 0 1 0 -1.44 0M501.49 381.12a0.72 0.72 0 1 0 1.44 0a0.72 0.72 0 1 0 -1.44 0M504.60 381.12a0.72 0.72 0 1 0 1.44 0a0.72 0.72 0 1 0 -1.44 0M507.71 381.12a0.72 0.72 0 1 0 1.44 0a0.72 0.72 0 1 0 -1.44 0M510.81 381.12a0.72 0.72 0 1 0 1.44 0a0.72 0.72 0 1 0 -1.44 0M485.95 388.80a0.72 0.72 0 1 0 1.44 0a0.72 0.72 0 1 0 -1.44 0M489.05 388.80a0.72 0.72 0 1 0 1.44 0a0.72 0.72 0 1 0 -1.44 0M492.16 388.80a0.72 0.72 0 1 0 1.44 0a0.72 0.72 0 1 0 -1.44 0M495.27 388.80a0.72 0.72 0 1 0 1.44 0a0.72 0.72 0 1 0 -1.44 0M498.38 388.80a0.72 0.72 0 1 0 1.44 0a0.72 0.72 0 1 0 -1.44 0M501.49 388.80a0.72 0.72 0 1 0 1.44 0a0.72 0.72 0 1 0 -1.44 0M504.60 388.80a0.72 0.72 0 1 0 1.44 0a0.72 0.72 0 1 0 -1.44 0M507.71 388.80a0.72 0.72 0 1 0 1.44 0a0.72 0.72 0 1 0 -1.44 0M509.93 388.80a1.6 1.6 0 1 0 3.20 0a1.6 1.6 0 1 0 -3.20 0" fill="#402691"/>
<path d="M485.07 281.38a1.6 1.6 0 1 0 3.20 0a1.6 1.6 0 1 0 -3.20 0M488.17 281.38a1.6 1.6 0 1 0 3.20 0a1.6 1.6 0 1 0 -3.20 0M491.28 281.38a1.6 1.6 0 1 0 3.20 0a1.6 1.6 0 1 0 -3.20 0M494.39 281.38a1.6 1.6 0 1 0 3.20 0a1.6 1.6 0 1 0 -3.20 0M497.50 281.38a1.6 1.6 0 1 0 3.20 0a1.6 1.6 0 1 0 -3.20 0M501.49 281.38a0.72 0.72 0 1 0 1.44 0a0.72 0.72 0 1 0 -1.44 0M503.72 281.38a1.6 1.6 0 1 0 3.20 0a1.6 1.6 0 1 0 -3.20 0M506.83 281.38a1.6 1.6 0 1 0 3.20 0a1.6 1.6 0 1 0 -3.20 0M509.93 281.38a1.6 1.6 0 1 0 3.20 0a1.6 1.6 0 1 0 -3.20 0M485.95 327.41a0.72 0.72 0 1 0 1.44 0a0.72 0.72 0 1 0 -1.44 0M489.05 327.41a0.72 0.72 0 1 0 1.44 0a0.72 0.72 0 1 0 -1.44 0M491.28 327.41a1.6 1.6 0 1 0 3.20 0a1.6 1.6 0 1 0 -3.20 0M495.27 327.41a0.72 0.72 0 1 0 1.44 0a0.72 0.72 0 1 0 -1.44 0M498.38 327.41a0.72 0.72 0 1 0 1.44 0a0.72 0.72 0 1 0 -1.44 0M501.49 327.41a0.72 0.72 0 1 0 1.44 0a0.72 0.72 0 1 0 -1.44 0M503.72 327.41a1.6 1.6 0 1 0 3.20 0a1.6 1.6 0 1 0 -3.20 0M507.71 327.41a0.72 0.72 0 1 0 1.44 0a0.72 0.72 0 1 0 -1.44 0M510.81 327.41a0.72 0.72 0 1 0 1.44 0a0.72 0.72 0 1 0 -1.44 0M485.95 365.78a0.72 0.72 0 1 0 1.44 0a0.72 0.72 0 1 0 -1.44 0M489.05 365.78a0.72 0.72 0 1 0 1.44 0a0.72 0.72 0 1 0 -1.44 0M492.16 365.78a0.72 0.72 0 1 0 1.44 0a0.72 0.72 0 1 0 -1.44 0M495.27 365.78a0.72 0.72 0 1 0 1.44 0a0.72 0.72 0 1 0 -1.44 0M497.85 365.78a1.25 1.25 0 1 0 2.50 0a1.25 1.25 0 1 0 -2.50 0M501.49 365.78a0.72 0.72 0 1 0 1.44 0a0.72 0.72 0 1 0 -1.44 0M504.60 365.78a0.72 0.72 0 1 0 1.44 0a0.72 0.72 0 1 0 -1.44 0M507.71 365.78a0.72 0.72 0 1 0 1.44 0a0.72 0.72 0 1 0 -1.44 0M510.81 365.78a0.72 0.72 0 1 0 1.44 0a0.72 0.72 0 1 0 -1.44 0" fill="#432590"/>
<path d="M485.07 296.72a1.6 1.6 0 1 0 3.20 0a1.6 1.6 0 1 0 -3.20 0M488.17 296.72a1.6 1.6 0 1 0 3.20 0a1.6 1.6 0 1 0 -3.20 0M491.28 296.72a1.6 1.6 0 1 0 3.20 0a1.6 1.6 0 1 0 -3.20 0M495.27 296.72a0.72 0.72 0 1 0 1.44 0a0.72 0.72 0 1 0 -1.44 0M497.50 296.72a1.6 1.6 0 1 0 3.20 0a1.6 1.6 0 1 0 -3.20 0M500.61 296.72a1.6 1.6 0 1 0 3.20 0a1.6 1.6 0 1 0 -3.20 0M503.72 296.72a1.6 1.6 0 1 0 3.20 0a1.6 1.6 0 1 0 -3.20 0M507.71 296.72a0.72 0.72 0 1 0 1.44 0a0.72 0.72 0 1 0 -1.44 0M509.93 296.72a1.6 1.6 0 1 0 3.20 0a1.6 1.6 0 1 0 -3.20 0" fill="#4c248e"/>
<path d="M485.07 304.40a1.6 1.6 0 1 0 3.20 0a1.6 1.6 0 1 0 -3.20 0M488.17 304.40a1.6 1.6 0 1 0 3.20 0a1.6 1.6 0 1 0 -3.20 0M492.16 304.40a0.72 0.72 0 1 0 1.44 0a0.72 0.72 0 1 0 -1.44 0M495.27 304.40a0.72 0.72 0 1 0 1.44 0a0.72 0.72 0 1 0 -1.44 0M498.38 304.40a0.72 0.72 0 1 0 1.44 0a0.72 0.72 0 1 0 -1.44 0M500.61 304.40a1.6 1.6 0 1 0 3.20 0a1.6 1.6 0 1 0 -3.20 0M504.60 304.40a0.72 0.72 0 1 0 1.44 0a0.72 0.72 0 1 0 -1.44 0M507.71 304.40a0.72 0.72 0 1 0 1.44 0a0.72 0.72 0 1 0 -1.44 0M509.93 304.40a1.6 1.6 0 1 0 3.20 0a1.6 1.6 0 1 0 -3.20 0M485.95 319.74a0.72 0.72 0 1 0 1.44 0a0.72 0.72 0 1 0 -1.44 0M489.05 319.74a0.72 0.72 0 1 0 1.44 0a0.72 0.72 0 1 0 -1.44 0M492.16 319.74a0.72 0.72 0 1 0 1.44 0a0.72 0.72 0 1 0 -1.44 0M495.27 319.74a0.72 0.72 0 1 0 1.44 0a0.72 0.72 0 1 0 -1.44 0M498.38 319.74a0.72 0.72 0 1 0 1.44 0a0.72 0.72 0 1 0 -1.44 0M501.49 319.74a0.72 0.72 0 1 0 1.44 0a0.72 0.72 0 1 0 -1.44 0M504.07 319.74a1.25 1.25 0 1 0 2.50 0a1.25 1.25 0 1 0 -2.50 0M506.83 319.74a1.6 1.6 0 1 0 3.20 0a1.6 1.6 0 1 0 -3.20 0M509.93 319.74a1.6 1.6 0 1 0 3.20 0a1.6 1.6 0 1 0 -3.20 0" fill="#65208c"/>
<path d="M485.95 312.07a0.72 0.72 0 1 0 1.44 0a0.72 0.72 0 1 0 -1.44 0M489.05 312.07a0.72 0.72 0 1 0 1.44 0a0.72 0.72 0 1 0 -1.44 0M492.16 312.07a0.72 0.72 0 1 0 1.44 0a0.72 0.72 0 1 0 -1.44 0M494.39 312.07a1.6 1.6 0 1 0 3.20 0a1.6 1.6 0 1 0 -3.20 0M498.38 312.07a0.72 0.72 0 1 0 1.44 0a0.72 0.72 0 1 0 -1.44 0M500.61 312.07a1.6 1.6 0 1 0 3.20 0a1.6 1.6 0 1 0 -3.20 0M503.72 312.07a1.6 1.6 0 1 0 3.20 0a1.6 1.6 0 1 0 -3.20 0M507.71 312.07a0.72 0.72 0 1 0 1.44 0a0.72 0.72 0 1 0 -1.44 0M510.81 312.07a0.72 0.72 0 1 0 1.44 0a0.72 0.72 0 1 0 -1.44 0" fill="#c8142f"/>
<path d="M485.95 335.09a0.72 0.72 0 1 0 1.44 0a0.72 0.72 0 1 0 -1.44 0M489.05 335.09a0.72 0.72 0 1 0 1.44 0a0.72 0.72 0 1 0 -1.44 0M491.28 335.09a1.6 1.6 0 1 0 3.20 0a1.6 1.6 0 1 0 -3.20 0M495.27 335.09a0.72 0.72 0 1 0 1.44 0a0.72 0.72 0 1 0 -1.44 0M498.38 335.09a0.72 0.72 0 1 0 1.44 0a0.72 0.72 0 1 0 -1.44 0M501.49 335.09a0.72 0.72 0 1 0 1.44 0a0.72 0.72 0 1 0 -1.44 0M503.72 335.09a1.6 1.6 0 1 0 3.20 0a1.6 1.6 0 1 0 -3.20 0M507.71 335.09a0.72 0.72 0 1 0 1.44 0a0.72 0.72 0 1 0 -1.44 0M510.81 335.09a0.72 0.72 0 1 0 1.44 0a0.72 0.72 0 1 0 -1.44 0" fill="#5d228c"/>
<path d="M485.95 342.76a0.72 0.72 0 1 0 1.44 0a0.72 0.72 0 1 0 -1.44 0M489.05 342.76a0.72 0.72 0 1 0 1.44 0a0.72 0.72 0 1 0 -1.44 0M492.16 342.76a0.72 0.72 0 1 0 1.44 0a0.72 0.72 0 1 0 -1.44 0M495.27 342.76a0.72 0.72 0 1 0 1.44 0a0.72 0.72 0 1 0 -1.44 0M498.38 342.76a0.72 0.72 0 1 0 1.44 0a0.72 0.72 0 1 0 -1.44 0M501.49 342.76a0.72 0.72 0 1 0 1.44 0a0.72 0.72 0 1 0 -1.44 0M504.60 342.76a0.72 0.72 0 1 0 1.44 0a0.72 0.72 0 1 0 -1.44 0M506.83 342.76a1.6 1.6 0 1 0 3.20 0a1.6 1.6 0 1 0 -3.20 0M509.93 342.76a1.6 1.6 0 1 0 3.20 0a1.6 1.6 0 1 0 -3.20 0" fill="#3d2692"/>
<path d="M485.95 350.43a0.72 0.72 0 1 0 1.44 0a0.72 0.72 0 1 0 -1.44 0M489.05 350.43a0.72 0.72 0 1 0 1.44 0a0.72 0.72 0 1 0 -1.44 0M492.16 350.43a0.72 0.72 0 1 0 1.44 0a0.72 0.72 0 1 0 -1.44 0M495.27 350.43a0.72 0.72 0 1 0 1.44 0a0.72 0.72 0 1 0 -1.44 0M498.38 350.43a0.72 0.72 0 1 0 1.44 0a0.72 0.72 0 1 0 -1.44 0M500.61 350.43a1.6 1.6 0 1 0 3.20 0a1.6 1.6 0 1 0 -3.20 0M504.60 350.43a0.72 0.72 0 1 0 1.44 0a0.72 0.72 0 1 0 -1.44 0M507.71 350.43a0.72 0.72 0 1 0 1.44 0a0.72 0.72 0 1 0 -1.44 0M509.93 350.43a1.6 1.6 0 1 0 3.20 0a1.6 1.6 0 1 0 -3.20 0" fill="#981868"/>
<path d="M485.95 373.45a0.72 0.72 0 1 0 1.44 0a0.72 0.72 0 1 0 -1.44 0M489.05 373.45a0.72 0.72 0 1 0 1.44 0a0.72 0.72 0 1 0 -1.44 0M492.16 373.45a0.72 0.72 0 1 0 1.44 0a0.72 0.72 0 1 0 -1.44 0M495.27 373.45a0.72 0.72 0 1 0 1.44 0a0.72 0.72 0 1 0 -1.44 0M498.38 373.45a0.72 0.72 0 1 0 1.44 0a0.72 0.72 0 1 0 -1.44 0M500.61 373.45a1.6 1.6 0 1 0 3.20 0a1.6 1.6 0 1 0 -3.20 0M504.60 373.45a0.72 0.72 0 1 0 1.44 0a0.72 0.72 0 1 0 -1.44 0M507.71 373.45a0.72 0.72 0 1 0 1.44 0a0.72 0.72 0 1 0 -1.44 0M510.81 373.45a0.72 0.72 0 1 0 1.44 0a0.72 0.72 0 1 0 -1.44 0" fill="#871b79"/>
<rect x="484.8" y="269.1" width="28.6" height="124.3" fill="none" stroke="#1a1a1a" stroke-width="1"/>
<line x1="486.67" y1="393.4" x2="486.67" y2="394.4" stroke="#222" stroke-width="0.4"/>
<line x1="489.77" y1="393.4" x2="489.77" y2="394.4" stroke="#222" stroke-width="0.4"/>
<line x1="492.88" y1="393.4" x2="492.88" y2="394.4" stroke="#222" stroke-width="0.4"/>
<line x1="495.99" y1="393.4" x2="495.99" y2="394.4" stroke="#222" stroke-width="0.4"/>
<line x1="499.1" y1="393.4" x2="499.1" y2="394.4" stroke="#222" stroke-width="0.4"/>
<line x1="502.21" y1="393.4" x2="502.21" y2="394.4" stroke="#222" stroke-width="0.4"/>
<line x1="505.32" y1="393.4" x2="505.32" y2="394.4" stroke="#222" stroke-width="0.4"/>
<line x1="508.43" y1="393.4" x2="508.43" y2="394.4" stroke="#222" stroke-width="0.4"/>
<line x1="511.53" y1="393.4" x2="511.53" y2="394.4" stroke="#222" stroke-width="0.4"/>
<text x="499.1" y="400.1" font-size="4.3" text-anchor="middle" fill="#4f70b0" textLength="26.4" lengthAdjust="spacingAndGlyphs">123456789</text>
<line x1="457.5" y1="393.8" x2="457.5" y2="396.6" stroke="#333" stroke-width="0.55"/>
<path d="M457.50 393.2l-0.9 1.4h1.8z" fill="#333"/>
<text x="457.5" y="401.3" font-size="4" text-anchor="middle" fill="#333" stroke="#333" stroke-width="0.13">T</text>
<line x1="475.2" y1="393.8" x2="475.2" y2="396.6" stroke="#333" stroke-width="0.55"/>
<path d="M475.20 393.2l-0.9 1.4h1.8z" fill="#333"/>
<text x="475.2" y="401.3" font-size="4" text-anchor="middle" fill="#333" stroke="#333" stroke-width="0.13">HSPC</text>
<line x1="53" y1="403.8" x2="513" y2="403.8" stroke="#8ea2c8" stroke-width="1"/>
<text x="84.6" y="411.3" font-size="4.2" fill="#4466a6" stroke="#4466a6" stroke-width="0.02">1, HSC/MPP</text>
<text x="122.7" y="411.3" font-size="4.2" fill="#4466a6" stroke="#4466a6" stroke-width="0.02">3, MEP</text>
<text x="148.8" y="411.3" font-size="4.2" fill="#4466a6" stroke="#4466a6" stroke-width="0.02">5, EBM</text>
<text x="174.6" y="411.3" font-size="4.2" fill="#4466a6" stroke="#4466a6" stroke-width="0.02">7, Neu2</text>
<text x="202.9" y="411.3" font-size="4.2" fill="#4466a6" stroke="#4466a6" stroke-width="0.02">9, MD2</text>
<text x="250.4" y="411.3" font-size="4.2" fill="#4466a6" stroke="#4466a6" stroke-width="0.02">HSPC clusters</text>
<text x="84.6" y="420.9" font-size="4.2" fill="#4466a6" stroke="#4466a6" stroke-width="0.02">2, LMPP</text>
<text x="122.7" y="420.9" font-size="4.2" fill="#4466a6" stroke="#4466a6" stroke-width="0.02">4, MLP</text>
<text x="148.8" y="420.9" font-size="4.2" fill="#4466a6" stroke="#4466a6" stroke-width="0.02">6, Neu1</text>
<text x="174.6" y="420.9" font-size="4.2" fill="#4466a6" stroke="#4466a6" stroke-width="0.02">8, MD1</text>
<text x="353.9" y="410.3" font-size="4.1" text-anchor="middle" fill="#333" stroke="#333" stroke-width="0.13">Expression</text>
<defs><linearGradient id="gF" x1="0" x2="1" y1="0" y2="0"><stop offset="0" stop-color="#262680"/><stop offset="0.5" stop-color="#7a2090"/><stop offset="1" stop-color="#e81432"/></linearGradient></defs>
<rect x="336.1" y="412" width="36" height="5.1" fill="url(#gF)" stroke="#1a1a1a" stroke-width="0.7"/>
<line x1="347.3" y1="412.4" x2="347.3" y2="416.7" stroke="#fff" stroke-width="0.45"/>
<line x1="359.4" y1="412.4" x2="359.4" y2="416.7" stroke="#fff" stroke-width="0.45"/>
<line x1="369.4" y1="412.4" x2="369.4" y2="416.7" stroke="#fff" stroke-width="0.45"/>
<text x="335.2" y="418.4" font-size="3.8" fill="#333" transform="rotate(90 335.2 418.4)" stroke="#333" stroke-width="0.13">0.0</text>
<text x="343" y="418.4" font-size="3.8" fill="#333" transform="rotate(90 343 418.4)" stroke="#333" stroke-width="0.13">0.5</text>
<text x="351.2" y="418.4" font-size="3.8" fill="#333" transform="rotate(90 351.2 418.4)" stroke="#333" stroke-width="0.13">1.0</text>
<text x="359" y="418.4" font-size="3.8" fill="#333" transform="rotate(90 359 418.4)" stroke="#333" stroke-width="0.13">1.5</text>
<text x="366.8" y="418.4" font-size="3.8" fill="#333" transform="rotate(90 366.8 418.4)" stroke="#333" stroke-width="0.13">2.0</text>
<text x="400.3" y="410.7" font-size="4.1" fill="#333" stroke="#333" stroke-width="0.1">-log<tspan font-size="2.7" dy="0.9">10</tspan><tspan dy="-0.9">(P)</tspan></text>
<circle cx="392" cy="415.1" r="0.9" fill="#111"/>
<text x="390.7" y="418.4" font-size="3.8" fill="#333" transform="rotate(90 390.7 418.4)" stroke="#333" stroke-width="0.13">1.0</text>
<circle cx="400.1" cy="415.1" r="1.35" fill="#111"/>
<text x="398.8" y="418.4" font-size="3.8" fill="#333" transform="rotate(90 398.8 418.4)" stroke="#333" stroke-width="0.13">1.5</text>
<circle cx="407.7" cy="415.1" r="1.6" fill="#111"/>
<text x="406.4" y="418.4" font-size="3.8" fill="#333" transform="rotate(90 406.4 418.4)" stroke="#333" stroke-width="0.13">2.0</text>
<circle cx="415.8" cy="415.1" r="1.8" fill="#111"/>
<text x="414.5" y="418.4" font-size="3.8" fill="#333" transform="rotate(90 414.5 418.4)" stroke="#333" stroke-width="0.13">2.5</text>
<circle cx="423.4" cy="415.1" r="2" fill="#111"/>
<text x="422.1" y="418.4" font-size="3.8" fill="#333" transform="rotate(90 422.1 418.4)" stroke="#333" stroke-width="0.13">3.0</text>
<text x="6.6" y="443.1" font-size="11.31" font-weight="bold" fill="#000" stroke="#000" stroke-width="0.25">G</text>
<line x1="26.5" y1="455.6" x2="26.5" y2="535.3" stroke="#222" stroke-width="0.9"/>
<text x="23.4" y="495.6" font-size="5" text-anchor="middle" font-style="italic" fill="#333" transform="rotate(-90 23.4 495.6)" textLength="44" lengthAdjust="spacingAndGlyphs" stroke="#333" stroke-width="0.08">Average expression</text>
<text x="112.9" y="440.9" font-size="6.4" text-anchor="middle" fill="#2a2a2a" textLength="55.7" lengthAdjust="spacingAndGlyphs" stroke="#2a2a2a" stroke-width="0.12">Apoptosis signaling</text>
<line x1="38.7" y1="457" x2="38.7" y2="486" stroke="#222" stroke-width="0.9"/>
<line x1="37.4" y1="485" x2="38.7" y2="485" stroke="#222" stroke-width="0.55"/>
<text x="36.5" y="486.5" font-size="4.2" text-anchor="end" fill="#444" stroke="#444" stroke-width="0.08">0</text>
<line x1="37.4" y1="473.05" x2="38.7" y2="473.05" stroke="#222" stroke-width="0.55"/>
<text x="36.5" y="474.55" font-size="4.2" text-anchor="end" fill="#444" stroke="#444" stroke-width="0.08">1</text>
<line x1="37.4" y1="461.1" x2="38.7" y2="461.1" stroke="#222" stroke-width="0.55"/>
<text x="36.5" y="462.6" font-size="4.2" text-anchor="end" fill="#444" stroke="#444" stroke-width="0.08">2</text>
<line x1="44.7" y1="464.09" x2="44.7" y2="480.82" stroke="#a8a8a8" stroke-width="0.85"/>
<rect x="42.9" y="470.9" width="3.6" height="2.39" fill="#dadada"/>
<line x1="42.9" y1="472.45" x2="46.5" y2="472.45" stroke="#555" stroke-width="0.95"/>
<line x1="48.7" y1="463.49" x2="48.7" y2="480.22" stroke="#a8a8a8" stroke-width="0.85"/>
<rect x="46.9" y="468.27" width="3.6" height="5.98" fill="#2a5294"/>
<line x1="46.9" y1="471.62" x2="50.5" y2="471.62" stroke="#111" stroke-width="0.95"/>
<line x1="52.7" y1="464.09" x2="52.7" y2="480.82" stroke="#a8a8a8" stroke-width="0.85"/>
<rect x="50.9" y="468.27" width="3.6" height="5.38" fill="#c8102e"/>
<line x1="50.9" y1="471.26" x2="54.5" y2="471.26" stroke="#3a0a10" stroke-width="0.95"/>
<line x1="60.63" y1="468.27" x2="60.63" y2="480.82" stroke="#a8a8a8" stroke-width="0.85"/>
<rect x="58.83" y="473.05" width="3.6" height="1.79" fill="#dadada"/>
<line x1="58.83" y1="474.01" x2="62.43" y2="474.01" stroke="#555" stroke-width="0.95"/>
<line x1="64.63" y1="465.88" x2="64.63" y2="481.42" stroke="#a8a8a8" stroke-width="0.85"/>
<rect x="62.83" y="470.66" width="3.6" height="5.02" fill="#2a5294"/>
<line x1="62.83" y1="473.65" x2="66.43" y2="473.65" stroke="#111" stroke-width="0.95"/>
<line x1="68.63" y1="464.69" x2="68.63" y2="479.02" stroke="#a8a8a8" stroke-width="0.85"/>
<rect x="66.83" y="468.87" width="3.6" height="4.18" fill="#c8102e"/>
<line x1="66.83" y1="471.26" x2="70.43" y2="471.26" stroke="#3a0a10" stroke-width="0.95"/>
<line x1="76.56" y1="462.89" x2="76.56" y2="476.63" stroke="#a8a8a8" stroke-width="0.85"/>
<rect x="74.76" y="468.87" width="3.6" height="2.39" fill="#dadada"/>
<line x1="74.76" y1="470.06" x2="78.36" y2="470.06" stroke="#555" stroke-width="0.95"/>
<line x1="80.56" y1="461.7" x2="80.56" y2="475.44" stroke="#a8a8a8" stroke-width="0.85"/>
<rect x="78.76" y="467.07" width="3.6" height="3.59" fill="#2a5294"/>
<line x1="78.76" y1="469.46" x2="82.36" y2="469.46" stroke="#111" stroke-width="0.95"/>
<line x1="84.56" y1="461.7" x2="84.56" y2="474.25" stroke="#a8a8a8" stroke-width="0.85"/>
<rect x="82.76" y="467.07" width="3.6" height="2.99" fill="#c8102e"/>
<line x1="82.76" y1="468.27" x2="86.36" y2="468.27" stroke="#3a0a10" stroke-width="0.95"/>
<line x1="92.49" y1="468.87" x2="92.49" y2="483.81" stroke="#a8a8a8" stroke-width="0.85"/>
<rect x="90.69" y="476.04" width="3.6" height="2.39" fill="#dadada"/>
<line x1="90.69" y1="477.23" x2="94.29" y2="477.23" stroke="#555" stroke-width="0.95"/>
<line x1="96.49" y1="468.27" x2="96.49" y2="484.4" stroke="#a8a8a8" stroke-width="0.85"/>
<rect x="94.69" y="475.44" width="3.6" height="4.18" fill="#2a5294"/>
<line x1="94.69" y1="477.23" x2="98.29" y2="477.23" stroke="#111" stroke-width="0.95"/>
<line x1="100.49" y1="473.65" x2="100.49" y2="479.62" stroke="#a8a8a8" stroke-width="0.85"/>
<rect x="98.69" y="475.44" width="3.6" height="1.79" fill="#c8102e"/>
<line x1="98.69" y1="476.4" x2="102.29" y2="476.4" stroke="#3a0a10" stroke-width="0.95"/>
<line x1="108.42" y1="460.5" x2="108.42" y2="479.02" stroke="#a8a8a8" stroke-width="0.85"/>
<rect x="106.62" y="469.46" width="3.6" height="2.99" fill="#dadada"/>
<line x1="106.62" y1="470.66" x2="110.22" y2="470.66" stroke="#555" stroke-width="0.95"/>
<line x1="112.42" y1="463.49" x2="112.42" y2="480.22" stroke="#a8a8a8" stroke-width="0.85"/>
<rect x="110.62" y="469.46" width="3.6" height="4.18" fill="#2a5294"/>
<line x1="110.62" y1="471.86" x2="114.22" y2="471.86" stroke="#111" stroke-width="0.95"/>
<line x1="116.42" y1="465.88" x2="116.42" y2="479.02" stroke="#a8a8a8" stroke-width="0.85"/>
<rect x="114.62" y="470.06" width="3.6" height="3.58" fill="#c8102e"/>
<line x1="114.62" y1="472.45" x2="118.22" y2="472.45" stroke="#3a0a10" stroke-width="0.95"/>
<line x1="124.35" y1="461.1" x2="124.35" y2="485" stroke="#a8a8a8" stroke-width="0.85"/>
<rect x="122.55" y="476.99" width="3.6" height="3.94" fill="#dadada"/>
<line x1="122.55" y1="479.62" x2="126.15" y2="479.62" stroke="#555" stroke-width="0.95"/>
<line x1="128.35" y1="459.9" x2="128.35" y2="483.81" stroke="#a8a8a8" stroke-width="0.85"/>
<rect x="126.55" y="470.06" width="3.6" height="10.87" fill="#2a5294"/>
<line x1="126.55" y1="477.59" x2="130.15" y2="477.59" stroke="#111" stroke-width="0.95"/>
<line x1="132.35" y1="475.44" x2="132.35" y2="482.61" stroke="#a8a8a8" stroke-width="0.85"/>
<rect x="130.55" y="476.63" width="3.6" height="3.82" fill="#c8102e"/>
<line x1="130.55" y1="478.79" x2="134.15" y2="478.79" stroke="#3a0a10" stroke-width="0.95"/>
<line x1="140.28" y1="460.26" x2="140.28" y2="481.06" stroke="#a8a8a8" stroke-width="0.85"/>
<rect x="138.48" y="468.39" width="3.6" height="4.06" fill="#dadada"/>
<line x1="138.48" y1="470.66" x2="142.08" y2="470.66" stroke="#555" stroke-width="0.95"/>
<line x1="144.28" y1="458.71" x2="144.28" y2="477.83" stroke="#a8a8a8" stroke-width="0.85"/>
<rect x="142.48" y="465.52" width="3.6" height="5.14" fill="#2a5294"/>
<line x1="142.48" y1="467.79" x2="146.08" y2="467.79" stroke="#111" stroke-width="0.95"/>
<line x1="148.28" y1="461.1" x2="148.28" y2="474.25" stroke="#a8a8a8" stroke-width="0.85"/>
<rect x="146.48" y="464.69" width="3.6" height="4.78" fill="#c8102e"/>
<line x1="146.48" y1="466.6" x2="150.08" y2="466.6" stroke="#3a0a10" stroke-width="0.95"/>
<line x1="156.21" y1="464.69" x2="156.21" y2="481.89" stroke="#a8a8a8" stroke-width="0.85"/>
<rect x="154.41" y="470.66" width="3.6" height="4.78" fill="#dadada"/>
<line x1="154.41" y1="472.69" x2="158.01" y2="472.69" stroke="#555" stroke-width="0.95"/>
<line x1="160.21" y1="462.89" x2="160.21" y2="480.22" stroke="#a8a8a8" stroke-width="0.85"/>
<rect x="158.41" y="469.46" width="3.6" height="4.18" fill="#2a5294"/>
<line x1="158.41" y1="471.5" x2="162.01" y2="471.5" stroke="#111" stroke-width="0.95"/>
<line x1="164.21" y1="465.52" x2="164.21" y2="471.86" stroke="#a8a8a8" stroke-width="0.85"/>
<rect x="162.41" y="467.19" width="3.6" height="3.47" fill="#c8102e"/>
<line x1="162.41" y1="468.99" x2="166.01" y2="468.99" stroke="#3a0a10" stroke-width="0.95"/>
<line x1="172.14" y1="462.06" x2="172.14" y2="478.43" stroke="#a8a8a8" stroke-width="0.85"/>
<rect x="170.34" y="467.19" width="3.6" height="4.3" fill="#dadada"/>
<line x1="170.34" y1="469.35" x2="173.94" y2="469.35" stroke="#555" stroke-width="0.95"/>
<line x1="176.14" y1="461.1" x2="176.14" y2="475.8" stroke="#a8a8a8" stroke-width="0.85"/>
<rect x="174.34" y="464.69" width="3.6" height="4.18" fill="#2a5294"/>
<line x1="174.34" y1="466.48" x2="177.94" y2="466.48" stroke="#111" stroke-width="0.95"/>
<line x1="180.14" y1="462.06" x2="180.14" y2="470.66" stroke="#a8a8a8" stroke-width="0.85"/>
<rect x="178.34" y="464.33" width="3.6" height="2.39" fill="#c8102e"/>
<line x1="178.34" y1="465.52" x2="181.94" y2="465.52" stroke="#3a0a10" stroke-width="0.95"/>
<line x1="44.3" y1="450.4" x2="49.1" y2="450.4" stroke="#666" stroke-width="0.5"/>
<text x="46.7" y="450.7" font-size="4.4" text-anchor="middle" fill="#3a3a3a" stroke="#3a3a3a" stroke-width="0.05">*</text>
<line x1="44.3" y1="457" x2="53.1" y2="457" stroke="#666" stroke-width="0.5"/>
<text x="48.7" y="457.1" font-size="4.4" text-anchor="middle" fill="#3a3a3a" stroke="#3a3a3a" stroke-width="0.05">***</text>
<line x1="60.23" y1="450.4" x2="65.03" y2="450.4" stroke="#666" stroke-width="0.5"/>
<text x="62.63" y="450.7" font-size="4.4" text-anchor="middle" fill="#3a3a3a" stroke="#3a3a3a" stroke-width="0.05">*</text>
<line x1="60.23" y1="457" x2="69.03" y2="457" stroke="#666" stroke-width="0.5"/>
<text x="64.63" y="457.1" font-size="4.4" text-anchor="middle" fill="#3a3a3a" stroke="#3a3a3a" stroke-width="0.05">***</text>
<line x1="76.16" y1="450.4" x2="80.96" y2="450.4" stroke="#666" stroke-width="0.5"/>
<text x="78.56" y="450.7" font-size="4.4" text-anchor="middle" fill="#3a3a3a" stroke="#3a3a3a" stroke-width="0.05">***</text>
<line x1="76.16" y1="457" x2="84.96" y2="457" stroke="#666" stroke-width="0.5"/>
<text x="80.56" y="457.1" font-size="4.4" text-anchor="middle" fill="#3a3a3a" stroke="#3a3a3a" stroke-width="0.05">***</text>
<line x1="92.09" y1="450.4" x2="96.89" y2="450.4" stroke="#666" stroke-width="0.5"/>
<text x="94.49" y="449.5" font-size="3.9" text-anchor="middle" fill="#444" stroke="#444" stroke-width="0.08">n.s.</text>
<line x1="92.09" y1="457" x2="100.89" y2="457" stroke="#666" stroke-width="0.5"/>
<text x="96.49" y="457.1" font-size="4.4" text-anchor="middle" fill="#3a3a3a" stroke="#3a3a3a" stroke-width="0.05">*</text>
<line x1="108.02" y1="450.4" x2="112.82" y2="450.4" stroke="#666" stroke-width="0.5"/>
<text x="110.42" y="449.5" font-size="3.9" text-anchor="middle" fill="#444" stroke="#444" stroke-width="0.08">n.s.</text>
<line x1="108.02" y1="457" x2="116.82" y2="457" stroke="#666" stroke-width="0.5"/>
<text x="112.42" y="455.9" font-size="3.9" text-anchor="middle" fill="#444" stroke="#444" stroke-width="0.08">n.s.</text>
<line x1="123.95" y1="450.4" x2="128.75" y2="450.4" stroke="#666" stroke-width="0.5"/>
<text x="126.35" y="450.7" font-size="4.4" text-anchor="middle" fill="#3a3a3a" stroke="#3a3a3a" stroke-width="0.05">*</text>
<line x1="123.95" y1="457" x2="132.75" y2="457" stroke="#666" stroke-width="0.5"/>
<text x="128.35" y="455.9" font-size="3.9" text-anchor="middle" fill="#444" stroke="#444" stroke-width="0.08">n.s.</text>
<line x1="139.88" y1="450.4" x2="144.68" y2="450.4" stroke="#666" stroke-width="0.5"/>
<text x="142.28" y="450.7" font-size="4.4" text-anchor="middle" fill="#3a3a3a" stroke="#3a3a3a" stroke-width="0.05">***</text>
<line x1="139.88" y1="457" x2="148.68" y2="457" stroke="#666" stroke-width="0.5"/>
<text x="144.28" y="457.1" font-size="4.4" text-anchor="middle" fill="#3a3a3a" stroke="#3a3a3a" stroke-width="0.05">***</text>
<line x1="155.81" y1="450.4" x2="160.61" y2="450.4" stroke="#666" stroke-width="0.5"/>
<text x="158.21" y="450.7" font-size="4.4" text-anchor="middle" fill="#3a3a3a" stroke="#3a3a3a" stroke-width="0.05">*</text>
<line x1="155.81" y1="457" x2="164.61" y2="457" stroke="#666" stroke-width="0.5"/>
<text x="160.21" y="457.1" font-size="4.4" text-anchor="middle" fill="#3a3a3a" stroke="#3a3a3a" stroke-width="0.05">**</text>
<line x1="171.74" y1="450.4" x2="176.54" y2="450.4" stroke="#666" stroke-width="0.5"/>
<text x="174.14" y="450.7" font-size="4.4" text-anchor="middle" fill="#3a3a3a" stroke="#3a3a3a" stroke-width="0.05">***</text>
<line x1="171.74" y1="457" x2="180.54" y2="457" stroke="#666" stroke-width="0.5"/>
<text x="176.14" y="457.1" font-size="4.4" text-anchor="middle" fill="#3a3a3a" stroke="#3a3a3a" stroke-width="0.05">***</text>
<text x="112.9" y="492.7" font-size="6.4" text-anchor="middle" fill="#2a2a2a" textLength="57.5" lengthAdjust="spacingAndGlyphs" stroke="#2a2a2a" stroke-width="0.12">Pro-apoptotic genes</text>
<line x1="39.4" y1="505.6" x2="39.4" y2="535" stroke="#222" stroke-width="0.9"/>
<line x1="38.1" y1="525.1" x2="39.4" y2="525.1" stroke="#222" stroke-width="0.55"/>
<text x="37.2" y="526.6" font-size="4.2" text-anchor="end" fill="#444" stroke="#444" stroke-width="0.08">1</text>
<line x1="38.1" y1="517.85" x2="39.4" y2="517.85" stroke="#222" stroke-width="0.55"/>
<text x="37.2" y="519.35" font-size="4.2" text-anchor="end" fill="#444" stroke="#444" stroke-width="0.08">2</text>
<line x1="38.1" y1="510.6" x2="39.4" y2="510.6" stroke="#222" stroke-width="0.55"/>
<text x="37.2" y="512.1" font-size="4.2" text-anchor="end" fill="#444" stroke="#444" stroke-width="0.08">3</text>
<line x1="38.95" y1="535" x2="228" y2="535" stroke="#222" stroke-width="0.9"/>
<line x1="44.7" y1="514.95" x2="44.7" y2="531.62" stroke="#a8a8a8" stroke-width="0.85"/>
<rect x="42.9" y="523.65" width="3.6" height="1.45" fill="#dadada"/>
<line x1="42.9" y1="524.38" x2="46.5" y2="524.38" stroke="#555" stroke-width="0.95"/>
<line x1="48.7" y1="514.23" x2="48.7" y2="531.62" stroke="#a8a8a8" stroke-width="0.85"/>
<rect x="46.9" y="521.48" width="3.6" height="3.62" fill="#2a5294"/>
<line x1="46.9" y1="523.65" x2="50.5" y2="523.65" stroke="#111" stroke-width="0.95"/>
<line x1="52.7" y1="514.95" x2="52.7" y2="531.62" stroke="#a8a8a8" stroke-width="0.85"/>
<rect x="50.9" y="520.39" width="3.6" height="4.35" fill="#c8102e"/>
<line x1="50.9" y1="522.93" x2="54.5" y2="522.93" stroke="#3a0a10" stroke-width="0.95"/>
<line x1="60.63" y1="515.68" x2="60.63" y2="531.62" stroke="#a8a8a8" stroke-width="0.85"/>
<rect x="58.83" y="523.65" width="3.6" height="1.81" fill="#dadada"/>
<line x1="58.83" y1="524.74" x2="62.43" y2="524.74" stroke="#555" stroke-width="0.95"/>
<line x1="64.63" y1="515.68" x2="64.63" y2="531.62" stroke="#a8a8a8" stroke-width="0.85"/>
<rect x="62.83" y="522.93" width="3.6" height="4.35" fill="#2a5294"/>
<line x1="62.83" y1="525.1" x2="66.43" y2="525.1" stroke="#111" stroke-width="0.95"/>
<line x1="68.63" y1="516.4" x2="68.63" y2="531.62" stroke="#a8a8a8" stroke-width="0.85"/>
<rect x="66.83" y="522.2" width="3.6" height="3.62" fill="#c8102e"/>
<line x1="66.83" y1="524.01" x2="70.43" y2="524.01" stroke="#3a0a10" stroke-width="0.95"/>
<line x1="76.56" y1="512.77" x2="76.56" y2="530.9" stroke="#a8a8a8" stroke-width="0.85"/>
<rect x="74.76" y="520.75" width="3.6" height="2.18" fill="#dadada"/>
<line x1="74.76" y1="521.84" x2="78.36" y2="521.84" stroke="#555" stroke-width="0.95"/>
<line x1="80.56" y1="514.23" x2="80.56" y2="529.45" stroke="#a8a8a8" stroke-width="0.85"/>
<rect x="78.76" y="518.58" width="3.6" height="4.35" fill="#2a5294"/>
<line x1="78.76" y1="521.11" x2="82.36" y2="521.11" stroke="#111" stroke-width="0.95"/>
<line x1="84.56" y1="511.33" x2="84.56" y2="528" stroke="#a8a8a8" stroke-width="0.85"/>
<rect x="82.76" y="517.85" width="3.6" height="3.62" fill="#c8102e"/>
<line x1="82.76" y1="519.66" x2="86.36" y2="519.66" stroke="#3a0a10" stroke-width="0.95"/>
<line x1="92.49" y1="517.85" x2="92.49" y2="531.99" stroke="#a8a8a8" stroke-width="0.85"/>
<rect x="90.69" y="528" width="3.6" height="1.81" fill="#dadada"/>
<line x1="90.69" y1="528.73" x2="94.29" y2="528.73" stroke="#555" stroke-width="0.95"/>
<line x1="96.49" y1="518.58" x2="96.49" y2="531.99" stroke="#a8a8a8" stroke-width="0.85"/>
<rect x="94.69" y="528" width="3.6" height="3.62" fill="#2a5294"/>
<line x1="94.69" y1="529.09" x2="98.29" y2="529.09" stroke="#111" stroke-width="0.95"/>
<line x1="100.49" y1="524.38" x2="100.49" y2="531.62" stroke="#a8a8a8" stroke-width="0.85"/>
<rect x="98.69" y="527.27" width="3.6" height="2.9" fill="#c8102e"/>
<line x1="98.69" y1="528.73" x2="102.29" y2="528.73" stroke="#3a0a10" stroke-width="0.95"/>
<line x1="108.42" y1="516.4" x2="108.42" y2="531.99" stroke="#a8a8a8" stroke-width="0.85"/>
<rect x="106.62" y="525.1" width="3.6" height="2.9" fill="#dadada"/>
<line x1="106.62" y1="526.55" x2="110.22" y2="526.55" stroke="#555" stroke-width="0.95"/>
<line x1="112.42" y1="517.85" x2="112.42" y2="531.62" stroke="#a8a8a8" stroke-width="0.85"/>
<rect x="110.62" y="523.65" width="3.6" height="3.62" fill="#2a5294"/>
<line x1="110.62" y1="525.46" x2="114.22" y2="525.46" stroke="#111" stroke-width="0.95"/>
<line x1="116.42" y1="520.75" x2="116.42" y2="530.9" stroke="#a8a8a8" stroke-width="0.85"/>
<rect x="114.62" y="524.01" width="3.6" height="2.9" fill="#c8102e"/>
<line x1="114.62" y1="525.46" x2="118.22" y2="525.46" stroke="#3a0a10" stroke-width="0.95"/>
<line x1="124.35" y1="516.4" x2="124.35" y2="532.35" stroke="#a8a8a8" stroke-width="0.85"/>
<rect x="122.55" y="525.83" width="3.6" height="4.35" fill="#dadada"/>
<line x1="122.55" y1="528" x2="126.15" y2="528" stroke="#555" stroke-width="0.95"/>
<line x1="128.35" y1="516.4" x2="128.35" y2="532.35" stroke="#a8a8a8" stroke-width="0.85"/>
<rect x="126.55" y="522.93" width="3.6" height="7.25" fill="#2a5294"/>
<line x1="126.55" y1="526.55" x2="130.15" y2="526.55" stroke="#111" stroke-width="0.95"/>
<line x1="132.35" y1="525.83" x2="132.35" y2="532.35" stroke="#a8a8a8" stroke-width="0.85"/>
<rect x="130.55" y="528" width="3.6" height="2.9" fill="#c8102e"/>
<line x1="130.55" y1="529.09" x2="134.15" y2="529.09" stroke="#3a0a10" stroke-width="0.95"/>
<line x1="140.28" y1="515.68" x2="140.28" y2="531.62" stroke="#a8a8a8" stroke-width="0.85"/>
<rect x="138.48" y="522.93" width="3.6" height="2.17" fill="#dadada"/>
<line x1="138.48" y1="524.01" x2="142.08" y2="524.01" stroke="#555" stroke-width="0.95"/>
<line x1="144.28" y1="514.23" x2="144.28" y2="530.18" stroke="#a8a8a8" stroke-width="0.85"/>
<rect x="142.48" y="520.02" width="3.6" height="3.62" fill="#2a5294"/>
<line x1="142.48" y1="521.84" x2="146.08" y2="521.84" stroke="#111" stroke-width="0.95"/>
<line x1="148.28" y1="514.23" x2="148.28" y2="528.73" stroke="#a8a8a8" stroke-width="0.85"/>
<rect x="146.48" y="518.58" width="3.6" height="3.62" fill="#c8102e"/>
<line x1="146.48" y1="520.39" x2="150.08" y2="520.39" stroke="#3a0a10" stroke-width="0.95"/>
<line x1="156.21" y1="516.4" x2="156.21" y2="531.62" stroke="#a8a8a8" stroke-width="0.85"/>
<rect x="154.41" y="522.93" width="3.6" height="2.9" fill="#dadada"/>
<line x1="154.41" y1="524.38" x2="158.01" y2="524.38" stroke="#555" stroke-width="0.95"/>
<line x1="160.21" y1="515.68" x2="160.21" y2="530.9" stroke="#a8a8a8" stroke-width="0.85"/>
<rect x="158.41" y="521.48" width="3.6" height="3.62" fill="#2a5294"/>
<line x1="158.41" y1="523.29" x2="162.01" y2="523.29" stroke="#111" stroke-width="0.95"/>
<line x1="164.21" y1="514.23" x2="164.21" y2="529.45" stroke="#a8a8a8" stroke-width="0.85"/>
<rect x="162.41" y="518.94" width="3.6" height="5.08" fill="#c8102e"/>
<line x1="162.41" y1="521.48" x2="166.01" y2="521.48" stroke="#3a0a10" stroke-width="0.95"/>
<line x1="172.14" y1="514.95" x2="172.14" y2="530.18" stroke="#a8a8a8" stroke-width="0.85"/>
<rect x="170.34" y="521.11" width="3.6" height="2.54" fill="#dadada"/>
<line x1="170.34" y1="522.56" x2="173.94" y2="522.56" stroke="#555" stroke-width="0.95"/>
<line x1="176.14" y1="514.23" x2="176.14" y2="528.73" stroke="#a8a8a8" stroke-width="0.85"/>
<rect x="174.34" y="519.3" width="3.6" height="2.9" fill="#2a5294"/>
<line x1="174.34" y1="520.75" x2="177.94" y2="520.75" stroke="#111" stroke-width="0.95"/>
<line x1="180.14" y1="516.4" x2="180.14" y2="522.93" stroke="#a8a8a8" stroke-width="0.85"/>
<rect x="178.34" y="518.94" width="3.6" height="1.45" fill="#c8102e"/>
<line x1="178.34" y1="519.66" x2="181.94" y2="519.66" stroke="#3a0a10" stroke-width="0.95"/>
<line x1="44.3" y1="500.9" x2="49.1" y2="500.9" stroke="#666" stroke-width="0.5"/>
<text x="46.7" y="501" font-size="4.4" text-anchor="middle" fill="#3a3a3a" stroke="#3a3a3a" stroke-width="0.05">***</text>
<line x1="44.3" y1="507.5" x2="53.1" y2="507.5" stroke="#666" stroke-width="0.5"/>
<text x="48.7" y="507.7" font-size="4.4" text-anchor="middle" fill="#3a3a3a" stroke="#3a3a3a" stroke-width="0.05">***</text>
<line x1="60.23" y1="500.9" x2="65.03" y2="500.9" stroke="#666" stroke-width="0.5"/>
<text x="62.63" y="499.8" font-size="3.9" text-anchor="middle" fill="#444" stroke="#444" stroke-width="0.08">n.s.</text>
<line x1="60.23" y1="507.5" x2="69.03" y2="507.5" stroke="#666" stroke-width="0.5"/>
<text x="64.63" y="507.7" font-size="4.4" text-anchor="middle" fill="#3a3a3a" stroke="#3a3a3a" stroke-width="0.05">*</text>
<line x1="76.16" y1="500.9" x2="80.96" y2="500.9" stroke="#666" stroke-width="0.5"/>
<text x="78.56" y="501" font-size="4.4" text-anchor="middle" fill="#3a3a3a" stroke="#3a3a3a" stroke-width="0.05">**</text>
<line x1="76.16" y1="507.5" x2="84.96" y2="507.5" stroke="#666" stroke-width="0.5"/>
<text x="80.56" y="507.7" font-size="4.4" text-anchor="middle" fill="#3a3a3a" stroke="#3a3a3a" stroke-width="0.05">**</text>
<line x1="92.09" y1="500.9" x2="96.89" y2="500.9" stroke="#666" stroke-width="0.5"/>
<text x="94.49" y="499.8" font-size="3.9" text-anchor="middle" fill="#444" stroke="#444" stroke-width="0.08">n.s.</text>
<line x1="92.09" y1="507.5" x2="100.89" y2="507.5" stroke="#666" stroke-width="0.5"/>
<text x="96.49" y="506.5" font-size="3.9" text-anchor="middle" fill="#444" stroke="#444" stroke-width="0.08">n.s.</text>
<line x1="108.02" y1="500.9" x2="112.82" y2="500.9" stroke="#666" stroke-width="0.5"/>
<text x="110.42" y="499.8" font-size="3.9" text-anchor="middle" fill="#444" stroke="#444" stroke-width="0.08">n.s.</text>
<line x1="108.02" y1="507.5" x2="116.82" y2="507.5" stroke="#666" stroke-width="0.5"/>
<text x="112.42" y="506.5" font-size="3.9" text-anchor="middle" fill="#444" stroke="#444" stroke-width="0.08">n.s.</text>
<line x1="123.95" y1="500.9" x2="128.75" y2="500.9" stroke="#666" stroke-width="0.5"/>
<text x="126.35" y="501" font-size="4.4" text-anchor="middle" fill="#3a3a3a" stroke="#3a3a3a" stroke-width="0.05">**</text>
<line x1="123.95" y1="507.5" x2="132.75" y2="507.5" stroke="#666" stroke-width="0.5"/>
<text x="128.35" y="506.5" font-size="3.9" text-anchor="middle" fill="#444" stroke="#444" stroke-width="0.08">n.s.</text>
<line x1="139.88" y1="500.9" x2="144.68" y2="500.9" stroke="#666" stroke-width="0.5"/>
<text x="142.28" y="501" font-size="4.4" text-anchor="middle" fill="#3a3a3a" stroke="#3a3a3a" stroke-width="0.05">***</text>
<line x1="139.88" y1="507.5" x2="148.68" y2="507.5" stroke="#666" stroke-width="0.5"/>
<text x="144.28" y="507.7" font-size="4.4" text-anchor="middle" fill="#3a3a3a" stroke="#3a3a3a" stroke-width="0.05">***</text>
<line x1="155.81" y1="500.9" x2="160.61" y2="500.9" stroke="#666" stroke-width="0.5"/>
<text x="158.21" y="499.8" font-size="3.9" text-anchor="middle" fill="#444" stroke="#444" stroke-width="0.08">n.s.</text>
<line x1="155.81" y1="507.5" x2="164.61" y2="507.5" stroke="#666" stroke-width="0.5"/>
<text x="160.21" y="507.7" font-size="4.4" text-anchor="middle" fill="#3a3a3a" stroke="#3a3a3a" stroke-width="0.05">*</text>
<line x1="171.74" y1="500.9" x2="176.54" y2="500.9" stroke="#666" stroke-width="0.5"/>
<text x="174.14" y="501" font-size="4.4" text-anchor="middle" fill="#3a3a3a" stroke="#3a3a3a" stroke-width="0.05">*</text>
<line x1="171.74" y1="507.5" x2="180.54" y2="507.5" stroke="#666" stroke-width="0.5"/>
<text x="176.14" y="507.7" font-size="4.4" text-anchor="middle" fill="#3a3a3a" stroke="#3a3a3a" stroke-width="0.05">**</text>
<line x1="48.7" y1="535" x2="48.7" y2="536.1" stroke="#222" stroke-width="0.5"/>
<text x="49.9" y="538.4" font-size="4.2" text-anchor="end" fill="#333" transform="rotate(-45 49.9 538.4)" stroke="#333" stroke-width="0.08">HSC/MPP</text>
<line x1="64.63" y1="535" x2="64.63" y2="536.1" stroke="#222" stroke-width="0.5"/>
<text x="65.83" y="538.4" font-size="4.2" text-anchor="end" fill="#333" transform="rotate(-45 65.83 538.4)" stroke="#333" stroke-width="0.08">LMPP</text>
<line x1="80.56" y1="535" x2="80.56" y2="536.1" stroke="#222" stroke-width="0.5"/>
<text x="81.76" y="538.4" font-size="4.2" text-anchor="end" fill="#333" transform="rotate(-45 81.76 538.4)" stroke="#333" stroke-width="0.08">MEP</text>
<line x1="96.49" y1="535" x2="96.49" y2="536.1" stroke="#222" stroke-width="0.5"/>
<text x="97.69" y="538.4" font-size="4.2" text-anchor="end" fill="#333" transform="rotate(-45 97.69 538.4)" stroke="#333" stroke-width="0.08">MLP</text>
<line x1="112.42" y1="535" x2="112.42" y2="536.1" stroke="#222" stroke-width="0.5"/>
<text x="113.62" y="538.4" font-size="4.2" text-anchor="end" fill="#333" transform="rotate(-45 113.62 538.4)" stroke="#333" stroke-width="0.08">EBM</text>
<line x1="128.35" y1="535" x2="128.35" y2="536.1" stroke="#222" stroke-width="0.5"/>
<text x="129.55" y="538.4" font-size="4.2" text-anchor="end" fill="#333" transform="rotate(-45 129.55 538.4)" stroke="#333" stroke-width="0.08">Neu1</text>
<line x1="144.28" y1="535" x2="144.28" y2="536.1" stroke="#222" stroke-width="0.5"/>
<text x="145.48" y="538.4" font-size="4.2" text-anchor="end" fill="#333" transform="rotate(-45 145.48 538.4)" stroke="#333" stroke-width="0.08">Neu2</text>
<line x1="160.21" y1="535" x2="160.21" y2="536.1" stroke="#222" stroke-width="0.5"/>
<text x="161.41" y="538.4" font-size="4.2" text-anchor="end" fill="#333" transform="rotate(-45 161.41 538.4)" stroke="#333" stroke-width="0.08">MD1</text>
<line x1="176.14" y1="535" x2="176.14" y2="536.1" stroke="#222" stroke-width="0.5"/>
<text x="177.34" y="538.4" font-size="4.2" text-anchor="end" fill="#333" transform="rotate(-45 177.34 538.4)" stroke="#333" stroke-width="0.08">MD2</text>
<text x="296.4" y="441" font-size="6.4" text-anchor="middle" fill="#2a2a2a" textLength="26.7" lengthAdjust="spacingAndGlyphs" stroke="#2a2a2a" stroke-width="0.12">Caspases</text>
<text x="207.6" y="470.4" font-size="5" text-anchor="middle" font-style="italic" fill="#333" transform="rotate(-90 207.6 470.4)" stroke="#333" stroke-width="0.08">Average</text>
<text x="215.4" y="470.4" font-size="5" text-anchor="middle" font-style="italic" fill="#333" transform="rotate(-90 215.4 470.4)" stroke="#333" stroke-width="0.08">expression</text>
<line x1="227" y1="457.3" x2="227" y2="485.7" stroke="#222" stroke-width="0.9"/>
<line x1="225.7" y1="484.2" x2="227" y2="484.2" stroke="#222" stroke-width="0.55"/>
<text x="224.8" y="485.7" font-size="4.2" text-anchor="end" fill="#444" stroke="#444" stroke-width="0.08">0</text>
<line x1="225.7" y1="471.8" x2="227" y2="471.8" stroke="#222" stroke-width="0.55"/>
<text x="224.8" y="473.3" font-size="4.2" text-anchor="end" fill="#444" stroke="#444" stroke-width="0.08">2</text>
<line x1="225.7" y1="459.4" x2="227" y2="459.4" stroke="#222" stroke-width="0.55"/>
<text x="224.8" y="460.9" font-size="4.2" text-anchor="end" fill="#444" stroke="#444" stroke-width="0.08">4</text>
<line x1="232.05" y1="461.88" x2="232.05" y2="484.2" stroke="#a8a8a8" stroke-width="0.85"/>
<rect x="230.3" y="473.04" width="3.5" height="4.34" fill="#dadada"/>
<line x1="230.3" y1="475.52" x2="233.8" y2="475.52" stroke="#555" stroke-width="0.95"/>
<line x1="236" y1="463.12" x2="236" y2="484.2" stroke="#a8a8a8" stroke-width="0.85"/>
<rect x="234.25" y="471.8" width="3.5" height="6.2" fill="#2a5294"/>
<line x1="234.25" y1="475.21" x2="237.75" y2="475.21" stroke="#111" stroke-width="0.95"/>
<line x1="239.95" y1="462.5" x2="239.95" y2="484.2" stroke="#a8a8a8" stroke-width="0.85"/>
<rect x="238.2" y="469.94" width="3.5" height="7.44" fill="#c8102e"/>
<line x1="238.2" y1="474.28" x2="241.7" y2="474.28" stroke="#3a0a10" stroke-width="0.95"/>
<line x1="247.17" y1="464.36" x2="247.17" y2="484.2" stroke="#a8a8a8" stroke-width="0.85"/>
<rect x="245.42" y="474.9" width="3.5" height="3.72" fill="#dadada"/>
<line x1="245.42" y1="477.07" x2="248.92" y2="477.07" stroke="#555" stroke-width="0.95"/>
<line x1="251.12" y1="463.74" x2="251.12" y2="484.2" stroke="#a8a8a8" stroke-width="0.85"/>
<rect x="249.37" y="473.66" width="3.5" height="6.2" fill="#2a5294"/>
<line x1="249.37" y1="476.45" x2="252.87" y2="476.45" stroke="#111" stroke-width="0.95"/>
<line x1="255.07" y1="463.74" x2="255.07" y2="483.58" stroke="#a8a8a8" stroke-width="0.85"/>
<rect x="253.32" y="468.7" width="3.5" height="8.06" fill="#c8102e"/>
<line x1="253.32" y1="473.04" x2="256.82" y2="473.04" stroke="#3a0a10" stroke-width="0.95"/>
<line x1="262.29" y1="458.16" x2="262.29" y2="482.34" stroke="#a8a8a8" stroke-width="0.85"/>
<rect x="260.54" y="468.7" width="3.5" height="6.2" fill="#dadada"/>
<line x1="260.54" y1="471.8" x2="264.04" y2="471.8" stroke="#555" stroke-width="0.95"/>
<line x1="266.24" y1="462.5" x2="266.24" y2="481.72" stroke="#a8a8a8" stroke-width="0.85"/>
<rect x="264.49" y="469.32" width="3.5" height="5.58" fill="#2a5294"/>
<line x1="264.49" y1="471.8" x2="267.99" y2="471.8" stroke="#111" stroke-width="0.95"/>
<line x1="270.19" y1="463.74" x2="270.19" y2="478.62" stroke="#a8a8a8" stroke-width="0.85"/>
<rect x="268.44" y="466.84" width="3.5" height="5.58" fill="#c8102e"/>
<line x1="268.44" y1="469.94" x2="271.94" y2="469.94" stroke="#3a0a10" stroke-width="0.95"/>
<line x1="277.41" y1="464.98" x2="277.41" y2="484.2" stroke="#a8a8a8" stroke-width="0.85"/>
<rect x="275.66" y="478" width="3.5" height="4.96" fill="#dadada"/>
<line x1="275.66" y1="480.48" x2="279.16" y2="480.48" stroke="#555" stroke-width="0.95"/>
<line x1="281.36" y1="465.6" x2="281.36" y2="484.2" stroke="#a8a8a8" stroke-width="0.85"/>
<rect x="279.61" y="476.76" width="3.5" height="7.44" fill="#2a5294"/>
<line x1="279.61" y1="480.79" x2="283.11" y2="480.79" stroke="#111" stroke-width="0.95"/>
<line x1="285.31" y1="471.18" x2="285.31" y2="480.48" stroke="#a8a8a8" stroke-width="0.85"/>
<rect x="283.56" y="473.66" width="3.5" height="3.72" fill="#c8102e"/>
<line x1="283.56" y1="475.52" x2="287.06" y2="475.52" stroke="#3a0a10" stroke-width="0.95"/>
<line x1="292.53" y1="460.64" x2="292.53" y2="484.2" stroke="#a8a8a8" stroke-width="0.85"/>
<rect x="290.78" y="472.42" width="3.5" height="6.2" fill="#dadada"/>
<line x1="290.78" y1="475.52" x2="294.28" y2="475.52" stroke="#555" stroke-width="0.95"/>
<line x1="296.48" y1="468.08" x2="296.48" y2="484.2" stroke="#a8a8a8" stroke-width="0.85"/>
<rect x="294.73" y="474.28" width="3.5" height="4.96" fill="#2a5294"/>
<line x1="294.73" y1="476.76" x2="298.23" y2="476.76" stroke="#111" stroke-width="0.95"/>
<line x1="300.43" y1="466.84" x2="300.43" y2="480.48" stroke="#a8a8a8" stroke-width="0.85"/>
<rect x="298.68" y="469.94" width="3.5" height="7.44" fill="#c8102e"/>
<line x1="298.68" y1="473.04" x2="302.18" y2="473.04" stroke="#3a0a10" stroke-width="0.95"/>
<line x1="307.65" y1="468.08" x2="307.65" y2="484.2" stroke="#a8a8a8" stroke-width="0.85"/>
<rect x="305.9" y="478.62" width="3.5" height="4.96" fill="#dadada"/>
<line x1="305.9" y1="481.72" x2="309.4" y2="481.72" stroke="#555" stroke-width="0.95"/>
<line x1="311.6" y1="466.22" x2="311.6" y2="484.2" stroke="#a8a8a8" stroke-width="0.85"/>
<rect x="309.85" y="476.14" width="3.5" height="8.06" fill="#2a5294"/>
<line x1="309.85" y1="480.48" x2="313.35" y2="480.48" stroke="#111" stroke-width="0.95"/>
<line x1="315.55" y1="474.9" x2="315.55" y2="484.2" stroke="#a8a8a8" stroke-width="0.85"/>
<rect x="313.8" y="478.62" width="3.5" height="4.96" fill="#c8102e"/>
<line x1="313.8" y1="481.1" x2="317.3" y2="481.1" stroke="#3a0a10" stroke-width="0.95"/>
<line x1="322.77" y1="460.02" x2="322.77" y2="484.2" stroke="#a8a8a8" stroke-width="0.85"/>
<rect x="321.02" y="473.04" width="3.5" height="5.58" fill="#dadada"/>
<line x1="321.02" y1="476.14" x2="324.52" y2="476.14" stroke="#555" stroke-width="0.95"/>
<line x1="326.72" y1="461.88" x2="326.72" y2="484.2" stroke="#a8a8a8" stroke-width="0.85"/>
<rect x="324.97" y="471.18" width="3.5" height="6.82" fill="#2a5294"/>
<line x1="324.97" y1="474.9" x2="328.47" y2="474.9" stroke="#111" stroke-width="0.95"/>
<line x1="330.67" y1="461.88" x2="330.67" y2="484.2" stroke="#a8a8a8" stroke-width="0.85"/>
<rect x="328.92" y="471.18" width="3.5" height="5.58" fill="#c8102e"/>
<line x1="328.92" y1="474.28" x2="332.42" y2="474.28" stroke="#3a0a10" stroke-width="0.95"/>
<line x1="337.89" y1="465.6" x2="337.89" y2="484.2" stroke="#a8a8a8" stroke-width="0.85"/>
<rect x="336.14" y="476.14" width="3.5" height="4.34" fill="#dadada"/>
<line x1="336.14" y1="478.62" x2="339.64" y2="478.62" stroke="#555" stroke-width="0.95"/>
<line x1="341.84" y1="464.36" x2="341.84" y2="484.2" stroke="#a8a8a8" stroke-width="0.85"/>
<rect x="340.09" y="476.14" width="3.5" height="4.96" fill="#2a5294"/>
<line x1="340.09" y1="478.62" x2="343.59" y2="478.62" stroke="#111" stroke-width="0.95"/>
<line x1="345.79" y1="468.08" x2="345.79" y2="481.72" stroke="#a8a8a8" stroke-width="0.85"/>
<rect x="344.04" y="472.42" width="3.5" height="4.96" fill="#c8102e"/>
<line x1="344.04" y1="474.9" x2="347.54" y2="474.9" stroke="#3a0a10" stroke-width="0.95"/>
<line x1="353.01" y1="468.08" x2="353.01" y2="484.2" stroke="#a8a8a8" stroke-width="0.85"/>
<rect x="351.26" y="476.76" width="3.5" height="3.72" fill="#dadada"/>
<line x1="351.26" y1="478.62" x2="354.76" y2="478.62" stroke="#555" stroke-width="0.95"/>
<line x1="356.96" y1="465.6" x2="356.96" y2="482.34" stroke="#a8a8a8" stroke-width="0.85"/>
<rect x="355.21" y="472.42" width="3.5" height="4.96" fill="#2a5294"/>
<line x1="355.21" y1="474.9" x2="358.71" y2="474.9" stroke="#111" stroke-width="0.95"/>
<line x1="360.91" y1="470.56" x2="360.91" y2="477.38" stroke="#a8a8a8" stroke-width="0.85"/>
<rect x="359.16" y="472.42" width="3.5" height="2.48" fill="#c8102e"/>
<line x1="359.16" y1="473.66" x2="362.66" y2="473.66" stroke="#3a0a10" stroke-width="0.95"/>
<line x1="231.65" y1="449.4" x2="236.4" y2="449.4" stroke="#666" stroke-width="0.5"/>
<text x="234.03" y="448.6" font-size="3.9" text-anchor="middle" fill="#444" stroke="#444" stroke-width="0.08">n.s.</text>
<line x1="231.65" y1="457.2" x2="240.35" y2="457.2" stroke="#666" stroke-width="0.5"/>
<text x="236" y="457.6" font-size="4.4" text-anchor="middle" fill="#3a3a3a" stroke="#3a3a3a" stroke-width="0.05">*</text>
<line x1="246.77" y1="449.4" x2="251.52" y2="449.4" stroke="#666" stroke-width="0.5"/>
<text x="249.15" y="448.6" font-size="3.9" text-anchor="middle" fill="#444" stroke="#444" stroke-width="0.08">n.s.</text>
<line x1="246.77" y1="457.2" x2="255.47" y2="457.2" stroke="#666" stroke-width="0.5"/>
<text x="251.12" y="457.6" font-size="4.4" text-anchor="middle" fill="#3a3a3a" stroke="#3a3a3a" stroke-width="0.05">***</text>
<line x1="261.89" y1="449.4" x2="266.64" y2="449.4" stroke="#666" stroke-width="0.5"/>
<text x="264.26" y="448.6" font-size="3.9" text-anchor="middle" fill="#444" stroke="#444" stroke-width="0.08">n.s.</text>
<line x1="261.89" y1="457.2" x2="270.59" y2="457.2" stroke="#666" stroke-width="0.5"/>
<text x="266.24" y="457.6" font-size="4.4" text-anchor="middle" fill="#3a3a3a" stroke="#3a3a3a" stroke-width="0.05">**</text>
<line x1="277.01" y1="449.4" x2="281.76" y2="449.4" stroke="#666" stroke-width="0.5"/>
<text x="279.38" y="448.6" font-size="3.9" text-anchor="middle" fill="#444" stroke="#444" stroke-width="0.08">n.s.</text>
<line x1="277.01" y1="457.2" x2="285.71" y2="457.2" stroke="#666" stroke-width="0.5"/>
<text x="281.36" y="457.6" font-size="4.4" text-anchor="middle" fill="#3a3a3a" stroke="#3a3a3a" stroke-width="0.05">***</text>
<line x1="292.13" y1="449.4" x2="296.88" y2="449.4" stroke="#666" stroke-width="0.5"/>
<text x="294.5" y="448.6" font-size="3.9" text-anchor="middle" fill="#444" stroke="#444" stroke-width="0.08">n.s.</text>
<line x1="292.13" y1="457.2" x2="300.83" y2="457.2" stroke="#666" stroke-width="0.5"/>
<text x="296.48" y="456.4" font-size="3.9" text-anchor="middle" fill="#444" stroke="#444" stroke-width="0.08">n.s.</text>
<line x1="307.25" y1="449.4" x2="312" y2="449.4" stroke="#666" stroke-width="0.5"/>
<text x="309.62" y="448.6" font-size="3.9" text-anchor="middle" fill="#444" stroke="#444" stroke-width="0.08">n.s.</text>
<line x1="307.25" y1="457.2" x2="315.95" y2="457.2" stroke="#666" stroke-width="0.5"/>
<text x="311.6" y="456.4" font-size="3.9" text-anchor="middle" fill="#444" stroke="#444" stroke-width="0.08">n.s.</text>
<line x1="322.37" y1="449.4" x2="327.12" y2="449.4" stroke="#666" stroke-width="0.5"/>
<text x="324.75" y="449.8" font-size="4.4" text-anchor="middle" fill="#3a3a3a" stroke="#3a3a3a" stroke-width="0.05">***</text>
<line x1="322.37" y1="457.2" x2="331.07" y2="457.2" stroke="#666" stroke-width="0.5"/>
<text x="326.72" y="457.6" font-size="4.4" text-anchor="middle" fill="#3a3a3a" stroke="#3a3a3a" stroke-width="0.05">**</text>
<line x1="337.49" y1="449.4" x2="342.24" y2="449.4" stroke="#666" stroke-width="0.5"/>
<text x="339.87" y="448.6" font-size="3.9" text-anchor="middle" fill="#444" stroke="#444" stroke-width="0.08">n.s.</text>
<line x1="337.49" y1="457.2" x2="346.19" y2="457.2" stroke="#666" stroke-width="0.5"/>
<text x="341.84" y="457.6" font-size="4.4" text-anchor="middle" fill="#3a3a3a" stroke="#3a3a3a" stroke-width="0.05">**</text>
<line x1="352.61" y1="449.4" x2="357.36" y2="449.4" stroke="#666" stroke-width="0.5"/>
<text x="354.99" y="449.8" font-size="4.4" text-anchor="middle" fill="#3a3a3a" stroke="#3a3a3a" stroke-width="0.05">***</text>
<line x1="352.61" y1="457.2" x2="361.31" y2="457.2" stroke="#666" stroke-width="0.5"/>
<text x="356.96" y="457.6" font-size="4.4" text-anchor="middle" fill="#3a3a3a" stroke="#3a3a3a" stroke-width="0.05">***</text>
<text x="296.8" y="492.5" font-size="6.4" text-anchor="middle" font-style="italic" fill="#2a2a2a" textLength="16.3" lengthAdjust="spacingAndGlyphs" stroke="#2a2a2a" stroke-width="0.12">CYCS</text>
<text x="215.2" y="519.6" font-size="5" text-anchor="middle" fill="#333" transform="rotate(-90 215.2 519.6)" stroke="#333" stroke-width="0.08">Expression</text>
<line x1="226.8" y1="505.4" x2="226.8" y2="533.3" stroke="#222" stroke-width="0.9"/>
<line x1="225.5" y1="531.7" x2="226.8" y2="531.7" stroke="#222" stroke-width="0.55"/>
<text x="224.6" y="533.2" font-size="4" text-anchor="end" fill="#444" stroke="#444" stroke-width="0.08">0.0</text>
<line x1="225.5" y1="525.08" x2="226.8" y2="525.08" stroke="#222" stroke-width="0.55"/>
<text x="224.6" y="526.58" font-size="4" text-anchor="end" fill="#444" stroke="#444" stroke-width="0.08">2.5</text>
<line x1="225.5" y1="518.45" x2="226.8" y2="518.45" stroke="#222" stroke-width="0.55"/>
<text x="224.6" y="519.95" font-size="4" text-anchor="end" fill="#444" stroke="#444" stroke-width="0.08">5.0</text>
<line x1="225.5" y1="511.83" x2="226.8" y2="511.83" stroke="#222" stroke-width="0.55"/>
<text x="224.6" y="513.33" font-size="4" text-anchor="end" fill="#444" stroke="#444" stroke-width="0.08">7.5</text>
<line x1="226.35" y1="533.3" x2="366.5" y2="533.3" stroke="#222" stroke-width="0.9"/>
<line x1="232.05" y1="511.83" x2="232.05" y2="531.17" stroke="#a8a8a8" stroke-width="0.85"/>
<rect x="230.3" y="518.45" width="3.5" height="6.62" fill="#dadada"/>
<line x1="230.3" y1="519.78" x2="233.8" y2="519.78" stroke="#555" stroke-width="0.95"/>
<line x1="236" y1="513.15" x2="236" y2="530.38" stroke="#a8a8a8" stroke-width="0.85"/>
<rect x="234.25" y="516.33" width="3.5" height="4.77" fill="#2a5294"/>
<line x1="234.25" y1="518.45" x2="237.75" y2="518.45" stroke="#111" stroke-width="0.95"/>
<line x1="239.95" y1="513.15" x2="239.95" y2="527.73" stroke="#a8a8a8" stroke-width="0.85"/>
<rect x="238.2" y="516.33" width="3.5" height="4.24" fill="#c8102e"/>
<line x1="238.2" y1="518.45" x2="241.7" y2="518.45" stroke="#3a0a10" stroke-width="0.95"/>
<line x1="247.17" y1="511.03" x2="247.17" y2="530.91" stroke="#a8a8a8" stroke-width="0.85"/>
<rect x="245.42" y="517.39" width="3.5" height="3.71" fill="#dadada"/>
<line x1="245.42" y1="518.45" x2="248.92" y2="518.45" stroke="#555" stroke-width="0.95"/>
<line x1="251.12" y1="512.36" x2="251.12" y2="531.17" stroke="#a8a8a8" stroke-width="0.85"/>
<rect x="249.37" y="517.12" width="3.5" height="5.83" fill="#2a5294"/>
<line x1="249.37" y1="518.98" x2="252.87" y2="518.98" stroke="#111" stroke-width="0.95"/>
<line x1="255.07" y1="512.62" x2="255.07" y2="527.73" stroke="#a8a8a8" stroke-width="0.85"/>
<rect x="253.32" y="517.12" width="3.5" height="4.77" fill="#c8102e"/>
<line x1="253.32" y1="519.25" x2="256.82" y2="519.25" stroke="#3a0a10" stroke-width="0.95"/>
<line x1="262.29" y1="513.95" x2="262.29" y2="528.52" stroke="#a8a8a8" stroke-width="0.85"/>
<rect x="260.54" y="516.86" width="3.5" height="2.65" fill="#dadada"/>
<line x1="260.54" y1="518.45" x2="264.04" y2="518.45" stroke="#555" stroke-width="0.95"/>
<line x1="266.24" y1="513.68" x2="266.24" y2="522.43" stroke="#a8a8a8" stroke-width="0.85"/>
<rect x="264.49" y="515.54" width="3.5" height="2.12" fill="#2a5294"/>
<line x1="264.49" y1="516.6" x2="267.99" y2="516.6" stroke="#111" stroke-width="0.95"/>
<line x1="270.19" y1="514.21" x2="270.19" y2="520.57" stroke="#a8a8a8" stroke-width="0.85"/>
<rect x="268.44" y="515.54" width="3.5" height="1.59" fill="#c8102e"/>
<line x1="268.44" y1="516.33" x2="271.94" y2="516.33" stroke="#3a0a10" stroke-width="0.95"/>
<line x1="277.41" y1="511.03" x2="277.41" y2="531.7" stroke="#a8a8a8" stroke-width="0.85"/>
<rect x="275.66" y="517.66" width="3.5" height="14.04" fill="#dadada"/>
<line x1="275.66" y1="531.57" x2="279.16" y2="531.57" stroke="#555" stroke-width="0.95"/>
<line x1="281.36" y1="506.26" x2="281.36" y2="531.7" stroke="#a8a8a8" stroke-width="0.85"/>
<rect x="279.61" y="517.66" width="3.5" height="14.04" fill="#2a5294"/>
<line x1="279.61" y1="531.57" x2="283.11" y2="531.57" stroke="#111" stroke-width="0.95"/>
<line x1="285.31" y1="511.83" x2="285.31" y2="531.7" stroke="#a8a8a8" stroke-width="0.85"/>
<rect x="283.56" y="515.8" width="3.5" height="15.9" fill="#c8102e"/>
<line x1="283.56" y1="523.22" x2="287.06" y2="523.22" stroke="#3a0a10" stroke-width="0.95"/>
<line x1="292.53" y1="512.09" x2="292.53" y2="531.7" stroke="#a8a8a8" stroke-width="0.85"/>
<rect x="290.78" y="517.66" width="3.5" height="13.51" fill="#dadada"/>
<line x1="290.78" y1="521.1" x2="294.28" y2="521.1" stroke="#555" stroke-width="0.95"/>
<line x1="296.48" y1="513.95" x2="296.48" y2="531.7" stroke="#a8a8a8" stroke-width="0.85"/>
<rect x="294.73" y="517.66" width="3.5" height="8.75" fill="#2a5294"/>
<line x1="294.73" y1="520.31" x2="298.23" y2="520.31" stroke="#111" stroke-width="0.95"/>
<line x1="300.43" y1="513.15" x2="300.43" y2="531.7" stroke="#a8a8a8" stroke-width="0.85"/>
<rect x="298.68" y="517.66" width="3.5" height="10.07" fill="#c8102e"/>
<line x1="298.68" y1="519.78" x2="302.18" y2="519.78" stroke="#3a0a10" stroke-width="0.95"/>
<line x1="307.65" y1="509.18" x2="307.65" y2="531.7" stroke="#a8a8a8" stroke-width="0.85"/>
<rect x="305.9" y="517.66" width="3.5" height="14.04" fill="#dadada"/>
<line x1="305.9" y1="531.57" x2="309.4" y2="531.57" stroke="#555" stroke-width="0.95"/>
<line x1="311.6" y1="509.18" x2="311.6" y2="531.7" stroke="#a8a8a8" stroke-width="0.85"/>
<rect x="309.85" y="517.66" width="3.5" height="14.04" fill="#2a5294"/>
<line x1="309.85" y1="522.96" x2="313.35" y2="522.96" stroke="#111" stroke-width="0.95"/>
<line x1="315.55" y1="512.09" x2="315.55" y2="531.7" stroke="#a8a8a8" stroke-width="0.85"/>
<rect x="313.8" y="513.15" width="3.5" height="18.55" fill="#c8102e"/>
<line x1="313.8" y1="531.57" x2="317.3" y2="531.57" stroke="#3a0a10" stroke-width="0.95"/>
<line x1="322.77" y1="511.03" x2="322.77" y2="531.7" stroke="#a8a8a8" stroke-width="0.85"/>
<rect x="321.02" y="519.25" width="3.5" height="5.3" fill="#dadada"/>
<line x1="321.02" y1="520.31" x2="324.52" y2="520.31" stroke="#555" stroke-width="0.95"/>
<line x1="326.72" y1="509.97" x2="326.72" y2="527.73" stroke="#a8a8a8" stroke-width="0.85"/>
<rect x="324.97" y="516.33" width="3.5" height="4.24" fill="#2a5294"/>
<line x1="324.97" y1="517.92" x2="328.47" y2="517.92" stroke="#111" stroke-width="0.95"/>
<line x1="330.67" y1="512.09" x2="330.67" y2="523.49" stroke="#a8a8a8" stroke-width="0.85"/>
<rect x="328.92" y="515.54" width="3.5" height="3.71" fill="#c8102e"/>
<line x1="328.92" y1="516.6" x2="332.42" y2="516.6" stroke="#3a0a10" stroke-width="0.95"/>
<line x1="337.89" y1="513.42" x2="337.89" y2="531.7" stroke="#a8a8a8" stroke-width="0.85"/>
<rect x="336.14" y="518.72" width="3.5" height="7.69" fill="#dadada"/>
<line x1="336.14" y1="520.31" x2="339.64" y2="520.31" stroke="#555" stroke-width="0.95"/>
<line x1="341.84" y1="512.09" x2="341.84" y2="524.28" stroke="#a8a8a8" stroke-width="0.85"/>
<rect x="340.09" y="515.8" width="3.5" height="3.71" fill="#2a5294"/>
<line x1="340.09" y1="517.66" x2="343.59" y2="517.66" stroke="#111" stroke-width="0.95"/>
<line x1="345.79" y1="513.42" x2="345.79" y2="519.25" stroke="#a8a8a8" stroke-width="0.85"/>
<rect x="344.04" y="515.8" width="3.5" height="2.12" fill="#c8102e"/>
<line x1="344.04" y1="517.12" x2="347.54" y2="517.12" stroke="#3a0a10" stroke-width="0.95"/>
<line x1="353.01" y1="513.42" x2="353.01" y2="526.4" stroke="#a8a8a8" stroke-width="0.85"/>
<rect x="351.26" y="517.66" width="3.5" height="4.77" fill="#dadada"/>
<line x1="351.26" y1="519.51" x2="354.76" y2="519.51" stroke="#555" stroke-width="0.95"/>
<line x1="356.96" y1="512.88" x2="356.96" y2="523.49" stroke="#a8a8a8" stroke-width="0.85"/>
<rect x="355.21" y="515.27" width="3.5" height="3.44" fill="#2a5294"/>
<line x1="355.21" y1="516.6" x2="358.71" y2="516.6" stroke="#111" stroke-width="0.95"/>
<line x1="360.91" y1="513.95" x2="360.91" y2="517.39" stroke="#a8a8a8" stroke-width="0.85"/>
<rect x="359.16" y="514.74" width="3.5" height="1.59" fill="#c8102e"/>
<line x1="359.16" y1="515.54" x2="362.66" y2="515.54" stroke="#3a0a10" stroke-width="0.95"/>
<line x1="231.65" y1="498.5" x2="236.4" y2="498.5" stroke="#666" stroke-width="0.5"/>
<text x="234.03" y="498.7" font-size="4.4" text-anchor="middle" fill="#3a3a3a" stroke="#3a3a3a" stroke-width="0.05">***</text>
<line x1="231.65" y1="505.4" x2="240.35" y2="505.4" stroke="#666" stroke-width="0.5"/>
<text x="236" y="505.7" font-size="4.4" text-anchor="middle" fill="#3a3a3a" stroke="#3a3a3a" stroke-width="0.05">**</text>
<line x1="246.77" y1="498.5" x2="251.52" y2="498.5" stroke="#666" stroke-width="0.5"/>
<text x="249.15" y="497.5" font-size="3.9" text-anchor="middle" fill="#444" stroke="#444" stroke-width="0.08">n.s.</text>
<line x1="246.77" y1="505.4" x2="255.47" y2="505.4" stroke="#666" stroke-width="0.5"/>
<text x="251.12" y="504.5" font-size="3.9" text-anchor="middle" fill="#444" stroke="#444" stroke-width="0.08">n.s.</text>
<line x1="261.89" y1="498.5" x2="266.64" y2="498.5" stroke="#666" stroke-width="0.5"/>
<text x="264.26" y="498.7" font-size="4.4" text-anchor="middle" fill="#3a3a3a" stroke="#3a3a3a" stroke-width="0.05">***</text>
<line x1="261.89" y1="505.4" x2="270.59" y2="505.4" stroke="#666" stroke-width="0.5"/>
<text x="266.24" y="505.7" font-size="4.4" text-anchor="middle" fill="#3a3a3a" stroke="#3a3a3a" stroke-width="0.05">***</text>
<line x1="277.01" y1="498.5" x2="281.76" y2="498.5" stroke="#666" stroke-width="0.5"/>
<text x="279.38" y="497.5" font-size="3.9" text-anchor="middle" fill="#444" stroke="#444" stroke-width="0.08">n.s.</text>
<line x1="277.01" y1="505.4" x2="285.71" y2="505.4" stroke="#666" stroke-width="0.5"/>
<text x="281.36" y="504.5" font-size="3.9" text-anchor="middle" fill="#444" stroke="#444" stroke-width="0.08">n.s.</text>
<line x1="292.13" y1="498.5" x2="296.88" y2="498.5" stroke="#666" stroke-width="0.5"/>
<text x="294.5" y="497.5" font-size="3.9" text-anchor="middle" fill="#444" stroke="#444" stroke-width="0.08">n.s.</text>
<line x1="292.13" y1="505.4" x2="300.83" y2="505.4" stroke="#666" stroke-width="0.5"/>
<text x="296.48" y="504.5" font-size="3.9" text-anchor="middle" fill="#444" stroke="#444" stroke-width="0.08">n.s.</text>
<line x1="307.25" y1="498.5" x2="312" y2="498.5" stroke="#666" stroke-width="0.5"/>
<text x="309.62" y="497.5" font-size="3.9" text-anchor="middle" fill="#444" stroke="#444" stroke-width="0.08">n.s.</text>
<line x1="307.25" y1="505.4" x2="315.95" y2="505.4" stroke="#666" stroke-width="0.5"/>
<text x="311.6" y="504.5" font-size="3.9" text-anchor="middle" fill="#444" stroke="#444" stroke-width="0.08">n.s.</text>
<line x1="322.37" y1="498.5" x2="327.12" y2="498.5" stroke="#666" stroke-width="0.5"/>
<text x="324.75" y="498.7" font-size="4.4" text-anchor="middle" fill="#3a3a3a" stroke="#3a3a3a" stroke-width="0.05">***</text>
<line x1="322.37" y1="505.4" x2="331.07" y2="505.4" stroke="#666" stroke-width="0.5"/>
<text x="326.72" y="505.7" font-size="4.4" text-anchor="middle" fill="#3a3a3a" stroke="#3a3a3a" stroke-width="0.05">***</text>
<line x1="337.49" y1="498.5" x2="342.24" y2="498.5" stroke="#666" stroke-width="0.5"/>
<text x="339.87" y="498.7" font-size="4.4" text-anchor="middle" fill="#3a3a3a" stroke="#3a3a3a" stroke-width="0.05">***</text>
<line x1="337.49" y1="505.4" x2="346.19" y2="505.4" stroke="#666" stroke-width="0.5"/>
<text x="341.84" y="505.7" font-size="4.4" text-anchor="middle" fill="#3a3a3a" stroke="#3a3a3a" stroke-width="0.05">**</text>
<line x1="352.61" y1="498.5" x2="357.36" y2="498.5" stroke="#666" stroke-width="0.5"/>
<text x="354.99" y="498.7" font-size="4.4" text-anchor="middle" fill="#3a3a3a" stroke="#3a3a3a" stroke-width="0.05">***</text>
<line x1="352.61" y1="505.4" x2="361.31" y2="505.4" stroke="#666" stroke-width="0.5"/>
<text x="356.96" y="505.7" font-size="4.4" text-anchor="middle" fill="#3a3a3a" stroke="#3a3a3a" stroke-width="0.05">***</text>
<line x1="236" y1="533.3" x2="236" y2="534.4" stroke="#222" stroke-width="0.5"/>
<text x="237.2" y="537" font-size="4.2" text-anchor="end" fill="#333" transform="rotate(-45 237.2 537)" stroke="#333" stroke-width="0.08">HSC/MPP</text>
<line x1="251.12" y1="533.3" x2="251.12" y2="534.4" stroke="#222" stroke-width="0.5"/>
<text x="252.32" y="537" font-size="4.2" text-anchor="end" fill="#333" transform="rotate(-45 252.32 537)" stroke="#333" stroke-width="0.08">LMPP</text>
<line x1="266.24" y1="533.3" x2="266.24" y2="534.4" stroke="#222" stroke-width="0.5"/>
<text x="267.44" y="537" font-size="4.2" text-anchor="end" fill="#333" transform="rotate(-45 267.44 537)" stroke="#333" stroke-width="0.08">MEP</text>
<line x1="281.36" y1="533.3" x2="281.36" y2="534.4" stroke="#222" stroke-width="0.5"/>
<text x="282.56" y="537" font-size="4.2" text-anchor="end" fill="#333" transform="rotate(-45 282.56 537)" stroke="#333" stroke-width="0.08">MLP</text>
<line x1="296.48" y1="533.3" x2="296.48" y2="534.4" stroke="#222" stroke-width="0.5"/>
<text x="297.68" y="537" font-size="4.2" text-anchor="end" fill="#333" transform="rotate(-45 297.68 537)" stroke="#333" stroke-width="0.08">EBM</text>
<line x1="311.6" y1="533.3" x2="311.6" y2="534.4" stroke="#222" stroke-width="0.5"/>
<text x="312.8" y="537" font-size="4.2" text-anchor="end" fill="#333" transform="rotate(-45 312.8 537)" stroke="#333" stroke-width="0.08">Neu1</text>
<line x1="326.72" y1="533.3" x2="326.72" y2="534.4" stroke="#222" stroke-width="0.5"/>
<text x="327.92" y="537" font-size="4.2" text-anchor="end" fill="#333" transform="rotate(-45 327.92 537)" stroke="#333" stroke-width="0.08">Neu2</text>
<line x1="341.84" y1="533.3" x2="341.84" y2="534.4" stroke="#222" stroke-width="0.5"/>
<text x="343.04" y="537" font-size="4.2" text-anchor="end" fill="#333" transform="rotate(-45 343.04 537)" stroke="#333" stroke-width="0.08">MD1</text>
<line x1="356.96" y1="533.3" x2="356.96" y2="534.4" stroke="#222" stroke-width="0.5"/>
<text x="358.16" y="537" font-size="4.2" text-anchor="end" fill="#333" transform="rotate(-45 358.16 537)" stroke="#333" stroke-width="0.08">MD2</text>
<text x="378" y="481.7" font-size="4.3" fill="#333" stroke="#333" stroke-width="0.13">Samples</text>
<line x1="380" y1="485" x2="380" y2="489.8" stroke="#888" stroke-width="0.6"/>
<rect x="378.4" y="485.9" width="3.2" height="3" fill="#dadada"/>
<line x1="378.4" y1="487.4" x2="381.6" y2="487.4" stroke="#555" stroke-width="0.7"/>
<text x="385" y="488.9" font-size="4.3" fill="#333" stroke="#333" stroke-width="0.13">Ctrl</text>
<line x1="380" y1="491.6" x2="380" y2="496.4" stroke="#888" stroke-width="0.6"/>
<rect x="378.4" y="492.5" width="3.2" height="3" fill="#2a5294"/>
<line x1="378.4" y1="494" x2="381.6" y2="494" stroke="#111" stroke-width="0.7"/>
<text x="385" y="495.5" font-size="4.3" fill="#333" stroke="#333" stroke-width="0.13">non-SAA</text>
<line x1="380" y1="497.9" x2="380" y2="502.7" stroke="#888" stroke-width="0.6"/>
<rect x="378.4" y="498.8" width="3.2" height="3" fill="#c8102e"/>
<line x1="378.4" y1="500.3" x2="381.6" y2="500.3" stroke="#3a0a10" stroke-width="0.7"/>
<text x="385" y="501.8" font-size="4.3" fill="#333" stroke="#333" stroke-width="0.13">SAA</text>
<text x="378" y="512.5" font-size="4.3" fill="#333" stroke="#333" stroke-width="0.13">Significance</text>
<text x="380" y="519.1" font-size="4.1" fill="#333" stroke="#333" stroke-width="0.13">*P ≤ 0.05</text>
<text x="379" y="524" font-size="4.1" fill="#333" stroke="#333" stroke-width="0.13">**P ≤ 0.01</text>
<text x="377.8" y="529.8" font-size="4.1" fill="#333" stroke="#333" stroke-width="0.13">***P ≤ 0.001</text>
<text x="7" y="572.3" font-size="11.31" font-weight="bold" fill="#000" stroke="#000" stroke-width="0.25">H</text>
<text x="56" y="575.3" font-size="6.4" text-anchor="middle" fill="#2a2a2a" textLength="41.9" lengthAdjust="spacingAndGlyphs" stroke="#2a2a2a" stroke-width="0.12">CCR5 pathway</text>
<text x="20.8" y="606" font-size="5" text-anchor="middle" font-style="italic" fill="#333" transform="rotate(-90 20.8 606)" stroke="#333" stroke-width="0.08">Average</text>
<text x="28.2" y="606" font-size="5" text-anchor="middle" font-style="italic" fill="#333" transform="rotate(-90 28.2 606)" stroke="#333" stroke-width="0.08">expression</text>
<line x1="37.7" y1="590.8" x2="37.7" y2="620" stroke="#222" stroke-width="0.9"/>
<line x1="36.4" y1="617.65" x2="37.7" y2="617.65" stroke="#222" stroke-width="0.55"/>
<text x="35.5" y="619.15" font-size="4.2" text-anchor="end" fill="#444" stroke="#444" stroke-width="0.08">1</text>
<line x1="36.4" y1="609.2" x2="37.7" y2="609.2" stroke="#222" stroke-width="0.55"/>
<text x="35.5" y="610.7" font-size="4.2" text-anchor="end" fill="#444" stroke="#444" stroke-width="0.08">2</text>
<line x1="36.4" y1="600.75" x2="37.7" y2="600.75" stroke="#222" stroke-width="0.55"/>
<text x="35.5" y="602.25" font-size="4.2" text-anchor="end" fill="#444" stroke="#444" stroke-width="0.08">3</text>
<line x1="36.4" y1="592.3" x2="37.7" y2="592.3" stroke="#222" stroke-width="0.55"/>
<text x="35.5" y="593.8" font-size="4.2" text-anchor="end" fill="#444" stroke="#444" stroke-width="0.08">4</text>
<line x1="37.25" y1="620" x2="74.6" y2="620" stroke="#222" stroke-width="0.9"/>
<line x1="44.4" y1="596.52" x2="44.4" y2="613.43" stroke="#a8a8a8" stroke-width="0.85"/>
<rect x="42.6" y="601.6" width="3.6" height="2.53" fill="#dadada"/>
<line x1="42.6" y1="602.86" x2="46.2" y2="602.86" stroke="#555" stroke-width="0.95"/>
<line x1="48.4" y1="595.68" x2="48.4" y2="610.89" stroke="#a8a8a8" stroke-width="0.85"/>
<rect x="46.6" y="600.75" width="3.6" height="3.8" fill="#2a5294"/>
<line x1="46.6" y1="602.44" x2="50.2" y2="602.44" stroke="#111" stroke-width="0.95"/>
<line x1="52.4" y1="599.06" x2="52.4" y2="604.98" stroke="#a8a8a8" stroke-width="0.85"/>
<rect x="50.6" y="600.75" width="3.6" height="2.11" fill="#c8102e"/>
<line x1="50.6" y1="602.02" x2="54.2" y2="602.02" stroke="#3a0a10" stroke-width="0.95"/>
<line x1="58.8" y1="595.68" x2="58.8" y2="610.89" stroke="#a8a8a8" stroke-width="0.85"/>
<rect x="57" y="600.75" width="3.6" height="1.69" fill="#dadada"/>
<line x1="57" y1="601.6" x2="60.6" y2="601.6" stroke="#555" stroke-width="0.95"/>
<line x1="62.8" y1="593.99" x2="62.8" y2="609.2" stroke="#a8a8a8" stroke-width="0.85"/>
<rect x="61" y="597.37" width="3.6" height="4.23" fill="#2a5294"/>
<line x1="61" y1="599.9" x2="64.6" y2="599.9" stroke="#111" stroke-width="0.95"/>
<line x1="66.8" y1="597.37" x2="66.8" y2="603.28" stroke="#a8a8a8" stroke-width="0.85"/>
<rect x="65" y="599.48" width="3.6" height="2.11" fill="#c8102e"/>
<line x1="65" y1="600.33" x2="68.6" y2="600.33" stroke="#3a0a10" stroke-width="0.95"/>
<line x1="44" y1="583.8" x2="48.8" y2="583.8" stroke="#666" stroke-width="0.5"/>
<text x="46.4" y="582.8" font-size="3.9" text-anchor="middle" fill="#444" stroke="#444" stroke-width="0.08">n.s.</text>
<line x1="44" y1="592" x2="52.8" y2="592" stroke="#666" stroke-width="0.5"/>
<text x="48.4" y="591.3" font-size="3.9" text-anchor="middle" fill="#444" stroke="#444" stroke-width="0.08">n.s.</text>
<line x1="58.4" y1="583.8" x2="63.2" y2="583.8" stroke="#666" stroke-width="0.5"/>
<text x="60.8" y="584" font-size="4.4" text-anchor="middle" fill="#3a3a3a" stroke="#3a3a3a" stroke-width="0.05">**</text>
<line x1="58.4" y1="592" x2="67.2" y2="592" stroke="#666" stroke-width="0.5"/>
<text x="62.8" y="591.3" font-size="3.9" text-anchor="middle" fill="#444" stroke="#444" stroke-width="0.08">n.s.</text>
<line x1="48.4" y1="620" x2="48.4" y2="621.1" stroke="#222" stroke-width="0.5"/>
<text x="49.6" y="623.8" font-size="4.2" text-anchor="end" fill="#333" transform="rotate(-45 49.6 623.8)" stroke="#333" stroke-width="0.08">MD1</text>
<line x1="62.8" y1="620" x2="62.8" y2="621.1" stroke="#222" stroke-width="0.5"/>
<text x="64" y="623.8" font-size="4.2" text-anchor="end" fill="#333" transform="rotate(-45 64 623.8)" stroke="#333" stroke-width="0.08">MD2</text>
<text x="105.4" y="574.8" font-size="6.4" text-anchor="middle" fill="#2a2a2a" textLength="31.6" lengthAdjust="spacingAndGlyphs" stroke="#2a2a2a" stroke-width="0.12">JNK MAPK</text>
<line x1="89.6" y1="586.9" x2="89.6" y2="620.3" stroke="#222" stroke-width="0.9"/>
<line x1="88.3" y1="612.6" x2="89.6" y2="612.6" stroke="#222" stroke-width="0.55"/>
<text x="87.4" y="614.1" font-size="4.2" text-anchor="end" fill="#444" stroke="#444" stroke-width="0.08">0.5</text>
<line x1="88.3" y1="605.3" x2="89.6" y2="605.3" stroke="#222" stroke-width="0.55"/>
<text x="87.4" y="606.8" font-size="4.2" text-anchor="end" fill="#444" stroke="#444" stroke-width="0.08">1.0</text>
<line x1="88.3" y1="598" x2="89.6" y2="598" stroke="#222" stroke-width="0.55"/>
<text x="87.4" y="599.5" font-size="4.2" text-anchor="end" fill="#444" stroke="#444" stroke-width="0.08">1.5</text>
<line x1="88.3" y1="590.7" x2="89.6" y2="590.7" stroke="#222" stroke-width="0.55"/>
<text x="87.4" y="592.2" font-size="4.2" text-anchor="end" fill="#444" stroke="#444" stroke-width="0.08">2.0</text>
<line x1="89.15" y1="620.3" x2="121.9" y2="620.3" stroke="#222" stroke-width="0.9"/>
<line x1="95.75" y1="592.89" x2="95.75" y2="619.9" stroke="#a8a8a8" stroke-width="0.85"/>
<rect x="93.95" y="603.11" width="3.6" height="4.38" fill="#dadada"/>
<line x1="93.95" y1="605.3" x2="97.55" y2="605.3" stroke="#555" stroke-width="0.95"/>
<line x1="99.6" y1="595.08" x2="99.6" y2="615.52" stroke="#a8a8a8" stroke-width="0.85"/>
<rect x="97.8" y="600.92" width="3.6" height="4.38" fill="#2a5294"/>
<line x1="97.8" y1="603.11" x2="101.4" y2="603.11" stroke="#111" stroke-width="0.95"/>
<line x1="103.45" y1="595.08" x2="103.45" y2="611.14" stroke="#a8a8a8" stroke-width="0.85"/>
<rect x="101.65" y="601.65" width="3.6" height="5.11" fill="#c8102e"/>
<line x1="101.65" y1="604.57" x2="105.25" y2="604.57" stroke="#3a0a10" stroke-width="0.95"/>
<line x1="112.35" y1="592.16" x2="112.35" y2="615.52" stroke="#a8a8a8" stroke-width="0.85"/>
<rect x="110.55" y="598" width="3.6" height="4.38" fill="#dadada"/>
<line x1="110.55" y1="600.19" x2="114.15" y2="600.19" stroke="#555" stroke-width="0.95"/>
<line x1="116.2" y1="592.89" x2="116.2" y2="609.68" stroke="#a8a8a8" stroke-width="0.85"/>
<rect x="114.4" y="596.54" width="3.6" height="5.84" fill="#2a5294"/>
<line x1="114.4" y1="599.46" x2="118" y2="599.46" stroke="#111" stroke-width="0.95"/>
<line x1="120.05" y1="595.08" x2="120.05" y2="600.19" stroke="#a8a8a8" stroke-width="0.85"/>
<rect x="118.25" y="597.27" width="3.6" height="1.9" fill="#c8102e"/>
<line x1="118.25" y1="598" x2="121.85" y2="598" stroke="#3a0a10" stroke-width="0.95"/>
<line x1="95.35" y1="581" x2="100" y2="581" stroke="#666" stroke-width="0.5"/>
<text x="97.67" y="581.7" font-size="4.4" text-anchor="middle" fill="#3a3a3a" stroke="#3a3a3a" stroke-width="0.05">*</text>
<line x1="95.35" y1="586.5" x2="103.85" y2="586.5" stroke="#666" stroke-width="0.5"/>
<text x="99.6" y="585.9" font-size="3.9" text-anchor="middle" fill="#444" stroke="#444" stroke-width="0.08">n.s.</text>
<line x1="111.95" y1="581" x2="116.6" y2="581" stroke="#666" stroke-width="0.5"/>
<text x="114.28" y="580.5" font-size="3.9" text-anchor="middle" fill="#444" stroke="#444" stroke-width="0.08">n.s.</text>
<line x1="111.95" y1="586.5" x2="120.45" y2="586.5" stroke="#666" stroke-width="0.5"/>
<text x="116.2" y="587.1" font-size="4.4" text-anchor="middle" fill="#3a3a3a" stroke="#3a3a3a" stroke-width="0.05">*</text>
<line x1="99.6" y1="620.3" x2="99.6" y2="621.4" stroke="#222" stroke-width="0.5"/>
<text x="100.8" y="623.8" font-size="4.2" text-anchor="end" fill="#333" transform="rotate(-45 100.8 623.8)" stroke="#333" stroke-width="0.08">MD1</text>
<line x1="116.2" y1="620.3" x2="116.2" y2="621.4" stroke="#222" stroke-width="0.5"/>
<text x="117.4" y="623.8" font-size="4.2" text-anchor="end" fill="#333" transform="rotate(-45 117.4 623.8)" stroke="#333" stroke-width="0.08">MD2</text>
<text x="161.5" y="575.3" font-size="6.4" text-anchor="middle" fill="#2a2a2a" textLength="30.7" lengthAdjust="spacingAndGlyphs" stroke="#2a2a2a" stroke-width="0.12">p38 MAPK</text>
<line x1="144.2" y1="587.7" x2="144.2" y2="620.3" stroke="#222" stroke-width="0.9"/>
<line x1="142.9" y1="615.4" x2="144.2" y2="615.4" stroke="#222" stroke-width="0.55"/>
<text x="142" y="616.9" font-size="4.2" text-anchor="end" fill="#444" stroke="#444" stroke-width="0.08">0.5</text>
<line x1="142.9" y1="601.8" x2="144.2" y2="601.8" stroke="#222" stroke-width="0.55"/>
<text x="142" y="603.3" font-size="4.2" text-anchor="end" fill="#444" stroke="#444" stroke-width="0.08">1.5</text>
<line x1="142.9" y1="588.2" x2="144.2" y2="588.2" stroke="#222" stroke-width="0.55"/>
<text x="142" y="589.7" font-size="4.2" text-anchor="end" fill="#444" stroke="#444" stroke-width="0.08">2.5</text>
<line x1="143.75" y1="620.3" x2="178.9" y2="620.3" stroke="#222" stroke-width="0.9"/>
<line x1="150.4" y1="590.92" x2="150.4" y2="618.12" stroke="#a8a8a8" stroke-width="0.85"/>
<rect x="148.6" y="602.48" width="3.6" height="4.76" fill="#dadada"/>
<line x1="148.6" y1="604.52" x2="152.2" y2="604.52" stroke="#555" stroke-width="0.95"/>
<line x1="154.3" y1="592.28" x2="154.3" y2="616.76" stroke="#a8a8a8" stroke-width="0.85"/>
<rect x="152.5" y="599.76" width="3.6" height="6.12" fill="#2a5294"/>
<line x1="152.5" y1="602.48" x2="156.1" y2="602.48" stroke="#111" stroke-width="0.95"/>
<line x1="158.2" y1="595" x2="158.2" y2="605.88" stroke="#a8a8a8" stroke-width="0.85"/>
<rect x="156.4" y="598.4" width="3.6" height="4.08" fill="#c8102e"/>
<line x1="156.4" y1="601.12" x2="160" y2="601.12" stroke="#3a0a10" stroke-width="0.95"/>
<line x1="167.6" y1="588.88" x2="167.6" y2="611.32" stroke="#a8a8a8" stroke-width="0.85"/>
<rect x="165.8" y="597.04" width="3.6" height="4.08" fill="#dadada"/>
<line x1="165.8" y1="599.08" x2="169.4" y2="599.08" stroke="#555" stroke-width="0.95"/>
<line x1="171.5" y1="589.56" x2="171.5" y2="605.88" stroke="#a8a8a8" stroke-width="0.85"/>
<rect x="169.7" y="594.32" width="3.6" height="4.76" fill="#2a5294"/>
<line x1="169.7" y1="597.04" x2="173.3" y2="597.04" stroke="#111" stroke-width="0.95"/>
<line x1="175.4" y1="593.64" x2="175.4" y2="600.44" stroke="#a8a8a8" stroke-width="0.85"/>
<rect x="173.6" y="595.68" width="3.6" height="2.72" fill="#c8102e"/>
<line x1="173.6" y1="597.04" x2="177.2" y2="597.04" stroke="#3a0a10" stroke-width="0.95"/>
<line x1="150" y1="581.3" x2="154.7" y2="581.3" stroke="#666" stroke-width="0.5"/>
<text x="152.35" y="582" font-size="4.4" text-anchor="middle" fill="#3a3a3a" stroke="#3a3a3a" stroke-width="0.05">**</text>
<line x1="150" y1="587" x2="158.6" y2="587" stroke="#666" stroke-width="0.5"/>
<text x="154.3" y="587.5" font-size="4.4" text-anchor="middle" fill="#3a3a3a" stroke="#3a3a3a" stroke-width="0.05">**</text>
<line x1="167.2" y1="581.3" x2="171.9" y2="581.3" stroke="#666" stroke-width="0.5"/>
<text x="169.55" y="582" font-size="4.4" text-anchor="middle" fill="#3a3a3a" stroke="#3a3a3a" stroke-width="0.05">*</text>
<line x1="167.2" y1="587" x2="175.8" y2="587" stroke="#666" stroke-width="0.5"/>
<text x="171.5" y="587.5" font-size="4.4" text-anchor="middle" fill="#3a3a3a" stroke="#3a3a3a" stroke-width="0.05">***</text>
<line x1="154.3" y1="620.3" x2="154.3" y2="621.4" stroke="#222" stroke-width="0.5"/>
<text x="155.5" y="623.8" font-size="4.2" text-anchor="end" fill="#333" transform="rotate(-45 155.5 623.8)" stroke="#333" stroke-width="0.08">MD1</text>
<line x1="171.5" y1="620.3" x2="171.5" y2="621.4" stroke="#222" stroke-width="0.5"/>
<text x="172.7" y="623.8" font-size="4.2" text-anchor="end" fill="#333" transform="rotate(-45 172.7 623.8)" stroke="#333" stroke-width="0.08">MD2</text>
<text x="200.6" y="571.5" font-size="10.89" font-weight="bold" fill="#000" stroke="#000" stroke-width="0.25">I</text>
<text x="298.7" y="575.3" font-size="6.4" text-anchor="middle" fill="#2a2a2a" textLength="136.5" lengthAdjust="spacingAndGlyphs" stroke="#2a2a2a" stroke-width="0.12">Proinflammatory monocytes up-regulated genes</text>
<text x="209.7" y="605.8" font-size="5" text-anchor="middle" font-style="italic" fill="#333" transform="rotate(-90 209.7 605.8)" stroke="#333" stroke-width="0.08">Average</text>
<text x="217.2" y="605.8" font-size="5" text-anchor="middle" font-style="italic" fill="#333" transform="rotate(-90 217.2 605.8)" stroke="#333" stroke-width="0.08">expression</text>
<line x1="226.7" y1="591.1" x2="226.7" y2="620.2" stroke="#222" stroke-width="0.9"/>
<line x1="225.4" y1="618.8" x2="226.7" y2="618.8" stroke="#222" stroke-width="0.55"/>
<text x="224.5" y="620.3" font-size="4.2" text-anchor="end" fill="#444" stroke="#444" stroke-width="0.08">0</text>
<line x1="225.4" y1="611.3" x2="226.7" y2="611.3" stroke="#222" stroke-width="0.55"/>
<text x="224.5" y="612.8" font-size="4.2" text-anchor="end" fill="#444" stroke="#444" stroke-width="0.08">1</text>
<line x1="225.4" y1="603.8" x2="226.7" y2="603.8" stroke="#222" stroke-width="0.55"/>
<text x="224.5" y="605.3" font-size="4.2" text-anchor="end" fill="#444" stroke="#444" stroke-width="0.08">2</text>
<line x1="225.4" y1="596.3" x2="226.7" y2="596.3" stroke="#222" stroke-width="0.55"/>
<text x="224.5" y="597.8" font-size="4.2" text-anchor="end" fill="#444" stroke="#444" stroke-width="0.08">3</text>
<line x1="226.25" y1="620.2" x2="371" y2="620.2" stroke="#222" stroke-width="0.9"/>
<line x1="232.2" y1="594.05" x2="232.2" y2="604.55" stroke="#a8a8a8" stroke-width="0.85"/>
<rect x="230.4" y="597.8" width="3.6" height="1.12" fill="#dadada"/>
<line x1="230.4" y1="598.55" x2="234" y2="598.55" stroke="#555" stroke-width="0.95"/>
<line x1="236.2" y1="594.05" x2="236.2" y2="606.8" stroke="#a8a8a8" stroke-width="0.85"/>
<rect x="234.4" y="597.05" width="3.6" height="3.75" fill="#2a5294"/>
<line x1="234.4" y1="598.92" x2="238" y2="598.92" stroke="#111" stroke-width="0.95"/>
<line x1="240.2" y1="594.8" x2="240.2" y2="603.8" stroke="#a8a8a8" stroke-width="0.85"/>
<rect x="238.4" y="596.67" width="3.6" height="1.88" fill="#c8102e"/>
<line x1="238.4" y1="597.8" x2="242" y2="597.8" stroke="#3a0a10" stroke-width="0.95"/>
<line x1="248.13" y1="595.55" x2="248.13" y2="605.3" stroke="#a8a8a8" stroke-width="0.85"/>
<rect x="246.33" y="598.92" width="3.6" height="1.88" fill="#dadada"/>
<line x1="246.33" y1="600.05" x2="249.93" y2="600.05" stroke="#555" stroke-width="0.95"/>
<line x1="252.13" y1="594.8" x2="252.13" y2="606.8" stroke="#a8a8a8" stroke-width="0.85"/>
<rect x="250.33" y="598.55" width="3.6" height="3" fill="#2a5294"/>
<line x1="250.33" y1="600.05" x2="253.93" y2="600.05" stroke="#111" stroke-width="0.95"/>
<line x1="256.13" y1="595.55" x2="256.13" y2="604.55" stroke="#a8a8a8" stroke-width="0.85"/>
<rect x="254.33" y="597.05" width="3.6" height="2.62" fill="#c8102e"/>
<line x1="254.33" y1="598.55" x2="257.93" y2="598.55" stroke="#3a0a10" stroke-width="0.95"/>
<line x1="264.06" y1="595.55" x2="264.06" y2="603.05" stroke="#a8a8a8" stroke-width="0.85"/>
<rect x="262.26" y="598.17" width="3.6" height="1.12" fill="#dadada"/>
<line x1="262.26" y1="598.55" x2="265.86" y2="598.55" stroke="#555" stroke-width="0.95"/>
<line x1="268.06" y1="596.3" x2="268.06" y2="602.3" stroke="#a8a8a8" stroke-width="0.85"/>
<rect x="266.26" y="598.17" width="3.6" height="1.12" fill="#2a5294"/>
<line x1="266.26" y1="598.92" x2="269.86" y2="598.92" stroke="#111" stroke-width="0.95"/>
<line x1="272.06" y1="597.05" x2="272.06" y2="600.05" stroke="#a8a8a8" stroke-width="0.85"/>
<rect x="270.26" y="598.17" width="3.6" height="0.75" fill="#c8102e"/>
<line x1="270.26" y1="598.55" x2="273.86" y2="598.55" stroke="#3a0a10" stroke-width="0.95"/>
<line x1="279.99" y1="600.05" x2="279.99" y2="612.8" stroke="#a8a8a8" stroke-width="0.85"/>
<rect x="278.19" y="604.55" width="3.6" height="2.25" fill="#dadada"/>
<line x1="278.19" y1="605.67" x2="281.79" y2="605.67" stroke="#555" stroke-width="0.95"/>
<line x1="283.99" y1="601.55" x2="283.99" y2="614.3" stroke="#a8a8a8" stroke-width="0.85"/>
<rect x="282.19" y="603.8" width="3.6" height="3.75" fill="#2a5294"/>
<line x1="282.19" y1="605.3" x2="285.79" y2="605.3" stroke="#111" stroke-width="0.95"/>
<line x1="287.99" y1="603.05" x2="287.99" y2="608.3" stroke="#a8a8a8" stroke-width="0.85"/>
<rect x="286.19" y="604.17" width="3.6" height="1.88" fill="#c8102e"/>
<line x1="286.19" y1="605.3" x2="289.79" y2="605.3" stroke="#3a0a10" stroke-width="0.95"/>
<line x1="295.92" y1="598.55" x2="295.92" y2="611.3" stroke="#a8a8a8" stroke-width="0.85"/>
<rect x="294.12" y="601.55" width="3.6" height="1.5" fill="#dadada"/>
<line x1="294.12" y1="602.3" x2="297.72" y2="602.3" stroke="#555" stroke-width="0.95"/>
<line x1="299.92" y1="597.05" x2="299.92" y2="611.3" stroke="#a8a8a8" stroke-width="0.85"/>
<rect x="298.12" y="600.8" width="3.6" height="3.75" fill="#2a5294"/>
<line x1="298.12" y1="602.67" x2="301.72" y2="602.67" stroke="#111" stroke-width="0.95"/>
<line x1="303.92" y1="600.8" x2="303.92" y2="605.3" stroke="#a8a8a8" stroke-width="0.85"/>
<rect x="302.12" y="601.55" width="3.6" height="2.25" fill="#c8102e"/>
<line x1="302.12" y1="602.67" x2="305.72" y2="602.67" stroke="#3a0a10" stroke-width="0.95"/>
<line x1="311.85" y1="596.3" x2="311.85" y2="615.8" stroke="#a8a8a8" stroke-width="0.85"/>
<rect x="310.05" y="605.3" width="3.6" height="3" fill="#dadada"/>
<line x1="310.05" y1="606.8" x2="313.65" y2="606.8" stroke="#555" stroke-width="0.95"/>
<line x1="315.85" y1="595.55" x2="315.85" y2="616.55" stroke="#a8a8a8" stroke-width="0.85"/>
<rect x="314.05" y="601.55" width="3.6" height="7.5" fill="#2a5294"/>
<line x1="314.05" y1="606.05" x2="317.65" y2="606.05" stroke="#111" stroke-width="0.95"/>
<line x1="319.85" y1="603.8" x2="319.85" y2="608.3" stroke="#a8a8a8" stroke-width="0.85"/>
<rect x="318.05" y="604.92" width="3.6" height="2.62" fill="#c8102e"/>
<line x1="318.05" y1="606.05" x2="321.65" y2="606.05" stroke="#3a0a10" stroke-width="0.95"/>
<line x1="327.78" y1="596.3" x2="327.78" y2="608.3" stroke="#a8a8a8" stroke-width="0.85"/>
<rect x="325.98" y="600.05" width="3.6" height="1.5" fill="#dadada"/>
<line x1="325.98" y1="600.8" x2="329.58" y2="600.8" stroke="#555" stroke-width="0.95"/>
<line x1="331.78" y1="596.3" x2="331.78" y2="605.3" stroke="#a8a8a8" stroke-width="0.85"/>
<rect x="329.98" y="598.55" width="3.6" height="2.25" fill="#2a5294"/>
<line x1="329.98" y1="599.67" x2="333.58" y2="599.67" stroke="#111" stroke-width="0.95"/>
<line x1="335.78" y1="596.3" x2="335.78" y2="603.05" stroke="#a8a8a8" stroke-width="0.85"/>
<rect x="333.98" y="597.42" width="3.6" height="1.88" fill="#c8102e"/>
<line x1="333.98" y1="598.55" x2="337.58" y2="598.55" stroke="#3a0a10" stroke-width="0.95"/>
<line x1="343.71" y1="595.4" x2="343.71" y2="607.77" stroke="#a8a8a8" stroke-width="0.85"/>
<rect x="341.91" y="599.3" width="3.6" height="1.58" fill="#dadada"/>
<line x1="341.91" y1="600.05" x2="345.51" y2="600.05" stroke="#555" stroke-width="0.95"/>
<line x1="347.71" y1="595.4" x2="347.71" y2="605.3" stroke="#a8a8a8" stroke-width="0.85"/>
<rect x="345.91" y="598.55" width="3.6" height="2.25" fill="#2a5294"/>
<line x1="345.91" y1="599.67" x2="349.51" y2="599.67" stroke="#111" stroke-width="0.95"/>
<line x1="351.71" y1="595.92" x2="351.71" y2="599.67" stroke="#a8a8a8" stroke-width="0.85"/>
<rect x="349.91" y="596.82" width="3.6" height="1.88" fill="#c8102e"/>
<line x1="349.91" y1="597.8" x2="353.51" y2="597.8" stroke="#3a0a10" stroke-width="0.95"/>
<line x1="359.64" y1="592.7" x2="359.64" y2="604.7" stroke="#a8a8a8" stroke-width="0.85"/>
<rect x="357.84" y="597.42" width="3.6" height="1.5" fill="#dadada"/>
<line x1="357.84" y1="598.17" x2="361.44" y2="598.17" stroke="#555" stroke-width="0.95"/>
<line x1="363.64" y1="593.07" x2="363.64" y2="601.55" stroke="#a8a8a8" stroke-width="0.85"/>
<rect x="361.84" y="595.77" width="3.6" height="2.02" fill="#2a5294"/>
<line x1="361.84" y1="596.67" x2="365.44" y2="596.67" stroke="#111" stroke-width="0.95"/>
<line x1="367.64" y1="593.07" x2="367.64" y2="597.8" stroke="#a8a8a8" stroke-width="0.85"/>
<rect x="365.84" y="594.8" width="3.6" height="1.8" fill="#c8102e"/>
<line x1="365.84" y1="595.7" x2="369.44" y2="595.7" stroke="#3a0a10" stroke-width="0.95"/>
<line x1="231.8" y1="583.6" x2="236.6" y2="583.6" stroke="#666" stroke-width="0.5"/>
<text x="234.2" y="582.9" font-size="3.9" text-anchor="middle" fill="#444" stroke="#444" stroke-width="0.08">n.s.</text>
<line x1="231.8" y1="589.4" x2="240.6" y2="589.4" stroke="#666" stroke-width="0.5"/>
<text x="236.2" y="590" font-size="4.4" text-anchor="middle" fill="#3a3a3a" stroke="#3a3a3a" stroke-width="0.05">***</text>
<line x1="247.73" y1="583.6" x2="252.53" y2="583.6" stroke="#666" stroke-width="0.5"/>
<text x="250.13" y="582.9" font-size="3.9" text-anchor="middle" fill="#444" stroke="#444" stroke-width="0.08">n.s.</text>
<line x1="247.73" y1="589.4" x2="256.53" y2="589.4" stroke="#666" stroke-width="0.5"/>
<text x="252.13" y="590" font-size="4.4" text-anchor="middle" fill="#3a3a3a" stroke="#3a3a3a" stroke-width="0.05">***</text>
<line x1="263.66" y1="583.6" x2="268.46" y2="583.6" stroke="#666" stroke-width="0.5"/>
<text x="266.06" y="582.9" font-size="3.9" text-anchor="middle" fill="#444" stroke="#444" stroke-width="0.08">n.s.</text>
<line x1="263.66" y1="589.4" x2="272.46" y2="589.4" stroke="#666" stroke-width="0.5"/>
<text x="268.06" y="588.8" font-size="3.9" text-anchor="middle" fill="#444" stroke="#444" stroke-width="0.08">n.s.</text>
<line x1="279.59" y1="583.6" x2="284.39" y2="583.6" stroke="#666" stroke-width="0.5"/>
<text x="281.99" y="582.9" font-size="3.9" text-anchor="middle" fill="#444" stroke="#444" stroke-width="0.08">n.s.</text>
<line x1="279.59" y1="589.4" x2="288.39" y2="589.4" stroke="#666" stroke-width="0.5"/>
<text x="283.99" y="588.8" font-size="3.9" text-anchor="middle" fill="#444" stroke="#444" stroke-width="0.08">n.s.</text>
<line x1="295.52" y1="583.6" x2="300.32" y2="583.6" stroke="#666" stroke-width="0.5"/>
<text x="297.92" y="582.9" font-size="3.9" text-anchor="middle" fill="#444" stroke="#444" stroke-width="0.08">n.s.</text>
<line x1="295.52" y1="589.4" x2="304.32" y2="589.4" stroke="#666" stroke-width="0.5"/>
<text x="299.92" y="588.8" font-size="3.9" text-anchor="middle" fill="#444" stroke="#444" stroke-width="0.08">n.s.</text>
<line x1="311.45" y1="583.6" x2="316.25" y2="583.6" stroke="#666" stroke-width="0.5"/>
<text x="313.85" y="582.9" font-size="3.9" text-anchor="middle" fill="#444" stroke="#444" stroke-width="0.08">n.s.</text>
<line x1="311.45" y1="589.4" x2="320.25" y2="589.4" stroke="#666" stroke-width="0.5"/>
<text x="315.85" y="588.8" font-size="3.9" text-anchor="middle" fill="#444" stroke="#444" stroke-width="0.08">n.s.</text>
<line x1="327.38" y1="583.6" x2="332.18" y2="583.6" stroke="#666" stroke-width="0.5"/>
<text x="329.78" y="584.1" font-size="4.4" text-anchor="middle" fill="#3a3a3a" stroke="#3a3a3a" stroke-width="0.05">***</text>
<line x1="327.38" y1="589.4" x2="336.18" y2="589.4" stroke="#666" stroke-width="0.5"/>
<text x="331.78" y="590" font-size="4.4" text-anchor="middle" fill="#3a3a3a" stroke="#3a3a3a" stroke-width="0.05">***</text>
<line x1="343.31" y1="583.6" x2="348.11" y2="583.6" stroke="#666" stroke-width="0.5"/>
<text x="345.71" y="584.1" font-size="4.4" text-anchor="middle" fill="#3a3a3a" stroke="#3a3a3a" stroke-width="0.05">*</text>
<line x1="343.31" y1="589.4" x2="352.11" y2="589.4" stroke="#666" stroke-width="0.5"/>
<text x="347.71" y="590" font-size="4.4" text-anchor="middle" fill="#3a3a3a" stroke="#3a3a3a" stroke-width="0.05">***</text>
<line x1="359.24" y1="583.6" x2="364.04" y2="583.6" stroke="#666" stroke-width="0.5"/>
<text x="361.64" y="584.1" font-size="4.4" text-anchor="middle" fill="#3a3a3a" stroke="#3a3a3a" stroke-width="0.05">***</text>
<line x1="359.24" y1="589.4" x2="368.04" y2="589.4" stroke="#666" stroke-width="0.5"/>
<text x="363.64" y="590" font-size="4.4" text-anchor="middle" fill="#3a3a3a" stroke="#3a3a3a" stroke-width="0.05">***</text>
<line x1="236.2" y1="620.2" x2="236.2" y2="621.3" stroke="#222" stroke-width="0.5"/>
<text x="237.4" y="623.6" font-size="4.2" text-anchor="end" fill="#333" transform="rotate(-45 237.4 623.6)" stroke="#333" stroke-width="0.08">HSC/MPP</text>
<line x1="252.13" y1="620.2" x2="252.13" y2="621.3" stroke="#222" stroke-width="0.5"/>
<text x="253.33" y="623.6" font-size="4.2" text-anchor="end" fill="#333" transform="rotate(-45 253.33 623.6)" stroke="#333" stroke-width="0.08">LMPP</text>
<line x1="268.06" y1="620.2" x2="268.06" y2="621.3" stroke="#222" stroke-width="0.5"/>
<text x="269.26" y="623.6" font-size="4.2" text-anchor="end" fill="#333" transform="rotate(-45 269.26 623.6)" stroke="#333" stroke-width="0.08">MEP</text>
<line x1="283.99" y1="620.2" x2="283.99" y2="621.3" stroke="#222" stroke-width="0.5"/>
<text x="285.19" y="623.6" font-size="4.2" text-anchor="end" fill="#333" transform="rotate(-45 285.19 623.6)" stroke="#333" stroke-width="0.08">MLP</text>
<line x1="299.92" y1="620.2" x2="299.92" y2="621.3" stroke="#222" stroke-width="0.5"/>
<text x="301.12" y="623.6" font-size="4.2" text-anchor="end" fill="#333" transform="rotate(-45 301.12 623.6)" stroke="#333" stroke-width="0.08">EBM</text>
<line x1="315.85" y1="620.2" x2="315.85" y2="621.3" stroke="#222" stroke-width="0.5"/>
<text x="317.05" y="623.6" font-size="4.2" text-anchor="end" fill="#333" transform="rotate(-45 317.05 623.6)" stroke="#333" stroke-width="0.08">Neu1</text>
<line x1="331.78" y1="620.2" x2="331.78" y2="621.3" stroke="#222" stroke-width="0.5"/>
<text x="332.98" y="623.6" font-size="4.2" text-anchor="end" fill="#333" transform="rotate(-45 332.98 623.6)" stroke="#333" stroke-width="0.08">Neu2</text>
<line x1="347.71" y1="620.2" x2="347.71" y2="621.3" stroke="#222" stroke-width="0.5"/>
<text x="348.91" y="623.6" font-size="4.2" text-anchor="end" fill="#333" transform="rotate(-45 348.91 623.6)" stroke="#333" stroke-width="0.08">MD1</text>
<line x1="363.64" y1="620.2" x2="363.64" y2="621.3" stroke="#222" stroke-width="0.5"/>
<text x="364.84" y="623.6" font-size="4.2" text-anchor="end" fill="#333" transform="rotate(-45 364.84 623.6)" stroke="#333" stroke-width="0.08">MD2</text>
<rect x="0.65" y="0.65" width="518.7" height="644.7" fill="none" stroke="#000" stroke-width="1.3"/>
</svg>
</body></html>
